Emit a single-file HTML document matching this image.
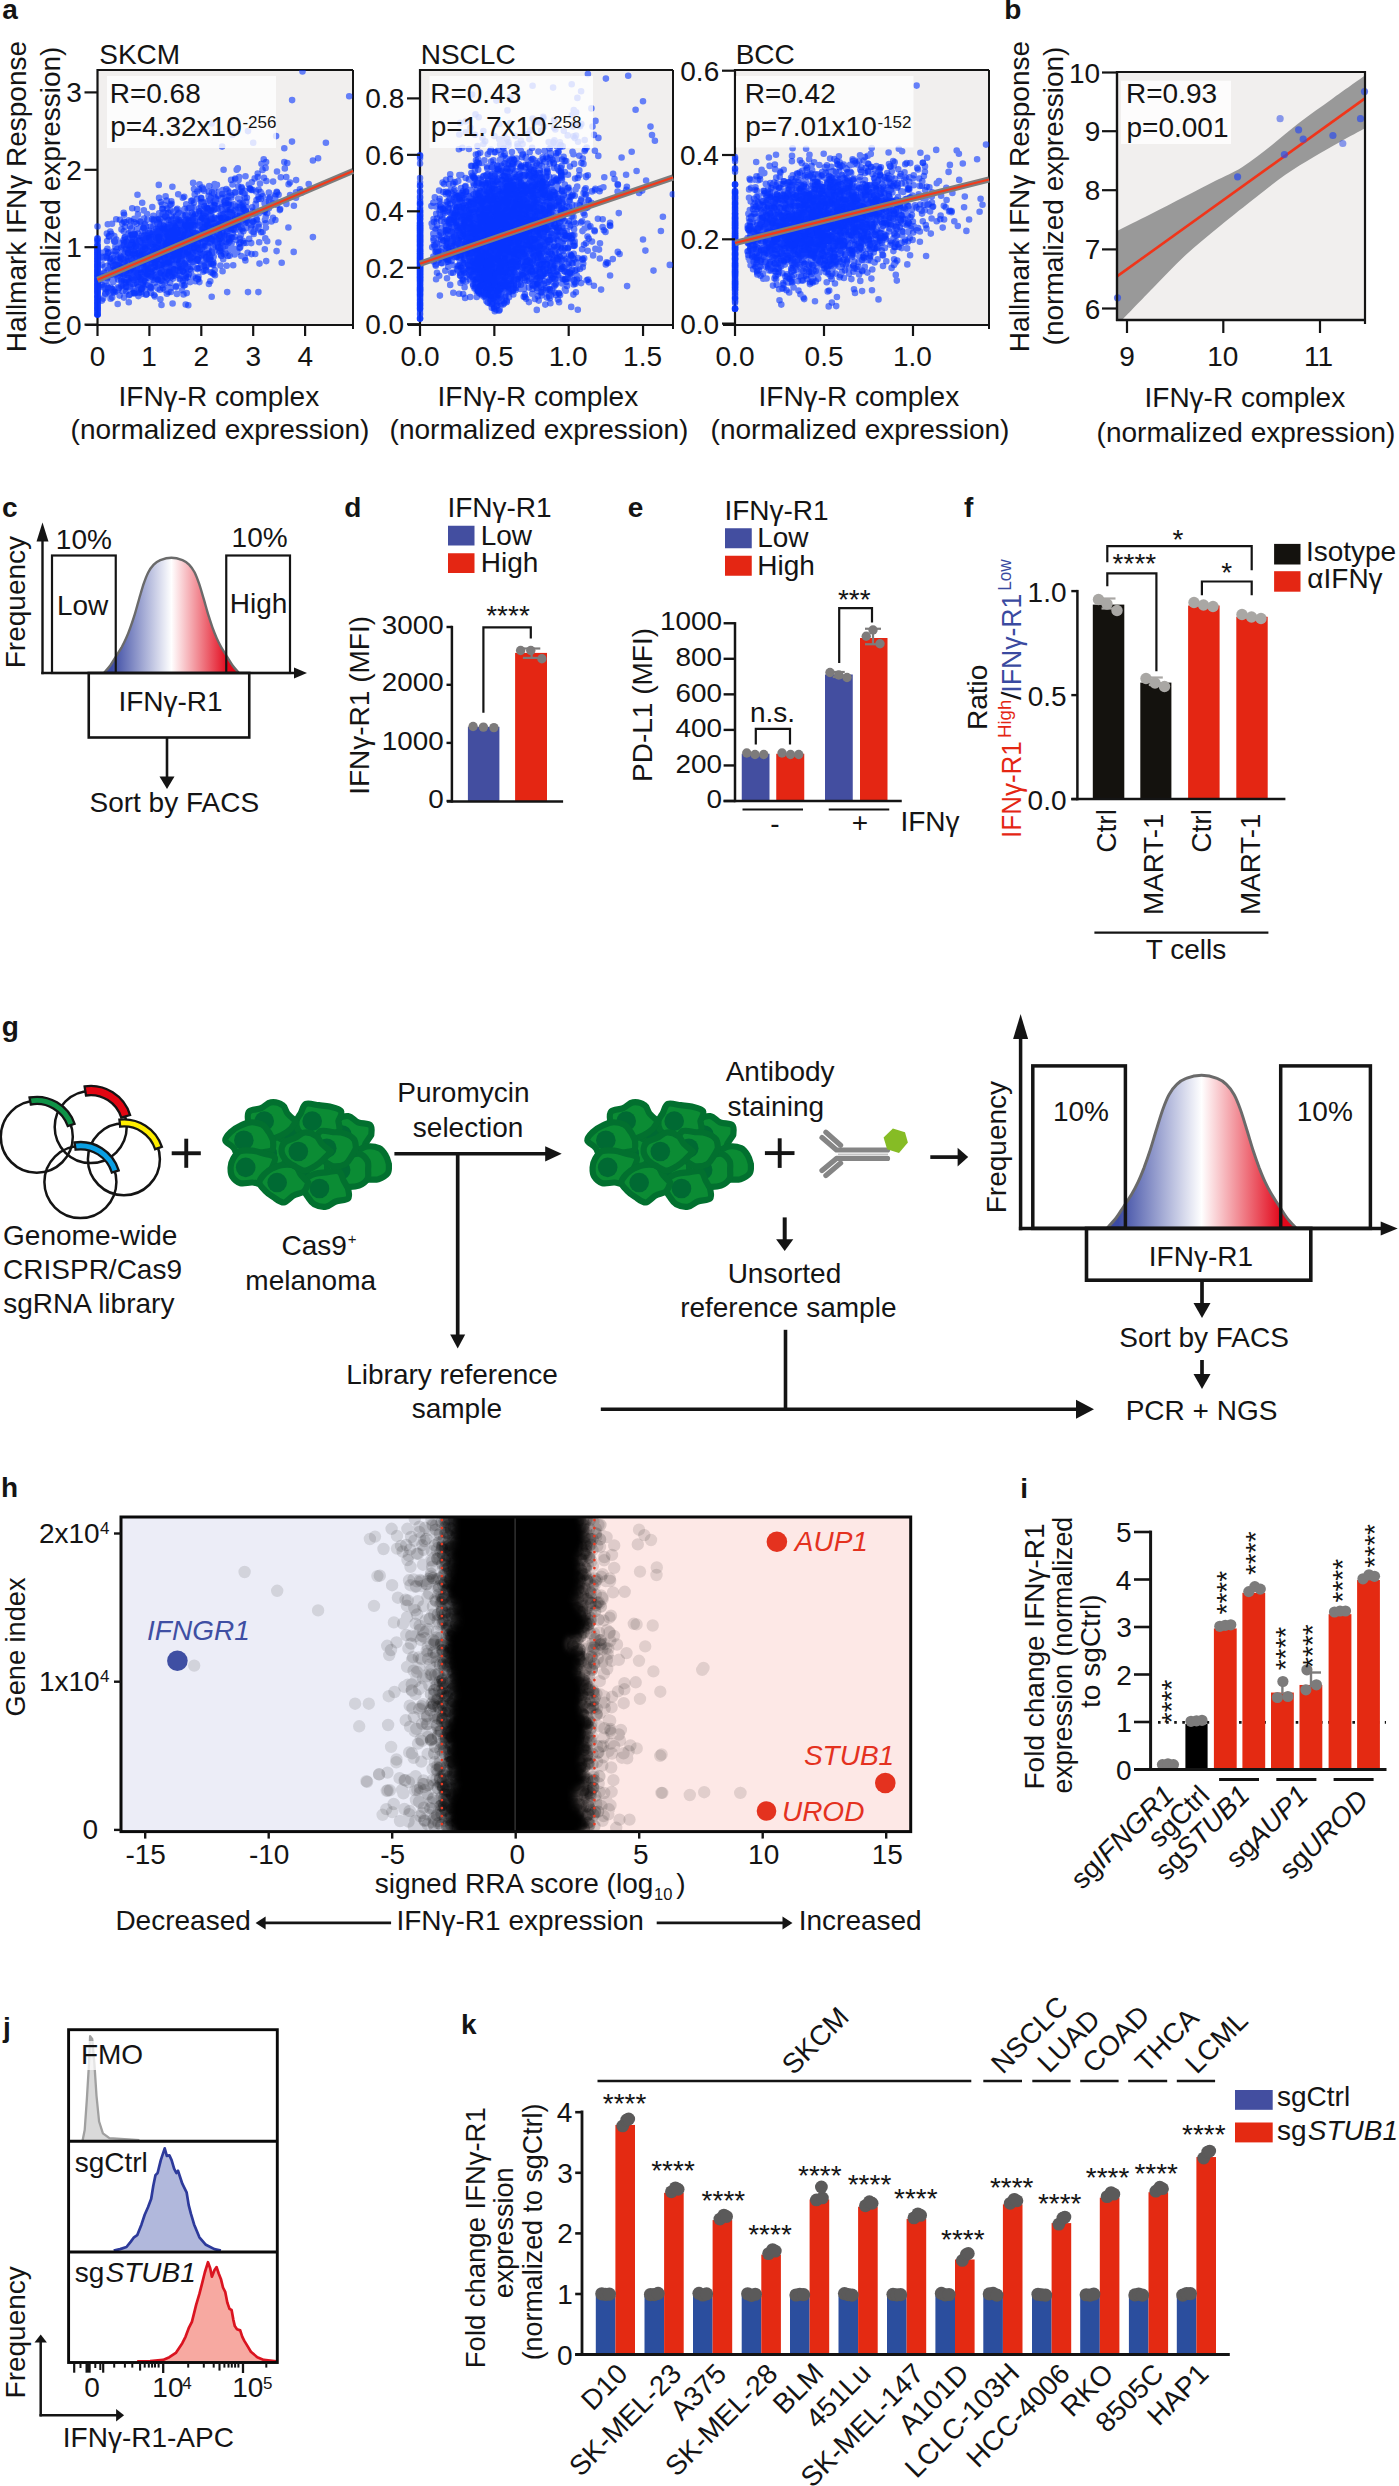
<!DOCTYPE html>
<html><head><meta charset="utf-8"><title>figure</title>
<style>html,body{margin:0;padding:0;background:#fff}svg{display:block}text{font-family:"Liberation Sans",sans-serif}</style>
</head><body>
<svg width="1399" height="2486" viewBox="0 0 1399 2486" font-family="Liberation Sans, sans-serif">
<rect width="1399" height="2486" fill="#fff"/>
<text x="2.18" y="19.00" font-size="28" fill="#141414" font-weight="bold">a</text>
<text transform="translate(25.50,196.00) rotate(-90)" x="-156.13" y="0" font-size="28" fill="#141414">Hallmark IFNγ Response</text>
<text transform="translate(59.50,196.00) rotate(-90)" x="-149.39" y="0" font-size="28" fill="#141414">(normalized expression)</text>
<rect x="97.50" y="70.00" width="255.50" height="255.00" fill="#f1efee"/>
<clipPath id="ca1"><rect x="94.0" y="70" width="260.5" height="255"/></clipPath>
<line x1="97.50" y1="70.00" x2="353.00" y2="70.00" stroke="#141414" stroke-width="2"/>
<line x1="353.00" y1="70.00" x2="353.00" y2="329.00" stroke="#141414" stroke-width="2"/>
<line x1="97.50" y1="69.00" x2="97.50" y2="326.00" stroke="#141414" stroke-width="2.2"/>
<line x1="85.50" y1="325.00" x2="354.00" y2="325.00" stroke="#141414" stroke-width="2.2"/>
<g clip-path="url(#ca1)">
<path d="M175.4 227.4h0M131.1 271.5h0M197.2 247.3h0M154.9 261.7h0M182.3 242.2h0M107.1 256.5h0M139.3 266.0h0M180.3 251.2h0M213.7 256.6h0M178.7 250.3h0M205.1 213.8h0M122.4 247.1h0M116.3 239.6h0M231.5 205.3h0M243.4 220.0h0M166.5 254.8h0M204.5 226.3h0M175.1 230.7h0M135.2 246.4h0M184.5 256.7h0M198.6 257.8h0M186.9 228.6h0M170.1 244.5h0M137.6 262.0h0M239.7 202.8h0M224.4 201.4h0M118.3 264.9h0M144.4 256.6h0M162.0 248.5h0M128.3 255.6h0M147.1 274.2h0M195.6 237.8h0M235.0 218.9h0M152.7 254.2h0M227.9 219.4h0M217.7 219.0h0M212.4 272.7h0M213.8 247.1h0M124.2 274.9h0M186.9 231.0h0M107.8 224.3h0M172.6 258.5h0M135.8 269.0h0M265.7 217.0h0M110.6 262.0h0M162.4 228.1h0M234.9 236.7h0M182.4 248.2h0M200.0 237.8h0M224.2 225.1h0M252.2 207.2h0M186.5 219.1h0M167.4 249.2h0M150.6 247.2h0M205.2 240.7h0M177.8 239.2h0M147.0 253.9h0M125.8 242.7h0M165.5 231.5h0M214.8 223.6h0M148.5 257.4h0M265.3 238.4h0M119.7 286.8h0M243.4 209.2h0M148.9 230.6h0M133.3 252.0h0M184.9 227.0h0M171.6 230.8h0M192.7 218.8h0M158.8 240.4h0M140.6 244.5h0M180.5 265.6h0M154.2 282.4h0M117.3 276.6h0M220.1 230.4h0M221.3 223.8h0M196.1 246.5h0M162.2 208.7h0M146.5 253.8h0M223.2 216.6h0M173.1 254.7h0M117.8 276.4h0M146.3 269.4h0M140.5 292.2h0M168.4 236.2h0M177.7 254.8h0M127.1 267.5h0M142.2 258.1h0M201.4 202.4h0M258.4 197.0h0M177.6 265.8h0M115.8 247.5h0M159.5 257.4h0M127.2 247.1h0M212.0 207.7h0M171.2 277.1h0M258.7 224.2h0M142.2 202.7h0M186.5 274.6h0M150.9 271.8h0M115.4 246.5h0M168.3 274.9h0M150.7 263.9h0M169.0 252.5h0M188.0 234.1h0M194.6 225.5h0M220.4 265.6h0M192.2 224.9h0M158.8 236.9h0M164.6 245.4h0M180.3 278.4h0M223.2 259.2h0M102.2 256.7h0M148.6 262.0h0M148.5 231.8h0M205.8 230.4h0M210.5 230.9h0M168.2 235.8h0M240.9 221.5h0M222.0 242.6h0M107.4 248.8h0M221.3 207.3h0M184.5 242.4h0M178.6 237.1h0M229.4 209.5h0M243.8 243.1h0M138.3 286.7h0M169.0 240.3h0M135.6 256.0h0M159.6 257.9h0M158.5 257.6h0M267.2 241.3h0M205.3 211.2h0M205.9 216.9h0M160.1 280.8h0M160.1 261.6h0M176.4 244.0h0M190.6 226.7h0M172.1 260.3h0M263.7 210.2h0M172.8 246.3h0M171.6 203.8h0M199.1 189.5h0M187.4 229.8h0M152.1 251.0h0M202.4 246.5h0M145.6 236.6h0M146.4 246.7h0M141.6 288.1h0M170.4 232.7h0M230.5 209.0h0M163.8 221.5h0M121.3 267.3h0M146.7 284.3h0M290.1 195.1h0M124.1 214.7h0M154.1 283.0h0M154.6 246.9h0M203.5 231.7h0M185.2 224.7h0M168.3 220.1h0M189.9 259.4h0M180.2 247.1h0M214.1 193.6h0M255.1 212.9h0M155.8 237.7h0M124.4 247.1h0M205.0 237.7h0M278.6 194.8h0M179.9 229.9h0M238.2 205.3h0M176.9 237.3h0M182.0 264.0h0M166.9 234.8h0M126.2 291.4h0M216.9 222.8h0M146.6 294.3h0M178.3 263.3h0M184.9 250.4h0M138.5 270.0h0M132.1 264.3h0M195.7 251.4h0M129.2 251.6h0M134.7 275.3h0M221.0 255.1h0M201.0 205.9h0M179.0 212.8h0M138.5 276.7h0M191.9 246.0h0M194.8 251.3h0M191.9 239.6h0M111.4 274.7h0M204.4 233.6h0M200.7 249.1h0M164.4 248.9h0M214.7 250.7h0M180.7 234.5h0M157.3 250.8h0M213.9 204.8h0M208.8 226.1h0M124.0 221.5h0M170.5 237.8h0M165.2 264.2h0M175.3 264.2h0M146.7 237.4h0M278.4 242.5h0M185.2 238.3h0M208.6 234.6h0M135.4 254.6h0M191.2 254.0h0M127.0 274.3h0M145.1 281.2h0M142.7 238.3h0M141.3 235.7h0M284.8 168.4h0M148.0 285.0h0M179.6 249.6h0M194.9 239.6h0M134.0 253.9h0M176.8 245.1h0M247.6 252.7h0M172.6 257.2h0M185.5 278.4h0M227.7 236.0h0M212.2 250.0h0M135.6 269.4h0M166.9 293.8h0M253.5 232.0h0M233.6 210.4h0M145.2 250.5h0M229.5 255.8h0M169.5 271.8h0M134.0 248.9h0M222.8 221.3h0M184.2 238.5h0M155.2 279.8h0M210.6 232.7h0M147.1 250.0h0M237.1 216.2h0M231.9 237.0h0M201.3 238.5h0M182.7 214.7h0M137.5 194.8h0M170.8 238.2h0M173.9 252.0h0M212.8 259.5h0M203.1 214.1h0M188.2 252.7h0M176.6 220.7h0M207.4 236.7h0M120.2 258.2h0M192.6 213.9h0M118.8 274.6h0M264.9 220.0h0M160.8 250.0h0M189.0 245.0h0M146.6 237.6h0M149.8 261.9h0M125.0 250.3h0M203.3 202.9h0M134.7 254.1h0M121.7 285.0h0M170.5 210.4h0M140.5 246.1h0M116.4 265.6h0M135.3 241.1h0M196.9 257.3h0M188.3 256.3h0M111.9 259.8h0M112.0 223.7h0M213.4 265.1h0M146.1 265.1h0M165.8 244.1h0M185.3 265.5h0M186.9 230.9h0M172.6 303.5h0M209.0 235.9h0M170.9 262.3h0M167.7 262.8h0M156.3 265.0h0M248.8 184.5h0M164.3 246.8h0M251.1 189.9h0M194.0 244.1h0M196.0 252.7h0M159.0 267.2h0M308.7 184.0h0M121.2 242.8h0M180.6 255.2h0M117.9 289.9h0M155.0 257.7h0M180.7 214.8h0M231.8 237.4h0M148.8 235.8h0M208.7 237.2h0M115.6 290.5h0M205.2 241.4h0M208.9 254.9h0M167.4 242.3h0M180.0 238.9h0M235.2 225.0h0M161.7 271.0h0M125.6 283.1h0M181.0 252.4h0M190.1 269.0h0M214.7 184.0h0M183.9 285.4h0M157.1 238.5h0M183.8 233.5h0M202.4 218.2h0M158.1 276.2h0M118.6 243.3h0M149.7 233.4h0M243.3 231.2h0M117.8 287.2h0M197.5 238.8h0M114.2 241.5h0M131.0 277.9h0M153.7 264.0h0M222.3 218.9h0M239.6 247.9h0M210.1 226.2h0M204.3 205.3h0M214.2 222.8h0M147.7 250.3h0M129.7 255.5h0M224.8 218.3h0M113.6 257.8h0M178.7 252.3h0M191.9 212.8h0M181.6 236.4h0M180.2 214.2h0M215.4 240.8h0M216.9 184.9h0M113.0 263.3h0M208.9 258.9h0M106.8 280.6h0M238.3 205.2h0M141.3 254.8h0M275.4 220.0h0M225.7 203.2h0M176.0 215.7h0M163.2 281.2h0M146.3 249.9h0M222.8 233.6h0M220.9 233.9h0M213.1 240.5h0M185.4 250.8h0M219.3 236.1h0M143.5 227.8h0M130.6 238.5h0M202.3 204.3h0M202.1 228.7h0M187.2 238.8h0M164.6 282.9h0M180.9 250.1h0M152.9 261.8h0M264.8 249.2h0M189.8 226.9h0M174.5 236.9h0M160.6 254.1h0M159.9 272.9h0M158.1 237.3h0M197.3 260.8h0M179.8 267.1h0M201.9 248.5h0M126.6 259.8h0M122.7 281.0h0M118.2 272.5h0M203.4 233.6h0M253.3 221.9h0M196.7 257.9h0M118.1 279.6h0M145.4 268.9h0M190.6 235.3h0M153.1 248.4h0M172.2 255.2h0M233.8 229.1h0M251.8 182.2h0M175.4 244.6h0M124.1 261.0h0M182.3 259.5h0M179.9 259.8h0M155.2 282.5h0M197.0 249.6h0M164.0 225.9h0M145.7 281.8h0M178.1 265.2h0M258.9 213.3h0M123.7 255.6h0M222.3 194.1h0M268.9 208.3h0M160.2 269.5h0M221.7 220.9h0M134.5 239.1h0M171.2 239.3h0M188.2 270.2h0M209.4 231.2h0M177.1 235.3h0M178.7 213.7h0M131.3 239.7h0M207.2 221.8h0M226.5 200.8h0M196.2 247.5h0M255.4 228.6h0M158.3 237.9h0M187.5 224.8h0M151.1 288.3h0M135.5 277.8h0M102.8 276.4h0M147.6 257.8h0M214.4 188.5h0M290.0 182.6h0M163.0 288.1h0M190.1 250.8h0M194.0 189.1h0M220.6 230.3h0M139.5 253.1h0M143.2 269.5h0M228.9 240.5h0M222.9 211.2h0M204.2 218.2h0M158.6 248.9h0M104.1 280.8h0M152.3 207.0h0M161.1 252.6h0M175.1 255.5h0M157.4 259.7h0M156.8 267.0h0M183.3 266.4h0M349.2 96.3h0M284.3 162.1h0M248.0 131.1h0M258.4 292.1h0M211.7 296.7h0" stroke="#0634ff" stroke-width="6.6" stroke-linecap="round" fill="none" opacity="0.6"/>
<path d="M188.7 254.6h0M178.0 259.8h0M180.1 240.9h0M117.8 272.1h0M167.0 228.4h0M154.0 248.9h0M173.9 251.6h0M178.2 194.3h0M180.7 234.1h0M201.1 264.5h0M239.6 230.1h0M149.5 243.0h0M139.9 282.3h0M206.1 257.0h0M156.2 242.1h0M125.6 268.3h0M174.3 253.6h0M201.4 225.0h0M182.7 246.8h0M197.4 236.1h0M129.2 260.9h0M137.1 209.1h0M124.9 237.3h0M210.1 258.5h0M172.4 240.4h0M151.1 257.6h0M231.5 237.5h0M160.8 251.0h0M113.8 236.0h0M190.4 229.7h0M208.2 233.0h0M151.3 247.1h0M152.7 266.8h0M203.5 218.1h0M205.7 231.1h0M218.5 208.2h0M216.5 199.4h0M197.4 191.5h0M211.8 251.5h0M177.3 208.9h0M167.9 238.9h0M193.5 222.3h0M184.1 254.0h0M113.2 282.1h0M154.8 241.0h0M226.9 213.5h0M177.5 224.6h0M177.5 250.5h0M185.0 208.7h0M118.6 261.0h0M240.5 242.4h0M172.6 228.9h0M228.4 202.7h0M158.0 280.2h0M180.3 275.7h0M242.8 203.5h0M246.9 197.8h0M172.4 238.4h0M180.2 269.0h0M141.0 258.7h0M183.9 232.2h0M163.8 244.7h0M125.9 248.9h0M186.9 225.0h0M114.9 292.0h0M137.2 256.3h0M188.6 228.7h0M197.8 259.9h0M112.5 258.5h0M145.1 263.9h0M123.1 285.8h0M124.0 280.5h0M198.3 225.6h0M110.9 258.2h0M140.4 251.7h0M184.7 251.2h0M235.5 209.6h0M125.1 289.1h0M182.7 227.6h0M190.4 226.0h0M151.4 276.5h0M173.2 269.5h0M131.7 235.0h0M192.6 262.1h0M202.3 228.8h0M218.1 246.7h0M172.7 259.8h0M124.9 226.8h0M141.6 276.4h0M161.1 249.9h0M260.5 192.1h0M208.7 220.6h0M237.4 251.9h0M162.6 229.5h0M157.4 266.2h0M125.3 287.3h0M169.2 244.3h0M172.7 228.9h0M167.2 263.7h0M185.8 268.6h0M147.8 269.7h0M156.4 237.4h0M179.4 250.9h0M155.7 260.1h0M192.5 237.4h0M184.6 263.4h0M185.8 226.2h0M108.7 236.0h0M187.4 236.5h0M119.1 260.3h0M219.8 239.0h0M193.1 182.9h0M201.3 238.5h0M136.8 240.3h0M174.7 238.0h0M251.3 227.6h0M151.3 237.1h0M173.2 226.1h0M132.2 255.0h0M108.0 287.9h0M221.7 233.4h0M164.6 274.8h0M144.0 257.8h0M159.7 243.8h0M275.3 199.5h0M169.8 225.1h0M101.9 300.6h0M184.8 248.4h0M159.2 252.7h0M165.5 266.4h0M288.4 227.5h0M164.9 243.5h0M152.7 271.0h0M203.8 233.3h0M191.8 221.6h0M229.7 192.6h0M135.5 246.6h0M107.9 270.1h0M151.3 269.0h0M234.3 248.9h0M172.3 240.9h0M158.7 250.6h0M207.0 239.3h0M180.8 229.3h0M241.9 188.3h0M237.6 226.4h0M199.4 234.5h0M191.9 248.3h0M134.3 222.3h0M191.3 236.2h0M194.3 215.7h0M184.6 226.0h0M162.8 264.9h0M200.0 249.7h0M130.4 270.3h0M153.7 269.9h0M110.8 270.1h0M211.0 229.2h0M149.5 246.4h0M227.1 213.6h0M286.3 177.0h0M229.4 212.0h0M234.1 225.0h0M268.9 192.5h0M134.0 280.3h0M189.1 221.5h0M174.4 260.2h0M127.6 279.7h0M265.6 167.9h0M244.4 207.2h0M183.7 234.1h0M197.1 198.8h0M178.4 241.3h0M228.4 218.8h0M231.6 243.6h0M228.6 247.3h0M191.2 235.8h0M176.7 274.8h0M214.9 202.9h0M211.4 212.9h0M205.0 233.9h0M204.5 206.4h0M218.1 226.4h0M134.6 234.4h0M169.0 270.8h0M222.6 219.1h0M135.2 255.3h0M191.4 261.5h0M254.7 178.4h0M178.1 252.7h0M142.9 262.5h0M127.8 262.8h0M114.1 291.9h0M253.7 233.9h0M212.5 231.3h0M159.7 253.6h0M284.3 148.3h0M220.2 251.1h0M158.7 230.7h0M147.2 265.2h0M214.1 236.6h0M103.9 273.6h0M182.8 230.5h0M143.5 245.6h0M210.7 272.2h0M110.1 293.6h0M166.1 260.1h0M157.6 232.7h0M167.3 208.5h0M178.0 213.1h0M235.2 178.5h0M182.5 255.4h0M173.6 252.7h0M254.7 212.1h0M233.2 265.2h0M128.1 264.8h0M279.8 210.1h0M222.1 197.7h0M199.3 211.9h0M197.8 244.0h0M160.3 235.1h0M175.1 236.8h0M203.9 223.6h0M226.1 216.1h0M114.4 270.7h0M174.4 252.6h0M138.3 254.6h0M173.9 229.5h0M185.5 243.7h0M160.3 225.2h0M228.3 200.0h0M189.4 237.3h0M239.8 212.8h0M190.6 243.9h0M228.6 242.7h0M120.3 275.1h0M153.6 260.6h0M190.1 223.2h0M173.0 231.8h0M190.0 244.1h0M237.8 168.3h0M109.0 276.4h0M230.3 220.1h0M166.4 232.5h0M247.2 220.4h0M172.8 244.9h0M183.5 294.4h0M186.9 237.1h0M165.5 276.9h0M231.8 214.0h0M165.9 262.9h0M141.4 240.2h0M153.5 252.2h0M108.5 292.2h0M251.6 231.1h0M114.1 239.7h0M203.1 189.1h0M162.7 256.0h0M218.1 236.8h0M143.4 246.0h0M240.9 235.1h0M167.4 271.8h0M261.5 193.9h0M160.3 219.1h0M180.6 221.6h0M124.0 289.1h0M143.4 240.7h0M187.8 238.2h0M168.9 264.3h0M139.1 292.9h0M159.8 239.7h0M293.7 251.9h0M179.9 272.0h0M228.9 230.7h0M119.4 260.9h0M128.7 278.1h0M204.5 246.4h0M221.2 213.7h0M137.1 253.6h0M208.5 234.3h0M198.0 242.0h0M207.4 230.1h0M194.1 248.0h0M144.5 254.6h0M110.6 298.7h0M171.3 241.7h0M220.9 234.7h0M182.8 197.7h0M155.0 256.9h0M206.0 269.2h0M245.9 210.4h0M246.1 206.8h0M218.5 228.8h0M264.0 177.7h0M204.8 225.7h0M212.0 219.1h0M176.3 254.8h0M194.1 202.6h0M162.4 285.0h0M123.2 291.0h0M143.6 246.5h0M185.5 278.4h0M136.2 243.1h0M193.7 241.6h0M146.2 238.0h0M137.9 259.5h0M128.7 264.1h0M151.7 271.9h0M267.2 213.3h0M110.9 277.3h0M155.8 233.7h0M133.8 262.9h0M138.1 262.7h0M213.0 210.2h0M157.1 259.5h0M112.0 288.8h0M130.4 262.8h0M140.0 256.2h0M140.4 281.2h0M181.3 246.5h0M182.7 240.9h0M204.3 265.4h0M141.3 248.9h0M206.2 231.7h0M275.4 196.0h0M228.5 227.0h0M212.0 253.5h0M112.1 259.3h0M146.8 254.9h0M236.7 169.8h0M126.1 286.4h0M226.7 265.7h0M195.7 240.8h0M127.8 252.5h0M116.2 254.6h0M122.6 291.2h0M257.7 173.5h0M155.0 236.5h0M159.2 218.8h0M191.5 225.9h0M229.2 225.1h0M131.7 254.4h0M189.1 220.8h0M114.3 236.0h0M221.4 215.8h0M189.2 238.0h0M207.3 207.8h0M219.5 225.7h0M171.3 273.1h0M161.2 240.7h0M191.1 257.1h0M188.9 246.4h0M199.5 184.3h0M220.7 223.8h0M172.6 235.8h0M168.5 226.0h0M173.0 278.6h0M234.7 254.4h0M171.5 247.2h0M269.1 202.2h0M172.8 258.7h0M181.5 254.3h0M199.0 217.0h0M132.9 293.1h0M168.1 267.9h0M188.2 266.5h0M140.5 221.7h0M146.9 274.9h0M121.3 267.2h0M211.6 227.7h0M204.4 270.4h0M257.0 220.0h0M186.5 231.6h0M180.4 231.3h0M168.0 237.6h0M113.8 280.6h0M207.4 259.2h0M224.5 229.4h0M188.6 227.1h0M194.2 233.2h0M114.9 241.6h0M154.1 243.2h0M128.9 295.3h0M249.8 188.3h0M240.4 218.9h0M113.8 264.8h0M175.6 237.4h0M180.3 238.0h0M115.5 264.7h0M221.9 236.1h0M190.3 223.2h0M142.8 284.5h0M174.8 246.7h0M198.5 276.7h0M229.5 250.0h0M141.2 246.2h0M219.6 215.7h0M182.2 210.6h0M110.4 265.4h0M164.1 252.8h0M245.5 176.3h0M133.5 257.2h0M117.7 276.3h0M243.1 216.4h0M232.6 229.6h0M144.7 243.5h0M164.3 255.6h0M175.6 233.8h0M182.5 237.6h0M112.2 254.9h0M179.4 252.5h0M129.6 247.3h0M130.9 244.8h0M165.0 257.9h0M149.5 274.1h0M206.3 226.0h0M170.1 228.9h0M169.5 228.3h0M259.5 263.6h0M269.2 198.9h0M134.7 279.5h0M208.8 264.5h0M141.1 272.8h0M240.2 191.7h0M171.9 245.8h0M127.9 258.8h0M161.9 246.6h0M208.8 191.7h0M183.0 249.4h0M234.9 192.5h0M292.1 100.1h0M299.9 189.2h0M253.2 142.7h0M281.7 262.7h0M227.2 292.1h0" stroke="#0634ff" stroke-width="6.6" stroke-linecap="round" fill="none" opacity="0.6"/>
<path d="M163.1 226.5h0M235.2 215.5h0M174.0 240.3h0M164.9 261.6h0M151.3 253.6h0M131.7 277.5h0M214.8 197.4h0M120.7 259.8h0M146.7 248.8h0M166.9 229.6h0M145.2 275.9h0M166.6 236.3h0M204.2 242.2h0M160.7 247.4h0M161.8 258.9h0M174.8 254.3h0M205.2 263.4h0M117.7 304.0h0M275.5 194.3h0M167.5 236.0h0M171.8 239.1h0M218.7 232.8h0M191.5 243.3h0M181.2 247.1h0M163.1 225.2h0M173.1 240.4h0M168.5 291.9h0M150.3 290.6h0M139.3 220.9h0M238.2 198.6h0M174.3 275.8h0M169.0 287.2h0M188.4 219.8h0M161.9 260.5h0M192.4 226.7h0M169.1 245.1h0M155.0 251.2h0M214.3 217.9h0M174.8 243.7h0M164.4 289.6h0M132.0 267.2h0M131.2 274.3h0M140.4 252.6h0M215.0 226.6h0M208.5 253.5h0M174.4 244.9h0M123.0 251.9h0M173.0 243.3h0M128.8 233.2h0M169.2 229.0h0M154.7 226.3h0M179.1 226.5h0M190.3 254.1h0M245.4 219.0h0M185.0 264.1h0M200.2 221.0h0M198.0 248.8h0M214.3 241.1h0M104.2 272.6h0M201.1 242.6h0M175.3 239.0h0M166.3 239.2h0M232.5 238.4h0M200.1 222.6h0M177.2 273.3h0M152.8 250.9h0M162.0 242.6h0M258.9 198.8h0M213.5 262.6h0M203.8 215.8h0M172.8 259.4h0M225.0 228.2h0M169.5 246.1h0M210.8 260.1h0M183.2 280.8h0M121.2 247.9h0M202.0 254.4h0M288.6 184.2h0M158.3 227.3h0M128.8 302.3h0M138.4 296.1h0M214.8 239.2h0M213.4 219.0h0M165.2 259.3h0M173.2 241.2h0M134.9 275.7h0M224.7 213.5h0M192.3 251.9h0M194.7 194.4h0M186.2 244.0h0M129.0 249.8h0M212.0 192.4h0M198.9 211.3h0M108.1 252.7h0M136.5 277.1h0M172.4 249.0h0M141.1 279.6h0M128.8 282.1h0M142.9 274.1h0M175.2 269.6h0M162.2 228.2h0M158.7 222.6h0M121.6 281.6h0M200.0 222.8h0M146.2 226.3h0M107.8 287.0h0M105.8 291.8h0M117.5 261.9h0M253.4 221.5h0M144.4 268.7h0M140.9 226.9h0M161.5 305.0h0M172.9 238.4h0M160.4 258.9h0M209.1 262.3h0M226.0 203.2h0M173.6 257.0h0M184.2 196.7h0M167.0 249.0h0M134.5 233.5h0M197.4 241.4h0M224.3 236.1h0M205.5 267.3h0M216.2 227.9h0M264.6 211.1h0M131.8 252.6h0M111.2 233.8h0M203.0 271.8h0M129.6 269.5h0M206.6 257.5h0M218.0 236.9h0M159.0 239.3h0M261.2 232.3h0M166.7 229.0h0M142.3 288.1h0M186.7 293.1h0M121.5 229.4h0M188.6 225.4h0M148.0 259.4h0M206.9 208.4h0M162.4 246.8h0M277.1 192.6h0M125.6 222.4h0M244.7 190.7h0M145.4 278.6h0M105.1 294.7h0M134.3 218.8h0M246.2 218.1h0M121.0 273.2h0M180.1 266.8h0M192.8 214.4h0M114.7 268.5h0M171.3 201.2h0M143.0 243.5h0M154.6 276.9h0M174.0 248.3h0M156.9 245.5h0M200.2 239.7h0M123.2 273.8h0M154.0 220.6h0M209.6 243.1h0M153.5 232.7h0M189.5 253.7h0M209.8 219.0h0M170.4 227.0h0M162.9 245.3h0M214.5 218.0h0M183.5 271.8h0M165.6 196.4h0M116.5 259.8h0M145.3 231.4h0M152.1 244.0h0M221.6 219.8h0M113.4 291.1h0M171.0 247.0h0M156.3 266.7h0M173.9 231.9h0M150.1 268.9h0M229.0 228.9h0M161.1 267.1h0M210.6 238.5h0M171.9 216.5h0M165.1 216.6h0M105.4 276.1h0M222.1 237.8h0M160.1 273.0h0M221.2 215.2h0M192.8 229.7h0M218.2 246.8h0M177.6 232.8h0M143.4 265.6h0M132.2 242.2h0M188.7 256.6h0M184.0 236.2h0M173.4 223.3h0M140.0 242.1h0M226.5 241.9h0M138.7 251.9h0M125.5 257.5h0M196.8 233.7h0M227.0 214.6h0M241.0 221.7h0M187.5 237.0h0M181.3 247.1h0M190.9 231.5h0M188.8 274.3h0M151.2 292.9h0M155.7 260.8h0M221.9 217.6h0M169.7 270.6h0M176.9 293.9h0M143.3 249.4h0M222.6 271.3h0M189.6 246.7h0M181.6 261.9h0M177.7 246.2h0M137.4 254.0h0M153.5 246.3h0M177.4 233.4h0M148.9 237.6h0M185.1 223.9h0M171.7 237.7h0M215.4 226.6h0M237.4 226.8h0M184.7 239.8h0M215.0 275.2h0M193.3 224.9h0M136.9 267.7h0M204.5 233.2h0M188.1 217.1h0M236.1 206.3h0M158.2 250.0h0M205.1 254.1h0M145.2 272.2h0M153.7 267.1h0M186.0 215.2h0M134.2 291.5h0M171.2 231.9h0M169.7 237.7h0M148.6 276.0h0M194.0 244.1h0M122.7 254.3h0M201.5 245.1h0M179.2 240.3h0M186.9 252.0h0M209.9 227.6h0M141.6 294.0h0M112.3 289.3h0M103.1 298.6h0M199.5 260.9h0M187.8 228.8h0M117.8 258.5h0M102.4 287.1h0M145.0 227.3h0M160.2 230.6h0M131.4 271.5h0M200.9 197.9h0M208.9 284.0h0M230.4 209.7h0M301.6 192.6h0M246.3 228.1h0M179.5 220.5h0M233.3 204.0h0M216.0 198.5h0M248.2 213.6h0M120.2 257.5h0M206.8 264.9h0M202.5 243.4h0M132.6 284.0h0M133.2 247.2h0M240.7 227.2h0M245.8 210.7h0M109.1 236.8h0M178.9 254.8h0M234.6 230.3h0M159.8 252.7h0M149.6 241.8h0M293.9 205.8h0M134.9 254.2h0M157.5 279.5h0M255.2 254.0h0M296.1 180.1h0M209.5 240.2h0M147.2 245.5h0M265.8 202.0h0M200.4 222.6h0M192.2 236.8h0M242.4 191.4h0M246.3 201.9h0M170.5 268.1h0M124.1 242.3h0M190.2 238.5h0M175.4 232.1h0M175.7 228.6h0M169.1 253.9h0M153.4 215.7h0M273.0 217.9h0M136.1 282.7h0M155.2 245.8h0M204.4 242.6h0M151.9 269.2h0M223.5 215.9h0M136.9 275.5h0M142.0 276.5h0M172.4 273.9h0M165.8 243.8h0M138.0 214.4h0M150.2 255.1h0M184.9 234.2h0M172.3 231.2h0M164.0 272.0h0M188.3 241.5h0M172.7 275.3h0M155.1 245.9h0M160.8 202.0h0M145.9 285.1h0M174.8 223.2h0M134.3 246.6h0M190.5 242.0h0M230.2 210.4h0M179.2 261.1h0M190.9 244.6h0M179.4 243.6h0M164.8 252.6h0M138.3 272.0h0M252.3 220.9h0M227.0 220.5h0M219.1 224.0h0M211.0 210.8h0M153.3 226.2h0M158.4 236.8h0M207.0 225.3h0M221.3 203.7h0M221.1 225.8h0M123.7 212.9h0M127.8 272.9h0M136.9 229.3h0M220.3 248.2h0M260.0 183.5h0M138.9 278.5h0M149.8 286.3h0M200.7 220.0h0M120.5 273.2h0M191.4 237.1h0M245.0 223.7h0M225.5 253.4h0M197.8 278.8h0M152.5 256.2h0M164.3 275.6h0M271.5 221.5h0M205.3 216.2h0M129.7 294.6h0M155.8 275.0h0M238.3 186.4h0M171.5 256.1h0M163.0 253.8h0M150.1 234.9h0M195.4 281.3h0M188.9 236.4h0M206.3 239.8h0M216.6 237.5h0M170.8 288.0h0M243.0 206.5h0M168.8 271.0h0M191.9 233.8h0M168.5 258.4h0M244.4 227.9h0M153.1 277.5h0M216.2 201.2h0M160.3 236.6h0M126.1 266.9h0M236.6 240.1h0M182.1 266.2h0M119.3 265.7h0M135.7 246.5h0M140.3 252.6h0M158.5 254.1h0M185.9 226.0h0M231.0 216.6h0M107.1 285.7h0M191.0 231.7h0M269.7 197.5h0M141.4 289.7h0M213.7 201.8h0M174.5 232.5h0M160.0 245.6h0M159.3 248.5h0M176.3 286.1h0M244.9 193.4h0M252.6 189.9h0M264.6 203.6h0M169.7 262.5h0M201.8 260.2h0M162.1 258.7h0M113.5 261.3h0M165.2 262.4h0M150.5 257.8h0M156.8 232.1h0M223.0 217.2h0M191.0 260.0h0M133.8 283.5h0M144.0 218.6h0M196.2 244.9h0M197.1 259.0h0M163.7 271.6h0M197.4 268.3h0M143.7 258.7h0M167.4 278.5h0M258.6 189.6h0M207.8 224.7h0M237.9 207.4h0M124.8 237.2h0M217.8 243.4h0M144.5 225.2h0M182.0 290.2h0M241.3 256.0h0M139.1 240.7h0M168.3 212.9h0M121.4 285.9h0M190.2 282.1h0M240.2 199.4h0M244.7 257.7h0M179.9 250.2h0M262.9 196.2h0M188.0 229.8h0M192.6 254.4h0M181.0 269.8h0M204.2 232.0h0M155.2 264.1h0M219.8 238.9h0M325.9 142.7h0M312.9 237.1h0M211.7 123.4h0M266.2 261.1h0M248.0 292.1h0" stroke="#0634ff" stroke-width="6.6" stroke-linecap="round" fill="none" opacity="0.6"/>
<path d="M135.6 266.3h0M153.4 250.5h0M206.4 208.0h0M118.8 288.2h0M173.2 249.4h0M139.2 276.5h0M149.3 233.1h0M178.7 232.0h0M264.6 212.0h0M205.8 207.8h0M154.7 266.1h0M215.5 223.4h0M154.7 219.7h0M158.9 256.8h0M191.1 220.3h0M155.6 236.2h0M160.2 232.3h0M190.8 258.1h0M138.2 269.6h0M166.2 247.8h0M176.9 249.6h0M184.0 234.2h0M213.1 233.4h0M106.8 257.7h0M168.2 226.5h0M139.9 256.1h0M218.5 240.7h0M175.7 230.3h0M249.2 238.9h0M110.5 287.5h0M178.5 265.5h0M125.9 282.3h0M173.8 246.7h0M168.6 224.2h0M150.2 234.3h0M199.5 208.4h0M243.0 240.8h0M259.2 242.2h0M212.8 236.3h0M177.1 219.6h0M102.0 252.8h0M146.0 294.8h0M191.2 270.8h0M171.4 223.0h0M171.7 241.6h0M144.5 255.5h0M133.4 275.1h0M177.1 259.9h0M198.2 240.6h0M175.0 238.9h0M209.8 238.9h0M127.3 244.7h0M175.1 252.4h0M218.4 243.8h0M164.1 212.5h0M172.7 271.7h0M178.4 268.0h0M157.8 243.8h0M164.8 252.7h0M243.4 207.7h0M131.0 241.1h0M128.7 220.2h0M134.9 293.2h0M262.5 169.9h0M241.4 187.0h0M188.4 253.8h0M173.6 223.7h0M201.8 187.8h0M206.9 221.0h0M276.1 136.1h0M167.5 270.5h0M222.8 245.7h0M158.0 230.7h0M166.8 200.6h0M192.9 253.8h0M133.8 284.3h0M235.3 179.6h0M167.5 273.4h0M219.3 243.0h0M153.0 220.4h0M161.8 279.2h0M107.1 241.0h0M152.2 253.8h0M141.7 263.8h0M126.9 286.6h0M173.6 251.4h0M107.3 278.3h0M139.3 235.7h0M132.0 260.8h0M174.0 218.5h0M105.8 251.4h0M132.4 289.3h0M127.3 275.1h0M131.7 279.9h0M157.8 219.6h0M173.6 232.7h0M172.4 247.1h0M202.4 254.3h0M133.0 244.3h0M114.5 272.1h0M179.4 243.2h0M131.8 259.0h0M185.9 220.0h0M195.9 253.6h0M163.8 228.3h0M199.4 282.1h0M217.4 247.6h0M147.0 238.4h0M246.5 216.7h0M194.3 252.4h0M208.0 245.6h0M191.5 207.9h0M189.1 257.9h0M215.4 224.4h0M169.8 263.5h0M189.3 253.7h0M215.8 238.3h0M235.3 192.4h0M166.5 217.9h0M190.4 232.0h0M197.4 245.2h0M134.7 277.7h0M187.0 241.8h0M147.1 214.0h0M178.2 223.4h0M180.6 222.5h0M205.1 227.0h0M160.4 299.2h0M225.9 217.5h0M104.1 286.6h0M170.4 204.7h0M229.4 212.2h0M251.7 225.3h0M194.7 235.0h0M160.6 257.5h0M225.0 205.3h0M152.9 279.3h0M170.5 255.8h0M174.0 270.0h0M145.2 273.4h0M179.5 255.2h0M172.2 268.3h0M166.1 237.6h0M145.1 248.6h0M151.7 268.2h0M208.8 236.2h0M158.8 184.9h0M166.4 244.9h0M194.8 221.5h0M203.5 213.1h0M193.6 237.6h0M248.3 223.1h0M143.3 253.7h0M173.6 229.7h0M137.9 233.5h0M131.7 244.9h0M182.0 244.1h0M171.8 234.8h0M139.5 289.7h0M217.2 225.9h0M153.0 258.2h0M162.9 208.8h0M211.6 220.7h0M186.7 244.7h0M195.9 236.8h0M180.7 238.2h0M132.2 208.2h0M128.0 240.0h0M208.4 249.5h0M222.5 225.4h0M187.7 220.8h0M215.5 245.8h0M154.9 296.5h0M228.5 195.7h0M117.3 248.8h0M193.5 256.0h0M151.4 258.1h0M156.3 228.7h0M201.6 202.0h0M258.2 229.4h0M208.2 200.8h0M221.2 218.3h0M135.7 290.4h0M174.2 223.8h0M176.2 266.0h0M164.5 252.0h0M157.5 260.8h0M156.6 250.8h0M145.8 276.7h0M162.6 214.0h0M165.6 228.0h0M246.4 214.9h0M161.1 273.0h0M180.9 231.5h0M253.1 210.5h0M163.5 272.3h0M125.9 266.9h0M144.5 255.7h0M106.2 267.7h0M258.7 226.8h0M142.0 263.9h0M125.9 286.8h0M165.8 226.0h0M185.2 236.6h0M145.0 289.1h0M287.3 163.0h0M165.9 256.0h0M121.7 267.5h0M191.7 233.9h0M161.6 269.9h0M141.9 251.5h0M226.3 189.1h0M204.3 202.2h0M175.5 254.3h0M191.2 200.9h0M133.1 264.8h0M169.9 264.2h0M138.7 262.7h0M130.0 226.5h0M164.2 238.8h0M158.6 279.0h0M168.8 260.1h0M153.2 235.1h0M168.8 234.9h0M151.7 261.4h0M219.5 228.8h0M164.3 265.0h0M110.3 231.6h0M231.6 212.5h0M203.9 266.0h0M204.9 217.6h0M216.0 245.5h0M185.1 285.0h0M155.0 238.5h0M124.7 262.9h0M194.3 232.8h0M183.3 253.6h0M301.4 191.6h0M207.6 220.9h0M151.4 234.0h0M222.7 248.6h0M111.2 270.0h0M251.9 222.7h0M183.2 271.6h0M134.9 277.3h0M224.8 237.0h0M185.2 249.8h0M239.2 177.1h0M214.8 205.5h0M131.4 247.3h0M214.8 242.9h0M178.1 230.4h0M183.5 227.6h0M216.1 246.1h0M123.7 231.2h0M199.2 267.8h0M161.4 255.8h0M245.9 211.2h0M219.2 252.0h0M207.0 211.6h0M244.7 213.5h0M131.1 258.5h0M173.3 265.0h0M119.9 219.8h0M141.8 260.4h0M240.3 247.1h0M160.4 260.4h0M157.3 246.1h0M179.9 242.8h0M208.7 210.0h0M107.8 265.5h0M129.3 283.9h0M144.9 235.1h0M280.2 209.1h0M133.3 235.6h0M152.4 234.4h0M134.9 271.4h0M213.0 264.1h0M130.6 238.6h0M166.5 213.4h0M210.9 197.7h0M120.7 256.9h0M232.5 184.4h0M168.8 249.3h0M228.2 205.3h0M194.2 247.6h0M170.2 283.0h0M166.3 234.3h0M133.8 279.0h0M175.1 273.8h0M126.7 239.1h0M134.9 252.8h0M177.6 251.7h0M123.4 240.3h0M144.7 268.5h0M192.6 235.9h0M206.0 234.9h0M178.7 248.4h0M159.1 197.9h0M119.6 295.6h0M224.6 234.5h0M137.4 270.2h0M189.2 207.8h0M181.3 238.1h0M133.5 280.7h0M226.1 237.5h0M152.0 262.8h0M168.0 227.9h0M240.0 216.3h0M164.5 233.6h0M165.2 258.8h0M181.8 253.6h0M228.1 239.1h0M210.3 223.9h0M152.4 280.0h0M156.9 241.5h0M201.7 255.4h0M195.4 213.9h0M221.4 256.0h0M230.9 227.9h0M134.2 271.8h0M187.7 229.7h0M205.3 252.0h0M211.4 216.4h0M143.8 279.9h0M143.9 210.4h0M136.6 223.6h0M145.4 237.5h0M255.7 203.9h0M140.8 266.2h0M141.6 270.2h0M105.6 289.1h0M150.8 287.2h0M143.0 283.2h0M159.3 236.4h0M205.6 245.8h0M186.4 224.0h0M142.2 251.6h0M189.5 256.2h0M208.1 211.6h0M147.3 219.7h0M156.0 245.9h0M201.6 236.6h0M132.3 278.1h0M162.1 236.5h0M175.8 238.3h0M193.1 276.2h0M252.8 213.4h0M266.1 162.1h0M184.6 240.9h0M255.8 205.5h0M174.5 236.9h0M115.6 251.3h0M152.1 274.4h0M175.3 236.1h0M190.6 225.3h0M170.1 243.5h0M173.0 264.3h0M189.0 223.1h0M130.6 235.3h0M231.4 197.5h0M159.8 289.7h0M170.2 231.7h0M128.9 246.1h0M164.3 256.7h0M219.3 225.5h0M238.7 217.3h0M104.6 266.8h0M144.9 240.0h0M177.3 249.2h0M175.5 257.9h0M151.3 278.1h0M296.0 192.4h0M136.6 265.8h0M210.5 232.3h0M204.4 210.3h0M186.1 243.9h0M128.7 269.0h0M148.2 277.7h0M217.3 228.3h0M146.1 293.0h0M181.5 255.8h0M192.6 256.6h0M211.2 234.5h0M258.2 210.6h0M198.5 237.4h0M142.4 278.0h0M146.0 275.0h0M202.1 217.8h0M133.7 273.9h0M149.9 241.1h0M169.1 220.2h0M246.2 215.2h0M178.8 233.9h0M227.6 237.5h0M196.5 233.2h0M185.8 275.6h0M227.2 207.4h0M286.4 203.9h0M204.1 190.8h0M187.7 234.8h0M154.7 242.5h0M202.6 187.6h0M213.6 274.1h0M162.8 273.9h0M109.6 274.5h0M140.2 262.9h0M112.2 297.6h0M203.2 229.1h0M141.2 280.2h0M144.8 236.0h0M113.4 270.2h0M186.6 247.0h0M261.5 163.7h0M214.5 209.4h0M277.0 171.5h0M149.1 269.9h0M179.4 249.5h0M128.5 244.8h0M143.3 265.6h0M238.6 180.0h0M128.4 253.1h0M165.8 233.0h0M204.4 219.4h0M131.2 276.8h0M163.6 214.6h0M167.7 237.2h0M232.8 215.7h0M152.4 239.5h0M149.7 267.6h0M312.9 160.5h0M222.1 146.6h0M188.3 305.2h0M276.6 251.1h0" stroke="#0634ff" stroke-width="6.6" stroke-linecap="round" fill="none" opacity="0.6"/>
<path d="M155.1 270.3h0M147.7 255.9h0M115.4 264.6h0M187.5 214.8h0M180.4 233.0h0M222.7 190.0h0M170.4 235.8h0M236.0 222.7h0M209.4 255.0h0M172.4 186.8h0M181.0 246.2h0M226.5 209.3h0M171.0 219.5h0M164.2 247.9h0M170.0 242.1h0M227.4 228.5h0M222.3 247.2h0M161.8 275.4h0M147.5 250.3h0M206.7 241.2h0M128.3 281.0h0M179.3 235.3h0M209.1 242.3h0M231.1 179.9h0M131.8 228.4h0M147.4 250.4h0M175.9 287.1h0M158.6 233.8h0M145.4 235.8h0M166.0 261.2h0M141.8 247.0h0M121.1 279.5h0M155.7 252.9h0M176.3 234.8h0M113.7 251.2h0M210.2 230.6h0M119.7 272.6h0M241.6 205.3h0M102.0 284.7h0M136.9 273.1h0M197.9 224.3h0M130.8 221.2h0M190.5 266.8h0M174.7 255.1h0M179.0 263.1h0M151.7 257.4h0M225.8 199.1h0M211.3 238.9h0M144.8 224.1h0M116.2 219.3h0M192.3 244.1h0M163.3 214.5h0M243.6 193.8h0M216.3 218.4h0M166.3 280.5h0M149.5 262.6h0M159.9 230.4h0M165.2 246.9h0M137.2 284.3h0M161.4 280.6h0M195.9 261.3h0M189.6 225.9h0M223.6 169.7h0M166.6 242.6h0M218.2 195.8h0M166.2 216.5h0M184.6 230.4h0M177.8 254.7h0M168.7 272.5h0M185.0 224.5h0M124.0 277.8h0M223.8 254.1h0M160.2 229.4h0M185.0 215.7h0M158.5 236.3h0M211.3 223.7h0M158.2 264.4h0M246.2 243.0h0M119.5 265.8h0M154.9 241.8h0M129.5 252.9h0M175.5 251.7h0M242.2 229.3h0M201.6 226.3h0M170.8 292.0h0M204.4 255.8h0M126.8 286.9h0M143.1 229.6h0M121.2 273.1h0M182.5 257.0h0M130.2 286.5h0M113.3 266.6h0M221.8 240.3h0M237.2 219.9h0M174.0 269.6h0M233.0 223.5h0M148.2 269.8h0M170.7 256.0h0M164.8 258.3h0M178.3 248.1h0M182.1 284.1h0M163.3 234.0h0M181.7 235.0h0M186.2 204.3h0M203.8 234.7h0M227.5 197.1h0M168.8 251.8h0M232.2 233.3h0M170.7 248.1h0M193.0 221.7h0M201.4 219.4h0M130.6 231.2h0M159.1 275.3h0M192.4 265.8h0M199.6 248.4h0M188.8 218.6h0M262.7 232.0h0M174.0 240.2h0M210.5 210.2h0M145.9 262.2h0M154.1 295.0h0M137.2 245.8h0M134.2 293.3h0M155.7 242.1h0M185.1 217.6h0M195.5 226.6h0M141.5 289.0h0M197.6 269.1h0M174.1 232.8h0M129.1 267.1h0M207.1 253.5h0M197.4 259.0h0M200.6 236.4h0M205.8 213.2h0M148.4 258.4h0M263.7 159.3h0M178.9 241.5h0M161.4 249.8h0M257.7 177.0h0M239.7 206.9h0M155.9 252.3h0M164.7 278.1h0M216.3 225.9h0M179.0 240.3h0M205.0 225.4h0M162.3 241.5h0M108.5 252.2h0M106.9 233.6h0M206.5 238.9h0M177.0 229.6h0M168.0 277.0h0M180.0 242.2h0M179.5 255.8h0M219.0 230.9h0M210.4 222.2h0M132.6 268.1h0M167.1 227.3h0M135.7 242.4h0M240.0 238.5h0M148.5 238.1h0M171.6 243.8h0M176.0 250.7h0M126.2 265.3h0M182.2 271.6h0M208.6 195.9h0M169.5 233.7h0M164.6 251.3h0M226.0 222.1h0M180.8 220.5h0M173.2 212.4h0M208.2 221.2h0M206.6 238.8h0M143.8 257.8h0M146.8 271.5h0M159.3 227.2h0M207.2 235.1h0M153.4 244.5h0M225.0 202.2h0M276.7 191.8h0M251.2 243.1h0M172.2 255.1h0M203.6 245.5h0M192.0 223.6h0M197.5 249.1h0M171.2 221.5h0M168.2 262.3h0M196.0 278.3h0M265.6 223.4h0M158.3 256.9h0M165.3 249.5h0M187.5 249.5h0M128.2 261.2h0M172.7 242.0h0M201.4 198.4h0M162.1 204.5h0M113.8 273.1h0M136.4 247.6h0M214.8 218.8h0M144.2 281.1h0M227.7 190.5h0M132.8 236.4h0M163.3 235.8h0M226.1 223.7h0M134.7 260.6h0M266.4 181.0h0M210.3 257.1h0M150.8 241.4h0M173.1 253.9h0M197.9 248.3h0M209.2 232.6h0M153.5 239.2h0M140.5 279.0h0M115.6 274.4h0M222.5 194.0h0M202.9 240.9h0M172.6 256.1h0M168.0 254.1h0M102.1 264.7h0M158.7 223.7h0M124.0 297.6h0M139.3 238.4h0M150.9 274.5h0M216.6 219.9h0M167.6 241.6h0M158.9 233.1h0M171.8 255.5h0M202.4 241.2h0M121.9 266.5h0M159.3 273.1h0M228.1 243.0h0M107.0 292.3h0M159.3 248.7h0M216.7 232.8h0M131.4 264.6h0M265.9 227.6h0M143.9 227.6h0M209.8 200.2h0M143.7 262.6h0M215.3 224.7h0M198.1 279.3h0M243.0 216.5h0M246.4 222.6h0M220.1 217.9h0M151.7 243.8h0M183.7 242.1h0M148.4 274.3h0M244.7 197.7h0M256.0 191.5h0M296.0 197.8h0M235.0 219.2h0M193.9 217.0h0M117.0 252.1h0M193.6 207.4h0M165.7 205.5h0M190.3 205.8h0M201.1 223.4h0M193.9 247.9h0M292.0 141.6h0M182.0 254.7h0M256.5 200.1h0M174.4 226.0h0M168.0 229.5h0M229.3 236.6h0M162.9 243.6h0M185.4 262.6h0M280.8 177.2h0M211.1 205.0h0M155.6 276.5h0M195.6 250.6h0M251.5 254.1h0M242.3 192.6h0M182.9 235.1h0M196.2 218.2h0M143.4 282.0h0M199.0 230.9h0M153.6 260.4h0M188.0 252.2h0M173.8 232.5h0M157.7 230.5h0M121.0 258.7h0M241.8 214.7h0M227.9 256.0h0M145.4 238.3h0M182.0 268.2h0M208.5 209.3h0M209.2 186.0h0M238.2 218.8h0M156.2 251.9h0M215.4 208.3h0M126.4 241.9h0M241.4 227.4h0M172.3 276.1h0M170.2 249.7h0M153.5 262.6h0M176.4 209.8h0M231.3 195.3h0M159.1 213.3h0M167.8 230.6h0M173.5 250.1h0M165.1 228.6h0M157.7 225.3h0M129.2 245.3h0M134.6 234.4h0M250.2 189.0h0M187.7 277.1h0M152.7 232.1h0M272.5 203.3h0M204.6 228.4h0M187.7 209.1h0M214.7 270.1h0M193.5 232.6h0M158.5 217.8h0M128.1 252.8h0M109.9 258.9h0M179.8 252.9h0M123.7 245.4h0M200.5 230.7h0M230.6 194.9h0M190.6 238.3h0M170.9 246.7h0M162.5 252.3h0M170.7 228.1h0M145.8 267.2h0M134.0 258.0h0M163.0 239.8h0M227.7 227.3h0M167.8 228.5h0M277.1 205.0h0M197.0 221.5h0M220.7 243.4h0M188.6 219.1h0M193.5 266.7h0M132.9 240.8h0M161.7 239.5h0M191.9 228.9h0M172.0 231.7h0M184.3 249.2h0M225.4 208.8h0M180.2 240.2h0M122.6 259.1h0M183.2 245.2h0M157.3 223.2h0M167.3 248.1h0M178.2 219.2h0M126.9 244.1h0M228.7 204.3h0M185.8 269.6h0M170.6 231.7h0M118.3 272.8h0M217.1 209.1h0M144.3 234.9h0M163.6 212.6h0M241.4 228.8h0M211.6 240.7h0M225.1 246.3h0M135.4 250.7h0M148.1 235.8h0M273.1 181.6h0M238.3 224.5h0M256.5 218.8h0M125.7 271.5h0M144.8 241.2h0M156.7 286.9h0M206.4 259.7h0M106.0 256.2h0M229.7 241.4h0M142.4 230.7h0M176.7 233.8h0M172.2 276.0h0M138.5 274.5h0M207.2 222.2h0M171.4 232.6h0M179.7 279.2h0M159.0 235.1h0M151.3 262.1h0M103.1 258.5h0M125.5 243.8h0M218.9 191.5h0M166.9 237.8h0M234.4 224.7h0M211.4 263.7h0M141.7 254.6h0M150.6 226.6h0M199.0 236.9h0M132.9 243.1h0M240.1 211.2h0M122.3 223.4h0M113.6 292.4h0M159.1 228.1h0M162.0 264.5h0M199.6 217.4h0M260.8 198.9h0M172.5 235.8h0M176.6 239.1h0M217.9 223.9h0M208.5 256.5h0M105.3 293.6h0M206.2 270.4h0M152.2 219.1h0M232.8 233.3h0M227.1 231.5h0M173.1 247.3h0M200.3 252.8h0M200.5 213.3h0M132.1 261.1h0M239.2 243.8h0M124.9 279.7h0M163.5 257.4h0M161.4 247.9h0M178.1 270.8h0M139.4 262.9h0M196.4 260.8h0M126.2 261.5h0M192.4 200.5h0M182.2 251.1h0M219.1 235.1h0M218.5 225.8h0M143.9 272.1h0M139.2 255.8h0M156.3 243.1h0M178.5 253.6h0M228.1 222.7h0M131.3 228.6h0M228.3 219.7h0M179.7 258.5h0M220.9 249.0h0M145.5 245.3h0M157.8 288.5h0M210.3 281.2h0M302.5 71.5h0M318.1 158.2h0M232.4 135.0h0M245.4 260.4h0M185.7 304.5h0" stroke="#0634ff" stroke-width="6.6" stroke-linecap="round" fill="none" opacity="0.6"/>
<path d="M97.5 275.2h0M97.5 261.7h0M97.5 258.4h0M97.5 262.5h0M97.5 284.9h0M97.5 252.8h0M97.5 291.2h0M97.5 279.4h0M97.5 286.3h0M97.5 281.0h0M97.5 280.8h0M97.5 246.4h0M97.5 273.0h0M97.5 293.5h0M97.5 268.1h0M97.5 271.5h0M97.5 284.2h0M97.5 264.3h0M97.5 275.5h0M97.5 288.8h0M97.5 247.6h0M97.5 310.3h0M97.5 287.3h0M97.5 274.6h0M97.5 292.6h0M97.5 284.3h0M97.5 311.8h0M97.5 306.0h0M97.5 285.2h0M97.5 273.6h0M97.5 264.9h0M97.5 308.8h0M97.5 249.6h0M97.5 285.7h0M97.5 267.1h0M97.5 276.0h0M97.5 265.0h0M97.5 271.9h0M97.5 307.1h0M97.5 297.5h0M97.5 280.6h0M97.5 265.9h0M97.5 272.4h0M97.5 279.7h0M97.5 254.0h0M97.5 257.5h0M97.5 299.3h0M97.5 311.9h0M97.5 270.2h0M97.5 308.8h0M97.5 287.3h0M97.5 311.1h0M97.5 271.5h0M97.5 290.1h0M97.5 314.5h0M97.5 276.2h0M97.5 303.3h0M97.5 226.5h0M97.5 266.1h0M97.5 297.4h0M97.5 265.6h0M97.5 275.7h0M97.5 240.9h0M97.5 278.6h0M97.5 279.3h0" stroke="#0634ff" stroke-width="6.6" stroke-linecap="round" fill="none" opacity="0.6"/>
<path d="M97.5 262.4h0M97.5 307.7h0M97.5 248.2h0M97.5 252.0h0M97.5 299.0h0M97.5 257.9h0M97.5 261.8h0M97.5 258.9h0M97.5 277.1h0M97.5 255.9h0M97.5 254.0h0M97.5 288.7h0M97.5 310.7h0M97.5 281.3h0M97.5 238.4h0M97.5 311.7h0M97.5 272.1h0M97.5 304.0h0M97.5 303.1h0M97.5 290.7h0M97.5 301.7h0M97.5 284.9h0M97.5 292.1h0M97.5 251.8h0M97.5 263.2h0M97.5 300.5h0M97.5 296.5h0M97.5 255.3h0M97.5 291.7h0M97.5 280.1h0M97.5 277.5h0M97.5 264.6h0M97.5 266.3h0M97.5 302.3h0M97.5 314.5h0M97.5 298.9h0M97.5 245.4h0M97.5 273.7h0M97.5 275.7h0M97.5 288.2h0M97.5 277.1h0M97.5 249.4h0M97.5 259.0h0M97.5 270.1h0M97.5 265.8h0M97.5 300.2h0M97.5 263.6h0M97.5 247.0h0M97.5 272.0h0M97.5 283.9h0M97.5 266.2h0M97.5 297.1h0M97.5 238.7h0M97.5 291.5h0M97.5 250.8h0M97.5 275.7h0M97.5 254.0h0M97.5 277.0h0M97.5 277.6h0M97.5 271.8h0M97.5 291.2h0M97.5 286.1h0M97.5 287.6h0M97.5 275.5h0M97.5 279.5h0" stroke="#0634ff" stroke-width="6.6" stroke-linecap="round" fill="none" opacity="0.6"/>
<path d="M97.5 279.5h0M97.5 283.5h0M97.5 314.5h0M97.5 242.4h0M97.5 260.4h0M97.5 267.2h0M97.5 306.5h0M97.5 271.4h0M97.5 280.0h0M97.5 312.3h0M97.5 275.5h0M97.5 275.6h0M97.5 280.8h0M97.5 309.1h0M97.5 295.3h0M97.5 272.6h0M97.5 276.4h0M97.5 257.1h0M97.5 294.4h0M97.5 289.0h0M97.5 302.9h0M97.5 254.0h0M97.5 296.4h0M97.5 257.5h0M97.5 314.5h0M97.5 298.1h0M97.5 291.0h0M97.5 284.1h0M97.5 298.0h0M97.5 257.3h0M97.5 296.3h0M97.5 296.2h0M97.5 290.5h0M97.5 300.9h0M97.5 279.7h0M97.5 257.0h0M97.5 314.5h0M97.5 294.2h0M97.5 267.4h0M97.5 278.7h0M97.5 305.4h0M97.5 307.6h0M97.5 265.3h0M97.5 270.2h0M97.5 258.6h0M97.5 270.6h0M97.5 287.9h0M97.5 266.5h0M97.5 249.7h0M97.5 252.4h0M97.5 276.3h0M97.5 265.1h0M97.5 285.1h0M97.5 280.2h0M97.5 280.8h0M97.5 265.0h0M97.5 298.5h0M97.5 244.6h0M97.5 270.2h0M97.5 310.6h0M97.5 296.8h0M97.5 275.6h0M97.5 314.5h0M97.5 311.4h0M97.5 310.9h0" stroke="#0634ff" stroke-width="6.6" stroke-linecap="round" fill="none" opacity="0.6"/>
<path d="M97.5 261.1h0M97.5 267.3h0M97.5 278.6h0M97.5 296.5h0M97.5 304.6h0M97.5 314.5h0M97.5 282.2h0M97.5 271.6h0M97.5 262.2h0M97.5 252.5h0M97.5 259.6h0M97.5 280.8h0M97.5 282.4h0M97.5 248.4h0M97.5 301.4h0M97.5 291.8h0M97.5 238.9h0M97.5 305.0h0M97.5 250.2h0M97.5 283.8h0M97.5 265.4h0M97.5 277.4h0M97.5 289.6h0M97.5 289.2h0M97.5 286.6h0M97.5 270.4h0M97.5 276.0h0M97.5 283.1h0M97.5 254.1h0M97.5 292.6h0M97.5 262.3h0M97.5 269.6h0M97.5 278.7h0M97.5 277.2h0M97.5 267.8h0M97.5 303.3h0M97.5 273.1h0M97.5 284.8h0M97.5 292.1h0M97.5 277.3h0M97.5 314.5h0M97.5 292.2h0M97.5 252.4h0M97.5 287.5h0M97.5 286.6h0M97.5 314.5h0M97.5 275.1h0M97.5 279.2h0M97.5 274.3h0M97.5 267.0h0M97.5 266.2h0M97.5 283.3h0M97.5 273.8h0M97.5 308.4h0M97.5 255.7h0M97.5 264.0h0M97.5 274.5h0M97.5 285.8h0M97.5 296.1h0M97.5 295.9h0M97.5 301.3h0M97.5 282.5h0M97.5 276.3h0M97.5 255.6h0M97.5 269.0h0" stroke="#0634ff" stroke-width="6.6" stroke-linecap="round" fill="none" opacity="0.6"/>
<line x1="97.50" y1="279.80" x2="353.00" y2="171.00" stroke="#7d7d7d" stroke-width="6.2"/>
<line x1="97.50" y1="279.80" x2="353.00" y2="171.00" stroke="#f23a1a" stroke-width="2.2"/>
</g>
<rect x="107.00" y="76.00" width="169.00" height="72.00" fill="#ffffff" opacity="0.8"/>
<text x="109.70" y="103.00" font-size="28" fill="#141414">R=0.68</text>
<text x="110.20" y="136.00" font-size="28" fill="#141414">p=4.32x10</text>
<text x="242.41" y="127.50" font-size="17" fill="#141414">-256</text>
<text x="99.23" y="63.50" font-size="28" fill="#141414">SKCM</text>
<line x1="97.50" y1="325.00" x2="97.50" y2="336.00" stroke="#141414" stroke-width="2.2"/>
<text x="89.71" y="366.30" font-size="28" fill="#141414">0</text>
<line x1="149.40" y1="325.00" x2="149.40" y2="336.00" stroke="#141414" stroke-width="2.2"/>
<text x="141.23" y="366.30" font-size="28" fill="#141414">1</text>
<line x1="201.30" y1="325.00" x2="201.30" y2="336.00" stroke="#141414" stroke-width="2.2"/>
<text x="193.51" y="366.30" font-size="28" fill="#141414">2</text>
<line x1="253.20" y1="325.00" x2="253.20" y2="336.00" stroke="#141414" stroke-width="2.2"/>
<text x="245.50" y="366.30" font-size="28" fill="#141414">3</text>
<line x1="305.10" y1="325.00" x2="305.10" y2="336.00" stroke="#141414" stroke-width="2.2"/>
<text x="297.40" y="366.30" font-size="28" fill="#141414">4</text>
<line x1="84.50" y1="324.60" x2="97.50" y2="324.60" stroke="#141414" stroke-width="2.2"/>
<text x="66.02" y="334.60" font-size="28" fill="#141414">0</text>
<line x1="84.50" y1="247.20" x2="97.50" y2="247.20" stroke="#141414" stroke-width="2.2"/>
<text x="66.29" y="257.20" font-size="28" fill="#141414">1</text>
<line x1="84.50" y1="169.80" x2="97.50" y2="169.80" stroke="#141414" stroke-width="2.2"/>
<text x="66.34" y="179.80" font-size="28" fill="#141414">2</text>
<line x1="84.50" y1="92.40" x2="97.50" y2="92.40" stroke="#141414" stroke-width="2.2"/>
<text x="66.16" y="102.40" font-size="28" fill="#141414">3</text>
<text x="118.51" y="406.30" font-size="28" fill="#141414">IFNγ-R complex</text>
<text x="70.61" y="439.20" font-size="28" fill="#141414">(normalized expression)</text>
<rect x="420.00" y="70.00" width="253.00" height="255.00" fill="#f1efee"/>
<clipPath id="ca2"><rect x="416.5" y="70" width="258" height="255"/></clipPath>
<line x1="420.00" y1="70.00" x2="673.00" y2="70.00" stroke="#141414" stroke-width="2"/>
<line x1="673.00" y1="70.00" x2="673.00" y2="329.00" stroke="#141414" stroke-width="2"/>
<line x1="420.00" y1="69.00" x2="420.00" y2="326.00" stroke="#141414" stroke-width="2.2"/>
<line x1="408.00" y1="325.00" x2="674.00" y2="325.00" stroke="#141414" stroke-width="2.2"/>
<g clip-path="url(#ca2)">
<path d="M469.1 205.2h0M511.2 201.1h0M465.1 186.9h0M497.9 238.1h0M492.7 298.0h0M474.3 258.6h0M546.4 202.4h0M509.9 198.7h0M526.7 239.9h0M537.1 226.6h0M492.4 185.8h0M476.0 199.8h0M477.1 267.6h0M488.1 295.1h0M471.7 267.6h0M498.9 262.1h0M549.7 226.4h0M555.1 253.4h0M456.8 256.6h0M560.6 177.1h0M469.7 272.3h0M566.7 231.4h0M574.1 229.2h0M486.1 239.8h0M500.9 266.0h0M505.5 183.1h0M495.9 207.9h0M515.9 251.5h0M518.0 219.7h0M557.3 271.8h0M534.1 228.8h0M555.3 279.1h0M507.8 216.3h0M485.3 267.2h0M527.9 207.9h0M522.9 220.6h0M524.7 259.2h0M526.7 204.6h0M505.6 204.6h0M533.3 230.5h0M480.8 291.9h0M487.5 235.7h0M468.6 247.8h0M474.1 195.3h0M522.0 234.4h0M535.8 228.7h0M572.5 151.8h0M488.3 290.0h0M573.4 154.3h0M453.4 190.9h0M466.4 244.4h0M533.7 198.3h0M494.6 275.5h0M517.3 193.5h0M450.0 203.7h0M491.0 149.5h0M532.9 222.5h0M483.7 278.0h0M499.1 272.1h0M510.3 197.7h0M468.7 227.5h0M501.1 202.1h0M488.2 279.8h0M485.5 210.9h0M465.9 191.5h0M467.6 253.7h0M501.4 233.3h0M547.7 183.7h0M493.3 263.1h0M469.6 211.7h0M546.9 264.0h0M530.0 210.7h0M503.2 241.0h0M491.1 253.6h0M554.2 120.0h0M493.7 199.5h0M457.2 253.0h0M504.4 262.2h0M540.8 266.7h0M532.5 167.0h0M481.6 259.5h0M495.8 261.3h0M534.8 229.3h0M528.2 256.6h0M561.3 172.7h0M482.3 282.8h0M662.9 216.8h0M562.2 188.7h0M458.0 229.4h0M493.6 285.8h0M503.0 147.1h0M535.0 226.0h0M509.2 228.1h0M487.8 154.3h0M483.8 269.6h0M528.6 174.6h0M482.3 204.0h0M489.0 250.8h0M488.7 267.5h0M521.2 255.7h0M496.5 243.6h0M469.7 199.6h0M483.3 291.3h0M526.1 234.4h0M495.2 253.8h0M569.0 236.8h0M476.0 219.3h0M512.3 219.9h0M546.2 288.2h0M506.0 208.6h0M518.9 241.0h0M487.6 276.9h0M471.7 264.2h0M476.0 267.1h0M484.9 227.9h0M516.4 194.1h0M483.2 225.0h0M493.5 275.1h0M582.5 231.1h0M521.4 278.6h0M487.7 239.6h0M460.8 194.8h0M484.1 228.7h0M494.7 293.9h0M487.6 240.8h0M526.8 203.3h0M475.5 219.1h0M495.9 215.1h0M524.1 249.0h0M508.9 224.0h0M488.3 262.1h0M485.6 296.4h0M505.9 266.1h0M514.8 218.3h0M492.1 304.3h0M588.6 227.1h0M498.3 235.9h0M445.9 191.9h0M558.9 205.3h0M510.7 208.3h0M482.8 201.9h0M500.4 249.3h0M497.9 287.8h0M552.0 204.7h0M508.5 163.9h0M560.4 256.4h0M541.9 223.4h0M514.5 173.7h0M550.8 213.9h0M518.8 255.8h0M523.3 236.5h0M475.6 232.2h0M537.2 283.5h0M530.4 200.8h0M507.4 209.6h0M526.1 233.2h0M531.3 256.1h0M496.1 215.4h0M479.3 228.0h0M519.7 226.9h0M519.4 231.5h0M461.9 212.0h0M520.4 288.9h0M462.8 232.4h0M501.7 247.5h0M501.6 165.7h0M477.1 261.4h0M459.1 206.6h0M560.3 196.7h0M520.0 263.5h0M498.9 276.5h0M544.7 193.0h0M484.7 277.7h0M500.4 212.1h0M537.9 189.9h0M475.2 234.4h0M496.7 241.0h0M526.1 197.9h0M536.0 255.3h0M556.4 228.0h0M523.3 211.5h0M543.0 194.8h0M489.7 273.1h0M511.7 219.4h0M504.4 201.1h0M563.6 156.9h0M487.6 235.5h0M530.0 245.3h0M477.2 231.2h0M468.8 198.0h0M469.4 216.0h0M513.5 282.1h0M484.1 243.5h0M507.5 224.4h0M502.2 230.6h0M521.2 205.7h0M491.4 229.0h0M505.6 218.8h0M485.1 293.5h0M552.5 196.5h0M541.8 264.1h0M446.6 246.8h0M490.7 282.6h0M536.4 186.9h0M484.9 200.5h0M463.7 212.9h0M546.4 270.9h0M512.3 190.8h0M501.5 193.6h0M508.8 242.1h0M540.5 224.5h0M527.9 190.5h0M555.5 194.3h0M462.0 197.9h0M576.9 279.5h0M524.0 220.5h0M489.5 204.9h0M469.6 259.5h0M507.7 211.7h0M452.6 252.1h0M500.2 278.5h0M503.5 280.9h0M497.5 216.3h0M493.6 219.9h0M493.7 184.8h0M554.1 177.6h0M497.5 204.8h0M499.9 240.0h0M587.5 223.6h0M446.5 241.1h0M504.6 269.6h0M532.3 190.9h0M503.3 202.4h0M492.8 225.7h0M522.7 253.5h0M496.3 263.3h0M481.0 273.3h0M552.5 206.6h0M564.2 209.8h0M487.1 247.8h0M584.6 228.5h0M500.6 279.8h0M435.9 206.4h0M503.0 266.9h0M496.8 286.7h0M499.5 283.3h0M492.1 238.6h0M490.1 196.7h0M547.3 169.1h0M524.7 204.4h0M533.9 235.2h0M487.9 190.1h0M505.3 248.3h0M547.8 288.7h0M571.2 255.1h0M489.1 192.8h0M471.0 263.4h0M550.6 198.5h0M506.4 226.0h0M494.0 286.5h0M509.4 248.7h0M517.8 200.7h0M524.5 233.2h0M571.2 306.9h0M470.3 220.7h0M540.1 271.3h0M473.2 263.3h0M492.3 196.7h0M538.0 273.0h0M545.3 304.6h0M513.9 213.0h0M475.9 267.6h0M464.0 220.0h0M524.9 296.9h0M527.5 231.7h0M485.4 183.5h0M486.6 295.3h0M478.7 281.1h0M511.0 181.6h0M492.4 227.0h0M474.8 249.2h0M519.6 239.3h0M501.9 232.4h0M525.4 234.7h0M463.3 250.7h0M542.6 208.1h0M514.2 254.4h0M577.9 258.1h0M435.8 265.8h0M518.9 186.5h0M497.4 271.0h0M554.5 192.7h0M543.4 118.2h0M505.4 206.1h0M519.5 197.9h0M541.9 253.2h0M574.7 245.1h0M446.5 254.8h0M498.5 251.8h0M472.4 191.7h0M505.4 190.9h0M483.7 284.1h0M519.9 218.8h0M497.4 218.7h0M486.7 275.7h0M480.1 225.3h0M489.0 283.4h0M488.0 294.2h0M506.8 247.7h0M501.0 220.7h0M487.5 296.2h0M530.6 273.7h0M518.7 192.6h0M485.2 223.8h0M505.2 272.7h0M508.9 250.6h0M484.9 267.1h0M487.4 286.1h0M539.1 188.1h0M527.1 218.2h0M551.0 226.0h0M532.0 159.0h0M519.1 177.4h0M431.4 206.1h0M538.8 224.0h0M502.3 247.7h0M514.2 272.8h0M505.3 187.7h0M654.9 140.7h0M518.0 233.0h0M488.8 224.7h0M489.2 234.4h0M518.6 240.9h0M518.4 239.8h0M499.7 213.8h0M506.2 269.3h0M464.8 212.9h0M476.2 165.6h0M499.3 270.6h0M524.1 202.0h0M516.7 158.5h0M508.6 242.0h0M507.1 193.3h0M498.4 231.8h0M478.3 289.0h0M486.5 211.5h0M560.5 217.7h0M456.8 269.1h0M559.1 293.8h0M481.5 266.5h0M545.8 268.5h0M507.5 178.6h0M470.6 223.2h0M488.8 253.2h0M494.8 311.3h0M478.8 261.5h0M485.5 185.7h0M494.6 262.8h0M482.5 241.1h0M522.6 144.1h0M487.9 242.3h0M576.7 269.7h0M507.2 251.6h0M501.9 218.9h0M548.7 221.9h0M486.8 269.5h0M468.5 214.7h0M498.5 223.7h0M492.5 262.1h0M510.4 227.0h0M534.7 239.3h0M497.2 291.2h0M538.4 271.8h0M495.1 214.3h0M469.9 274.5h0M468.5 268.9h0M491.5 278.6h0M484.6 208.8h0M548.0 254.4h0M506.7 191.3h0M542.6 244.2h0M528.1 250.6h0M490.2 175.9h0M488.7 263.4h0M534.7 274.1h0M500.9 227.5h0M520.9 217.4h0M457.4 230.7h0M460.3 193.8h0M522.1 225.9h0M464.6 223.7h0M492.4 283.1h0M495.1 246.2h0M564.9 248.4h0M543.7 195.0h0M477.2 257.7h0M530.5 266.3h0M462.2 236.4h0M460.1 270.5h0M507.4 250.5h0M466.9 226.7h0M519.3 196.4h0M471.0 272.6h0M585.3 194.3h0M539.5 187.5h0M485.6 239.2h0M534.7 219.7h0M498.6 209.5h0M541.6 184.4h0M539.8 279.5h0M495.1 273.3h0M463.5 250.1h0M511.1 205.0h0M442.9 208.5h0M480.2 273.4h0M448.7 184.1h0M538.8 236.8h0M447.6 260.3h0M544.7 185.2h0M498.1 282.7h0M559.3 230.7h0M488.7 266.4h0M475.9 241.2h0M525.2 219.0h0M479.6 190.5h0M556.4 250.6h0M470.3 189.7h0M583.5 163.9h0M551.6 220.8h0M510.6 221.2h0M496.4 204.0h0M495.9 275.0h0M487.2 242.8h0M486.8 212.2h0M609.8 225.3h0M548.3 195.0h0M524.1 233.5h0M501.6 215.0h0M534.5 232.1h0M565.8 214.0h0M473.4 248.6h0M522.4 248.5h0M511.8 160.3h0M504.7 217.9h0M466.6 272.3h0M486.8 201.3h0M535.7 272.9h0M519.4 220.4h0M454.7 252.5h0M544.4 246.6h0M473.3 286.0h0M496.8 205.9h0M506.0 211.5h0M493.8 226.0h0M498.1 278.0h0M549.5 226.0h0M537.9 245.7h0M510.6 224.1h0M488.4 220.0h0M490.7 235.7h0M545.3 178.9h0M529.4 221.7h0M517.5 265.8h0M469.7 264.8h0M495.1 284.5h0M502.8 263.5h0M445.3 270.7h0M529.1 169.8h0M517.7 240.3h0M552.3 256.3h0M555.1 265.8h0M501.9 238.8h0M550.1 240.2h0M518.5 233.0h0M523.9 212.3h0M518.4 248.9h0M525.3 253.1h0M517.7 199.7h0M478.4 254.1h0M503.1 247.6h0M481.4 223.9h0M485.6 249.1h0M470.2 194.6h0M478.4 281.2h0M501.4 216.2h0M550.0 208.0h0M479.0 271.6h0M516.3 264.3h0M497.5 278.5h0M527.1 241.1h0M561.3 231.7h0M566.5 282.0h0M489.1 279.9h0M530.5 257.0h0M500.2 223.7h0M492.5 264.0h0M450.8 189.7h0M542.6 213.8h0M559.3 267.4h0M534.8 243.2h0M511.0 187.3h0M533.7 197.5h0M549.2 270.3h0M501.9 247.4h0M504.2 223.9h0M522.4 210.8h0M468.9 179.4h0M479.0 276.0h0M483.7 257.9h0M487.6 211.4h0M516.9 214.4h0M470.1 228.1h0M516.1 212.8h0M534.4 160.4h0M553.5 198.8h0M501.2 154.5h0M575.4 283.7h0M463.5 280.1h0M546.1 224.5h0M454.4 214.0h0M579.3 170.3h0M485.1 260.9h0M474.7 271.0h0M456.2 209.8h0M541.1 188.9h0M547.2 241.4h0M532.9 160.4h0M496.8 216.7h0M518.9 232.3h0M503.1 286.6h0M508.1 186.7h0M486.9 218.3h0M523.8 285.5h0M517.5 218.7h0M530.7 220.2h0M497.3 290.7h0M474.4 283.8h0M503.5 232.4h0M466.1 281.5h0M501.7 214.1h0M545.1 222.9h0M535.8 233.4h0M535.3 177.3h0M500.1 211.6h0M492.9 251.6h0M499.2 275.9h0M489.2 210.3h0M514.4 205.9h0M530.5 206.5h0M494.9 259.4h0M496.6 260.5h0M489.7 190.5h0M491.6 265.0h0M529.7 250.5h0M560.4 266.4h0M479.1 280.6h0M513.6 209.3h0M573.5 216.9h0M512.2 247.2h0M526.7 174.6h0M491.3 204.1h0M493.1 251.3h0M438.6 260.3h0M490.4 259.3h0M507.0 196.7h0M513.3 239.0h0M503.8 191.5h0M525.2 213.9h0M502.4 142.2h0M475.7 276.6h0M497.3 169.6h0M563.7 255.3h0M549.7 213.6h0M475.6 254.1h0M508.5 234.7h0M509.5 234.6h0M478.6 198.6h0M531.3 200.8h0M512.4 161.7h0M476.4 210.3h0M505.2 256.2h0M511.7 222.2h0M463.4 234.6h0M544.6 150.9h0M476.3 238.6h0M483.1 253.8h0M494.9 218.0h0M545.0 269.5h0M481.7 271.7h0M505.5 249.5h0M484.6 216.2h0M526.1 187.5h0M503.4 226.6h0M479.3 201.0h0M460.0 272.9h0M466.7 246.7h0M468.4 247.0h0M492.8 251.4h0M524.3 192.7h0M509.5 202.2h0M501.2 217.3h0M483.8 266.5h0M513.9 284.6h0M582.8 267.3h0M525.5 197.8h0M500.1 144.6h0M537.3 219.5h0M513.6 181.6h0M489.9 222.1h0M468.3 251.7h0M494.1 236.6h0M483.8 276.6h0M540.4 230.8h0M536.1 169.2h0M480.6 258.8h0M480.2 286.6h0M481.9 221.1h0M485.0 273.1h0M509.0 297.2h0M507.3 193.3h0M486.3 200.2h0M531.7 228.4h0M507.7 245.6h0M470.1 233.1h0M537.3 180.2h0M470.7 265.7h0M473.2 285.5h0M489.9 240.8h0M508.8 284.8h0M524.2 210.2h0M497.8 212.2h0M492.9 258.1h0M496.2 201.7h0M473.7 177.5h0M477.3 225.0h0M500.6 267.9h0M513.5 288.9h0M459.7 211.8h0M457.5 216.4h0M578.2 125.9h0M457.0 193.4h0M510.0 231.9h0M513.1 162.4h0M493.7 275.9h0M475.1 218.6h0M558.0 181.2h0M475.4 270.8h0M516.2 253.8h0M513.9 279.5h0M498.8 275.6h0M522.1 217.6h0M498.8 298.4h0M553.2 259.2h0M518.2 247.3h0M541.4 250.9h0M473.4 183.5h0M466.7 229.2h0M482.9 200.5h0M569.6 200.4h0M541.4 178.6h0M546.6 176.5h0M521.4 166.5h0M493.8 228.6h0M479.3 226.5h0M524.1 289.1h0M485.0 227.9h0M496.3 238.3h0M492.1 267.4h0M539.8 170.2h0M495.3 230.2h0M482.5 279.3h0M511.6 261.8h0M472.0 227.5h0M510.5 219.4h0M534.3 122.4h0M522.0 226.3h0M483.4 131.1h0M479.1 230.0h0M536.5 247.5h0M499.2 139.2h0M478.4 247.7h0M488.9 288.9h0M443.2 240.4h0M572.7 263.6h0M524.8 277.8h0M524.5 250.4h0M485.2 211.8h0M489.5 280.8h0M505.3 252.3h0M522.7 226.8h0M479.4 274.8h0M488.3 219.5h0M484.2 238.3h0M480.8 261.5h0M473.6 192.6h0M497.5 259.8h0M489.4 287.5h0M494.6 239.3h0M493.3 184.2h0M466.8 207.5h0M492.0 252.7h0M544.2 245.5h0M505.8 286.3h0M479.2 283.2h0M573.9 222.2h0M484.2 289.9h0M557.7 246.3h0M526.3 226.4h0M564.6 231.4h0M472.5 272.4h0M474.3 264.5h0M554.6 279.2h0M496.3 213.7h0M521.3 196.5h0M521.0 236.4h0M478.0 291.2h0M524.1 186.0h0M469.0 257.5h0M487.2 191.1h0M564.8 184.6h0M513.2 290.6h0M456.3 224.2h0M477.4 278.7h0M509.5 218.7h0M520.6 205.8h0M490.8 289.5h0M522.6 154.6h0M539.4 164.8h0M464.0 227.1h0M477.6 260.9h0M498.3 279.5h0M471.1 261.8h0M476.8 238.1h0M501.7 238.6h0M523.0 202.2h0M514.0 209.3h0M552.4 203.9h0M533.6 202.7h0M548.0 220.2h0M470.8 241.7h0M513.6 186.5h0M621.6 157.5h0M508.6 295.2h0M539.6 216.8h0M433.5 238.2h0M477.6 195.4h0M508.0 222.2h0M500.7 282.4h0M501.8 220.4h0M511.2 252.5h0M602.6 227.0h0M558.7 194.0h0M515.2 245.1h0M512.4 261.6h0M474.6 244.9h0M490.3 243.5h0M475.1 226.6h0M436.9 218.6h0M510.3 97.1h0M486.2 199.4h0M469.0 242.8h0M548.4 218.5h0M461.4 236.4h0M556.2 153.1h0M483.8 218.0h0M506.2 241.2h0M511.1 234.5h0M495.9 297.2h0M593.1 255.4h0M472.1 276.8h0M588.7 238.6h0M512.2 269.0h0M541.0 292.3h0M485.3 223.6h0M498.4 245.7h0M464.3 263.5h0M454.0 218.9h0M490.5 189.5h0M531.4 279.3h0M473.5 196.5h0M499.8 267.5h0M496.4 199.1h0M563.6 195.4h0M492.6 270.3h0M471.1 179.6h0M498.8 254.0h0M522.3 175.2h0M533.2 260.6h0M494.8 200.6h0M531.6 175.8h0M493.6 216.4h0M526.7 269.3h0M504.3 226.4h0M521.4 228.7h0M503.5 220.6h0M505.2 262.6h0M500.2 260.6h0M489.5 244.6h0M574.0 123.8h0M543.6 246.7h0M552.5 159.8h0M574.3 235.1h0M450.2 284.9h0M503.5 176.1h0M486.0 245.5h0M525.3 262.2h0M536.7 211.2h0M501.5 170.2h0M513.9 271.2h0M448.3 248.2h0M487.4 271.5h0M536.2 241.8h0M472.5 259.4h0M504.3 241.2h0M495.3 232.2h0M475.8 285.8h0M528.4 262.3h0M471.2 248.4h0M554.8 249.5h0M493.4 242.2h0M508.7 224.8h0M481.7 214.4h0M497.4 221.7h0M544.4 224.3h0M479.1 222.2h0M508.7 212.7h0M511.1 233.4h0M473.6 255.3h0M499.0 259.7h0M528.6 246.7h0M536.2 270.2h0M509.8 228.1h0M573.3 242.3h0M491.0 286.9h0M483.4 144.0h0M542.2 275.0h0M486.2 235.4h0M503.6 195.4h0M544.0 270.2h0M499.4 269.0h0M532.9 225.8h0M547.2 229.7h0M464.7 272.5h0M515.8 213.3h0M436.3 238.3h0M479.6 279.2h0M458.9 149.3h0M522.3 275.1h0M495.2 280.6h0M476.1 212.9h0M499.1 260.7h0M531.7 225.2h0M496.7 239.7h0M566.1 234.3h0M515.2 243.4h0" stroke="#0634ff" stroke-width="6.6" stroke-linecap="round" fill="none" opacity="0.6"/>
<path d="M498.1 232.3h0M477.0 162.6h0M488.0 290.2h0M544.5 179.5h0M537.7 193.4h0M488.7 228.4h0M476.1 262.6h0M535.7 215.0h0M476.0 204.2h0M489.7 226.7h0M536.3 175.2h0M528.8 260.5h0M548.8 247.4h0M567.7 135.4h0M457.3 224.5h0M511.1 283.6h0M482.1 227.4h0M556.1 277.3h0M487.9 214.3h0M492.4 173.7h0M540.4 230.5h0M512.5 262.4h0M564.9 289.3h0M510.6 235.1h0M518.0 233.7h0M445.6 245.6h0M482.1 256.8h0M491.5 234.4h0M514.3 217.6h0M520.8 150.7h0M590.4 226.3h0M453.0 272.8h0M480.9 278.5h0M537.1 197.1h0M492.1 302.1h0M509.0 198.0h0M565.2 235.7h0M484.1 217.7h0M465.9 205.0h0M544.6 249.2h0M527.6 202.2h0M479.8 217.2h0M506.1 198.9h0M504.3 260.7h0M479.3 217.3h0M557.1 167.3h0M477.5 221.8h0M559.3 240.9h0M527.2 261.4h0M576.9 275.6h0M498.2 220.2h0M493.4 179.6h0M489.1 258.1h0M502.7 241.8h0M495.6 213.9h0M507.2 139.1h0M537.5 283.9h0M483.9 217.1h0M490.7 251.0h0M473.7 235.4h0M533.4 227.1h0M458.2 229.1h0M537.6 276.4h0M477.4 255.6h0M512.0 217.9h0M478.8 222.5h0M483.0 284.3h0M502.6 229.9h0M487.8 290.8h0M465.6 254.5h0M504.1 246.4h0M529.9 229.0h0M490.5 263.8h0M588.6 200.5h0M504.8 199.7h0M562.8 243.2h0M536.8 163.4h0M477.5 227.6h0M524.5 230.1h0M548.7 142.0h0M498.5 234.7h0M456.9 207.4h0M462.2 206.9h0M490.3 186.4h0M475.3 287.4h0M475.4 253.6h0M497.8 180.1h0M535.7 192.2h0M478.9 260.5h0M496.5 205.6h0M516.0 234.8h0M652.0 135.1h0M495.0 185.7h0M461.8 251.3h0M543.6 236.2h0M500.8 171.4h0M542.7 273.5h0M466.0 242.2h0M511.1 215.2h0M534.5 248.5h0M465.7 227.6h0M514.9 185.1h0M565.7 290.7h0M514.1 218.7h0M497.3 218.5h0M524.0 234.1h0M502.8 225.4h0M576.2 112.4h0M484.5 212.5h0M535.7 247.4h0M502.4 215.0h0M509.2 251.9h0M478.1 290.4h0M477.4 226.7h0M557.8 188.9h0M497.9 173.9h0M480.1 257.6h0M517.0 220.5h0M493.8 226.6h0M479.8 204.0h0M519.1 196.2h0M517.1 208.1h0M461.1 205.7h0M491.4 288.0h0M473.8 267.4h0M546.0 177.1h0M521.6 233.8h0M466.0 242.1h0M544.3 161.4h0M540.7 213.3h0M543.4 230.8h0M539.3 264.8h0M437.8 252.6h0M550.0 157.7h0M496.5 220.0h0M451.6 218.3h0M506.5 200.0h0M472.0 272.2h0M544.1 273.6h0M464.4 258.0h0M500.0 284.9h0M532.6 118.6h0M492.7 301.2h0M527.8 195.4h0M455.5 214.5h0M475.9 232.5h0M539.2 216.9h0M445.8 194.1h0M483.0 209.4h0M504.6 263.1h0M520.8 204.2h0M531.9 182.1h0M488.1 216.2h0M544.2 266.7h0M534.8 241.5h0M507.7 284.5h0M475.4 262.5h0M488.1 212.8h0M547.3 193.9h0M518.5 276.7h0M440.1 215.8h0M560.5 210.6h0M482.1 228.1h0M491.5 220.0h0M533.7 202.7h0M531.1 196.8h0M471.1 272.5h0M451.5 222.9h0M502.7 242.9h0M515.2 170.8h0M499.5 265.3h0M479.7 182.8h0M539.1 225.4h0M506.9 302.0h0M561.4 174.3h0M560.1 295.0h0M494.5 306.8h0M492.5 283.0h0M506.8 239.2h0M480.3 256.5h0M488.4 230.9h0M516.6 202.3h0M505.4 276.5h0M501.8 214.1h0M498.8 244.5h0M508.9 284.1h0M482.9 262.8h0M498.2 291.0h0M523.4 194.5h0M563.2 234.6h0M497.8 215.1h0M508.8 287.5h0M520.9 235.1h0M485.5 269.2h0M497.0 291.6h0M507.4 194.9h0M552.8 268.7h0M613.1 173.7h0M530.3 262.0h0M526.2 205.6h0M471.1 209.1h0M520.0 240.2h0M492.3 210.9h0M505.9 282.3h0M491.9 196.5h0M480.0 225.8h0M459.1 293.8h0M471.3 261.3h0M537.2 275.4h0M491.0 231.0h0M490.4 220.1h0M478.1 264.5h0M480.6 246.5h0M571.8 238.8h0M628.2 75.8h0M492.8 204.0h0M455.3 229.5h0M461.3 273.8h0M480.0 257.4h0M464.9 252.6h0M494.7 224.7h0M546.1 162.4h0M518.7 228.3h0M493.1 246.8h0M524.7 201.8h0M498.9 211.9h0M509.3 217.1h0M459.9 237.3h0M485.2 277.6h0M550.9 275.3h0M498.8 191.6h0M473.4 254.4h0M488.5 232.8h0M530.9 160.2h0M501.1 267.8h0M496.4 272.0h0M522.3 191.6h0M515.3 230.4h0M454.0 236.7h0M518.1 214.7h0M538.6 212.3h0M515.4 136.1h0M504.9 192.6h0M504.5 136.2h0M485.8 292.8h0M517.0 211.7h0M497.3 277.2h0M492.2 258.2h0M541.0 177.1h0M495.1 229.6h0M623.3 193.0h0M520.2 245.0h0M494.5 267.0h0M519.2 148.1h0M452.0 224.4h0M476.8 209.7h0M502.0 180.1h0M491.9 218.6h0M523.6 230.8h0M544.9 234.0h0M487.5 270.8h0M549.6 288.7h0M504.5 153.1h0M480.5 276.3h0M472.1 166.0h0M521.9 193.9h0M492.1 193.5h0M592.0 241.6h0M515.1 193.3h0M511.6 250.8h0M468.9 149.0h0M470.9 202.3h0M446.8 242.9h0M459.7 243.3h0M524.6 266.0h0M507.8 221.3h0M474.8 257.3h0M558.3 219.8h0M521.5 212.5h0M482.9 292.7h0M463.2 203.7h0M513.1 243.5h0M535.3 214.9h0M515.2 247.6h0M534.1 209.6h0M529.1 195.0h0M480.0 236.1h0M531.3 189.4h0M480.8 215.8h0M452.3 265.0h0M500.3 202.9h0M466.9 247.6h0M508.1 178.9h0M519.7 206.4h0M494.6 297.3h0M504.9 229.7h0M502.1 217.9h0M528.9 239.3h0M542.2 270.4h0M592.5 126.6h0M490.3 230.6h0M442.8 233.8h0M512.9 164.5h0M488.1 199.9h0M501.6 272.7h0M470.6 271.1h0M549.5 257.9h0M513.1 246.2h0M478.7 117.2h0M493.0 267.2h0M479.2 221.8h0M478.3 247.5h0M496.4 285.0h0M496.1 244.5h0M487.7 284.6h0M538.4 151.6h0M541.9 269.0h0M619.6 254.0h0M550.0 205.7h0M530.3 206.7h0M503.3 245.6h0M487.6 227.6h0M520.3 176.3h0M541.2 287.3h0M542.2 263.9h0M500.6 211.4h0M569.7 242.0h0M532.3 174.3h0M465.1 254.1h0M465.9 234.1h0M484.0 227.9h0M528.9 233.5h0M533.9 201.3h0M519.8 272.3h0M554.6 292.6h0M449.1 222.1h0M506.9 207.5h0M472.0 212.2h0M543.5 171.7h0M498.6 211.6h0M514.4 218.6h0M505.4 296.9h0M539.1 253.7h0M514.8 229.4h0M495.9 273.7h0M511.6 290.1h0M483.8 270.9h0M505.4 247.4h0M476.4 228.2h0M489.2 267.1h0M462.8 281.0h0M542.0 189.0h0M496.5 240.7h0M653.5 270.6h0M480.5 243.9h0M481.7 252.1h0M529.1 193.3h0M551.8 233.1h0M533.3 173.7h0M455.5 242.2h0M547.6 239.7h0M495.6 238.7h0M552.2 277.4h0M549.7 231.1h0M499.6 290.2h0M522.7 228.9h0M468.3 242.4h0M507.1 185.9h0M504.9 274.3h0M496.1 218.0h0M520.6 271.3h0M532.2 239.2h0M517.3 187.8h0M517.9 250.1h0M539.8 234.4h0M514.0 288.4h0M503.4 277.0h0M511.9 235.7h0M504.1 285.6h0M533.4 194.4h0M507.7 187.4h0M487.7 222.4h0M463.7 235.8h0M494.3 188.2h0M495.0 191.0h0M490.8 178.9h0M595.5 120.9h0M519.8 237.7h0M506.3 198.4h0M543.7 269.8h0M491.2 201.0h0M541.8 181.5h0M480.7 263.1h0M579.1 278.0h0M562.7 146.4h0M598.3 155.9h0M505.5 234.3h0M514.6 208.8h0M489.4 281.9h0M556.4 274.0h0M496.6 207.7h0M500.2 205.5h0M572.6 209.7h0M528.9 186.2h0M549.0 191.8h0M535.9 193.6h0M549.1 296.5h0M516.2 243.1h0M546.4 259.0h0M489.1 256.0h0M496.4 296.1h0M510.6 178.3h0M582.8 158.5h0M479.2 232.1h0M556.1 183.4h0M523.3 208.7h0M517.8 262.0h0M469.0 218.4h0M546.3 187.4h0M490.8 273.8h0M505.9 207.2h0M480.6 284.3h0M496.7 223.3h0M511.1 215.3h0M482.4 210.0h0M514.1 212.8h0M459.5 265.2h0M500.1 252.1h0M478.0 263.3h0M504.0 201.1h0M557.9 240.4h0M537.1 199.6h0M469.6 270.1h0M497.1 226.3h0M497.4 305.5h0M509.7 160.6h0M510.3 236.7h0M554.0 228.0h0M458.3 225.6h0M524.0 270.4h0M489.5 188.4h0M528.1 197.2h0M551.7 187.1h0M525.9 233.8h0M488.5 192.2h0M516.5 177.1h0M499.3 267.0h0M452.3 222.7h0M496.6 270.1h0M481.4 221.1h0M518.4 276.6h0M480.7 179.5h0M561.3 217.8h0M494.6 282.8h0M509.5 242.1h0M513.8 195.2h0M610.1 275.5h0M479.2 293.2h0M527.6 227.9h0M504.2 209.4h0M504.5 257.8h0M484.4 263.8h0M523.5 236.7h0M498.1 259.9h0M467.8 235.6h0M530.2 179.9h0M479.4 197.1h0M514.3 162.8h0M479.0 278.5h0M495.6 233.7h0M489.9 225.3h0M470.2 260.8h0M488.2 180.7h0M499.9 202.3h0M501.6 283.4h0M487.9 261.8h0M513.7 188.4h0M480.0 286.2h0M439.9 232.4h0M478.8 262.8h0M493.0 206.3h0M492.5 285.6h0M507.3 191.1h0M509.8 266.4h0M475.9 264.8h0M595.4 248.9h0M475.3 219.5h0M485.8 229.5h0M570.5 273.8h0M512.9 210.9h0M475.6 279.8h0M456.5 257.0h0M523.1 268.4h0M516.7 197.7h0M564.1 233.1h0M594.0 134.9h0M496.4 258.6h0M484.3 233.7h0M505.7 244.9h0M442.6 182.6h0M457.9 203.9h0M455.3 234.8h0M544.8 173.5h0M484.5 291.6h0M460.1 200.1h0M489.5 289.6h0M508.2 217.2h0M539.5 253.8h0M529.6 245.5h0M571.2 235.3h0M460.5 275.7h0M517.1 248.3h0M494.4 195.3h0M523.0 153.9h0M526.2 219.0h0M450.9 231.1h0M492.0 234.5h0M477.5 202.1h0M511.0 263.1h0M485.6 275.9h0M543.9 229.0h0M442.0 257.3h0M515.8 239.3h0M584.7 189.8h0M484.8 278.7h0M538.2 200.0h0M525.9 220.8h0M495.8 220.1h0M546.0 270.1h0M520.0 191.3h0M498.9 241.4h0M507.4 240.6h0M508.4 177.2h0M506.9 272.6h0M484.7 278.7h0M494.0 278.0h0M539.2 212.8h0M579.7 205.4h0M508.3 244.5h0M492.2 279.1h0M441.7 237.6h0M459.2 244.9h0M515.9 259.3h0M461.0 188.0h0M489.8 262.0h0M515.2 245.7h0M506.7 168.5h0M469.1 227.6h0M490.6 188.5h0M463.8 223.5h0M482.8 202.5h0M479.9 196.0h0M545.8 227.4h0M517.7 236.9h0M456.0 227.1h0M449.2 212.3h0M571.8 115.3h0M513.8 268.8h0M499.0 214.8h0M512.5 212.0h0M466.8 230.9h0M526.8 207.6h0M557.0 231.6h0M558.7 277.4h0M494.5 239.0h0M606.6 262.4h0M594.7 231.2h0M455.3 201.9h0M487.7 238.6h0M484.9 276.4h0M543.2 186.1h0M472.8 227.6h0M491.9 297.3h0M507.5 202.9h0M471.4 227.0h0M518.9 181.0h0M473.6 223.4h0M461.9 202.9h0M462.5 219.1h0M514.3 220.0h0M502.9 200.4h0M528.2 271.3h0M471.7 257.5h0M484.3 287.4h0M514.2 255.3h0M522.0 157.2h0M461.7 246.9h0M489.7 299.0h0M553.9 228.0h0M499.8 233.7h0M511.7 222.4h0M536.0 217.7h0M474.1 248.8h0M534.9 182.7h0M551.7 201.7h0M561.6 260.5h0M516.5 221.4h0M522.5 251.8h0M466.8 252.2h0M478.4 208.0h0M524.7 199.1h0M509.0 265.6h0M455.0 218.2h0M557.6 186.7h0M457.3 200.4h0M517.7 146.3h0M479.2 251.4h0M562.1 259.5h0M639.1 193.0h0M484.6 285.9h0M496.4 100.6h0M511.8 226.4h0M561.2 268.8h0M468.7 240.8h0M577.4 97.9h0M530.4 169.3h0M543.5 217.8h0M504.9 154.4h0M507.6 248.7h0M497.9 289.3h0M558.1 169.4h0M486.2 280.9h0M532.6 85.7h0M534.8 225.8h0M493.2 224.0h0M487.6 208.1h0M523.7 233.1h0M466.4 253.7h0M505.3 236.7h0M645.4 250.6h0M497.7 193.2h0M462.5 236.5h0M508.5 215.5h0M566.6 278.5h0M561.6 177.9h0M495.4 231.9h0M490.9 244.0h0M496.9 200.4h0M481.2 274.4h0M488.9 227.2h0M503.3 272.9h0M482.0 258.9h0M501.6 262.9h0M559.0 226.1h0M489.4 285.1h0M448.1 193.2h0M510.9 269.8h0M541.9 219.1h0M488.9 192.8h0M512.8 271.8h0M522.2 238.4h0M516.4 235.4h0M487.3 269.6h0M494.8 246.7h0M527.8 207.9h0M495.3 152.1h0M526.2 214.5h0M480.6 217.5h0M517.3 231.8h0M494.7 278.2h0M493.9 220.7h0M519.2 221.1h0M568.5 247.3h0M491.1 195.0h0M505.7 222.3h0M599.0 249.6h0M489.1 252.6h0M494.1 242.7h0M498.7 226.9h0M558.0 202.0h0M556.9 258.9h0M439.5 211.4h0M499.5 199.2h0M529.2 264.9h0M483.8 235.7h0M572.9 194.8h0M484.1 290.5h0M514.4 258.4h0M477.9 268.1h0M476.8 247.7h0M481.2 223.1h0M482.5 224.8h0M503.9 222.2h0M478.5 179.8h0M475.1 215.3h0M512.2 190.9h0M537.1 274.1h0M510.7 192.4h0M571.7 216.4h0M535.1 239.2h0M543.0 221.7h0M474.9 267.0h0M567.0 272.3h0M475.0 240.1h0M487.7 295.0h0M523.5 199.6h0M512.1 159.4h0M524.3 273.8h0M510.2 226.1h0M488.9 210.0h0M514.3 207.2h0M515.8 274.6h0M566.3 202.6h0M516.4 200.7h0M540.8 232.1h0M554.4 140.4h0M536.1 207.3h0M540.8 179.8h0M516.2 250.2h0M499.5 290.4h0M459.7 231.8h0M512.1 264.9h0M536.7 189.1h0M518.4 199.7h0M582.8 259.7h0M488.6 240.7h0M481.0 204.2h0M502.5 224.9h0M505.9 249.7h0M542.6 224.4h0M461.6 247.7h0M488.8 235.0h0M459.4 218.2h0M545.8 172.7h0M488.8 283.9h0M507.3 199.9h0M486.2 198.3h0M494.7 196.7h0M489.0 210.4h0M543.7 218.8h0M501.2 231.0h0M539.8 280.9h0M589.0 282.2h0M498.8 207.2h0M519.8 276.4h0M475.3 208.1h0M471.0 243.2h0M509.6 273.7h0M523.0 185.5h0M548.0 233.2h0M444.7 210.8h0M484.7 217.0h0M505.2 297.4h0M501.3 245.8h0M528.1 164.8h0M484.5 222.1h0M482.9 214.9h0M482.8 230.1h0M545.3 237.4h0M534.5 239.4h0M541.1 257.8h0M532.6 188.7h0M487.3 260.5h0M480.3 280.6h0M539.0 284.1h0M479.1 272.0h0M511.6 185.6h0M545.3 253.5h0M489.2 287.0h0M528.8 165.6h0M495.4 182.9h0M564.7 221.1h0M512.0 220.5h0M511.1 238.3h0M548.6 211.3h0M539.4 248.5h0M527.7 176.1h0M561.6 217.4h0M518.2 211.5h0M445.4 230.3h0M544.1 245.5h0M507.8 262.5h0M510.3 231.3h0M512.0 214.0h0M555.8 284.6h0M528.0 227.3h0M498.7 255.1h0M521.4 165.8h0M494.1 186.6h0M571.7 262.8h0M572.3 204.9h0M542.1 230.7h0M523.4 201.4h0M523.4 197.4h0M498.2 292.5h0M517.9 272.5h0M587.5 207.5h0M438.4 257.8h0M573.8 110.1h0M499.1 213.7h0M484.1 235.1h0M531.8 219.8h0M452.7 212.6h0M496.4 236.7h0M513.6 159.9h0M540.9 270.2h0M469.5 240.1h0M506.1 228.1h0M489.9 223.7h0M547.9 232.3h0M562.6 199.2h0M542.5 245.6h0M519.5 242.2h0M528.8 261.4h0M617.6 191.5h0M541.7 276.1h0M497.7 217.5h0M474.8 212.0h0M519.4 269.5h0M574.8 138.1h0M477.0 262.8h0M541.8 194.0h0M550.5 195.9h0M525.6 245.2h0M492.3 258.5h0M483.4 223.0h0M507.9 191.9h0M478.2 236.3h0M481.4 235.0h0M440.2 208.6h0M485.1 219.1h0M520.6 219.1h0M525.6 215.9h0M477.6 272.7h0M562.1 226.7h0M455.6 195.0h0M493.1 199.0h0M491.7 298.5h0M448.2 266.8h0M523.3 190.8h0M527.1 220.7h0M550.9 145.6h0M482.8 252.5h0M569.3 201.3h0M500.5 248.2h0M523.6 244.2h0M530.5 266.9h0M612.8 259.1h0M475.1 243.9h0M476.3 184.9h0M554.5 195.1h0M486.9 229.4h0M537.5 242.2h0M477.2 261.6h0M479.6 275.9h0M562.8 278.9h0M477.4 272.0h0M520.9 284.8h0M537.3 224.5h0M515.4 208.8h0M514.9 222.5h0M525.6 222.7h0M586.1 194.4h0M471.7 231.1h0M547.0 196.9h0" stroke="#0634ff" stroke-width="6.6" stroke-linecap="round" fill="none" opacity="0.6"/>
<path d="M581.3 124.1h0M501.5 184.5h0M487.9 260.2h0M519.0 207.5h0M519.9 236.3h0M511.0 209.7h0M490.4 287.0h0M557.9 260.2h0M501.7 216.8h0M496.7 304.1h0M496.9 251.6h0M525.7 164.6h0M504.6 277.2h0M518.7 164.0h0M502.5 221.0h0M543.0 273.9h0M513.6 187.8h0M472.3 270.7h0M516.0 209.2h0M533.6 177.7h0M594.8 190.2h0M506.6 282.8h0M491.7 287.6h0M484.5 277.3h0M537.6 173.0h0M503.3 256.5h0M476.2 289.1h0M556.5 260.0h0M496.6 212.5h0M515.9 238.4h0M532.8 223.1h0M486.2 260.0h0M502.8 247.8h0M529.3 212.2h0M489.2 285.5h0M514.7 249.7h0M562.4 218.5h0M533.8 204.6h0M493.6 213.8h0M470.1 221.9h0M495.3 189.2h0M439.4 201.4h0M491.5 253.7h0M584.0 244.7h0M535.0 223.0h0M461.4 237.5h0M515.9 260.7h0M473.2 176.7h0M523.5 246.8h0M478.2 290.9h0M547.5 173.1h0M483.0 239.7h0M541.4 210.7h0M485.9 229.0h0M507.7 260.8h0M490.9 295.5h0M517.4 279.0h0M507.2 187.6h0M519.6 230.3h0M524.8 241.9h0M555.1 252.8h0M509.7 236.0h0M476.7 286.4h0M543.8 221.9h0M511.4 275.6h0M513.1 177.2h0M507.8 224.2h0M444.5 222.4h0M477.5 146.1h0M567.9 248.5h0M497.2 257.7h0M555.4 194.8h0M497.6 267.3h0M519.7 249.7h0M534.6 239.8h0M495.6 256.6h0M477.9 259.2h0M537.1 289.5h0M480.7 193.2h0M536.8 230.1h0M539.8 246.5h0M487.0 293.9h0M579.3 155.8h0M503.7 263.2h0M560.2 257.4h0M553.9 219.3h0M493.2 211.4h0M495.3 251.8h0M509.7 172.3h0M476.3 207.7h0M579.9 202.7h0M569.4 255.0h0M481.5 271.5h0M460.3 209.9h0M491.3 269.2h0M523.6 238.0h0M493.6 259.0h0M486.3 218.2h0M565.1 271.8h0M536.1 238.1h0M562.3 159.5h0M508.6 217.2h0M475.5 233.0h0M541.2 260.2h0M490.4 259.3h0M487.6 250.3h0M464.7 212.8h0M519.1 241.4h0M501.6 198.6h0M433.3 202.7h0M550.1 271.3h0M482.1 257.7h0M530.4 130.4h0M479.3 201.6h0M497.9 245.8h0M510.5 203.4h0M517.1 228.1h0M593.9 285.8h0M539.7 254.8h0M538.9 253.5h0M465.0 222.1h0M505.2 197.5h0M490.2 223.7h0M487.7 279.3h0M478.5 195.3h0M540.2 221.7h0M518.1 248.3h0M459.4 197.6h0M572.7 258.0h0M513.1 230.5h0M514.1 228.4h0M532.8 285.2h0M515.4 266.0h0M488.5 206.5h0M540.3 210.7h0M492.2 243.2h0M505.9 210.3h0M511.4 229.7h0M511.9 212.3h0M507.9 236.6h0M487.5 216.8h0M479.6 206.5h0M540.1 220.2h0M461.6 266.7h0M472.4 270.3h0M494.8 200.5h0M497.3 306.5h0M550.1 195.8h0M440.2 251.7h0M572.0 270.0h0M503.0 216.0h0M481.7 265.3h0M499.3 181.5h0M525.9 263.9h0M548.6 295.0h0M522.4 228.2h0M467.6 220.4h0M484.7 274.5h0M489.8 227.2h0M527.7 207.1h0M502.7 191.2h0M514.9 273.0h0M466.7 226.9h0M533.7 251.4h0M474.4 252.9h0M514.1 249.7h0M484.2 207.4h0M523.9 190.2h0M483.7 261.8h0M543.2 116.9h0M515.4 212.0h0M494.1 279.7h0M485.1 213.4h0M468.4 245.5h0M481.0 213.8h0M603.4 187.3h0M483.7 239.7h0M511.5 240.5h0M502.1 219.2h0M501.7 288.6h0M525.3 233.6h0M522.5 267.2h0M518.1 266.1h0M435.8 252.1h0M489.4 228.3h0M493.5 259.3h0M528.9 302.1h0M489.1 204.3h0M511.8 287.2h0M540.8 195.1h0M506.5 270.7h0M500.9 216.2h0M490.0 234.7h0M524.8 252.5h0M504.1 252.1h0M472.5 238.2h0M540.9 276.2h0M493.4 283.4h0M465.6 237.6h0M478.8 163.5h0M492.3 244.1h0M518.7 247.6h0M490.4 264.9h0M506.4 265.3h0M510.3 233.8h0M528.1 264.3h0M523.7 296.7h0M496.5 251.7h0M451.3 251.3h0M521.5 220.5h0M517.8 244.0h0M494.4 136.1h0M526.8 276.7h0M610.1 222.7h0M498.5 216.2h0M489.8 151.8h0M543.6 205.0h0M510.9 251.9h0M494.5 261.3h0M507.6 254.5h0M536.8 262.7h0M465.6 186.1h0M550.8 155.1h0M551.0 249.0h0M510.9 229.7h0M543.3 209.2h0M479.6 206.2h0M491.2 263.7h0M512.2 228.5h0M510.1 207.2h0M499.4 273.6h0M499.8 247.5h0M493.2 298.9h0M483.9 193.0h0M529.2 224.4h0M446.8 201.8h0M470.8 240.6h0M577.2 186.6h0M490.3 240.0h0M535.9 207.8h0M498.9 261.2h0M510.6 199.2h0M503.2 225.4h0M498.1 204.2h0M522.6 199.0h0M505.3 191.1h0M501.7 179.9h0M560.8 210.3h0M484.7 209.6h0M506.7 300.7h0M520.6 167.8h0M507.4 212.1h0M498.0 215.4h0M498.7 280.8h0M543.4 194.8h0M506.1 260.2h0M486.5 225.0h0M512.3 270.5h0M495.9 181.4h0M575.6 189.5h0M500.0 284.1h0M490.5 275.5h0M491.0 203.4h0M522.4 204.7h0M488.3 220.5h0M535.1 215.4h0M494.7 196.1h0M498.6 294.9h0M543.9 197.8h0M513.2 264.5h0M541.6 295.4h0M569.9 272.6h0M495.2 225.2h0M509.2 267.1h0M545.7 282.8h0M521.0 229.7h0M510.3 263.2h0M601.1 289.6h0M509.2 211.7h0M518.6 198.7h0M478.5 283.0h0M521.3 202.5h0M514.9 258.3h0M494.2 260.9h0M491.4 254.6h0M513.3 294.5h0M454.2 251.1h0M505.8 197.1h0M550.6 262.5h0M518.4 258.7h0M498.9 310.7h0M583.2 263.5h0M462.7 234.6h0M482.5 194.9h0M485.7 272.6h0M510.0 211.6h0M475.9 282.8h0M440.6 209.8h0M509.1 227.1h0M515.5 206.7h0M500.5 266.2h0M486.6 268.8h0M512.0 253.3h0M478.6 178.2h0M460.4 227.9h0M487.0 166.5h0M528.4 237.5h0M540.1 160.7h0M600.3 188.6h0M508.2 247.7h0M508.7 231.7h0M499.8 245.1h0M543.2 226.7h0M544.0 227.3h0M481.4 263.3h0M544.7 235.8h0M524.1 221.9h0M490.1 192.3h0M493.5 245.8h0M473.6 207.3h0M488.6 230.1h0M483.8 268.2h0M532.3 215.4h0M535.6 230.4h0M508.3 288.8h0M516.6 234.2h0M483.0 210.3h0M505.7 196.1h0M464.8 224.1h0M514.8 216.4h0M539.6 187.4h0M489.6 200.2h0M560.7 168.0h0M475.2 241.1h0M495.1 242.0h0M547.8 281.7h0M506.3 232.3h0M530.3 246.2h0M523.1 185.7h0M493.2 290.9h0M477.4 271.1h0M501.4 264.3h0M544.0 221.7h0M494.4 205.9h0M531.4 232.5h0M533.2 256.3h0M492.7 223.8h0M507.1 253.7h0M543.1 236.7h0M501.7 249.6h0M481.2 222.2h0M469.2 256.3h0M527.9 223.7h0M530.3 189.0h0M509.4 205.5h0M552.6 278.6h0M525.7 158.0h0M496.5 233.2h0M489.6 242.6h0M483.0 266.6h0M528.1 207.4h0M544.4 237.9h0M526.1 261.7h0M503.2 218.9h0M486.1 229.3h0M559.5 258.2h0M521.7 214.6h0M470.0 250.8h0M513.9 257.4h0M527.5 214.9h0M499.9 245.9h0M469.0 224.1h0M495.9 273.3h0M514.7 215.2h0M472.8 198.9h0M514.3 273.4h0M449.3 248.5h0M524.6 225.7h0M537.3 235.0h0M541.3 190.4h0M487.1 220.3h0M515.5 196.1h0M478.9 207.0h0M503.0 226.5h0M507.3 247.0h0M530.9 186.3h0M478.9 276.4h0M581.4 198.9h0M564.7 279.4h0M455.0 214.8h0M537.0 206.5h0M510.4 216.3h0M470.4 259.1h0M586.8 280.3h0M558.2 152.6h0M470.1 228.8h0M506.7 263.0h0M449.1 250.5h0M555.6 226.7h0M544.4 209.6h0M480.1 250.9h0M538.4 173.1h0M507.5 110.4h0M467.9 248.1h0M508.3 287.6h0M492.4 187.9h0M562.0 179.4h0M481.2 230.6h0M493.2 232.3h0M516.9 204.4h0M509.9 253.5h0M510.8 196.4h0M530.3 267.0h0M501.4 243.2h0M515.0 206.7h0M539.6 190.0h0M536.3 207.3h0M542.2 184.9h0M549.3 236.9h0M511.3 273.7h0M501.4 200.9h0M501.1 267.4h0M495.6 259.6h0M462.7 245.3h0M516.0 211.6h0M530.6 212.6h0M558.0 299.6h0M512.9 221.6h0M479.0 267.7h0M508.4 142.2h0M505.8 239.6h0M507.7 232.9h0M463.2 191.0h0M516.5 192.0h0M646.1 180.5h0M484.1 175.8h0M503.3 286.3h0M508.5 258.9h0M499.1 190.8h0M486.1 279.0h0M555.7 197.4h0M530.5 271.5h0M523.9 234.8h0M454.2 216.9h0M507.9 227.7h0M489.7 229.3h0M466.4 196.8h0M491.5 269.9h0M488.7 223.9h0M532.3 196.7h0M481.0 289.1h0M581.1 91.2h0M551.9 246.7h0M492.1 216.0h0M479.2 263.2h0M509.0 208.7h0M532.0 234.4h0M669.8 264.9h0M457.2 250.2h0M444.5 256.9h0M528.0 269.6h0M518.3 190.3h0M460.7 243.0h0M515.6 254.0h0M465.9 211.6h0M486.4 289.4h0M534.6 203.5h0M480.6 215.5h0M506.3 215.5h0M553.4 259.8h0M544.0 126.5h0M495.5 267.4h0M479.4 227.6h0M491.8 250.6h0M523.6 224.9h0M482.2 252.6h0M528.6 245.2h0M474.4 209.7h0M562.9 175.2h0M462.5 279.1h0M457.1 244.3h0M496.6 260.8h0M496.6 279.3h0M513.1 197.4h0M485.4 219.4h0M518.0 226.3h0M537.6 207.3h0M488.2 291.5h0M487.3 279.0h0M484.6 200.9h0M481.4 193.6h0M481.0 184.3h0M486.4 280.8h0M490.8 248.5h0M512.4 289.5h0M511.5 188.8h0M542.8 183.8h0M541.2 237.8h0M512.0 213.2h0M505.9 195.8h0M521.6 239.6h0M460.0 252.8h0M598.4 137.9h0M548.1 197.1h0M534.3 227.4h0M554.0 180.7h0M533.0 224.0h0M570.8 196.9h0M502.5 274.3h0M520.6 183.2h0M460.7 211.8h0M475.3 253.4h0M512.2 257.4h0M499.0 227.5h0M576.7 205.3h0M449.9 246.5h0M487.7 302.6h0M449.5 219.3h0M530.1 235.4h0M533.9 206.1h0M497.4 253.6h0M478.0 257.9h0M450.9 213.4h0M482.9 231.3h0M500.5 286.1h0M532.4 196.2h0M507.9 260.2h0M479.9 263.9h0M441.3 228.0h0M491.1 161.5h0M549.3 176.7h0M489.7 253.6h0M513.4 219.8h0M575.7 223.6h0M529.5 227.5h0M485.2 141.2h0M509.1 192.3h0M562.0 266.4h0M532.4 190.4h0M464.3 242.3h0M510.2 209.4h0M493.7 216.7h0M518.0 246.2h0M550.2 152.7h0M480.2 276.5h0M504.1 181.8h0M512.9 263.3h0M484.0 267.5h0M559.2 180.4h0M570.8 225.3h0M488.5 263.7h0M463.8 249.0h0M524.6 184.9h0M528.3 221.3h0M464.2 239.6h0M471.8 236.2h0M487.0 236.1h0M587.5 236.6h0M554.4 286.0h0M496.3 225.7h0M535.1 284.1h0M506.3 258.1h0M466.4 227.3h0M594.5 230.2h0M509.6 257.5h0M533.6 239.3h0M439.9 295.6h0M532.8 240.6h0M503.2 213.5h0M549.2 196.6h0M433.6 219.1h0M441.0 233.2h0M487.4 244.5h0M483.7 202.1h0M526.6 193.0h0M535.4 202.6h0M513.1 248.7h0M548.3 281.8h0M466.8 215.0h0M643.0 101.2h0M529.8 260.2h0M554.0 224.4h0M539.7 182.1h0M485.7 236.7h0M551.0 295.2h0M549.6 193.7h0M480.3 260.5h0M516.9 219.2h0M468.8 196.0h0M528.8 210.3h0M537.6 260.6h0M495.9 256.9h0M481.5 279.7h0M517.2 199.5h0M492.5 258.2h0M521.5 206.2h0M481.7 279.7h0M512.3 272.8h0M549.9 298.3h0M545.5 215.8h0M473.5 241.9h0M539.9 178.8h0M540.3 176.2h0M477.0 279.0h0M435.6 264.4h0M525.9 156.7h0M496.7 242.0h0M474.8 234.9h0M486.0 269.4h0M439.1 190.6h0M505.1 250.2h0M479.6 214.4h0M535.8 165.9h0M490.8 261.7h0M471.1 201.9h0M522.1 240.4h0M477.4 231.3h0M561.6 208.2h0M492.9 289.7h0M487.1 282.7h0M453.9 221.2h0M492.7 216.8h0M475.8 204.1h0M534.0 213.2h0M458.7 234.5h0M485.6 253.8h0M467.8 214.0h0M520.3 244.9h0M487.7 236.1h0M523.8 268.2h0M460.4 255.4h0M531.8 216.8h0M488.6 209.2h0M536.7 186.1h0M498.3 260.8h0M542.4 195.1h0M483.1 294.3h0M453.8 245.9h0M484.2 191.1h0M506.2 193.9h0M462.8 262.5h0M478.3 239.7h0M450.6 255.9h0M543.2 269.1h0M538.1 225.5h0M483.7 197.3h0M494.5 221.2h0M503.0 219.2h0M506.0 185.8h0M496.5 224.2h0M534.2 207.1h0M447.0 278.3h0M524.5 199.8h0M546.7 190.7h0M498.1 236.5h0M584.6 215.1h0M513.6 199.9h0M496.5 278.0h0M506.2 203.3h0M498.0 214.0h0M489.7 231.3h0M486.4 210.9h0M570.1 254.2h0M554.9 249.0h0M501.1 263.3h0M540.5 275.7h0M527.3 243.1h0M519.4 211.5h0M469.0 248.3h0M477.4 264.8h0M492.5 180.8h0M545.9 206.2h0M446.8 257.5h0M463.3 239.9h0M517.1 163.5h0M512.3 198.7h0M449.5 223.4h0M478.6 278.6h0M451.2 272.7h0M475.9 227.8h0M545.1 194.5h0M471.6 206.7h0M513.9 211.0h0M569.3 206.7h0M467.0 219.7h0M486.8 254.4h0M457.2 227.4h0M506.3 249.3h0M496.8 289.9h0M521.0 243.9h0M469.4 274.7h0M576.0 135.5h0M486.1 258.5h0M483.1 232.9h0M502.8 242.7h0M479.4 193.1h0M594.9 150.7h0M564.8 235.1h0M523.1 214.4h0M470.2 227.1h0M533.4 223.2h0M510.0 236.0h0M489.5 213.3h0M493.6 271.9h0M518.7 247.9h0M467.4 228.7h0M496.5 236.3h0M549.1 208.5h0M487.1 198.4h0M495.2 240.4h0M494.4 152.3h0M559.0 261.1h0M478.7 205.4h0M528.6 191.7h0M536.1 270.9h0M448.3 193.4h0M500.9 239.0h0M500.2 223.3h0M553.9 163.4h0M529.6 208.8h0M432.5 226.9h0M542.9 209.8h0M463.5 215.0h0M520.7 247.9h0M476.0 283.0h0M475.9 154.5h0M542.6 157.2h0M505.9 172.5h0M494.2 231.8h0M465.7 178.0h0M500.7 199.5h0M490.4 231.9h0M536.9 225.3h0M591.4 108.4h0M550.4 266.5h0M505.4 199.7h0M575.1 178.6h0M515.4 290.3h0M544.6 238.4h0M537.2 121.7h0M510.0 276.1h0M547.2 209.5h0M503.7 228.3h0M490.7 235.6h0M468.9 269.8h0M542.9 196.4h0M484.9 286.5h0M521.5 253.2h0M488.0 240.8h0M539.7 209.1h0M512.2 158.0h0M435.4 228.5h0M497.6 276.3h0M530.4 195.4h0M513.8 223.2h0M516.0 205.8h0M467.3 239.8h0M532.6 158.8h0M523.1 246.8h0M547.3 170.7h0M487.0 273.1h0M529.3 207.2h0M524.0 254.1h0M460.2 122.9h0M519.1 214.3h0M431.7 223.6h0M568.0 174.7h0M500.1 240.5h0M488.2 278.0h0M469.2 209.6h0M562.0 191.3h0M556.4 205.7h0M450.2 178.8h0M518.3 252.6h0M510.9 191.6h0M465.1 197.8h0M497.1 218.6h0M477.1 182.5h0M496.7 208.9h0M495.1 178.8h0M510.8 244.1h0M447.8 230.0h0M487.5 207.5h0M538.6 208.0h0M517.9 246.7h0M505.5 171.8h0M489.1 258.1h0M487.8 283.9h0M513.9 210.7h0M495.7 227.6h0M534.7 209.7h0M514.4 216.6h0M462.8 205.7h0M497.7 205.7h0M531.3 269.9h0M440.9 251.7h0M470.1 216.2h0M545.9 260.4h0M533.2 247.7h0M484.2 243.6h0M532.7 220.3h0M499.3 206.5h0M557.5 247.1h0M511.6 282.1h0M447.8 261.8h0M474.5 288.4h0M480.4 244.4h0M504.7 252.5h0M514.8 231.8h0M478.1 271.0h0M478.4 246.8h0M488.2 267.4h0M457.3 252.2h0M537.7 291.1h0M516.0 278.0h0M496.0 213.2h0M554.6 268.0h0M495.6 213.6h0M540.4 291.4h0M537.0 262.8h0M510.8 184.9h0M533.9 239.1h0M504.9 277.9h0M447.9 257.7h0M520.8 191.5h0M491.6 266.3h0M494.9 221.3h0M483.2 270.7h0M494.0 269.6h0M463.9 247.1h0M471.7 212.6h0M548.4 209.6h0M485.6 185.4h0M473.1 262.6h0M503.1 304.6h0M447.1 238.6h0M476.8 244.6h0M502.1 277.1h0M482.6 292.5h0M528.1 222.3h0M568.0 278.6h0M485.8 184.8h0M538.1 195.1h0M511.2 208.4h0M477.9 211.5h0M494.5 209.9h0M522.0 232.8h0M509.4 181.4h0M497.1 206.4h0M480.9 293.9h0M494.6 263.9h0M549.6 243.8h0M478.1 235.2h0M506.5 223.7h0M486.8 230.5h0" stroke="#0634ff" stroke-width="6.6" stroke-linecap="round" fill="none" opacity="0.6"/>
<path d="M509.0 213.0h0M472.2 94.6h0M512.9 194.7h0M513.6 190.2h0M530.1 230.9h0M534.4 263.1h0M494.7 175.6h0M532.2 177.1h0M480.8 263.7h0M466.1 214.5h0M445.9 204.9h0M459.3 134.5h0M499.9 250.1h0M532.9 213.8h0M531.2 248.1h0M571.6 256.0h0M484.7 224.5h0M533.0 193.6h0M461.3 211.6h0M469.0 265.6h0M587.9 175.3h0M477.4 268.1h0M564.2 190.8h0M499.9 242.8h0M483.0 265.9h0M491.8 257.3h0M460.2 195.6h0M557.6 229.9h0M473.8 229.9h0M538.7 277.6h0M480.0 218.5h0M499.0 253.4h0M516.4 176.9h0M502.7 237.2h0M479.9 216.7h0M496.9 225.7h0M536.2 220.6h0M586.0 243.2h0M452.2 243.6h0M452.0 197.3h0M457.8 265.9h0M516.2 203.1h0M492.4 214.9h0M465.2 220.8h0M484.1 221.5h0M534.9 261.9h0M499.1 280.1h0M502.4 209.3h0M515.8 249.4h0M491.4 211.4h0M584.2 204.6h0M485.4 231.8h0M507.4 228.5h0M494.9 251.0h0M504.5 269.3h0M518.8 218.5h0M492.4 288.6h0M507.4 174.0h0M469.9 238.0h0M493.1 231.6h0M491.9 190.4h0M502.2 251.9h0M525.4 234.8h0M460.2 234.6h0M483.1 239.4h0M467.8 219.5h0M484.7 277.6h0M512.6 291.2h0M501.5 278.3h0M476.8 291.7h0M518.5 227.5h0M476.7 189.5h0M509.3 211.4h0M461.3 227.8h0M599.6 191.2h0M480.8 267.9h0M437.1 225.6h0M539.7 212.2h0M540.4 122.4h0M501.7 282.3h0M533.3 226.6h0M545.4 185.3h0M507.8 162.5h0M510.9 190.7h0M477.3 285.5h0M494.6 229.5h0M483.0 220.9h0M558.6 233.1h0M558.8 293.0h0M506.6 255.2h0M535.0 298.9h0M486.4 191.5h0M523.4 192.5h0M519.9 203.6h0M503.2 216.1h0M530.6 263.1h0M486.1 246.9h0M531.3 221.8h0M482.5 289.9h0M508.0 275.8h0M494.0 229.7h0M516.0 198.0h0M502.7 189.2h0M524.8 256.8h0M474.6 249.8h0M452.2 232.6h0M554.2 282.9h0M595.4 188.7h0M494.0 211.6h0M512.5 228.1h0M574.3 280.0h0M543.1 289.5h0M484.9 215.6h0M529.5 174.5h0M488.1 197.3h0M660.9 231.0h0M522.2 209.7h0M520.6 250.0h0M530.9 208.3h0M505.1 219.9h0M448.3 207.8h0M491.4 224.9h0M573.7 284.4h0M494.5 199.8h0M545.1 213.3h0M485.9 221.6h0M546.6 268.3h0M476.7 297.0h0M493.3 179.0h0M462.6 257.1h0M449.8 242.1h0M556.3 180.1h0M538.0 231.1h0M543.8 281.0h0M568.9 262.6h0M514.3 191.8h0M495.4 213.1h0M557.6 259.5h0M513.8 215.4h0M508.4 233.3h0M560.0 231.7h0M463.5 194.9h0M452.8 218.2h0M531.8 269.7h0M480.4 197.2h0M588.1 279.6h0M509.1 288.8h0M472.9 236.2h0M524.6 248.8h0M466.5 250.2h0M489.4 262.6h0M484.6 257.9h0M436.1 279.3h0M504.7 282.2h0M553.3 241.7h0M493.0 271.7h0M448.0 243.3h0M500.7 201.7h0M544.5 226.5h0M505.2 274.2h0M516.5 185.2h0M577.7 178.0h0M448.8 252.1h0M483.8 294.9h0M465.1 202.7h0M498.3 199.8h0M494.1 195.8h0M481.0 259.7h0M552.9 264.7h0M522.6 196.4h0M472.3 237.1h0M526.6 188.5h0M510.0 188.5h0M469.0 209.2h0M520.9 182.0h0M487.6 261.0h0M538.9 186.8h0M525.8 238.2h0M505.5 264.9h0M522.2 226.5h0M521.5 203.5h0M474.9 265.7h0M566.8 206.3h0M480.4 256.6h0M506.3 288.6h0M490.4 227.9h0M544.5 229.5h0M462.9 251.8h0M473.8 203.5h0M498.8 219.6h0M519.7 191.6h0M486.9 289.4h0M540.2 173.0h0M499.3 194.4h0M501.4 283.7h0M497.9 211.9h0M483.5 268.8h0M488.9 223.6h0M506.3 204.9h0M497.5 225.4h0M469.5 244.6h0M546.6 184.9h0M460.8 219.0h0M457.3 214.0h0M603.9 230.3h0M605.9 78.6h0M559.3 201.8h0M494.4 227.2h0M514.5 211.6h0M463.1 270.6h0M452.7 222.1h0M480.2 152.8h0M558.4 233.6h0M551.9 233.7h0M444.7 213.1h0M506.3 248.2h0M472.0 245.6h0M493.3 164.6h0M525.4 265.7h0M497.8 221.6h0M514.5 204.9h0M568.7 260.8h0M485.7 265.3h0M476.1 282.5h0M534.4 256.3h0M534.0 170.1h0M492.5 231.3h0M525.0 230.6h0M509.1 192.6h0M478.2 237.8h0M507.0 281.9h0M499.7 197.6h0M503.4 248.1h0M475.5 114.4h0M476.1 193.6h0M540.8 189.1h0M472.1 225.5h0M543.0 159.3h0M492.1 187.9h0M501.3 294.5h0M509.3 291.6h0M533.8 185.0h0M495.6 215.6h0M541.1 257.0h0M500.0 159.8h0M441.3 239.6h0M518.7 204.6h0M495.0 223.3h0M475.4 239.6h0M502.5 220.4h0M501.9 162.5h0M500.1 239.4h0M492.6 233.9h0M469.7 203.0h0M552.5 214.7h0M497.4 210.6h0M490.8 229.5h0M585.6 208.2h0M493.7 216.2h0M479.4 240.6h0M510.3 217.0h0M477.7 230.8h0M491.3 207.4h0M544.5 194.7h0M523.4 221.0h0M560.4 237.2h0M480.5 255.7h0M481.9 231.2h0M499.2 227.4h0M497.2 285.6h0M540.6 218.8h0M537.1 199.8h0M462.7 227.4h0M583.6 193.0h0M490.0 224.7h0M478.0 159.5h0M525.9 237.0h0M491.4 167.5h0M487.9 181.9h0M533.2 262.2h0M463.4 232.8h0M490.7 297.9h0M478.0 250.3h0M471.0 210.0h0M524.1 215.9h0M496.4 309.7h0M479.8 271.6h0M464.4 219.0h0M482.5 244.5h0M544.4 249.1h0M495.6 234.2h0M442.0 263.3h0M490.2 273.1h0M534.9 175.0h0M453.0 239.8h0M506.9 244.1h0M454.1 195.2h0M456.0 222.7h0M559.3 222.8h0M527.8 275.1h0M501.9 207.9h0M516.5 191.6h0M542.5 214.8h0M510.7 267.3h0M529.7 241.6h0M492.7 213.8h0M462.1 234.5h0M493.5 231.8h0M529.6 194.5h0M538.4 257.1h0M462.3 147.7h0M546.9 297.6h0M485.7 298.4h0M492.3 209.2h0M482.2 283.9h0M475.3 243.7h0M488.0 179.2h0M512.0 193.2h0M471.1 165.9h0M482.2 257.5h0M584.6 151.1h0M511.4 234.6h0M509.8 211.2h0M528.7 278.6h0M501.8 199.3h0M587.9 74.1h0M488.1 293.1h0M501.3 224.4h0M529.8 237.7h0M506.8 275.5h0M478.7 257.4h0M439.9 254.3h0M489.6 213.6h0M497.1 280.8h0M497.8 220.1h0M569.0 238.4h0M558.1 198.2h0M471.8 246.6h0M491.9 239.1h0M450.3 221.4h0M506.9 168.5h0M492.1 220.7h0M610.3 226.0h0M485.9 252.1h0M510.2 210.3h0M451.1 237.5h0M500.3 277.9h0M501.8 213.9h0M511.7 168.7h0M534.1 221.2h0M530.9 277.5h0M497.6 223.9h0M515.3 196.5h0M486.4 301.1h0M504.2 183.1h0M494.4 215.7h0M626.9 186.8h0M499.3 254.0h0M475.1 283.9h0M476.4 240.5h0M466.4 202.8h0M499.1 204.3h0M542.0 209.4h0M551.7 262.9h0M494.6 241.6h0M436.2 213.7h0M539.5 206.5h0M530.1 227.6h0M462.3 233.6h0M564.7 160.9h0M486.0 237.9h0M447.0 244.2h0M497.9 294.9h0M518.3 187.5h0M481.1 271.6h0M519.9 257.0h0M454.2 216.2h0M458.7 229.9h0M482.7 215.4h0M488.1 264.7h0M556.2 257.5h0M476.4 286.0h0M569.0 190.0h0M508.1 249.7h0M467.6 201.2h0M636.6 171.0h0M555.4 283.5h0M494.5 233.1h0M529.0 287.6h0M512.2 279.0h0M585.7 188.3h0M508.2 245.7h0M477.7 223.8h0M483.1 279.1h0M523.7 208.1h0M488.8 256.3h0M434.8 197.3h0M447.6 232.4h0M470.6 250.2h0M506.9 264.3h0M441.8 248.4h0M530.0 238.1h0M496.1 206.3h0M504.0 252.3h0M500.9 264.2h0M486.1 238.0h0M451.2 246.1h0M446.4 250.9h0M490.8 247.2h0M506.7 204.0h0M517.4 259.0h0M540.6 260.5h0M489.3 256.2h0M535.6 250.9h0M483.9 283.6h0M475.8 235.9h0M510.8 214.6h0M489.9 237.5h0M482.1 288.5h0M522.6 187.3h0M490.5 227.4h0M436.6 222.1h0M495.4 218.9h0M490.1 230.0h0M573.5 136.2h0M473.7 268.8h0M551.7 254.4h0M522.5 199.2h0M490.5 201.1h0M551.6 235.0h0M465.5 236.7h0M483.0 259.2h0M487.3 233.3h0M469.4 217.5h0M499.4 184.1h0M493.2 198.6h0M530.4 222.6h0M574.9 270.3h0M489.5 303.3h0M481.0 281.7h0M486.3 229.8h0M480.8 271.0h0M482.2 185.1h0M536.1 204.7h0M491.0 283.2h0M484.2 199.6h0M501.6 239.9h0M496.4 284.4h0M547.5 172.3h0M489.6 217.5h0M546.7 222.4h0M501.4 301.0h0M517.9 263.4h0M492.8 237.6h0M505.6 189.4h0M544.1 220.9h0M506.7 275.4h0M538.4 212.6h0M449.0 226.5h0M498.1 242.8h0M534.5 185.9h0M473.3 279.6h0M554.2 276.1h0M529.3 281.3h0M461.8 234.6h0M506.2 270.3h0M531.2 249.0h0M488.2 176.6h0M508.1 226.4h0M511.6 209.5h0M564.5 239.0h0M507.2 179.8h0M489.6 243.7h0M548.0 267.8h0M528.7 213.2h0M482.8 269.8h0M514.2 226.5h0M519.8 174.1h0M517.6 279.4h0M529.1 229.8h0M497.3 248.0h0M498.4 260.1h0M501.5 229.5h0M516.2 261.9h0M508.3 267.7h0M526.7 199.9h0M479.4 261.0h0M507.5 231.2h0M491.3 280.1h0M500.4 262.4h0M499.3 165.4h0M503.2 241.6h0M499.7 225.9h0M547.9 209.4h0M482.4 275.5h0M527.8 233.7h0M471.2 253.3h0M506.1 241.1h0M535.2 257.3h0M572.6 235.3h0M542.1 188.0h0M526.9 223.3h0M469.3 235.4h0M494.2 307.6h0M486.8 281.1h0M538.1 278.4h0M563.1 267.0h0M532.2 293.8h0M507.8 215.0h0M532.9 231.2h0M494.3 223.9h0M493.4 218.0h0M500.5 252.3h0M472.5 232.4h0M538.9 223.1h0M498.6 167.8h0M507.5 195.4h0M483.7 209.1h0M544.0 265.2h0M516.1 196.5h0M452.9 221.9h0M519.7 232.5h0M529.0 249.3h0M503.6 156.1h0M466.7 253.8h0M474.8 247.1h0M650.5 126.6h0M477.8 195.3h0M549.8 197.6h0M464.3 253.0h0M501.1 252.2h0M530.0 215.4h0M617.9 184.9h0M500.1 199.4h0M461.2 206.6h0M459.1 255.4h0M499.6 276.1h0M449.0 243.8h0M499.4 283.3h0M504.4 271.9h0M485.8 269.2h0M520.2 195.0h0M490.1 191.1h0M627.1 286.1h0M481.2 225.2h0M474.8 263.7h0M496.8 255.9h0M489.6 223.8h0M555.6 235.7h0M523.9 254.2h0M484.6 263.1h0M512.0 260.8h0M514.1 236.2h0M474.8 178.6h0M543.6 211.4h0M498.2 231.9h0M501.8 220.7h0M491.4 246.7h0M509.2 216.6h0M506.5 224.5h0M451.6 192.5h0M503.8 202.6h0M581.3 200.6h0M495.7 272.7h0M549.6 148.5h0M493.0 220.9h0M527.5 191.5h0M490.5 296.1h0M526.8 213.6h0M494.2 217.7h0M472.6 223.0h0M481.6 238.0h0M526.2 225.9h0M479.4 207.1h0M506.8 275.2h0M505.9 255.3h0M487.1 214.5h0M509.2 192.9h0M551.6 217.4h0M555.8 282.8h0M607.9 263.1h0M505.9 199.1h0M501.6 254.1h0M502.6 176.4h0M433.6 240.3h0M491.8 195.1h0M587.7 250.8h0M512.8 210.1h0M528.7 192.2h0M497.8 196.0h0M436.9 250.6h0M441.3 204.6h0M494.7 290.9h0M476.7 243.0h0M496.8 302.7h0M501.2 281.3h0M512.9 212.4h0M485.7 226.2h0M473.6 175.2h0M453.3 292.8h0M525.0 230.9h0M505.5 229.7h0M486.3 175.2h0M513.0 214.6h0M508.0 163.5h0M508.5 202.9h0M446.7 240.7h0M504.3 270.2h0M525.5 167.4h0M529.6 194.5h0M498.6 271.4h0M484.4 291.6h0M485.7 210.0h0M496.1 184.8h0M468.5 237.9h0M498.0 169.1h0M487.9 214.6h0M481.6 287.4h0M521.1 194.8h0M529.8 221.7h0M503.7 247.3h0M490.6 277.0h0M534.7 285.4h0M546.5 229.8h0M482.6 221.8h0M514.5 241.4h0M542.3 292.4h0M525.4 221.0h0M505.2 261.6h0M499.1 260.2h0M500.3 224.6h0M459.4 238.0h0M520.7 213.2h0M459.4 257.4h0M507.5 255.9h0M560.3 230.7h0M504.1 215.2h0M498.0 218.6h0M446.0 179.8h0M504.2 188.2h0M491.9 293.3h0M458.0 230.7h0M552.2 182.4h0M447.9 192.3h0M434.8 246.2h0M530.0 211.9h0M506.6 264.1h0M482.7 201.2h0M557.3 229.7h0M519.1 246.3h0M508.4 210.8h0M604.3 177.2h0M489.2 265.7h0M549.5 207.9h0M562.1 190.4h0M489.4 261.2h0M484.4 217.4h0M488.4 209.6h0M497.9 290.8h0M509.4 253.9h0M541.8 252.7h0M552.0 278.2h0M519.6 205.3h0M486.3 274.4h0M549.8 224.1h0M516.3 234.5h0M482.6 247.9h0M470.6 253.1h0M482.3 260.9h0M503.3 213.1h0M541.5 223.9h0M522.2 223.9h0M531.1 274.3h0M475.8 197.7h0M471.4 173.1h0M487.5 174.5h0M475.1 208.8h0M487.1 299.2h0M504.2 227.6h0M493.8 291.1h0M523.6 196.1h0M548.6 252.1h0M532.4 279.5h0M523.9 265.6h0M501.0 240.0h0M493.5 209.1h0M506.2 251.7h0M548.3 240.4h0M482.7 214.6h0M481.8 236.0h0M482.2 208.7h0M449.1 220.0h0M477.4 259.8h0M527.7 206.0h0M465.5 226.4h0M504.3 239.3h0M488.5 261.5h0M488.2 225.7h0M504.7 189.9h0M529.7 152.2h0M453.2 184.1h0M529.4 213.0h0M493.0 207.3h0M535.7 264.4h0M491.9 264.6h0M459.3 252.1h0M483.9 229.5h0M501.5 230.7h0M532.1 185.2h0M497.5 219.5h0M543.6 261.7h0M493.6 286.8h0M552.3 289.3h0M496.8 220.1h0M536.4 283.5h0M501.7 298.8h0M539.8 204.6h0M452.5 237.8h0M564.2 232.9h0M509.8 185.7h0M480.4 230.6h0M588.4 200.1h0M491.6 182.2h0M513.8 211.5h0M542.5 181.7h0M536.6 207.0h0M507.5 238.7h0M513.6 190.0h0M485.8 219.4h0M485.4 237.3h0M501.3 225.0h0M487.2 260.2h0M549.1 242.1h0M506.8 185.4h0M521.1 228.0h0M498.6 226.8h0M530.2 272.1h0M456.7 207.9h0M537.0 224.8h0M542.9 220.5h0M516.4 251.3h0M516.5 240.2h0M498.6 274.5h0M519.0 209.7h0M463.1 294.1h0M497.9 224.0h0M487.1 244.9h0M494.1 244.8h0M514.0 284.7h0M602.7 219.3h0M487.8 289.7h0M510.9 217.2h0M642.2 190.6h0M491.3 299.5h0M468.3 265.1h0M497.3 199.1h0M574.3 259.4h0M496.3 276.0h0M574.7 241.4h0M505.4 263.2h0M581.4 163.0h0M491.4 288.8h0M534.5 239.2h0M508.8 235.4h0M499.1 205.4h0M522.7 275.3h0M575.0 270.7h0M499.6 242.4h0M481.0 229.7h0M583.5 212.9h0M563.2 250.9h0M491.6 264.7h0M510.4 191.4h0M466.3 226.5h0M480.5 204.2h0M524.6 213.4h0M525.1 242.0h0M549.6 264.6h0M509.9 186.5h0M448.8 236.5h0M482.5 263.8h0M499.6 267.7h0M509.1 210.9h0M489.7 185.1h0M503.8 187.9h0M461.5 216.1h0M466.2 191.5h0M470.7 230.7h0M537.5 184.9h0M450.2 174.3h0M520.7 215.0h0M458.5 237.1h0M515.2 253.4h0M561.4 212.1h0M521.9 252.7h0M500.7 213.9h0M511.7 182.9h0M518.4 236.3h0M439.8 205.0h0M493.9 220.4h0M561.8 248.3h0M512.5 266.7h0M491.0 236.0h0M498.2 255.6h0M499.3 228.4h0M551.0 290.9h0M554.5 245.8h0M508.5 256.2h0M481.9 187.2h0M486.1 232.0h0M446.3 229.6h0M491.2 278.9h0M551.4 221.5h0M506.5 224.4h0M525.5 210.4h0M535.8 181.6h0M572.0 195.6h0M451.2 245.3h0M528.8 175.7h0M553.5 142.6h0M552.1 207.7h0M523.4 242.2h0M459.4 198.8h0M495.7 282.7h0M533.8 228.7h0M520.5 199.8h0M494.8 246.9h0M483.3 216.7h0M434.3 258.9h0M504.4 202.4h0M506.4 272.9h0M509.3 243.5h0M521.1 207.6h0M502.1 256.3h0M516.2 238.6h0M511.5 261.5h0M446.0 262.1h0M463.1 220.7h0M448.8 200.4h0M510.4 202.1h0M516.6 223.5h0M500.1 291.6h0M502.7 290.7h0M486.6 274.9h0M539.7 269.1h0M472.6 249.1h0M501.7 163.3h0M525.3 237.7h0M484.2 220.9h0M484.6 228.5h0M495.2 259.4h0M480.1 237.5h0M439.2 275.7h0M494.8 275.7h0M548.3 282.1h0" stroke="#0634ff" stroke-width="6.6" stroke-linecap="round" fill="none" opacity="0.6"/>
<path d="M517.5 223.0h0M492.0 249.3h0M524.0 207.4h0M480.1 286.1h0M504.5 222.2h0M534.4 214.2h0M500.9 212.5h0M522.0 254.1h0M544.5 212.9h0M468.7 240.8h0M519.7 201.4h0M464.9 221.2h0M524.9 294.4h0M516.6 218.5h0M532.6 232.7h0M482.4 250.8h0M490.8 269.8h0M467.0 238.2h0M494.1 277.4h0M488.4 221.8h0M487.4 205.4h0M507.5 242.3h0M516.1 285.2h0M532.5 288.9h0M452.4 248.0h0M523.8 175.4h0M471.0 240.0h0M534.0 200.3h0M433.5 261.5h0M465.8 121.4h0M564.3 239.3h0M560.7 145.1h0M493.8 218.9h0M527.3 226.2h0M528.3 235.5h0M509.1 261.2h0M481.1 222.4h0M485.6 280.5h0M487.7 272.0h0M493.6 271.9h0M536.5 176.5h0M502.4 266.4h0M543.9 231.6h0M562.3 202.4h0M541.7 241.4h0M471.8 201.2h0M481.4 225.0h0M519.7 276.2h0M508.6 261.0h0M500.9 285.3h0M486.5 176.3h0M518.4 282.6h0M514.5 255.9h0M568.8 196.5h0M547.1 264.5h0M489.9 293.1h0M472.0 232.3h0M530.7 219.6h0M480.0 201.2h0M493.5 190.8h0M530.7 235.8h0M481.1 260.9h0M474.7 249.1h0M433.3 233.9h0M534.4 173.0h0M473.1 274.4h0M579.3 175.3h0M506.9 278.1h0M496.5 201.9h0M542.1 189.9h0M543.0 222.1h0M490.8 200.0h0M512.1 247.6h0M555.9 295.1h0M523.1 232.1h0M484.6 261.5h0M495.8 207.6h0M501.5 254.1h0M541.2 130.7h0M497.6 193.6h0M543.6 201.4h0M481.9 220.5h0M454.5 189.6h0M492.4 240.5h0M533.1 269.4h0M559.2 203.4h0M573.7 253.7h0M459.8 240.8h0M495.9 293.6h0M546.3 290.2h0M512.4 237.8h0M503.4 211.8h0M457.3 243.1h0M473.1 213.3h0M474.3 212.1h0M530.9 242.5h0M484.8 255.8h0M512.7 232.7h0M480.0 221.4h0M502.8 229.2h0M483.4 214.7h0M529.7 236.8h0M546.0 200.2h0M559.4 256.5h0M455.1 213.3h0M528.2 203.6h0M455.7 198.4h0M501.7 218.4h0M456.7 213.9h0M543.1 231.2h0M527.0 236.1h0M531.6 253.5h0M538.5 246.4h0M553.6 208.6h0M519.8 238.0h0M464.5 205.1h0M477.7 261.3h0M496.0 250.2h0M497.8 287.2h0M494.6 208.0h0M473.8 238.9h0M473.8 204.1h0M496.7 259.2h0M518.3 193.6h0M459.5 266.0h0M504.1 239.6h0M560.9 171.5h0M508.9 244.7h0M515.3 199.6h0M489.2 256.3h0M494.6 265.9h0M487.2 263.3h0M522.6 188.6h0M484.4 270.5h0M495.3 229.1h0M529.6 230.3h0M460.2 260.6h0M482.9 264.9h0M526.5 271.8h0M447.7 220.8h0M492.4 210.2h0M500.8 217.1h0M492.7 213.9h0M524.9 251.7h0M506.3 244.6h0M520.5 280.1h0M501.1 287.0h0M509.4 171.5h0M487.2 259.1h0M508.1 258.8h0M533.6 231.0h0M504.3 243.2h0M500.6 227.5h0M508.4 213.8h0M535.7 242.1h0M542.3 177.6h0M494.6 180.7h0M565.1 210.4h0M443.2 241.1h0M455.4 236.8h0M536.6 202.1h0M461.3 242.7h0M493.6 191.1h0M508.2 176.6h0M519.5 179.5h0M456.0 182.3h0M497.8 248.8h0M457.5 270.4h0M521.9 226.8h0M548.8 214.8h0M525.3 269.3h0M517.3 207.9h0M549.6 205.5h0M463.2 195.1h0M568.9 267.6h0M549.3 240.2h0M483.7 296.5h0M489.9 250.2h0M528.6 207.2h0M515.4 206.0h0M516.4 199.9h0M472.8 241.1h0M528.9 267.4h0M466.6 276.6h0M503.4 225.0h0M455.3 206.2h0M499.9 193.2h0M520.1 202.0h0M483.0 205.3h0M535.2 245.7h0M497.0 218.6h0M538.0 284.3h0M473.6 229.8h0M526.0 254.7h0M492.7 272.2h0M460.5 283.0h0M496.3 282.7h0M467.9 220.6h0M498.5 170.6h0M506.5 275.7h0M490.2 219.9h0M491.6 232.3h0M448.7 256.3h0M511.3 258.7h0M501.8 248.6h0M521.9 224.0h0M558.6 241.5h0M486.9 266.4h0M522.3 232.0h0M486.6 217.6h0M531.3 230.1h0M569.0 221.3h0M492.9 240.8h0M471.6 247.2h0M506.3 221.3h0M517.0 227.6h0M507.0 247.7h0M479.0 238.4h0M522.2 245.9h0M520.9 140.6h0M489.1 285.2h0M458.3 181.1h0M503.5 148.6h0M514.3 264.0h0M507.8 282.4h0M562.1 283.5h0M486.9 256.9h0M538.3 217.0h0M528.5 219.6h0M497.4 202.2h0M494.2 247.8h0M537.2 232.0h0M482.2 247.4h0M499.1 219.3h0M493.4 243.7h0M506.2 256.7h0M498.3 222.9h0M486.0 277.5h0M484.5 263.1h0M505.2 279.3h0M493.5 255.1h0M495.5 229.4h0M505.9 224.8h0M462.0 199.6h0M470.0 236.7h0M498.0 268.9h0M491.0 228.3h0M528.8 212.8h0M466.4 234.2h0M507.7 181.2h0M517.7 228.9h0M617.7 184.2h0M470.4 127.8h0M506.7 218.9h0M529.0 183.3h0M494.3 256.4h0M600.0 243.3h0M507.4 226.9h0M498.8 231.2h0M500.9 271.9h0M463.5 233.4h0M448.8 208.1h0M457.0 206.6h0M507.7 252.7h0M516.6 267.0h0M485.5 215.4h0M488.0 290.8h0M505.4 201.6h0M521.8 230.5h0M497.5 264.4h0M532.1 231.9h0M511.5 184.4h0M503.6 194.7h0M478.3 270.0h0M518.5 241.5h0M498.7 260.3h0M485.3 220.7h0M541.8 195.1h0M551.1 274.7h0M482.2 295.6h0M512.9 168.2h0M492.6 223.7h0M502.7 240.9h0M458.7 271.0h0M452.3 238.6h0M479.8 228.8h0M497.7 224.5h0M438.8 235.2h0M516.5 219.4h0M445.0 210.2h0M546.4 156.9h0M485.2 194.9h0M472.7 225.2h0M512.7 252.7h0M525.4 190.4h0M530.0 208.3h0M491.6 232.2h0M469.8 213.5h0M510.0 222.6h0M512.9 198.0h0M533.3 273.9h0M498.1 223.2h0M504.2 221.6h0M506.9 197.6h0M522.1 273.7h0M489.9 264.2h0M483.1 176.6h0M462.3 199.6h0M530.5 241.8h0M500.8 252.6h0M507.2 180.2h0M511.0 211.5h0M511.6 264.4h0M503.4 206.8h0M507.3 211.7h0M483.2 244.1h0M485.8 271.0h0M533.1 197.0h0M477.4 256.8h0M527.5 219.7h0M496.5 242.8h0M492.6 255.3h0M516.3 233.4h0M478.8 183.3h0M488.0 238.0h0M498.4 179.6h0M513.3 204.8h0M460.1 275.5h0M536.2 205.8h0M502.5 207.0h0M508.0 203.3h0M481.2 251.2h0M491.5 242.3h0M494.7 229.4h0M493.5 242.2h0M482.9 279.9h0M492.6 294.6h0M485.7 242.4h0M538.0 252.1h0M503.8 196.9h0M449.1 260.1h0M526.5 262.2h0M446.0 232.8h0M536.5 217.4h0M508.1 250.5h0M521.6 244.2h0M550.2 197.7h0M560.7 247.6h0M510.1 209.9h0M541.8 183.5h0M510.4 205.6h0M553.1 191.8h0M458.2 267.1h0M492.1 212.4h0M542.8 214.3h0M545.1 229.9h0M465.5 243.5h0M469.3 222.2h0M485.7 274.2h0M469.9 241.4h0M487.9 237.9h0M489.9 248.7h0M480.5 263.3h0M448.1 210.5h0M501.0 218.4h0M486.1 234.4h0M533.0 193.2h0M492.5 212.1h0M554.4 265.5h0M478.2 267.8h0M474.7 193.7h0M487.7 269.1h0M567.9 247.9h0M536.2 198.8h0M516.0 198.0h0M503.2 265.7h0M493.6 247.0h0M484.7 258.6h0M494.0 308.6h0M482.8 254.6h0M538.3 206.8h0M499.3 257.6h0M517.0 193.1h0M478.2 217.6h0M475.6 267.5h0M462.8 244.0h0M434.0 244.8h0M532.1 181.5h0M505.3 222.7h0M472.9 261.3h0M484.0 240.7h0M496.8 297.1h0M487.7 288.7h0M479.6 226.8h0M532.3 246.6h0M465.8 206.1h0M563.9 271.1h0M492.4 208.8h0M498.8 262.8h0M522.9 256.3h0M561.2 175.8h0M527.2 205.8h0M535.9 276.6h0M519.4 227.6h0M518.0 199.4h0M512.2 190.4h0M478.2 169.7h0M501.3 236.7h0M495.0 267.7h0M535.5 185.2h0M471.0 264.8h0M523.2 209.9h0M533.2 189.3h0M445.4 257.7h0M535.2 268.8h0M506.5 196.9h0M446.6 249.9h0M517.0 227.3h0M508.4 246.4h0M462.4 227.6h0M507.8 188.7h0M465.8 192.0h0M539.2 201.0h0M457.4 215.3h0M469.4 276.1h0M453.5 219.7h0M530.5 211.9h0M507.1 205.4h0M522.3 225.0h0M530.1 204.4h0M514.2 160.1h0M483.3 226.9h0M519.7 217.7h0M530.5 224.9h0M501.4 197.8h0M563.0 208.5h0M467.6 248.1h0M476.2 241.0h0M516.0 191.9h0M551.5 254.1h0M531.1 230.6h0M554.7 226.1h0M536.0 215.2h0M498.9 193.3h0M536.1 246.9h0M439.6 198.8h0M509.5 179.2h0M484.4 232.0h0M498.7 189.2h0M500.1 224.7h0M535.8 211.1h0M502.7 236.1h0M476.1 230.5h0M451.5 227.2h0M545.6 242.5h0M549.4 210.7h0M486.8 195.6h0M562.0 209.8h0M514.5 251.2h0M482.9 265.2h0M542.6 208.9h0M499.3 245.6h0M541.1 243.9h0M530.8 250.8h0M515.5 254.9h0M503.3 269.3h0M531.7 178.3h0M525.5 219.7h0M492.7 198.5h0M586.1 177.1h0M518.0 207.2h0M478.2 277.3h0M534.8 273.0h0M513.6 190.7h0M545.6 211.9h0M489.9 275.7h0M500.5 199.6h0M618.8 213.1h0M465.5 222.3h0M482.8 194.3h0M562.8 279.9h0M505.6 205.1h0M486.8 205.1h0M457.9 196.2h0M521.1 274.3h0M584.7 140.1h0M491.1 274.2h0M506.5 218.5h0M562.7 241.6h0M458.3 202.8h0M462.0 265.3h0M526.6 211.0h0M513.3 184.7h0M586.7 147.6h0M511.7 186.0h0M507.3 242.5h0M503.3 270.1h0M562.7 218.7h0M504.3 303.3h0M495.0 208.7h0M569.2 236.1h0M516.7 210.7h0M501.5 206.0h0M478.7 277.1h0M635.6 109.7h0M493.7 234.9h0M473.5 266.4h0M489.6 255.6h0M508.3 251.5h0M557.7 232.1h0M576.6 262.2h0M544.0 264.0h0M487.8 232.1h0M454.5 257.1h0M491.4 295.8h0M498.7 217.3h0M508.0 256.2h0M495.3 272.0h0M502.0 258.5h0M524.6 176.3h0M504.9 198.8h0M550.4 303.2h0M490.2 281.0h0M539.8 224.1h0M496.0 232.3h0M464.4 208.5h0M483.0 270.4h0M563.0 218.5h0M469.9 274.7h0M548.1 227.3h0M524.5 185.4h0M534.9 243.3h0M493.8 181.5h0M442.3 217.1h0M547.1 193.5h0M513.5 218.4h0M474.8 266.8h0M543.4 235.4h0M507.1 186.9h0M435.5 229.8h0M466.7 222.1h0M563.2 227.9h0M531.3 214.7h0M455.6 201.7h0M497.4 240.8h0M491.8 181.9h0M497.9 285.9h0M581.1 283.1h0M525.0 236.9h0M484.5 205.4h0M480.6 236.5h0M507.8 256.5h0M497.2 165.6h0M523.6 232.0h0M499.4 259.4h0M493.8 271.0h0M464.2 215.7h0M468.6 249.6h0M484.6 200.0h0M530.7 222.3h0M511.6 197.0h0M556.4 271.3h0M515.3 190.1h0M438.4 250.2h0M515.9 251.8h0M519.2 244.3h0M492.6 220.7h0M468.5 241.8h0M524.2 233.8h0M470.2 297.0h0M568.5 187.5h0M469.5 240.2h0M507.7 286.6h0M447.3 221.0h0M493.2 220.4h0M517.8 220.7h0M559.1 302.2h0M521.2 193.4h0M507.0 226.0h0M521.2 235.9h0M449.8 218.9h0M508.8 281.4h0M573.3 245.7h0M643.0 239.5h0M515.5 244.9h0M504.3 245.8h0M490.9 237.5h0M480.3 191.2h0M501.1 203.0h0M477.5 244.1h0M456.5 254.4h0M514.9 220.9h0M512.7 220.3h0M541.0 233.5h0M504.7 207.3h0M543.6 214.0h0M500.1 272.1h0M491.5 229.7h0M476.0 218.6h0M499.3 289.8h0M574.1 163.9h0M499.2 269.1h0M580.9 222.5h0M528.9 229.9h0M495.0 227.5h0M537.7 258.0h0M443.0 213.1h0M549.8 163.7h0M509.7 242.3h0M546.9 242.6h0M519.8 221.0h0M511.4 185.2h0M507.6 250.2h0M461.6 226.1h0M518.4 229.7h0M485.9 291.2h0M626.3 189.7h0M560.6 221.6h0M449.8 198.7h0M496.2 210.0h0M493.8 257.0h0M605.8 264.4h0M631.7 151.7h0M458.6 216.9h0M493.6 251.4h0M556.2 238.4h0M563.8 130.8h0M571.7 84.2h0M527.3 258.5h0M539.3 216.3h0M487.8 173.7h0M482.3 253.1h0M506.0 224.3h0M558.1 223.7h0M527.1 245.1h0M487.1 294.4h0M541.7 266.9h0M478.1 154.1h0M464.1 273.1h0M542.8 189.9h0M506.2 229.1h0M504.2 175.7h0M476.9 278.8h0M494.1 262.6h0M527.5 214.9h0M472.3 175.8h0M455.8 225.8h0M509.2 244.0h0M515.8 261.1h0M508.1 212.8h0M497.1 191.0h0M551.3 182.8h0M529.8 172.8h0M493.0 277.8h0M495.1 229.7h0M506.3 270.3h0M525.1 237.2h0M439.3 244.0h0M527.2 280.7h0M493.4 284.8h0M494.4 173.3h0M478.0 220.0h0M554.1 207.6h0M537.2 199.8h0M494.8 262.1h0M504.6 196.5h0M482.9 232.1h0M524.0 221.2h0M491.9 256.6h0M497.6 166.9h0M533.8 224.4h0M477.3 278.2h0M492.1 242.3h0M475.5 217.8h0M484.2 222.9h0M507.5 187.0h0M521.1 185.6h0M481.9 253.2h0M475.3 165.6h0M480.3 218.2h0M561.7 166.1h0M473.2 263.2h0M528.0 205.0h0M486.0 293.6h0M523.9 222.8h0M497.2 178.4h0M505.1 244.0h0M586.0 176.2h0M557.0 221.6h0M507.1 270.5h0M461.0 256.2h0M518.6 191.0h0M541.5 210.4h0M478.6 245.1h0M510.7 231.6h0M538.8 207.3h0M537.7 195.1h0M460.1 262.9h0M521.7 190.4h0M521.9 248.2h0M504.7 246.9h0M494.9 270.3h0M536.3 241.9h0M507.4 211.8h0M459.0 258.5h0M488.3 233.4h0M464.8 263.3h0M511.8 245.1h0M487.0 223.1h0M506.2 190.6h0M484.0 259.7h0M576.7 263.6h0M473.5 194.5h0M508.9 205.4h0M452.6 239.6h0M506.3 197.3h0M488.4 265.0h0M499.0 216.1h0M477.3 254.6h0M497.9 240.3h0M498.5 218.0h0M490.0 215.1h0M510.5 264.8h0M484.0 282.9h0M477.0 198.8h0M533.6 201.6h0M505.1 197.6h0M480.4 230.7h0M469.6 233.4h0M487.0 221.0h0M549.0 193.9h0M522.1 235.4h0M567.0 285.9h0M507.2 202.9h0M502.4 214.3h0M511.1 203.0h0M489.4 218.6h0M488.7 230.7h0M504.8 256.8h0M511.6 231.0h0M478.3 234.3h0M509.4 193.2h0M516.3 258.0h0M488.1 269.5h0M518.6 205.4h0M469.1 223.3h0M474.5 241.0h0M489.6 271.7h0M559.9 147.1h0M520.4 205.5h0M435.6 251.3h0M483.4 279.7h0M487.5 252.7h0M566.2 258.9h0M494.4 251.4h0M672.8 194.3h0M460.2 264.8h0M518.5 242.4h0M561.7 213.3h0M531.6 191.5h0M475.3 262.6h0M521.5 187.0h0M478.4 232.4h0M510.3 253.7h0M495.4 239.3h0M571.2 256.2h0M547.5 217.7h0M518.7 195.4h0M569.7 272.7h0M510.9 278.2h0M544.6 190.6h0M541.2 221.4h0M506.0 241.8h0M521.9 229.3h0M480.2 209.7h0M472.4 243.2h0M460.0 246.6h0M488.5 175.7h0M529.0 171.9h0M491.4 282.5h0M495.0 272.8h0M466.7 268.4h0M527.6 189.4h0M554.2 127.8h0M548.2 222.0h0M507.8 189.5h0M481.3 197.2h0M502.3 212.3h0M525.5 262.4h0M531.7 269.7h0M506.0 158.4h0M491.1 208.2h0M483.3 203.6h0M506.2 208.3h0M510.9 218.5h0M482.2 225.0h0M518.8 213.7h0M454.1 236.8h0M510.3 272.7h0M490.1 214.8h0M566.2 161.1h0M542.7 218.1h0M511.4 213.6h0M512.4 272.5h0M549.8 239.8h0M575.9 292.2h0M502.7 284.7h0M538.7 300.6h0M520.7 222.4h0M494.2 228.1h0M574.8 195.8h0M473.5 276.2h0M513.0 225.9h0M513.4 227.1h0M486.4 183.0h0M480.0 268.9h0M505.8 200.2h0M511.4 166.3h0M544.8 274.0h0M516.8 204.4h0M486.3 207.5h0M482.5 217.7h0M481.5 277.4h0M492.3 264.3h0M506.5 237.7h0M541.6 210.5h0M524.2 236.9h0M488.7 292.2h0M511.9 152.0h0M548.4 218.8h0M515.8 229.9h0M490.7 265.7h0M523.8 218.5h0M473.4 277.8h0M495.6 230.6h0M534.2 219.5h0M467.8 250.4h0M497.3 245.4h0M453.3 241.9h0M486.9 280.7h0M582.2 258.7h0M441.1 207.1h0M540.5 235.5h0M531.1 206.2h0M517.1 216.0h0M536.5 216.1h0M472.1 275.8h0M527.0 204.1h0M519.9 260.0h0M525.2 192.3h0M499.2 208.3h0M520.8 221.0h0M487.5 226.5h0M493.2 287.8h0M492.7 189.4h0" stroke="#0634ff" stroke-width="6.6" stroke-linecap="round" fill="none" opacity="0.6"/>
<path d="M469.2 202.4h0M533.5 216.7h0M531.4 225.6h0M505.5 217.4h0M501.4 224.0h0M545.2 231.0h0M542.6 193.9h0M482.0 233.2h0M452.0 243.5h0M491.7 234.7h0M568.3 223.6h0M515.4 234.6h0M516.0 232.6h0M468.9 236.6h0M584.2 258.2h0M484.5 227.0h0M477.5 254.3h0M501.4 299.1h0M530.8 229.0h0M460.0 225.0h0M504.7 194.9h0M487.6 285.1h0M528.4 239.6h0M488.9 233.3h0M520.9 256.8h0M486.0 276.4h0M491.3 293.8h0M524.1 193.9h0M523.3 233.8h0M614.5 179.0h0M514.6 243.8h0M508.0 202.6h0M505.3 292.3h0M458.6 240.6h0M513.2 225.4h0M508.3 168.6h0M459.6 250.8h0M485.1 284.5h0M482.6 248.8h0M441.1 220.9h0M471.7 255.2h0M524.6 184.3h0M532.1 271.7h0M488.8 277.9h0M548.0 272.9h0M487.8 287.2h0M464.3 218.5h0M469.3 266.5h0M482.4 212.4h0M582.1 249.2h0M472.9 226.9h0M435.7 244.6h0M544.1 208.6h0M537.5 231.1h0M485.3 209.7h0M533.7 172.1h0M564.6 266.5h0M472.3 221.3h0M568.0 274.7h0M466.1 233.5h0M546.1 228.5h0M494.4 242.9h0M508.8 194.9h0M543.0 181.9h0M468.8 227.8h0M605.5 231.9h0M552.5 267.4h0M487.4 240.1h0M558.1 260.2h0M569.4 212.8h0M466.6 223.0h0M483.1 210.2h0M492.8 302.8h0M472.9 243.8h0M556.6 179.0h0M534.2 244.9h0M456.7 240.5h0M462.2 193.0h0M453.4 239.4h0M500.8 274.9h0M470.2 247.5h0M519.9 252.6h0M478.8 287.6h0M538.0 194.2h0M521.3 251.6h0M509.4 252.2h0M492.4 222.9h0M522.6 208.5h0M504.1 264.4h0M525.4 203.0h0M525.5 174.7h0M499.3 215.6h0M569.1 273.1h0M471.8 255.8h0M489.5 218.3h0M526.1 298.8h0M491.6 268.3h0M501.3 242.6h0M512.6 188.0h0M472.9 283.9h0M564.8 172.0h0M500.9 211.0h0M561.0 206.0h0M491.0 222.4h0M509.7 259.2h0M469.7 226.1h0M567.5 264.2h0M508.6 286.5h0M561.8 249.4h0M477.8 200.2h0M487.7 205.1h0M518.7 174.9h0M492.1 278.4h0M527.7 164.5h0M530.4 189.2h0M489.0 255.7h0M492.7 258.0h0M458.6 195.8h0M486.5 272.4h0M497.3 242.0h0M492.6 298.0h0M467.4 250.7h0M475.7 200.2h0M508.4 250.6h0M567.7 188.4h0M496.6 254.8h0M494.0 242.4h0M517.9 223.0h0M466.1 230.4h0M478.4 241.3h0M481.1 276.1h0M518.6 235.9h0M482.5 138.0h0M506.2 253.2h0M497.6 213.4h0M580.1 126.3h0M508.4 251.7h0M464.8 244.0h0M452.4 234.2h0M561.8 268.7h0M480.0 236.6h0M493.0 231.4h0M498.3 287.7h0M476.3 239.0h0M529.1 207.8h0M518.9 212.0h0M508.3 214.8h0M554.0 238.9h0M506.6 280.3h0M437.0 272.7h0M507.6 215.4h0M497.6 235.2h0M467.9 264.6h0M510.0 278.5h0M591.9 191.4h0M547.6 214.0h0M482.0 205.4h0M489.4 254.3h0M503.9 238.8h0M506.7 194.6h0M508.0 207.2h0M488.2 187.1h0M492.5 167.2h0M519.5 266.1h0M484.4 273.6h0M488.3 246.0h0M477.9 277.5h0M557.1 258.4h0M566.1 211.6h0M521.1 172.3h0M496.0 212.4h0M466.9 245.7h0M507.6 249.2h0M571.4 273.1h0M474.2 221.1h0M559.3 171.1h0M536.8 309.9h0M540.4 263.0h0M524.4 260.9h0M480.5 200.8h0M497.8 256.1h0M478.2 225.4h0M495.5 258.0h0M490.7 258.9h0M521.9 270.2h0M524.3 180.4h0M517.9 196.5h0M560.8 200.4h0M498.4 150.0h0M541.8 185.2h0M490.2 279.6h0M540.4 260.0h0M507.7 186.3h0M486.8 214.3h0M519.1 178.6h0M521.5 216.9h0M550.2 251.4h0M562.2 207.5h0M531.5 251.3h0M542.3 248.6h0M494.8 207.3h0M522.9 198.3h0M474.2 185.3h0M491.4 256.3h0M493.7 252.9h0M498.5 223.7h0M524.5 211.2h0M442.8 219.2h0M577.8 309.8h0M468.8 235.0h0M500.7 188.3h0M512.2 222.7h0M507.6 219.3h0M484.6 250.9h0M482.0 257.0h0M617.8 251.9h0M490.6 199.9h0M490.8 290.3h0M517.4 225.3h0M514.6 202.1h0M466.9 255.7h0M486.0 215.2h0M511.4 211.4h0M490.8 223.0h0M495.1 195.7h0M476.6 255.6h0M515.9 287.9h0M497.1 224.7h0M544.2 232.2h0M443.2 192.0h0M505.5 259.5h0M515.2 226.0h0M482.6 208.4h0M545.1 190.3h0M501.2 304.2h0M469.6 245.4h0M473.3 217.3h0M529.4 139.1h0M512.3 207.8h0M504.0 188.8h0M493.5 202.6h0M465.7 132.2h0M510.3 123.1h0M481.0 262.8h0M484.6 250.1h0M501.7 243.6h0M487.5 189.7h0M508.8 232.1h0M494.8 233.5h0M554.0 218.8h0M474.4 232.9h0M480.5 279.5h0M464.2 259.8h0M523.2 201.3h0M491.4 222.9h0M501.8 222.7h0M515.6 223.6h0M518.0 181.4h0M528.5 220.4h0M498.4 278.8h0M497.0 220.9h0M511.2 265.6h0M507.1 236.7h0M510.9 269.6h0M519.9 230.6h0M461.1 255.0h0M531.7 243.3h0M542.6 186.8h0M501.9 243.7h0M474.8 204.0h0M464.2 272.7h0M495.8 233.1h0M470.9 247.1h0M523.5 238.8h0M475.8 255.3h0M540.8 247.9h0M491.8 307.7h0M455.1 206.9h0M457.5 243.6h0M517.7 222.5h0M526.9 246.4h0M494.4 284.5h0M496.7 226.1h0M526.0 241.1h0M495.9 297.8h0M518.3 255.2h0M469.4 266.4h0M491.3 304.4h0M469.7 279.4h0M520.8 236.1h0M507.8 206.4h0M509.3 231.1h0M464.4 260.0h0M453.1 208.1h0M528.9 208.7h0M500.8 213.9h0M500.1 251.0h0M568.8 272.3h0M514.7 208.1h0M506.2 211.5h0M497.0 210.5h0M510.8 184.5h0M494.2 224.2h0M626.1 174.7h0M456.7 222.0h0M536.4 244.6h0M541.9 200.7h0M469.8 254.4h0M504.5 163.5h0M518.0 284.8h0M531.5 216.6h0M432.2 247.2h0M472.0 277.3h0M471.5 259.7h0M519.4 205.3h0M599.8 258.5h0M542.7 261.9h0M465.0 227.5h0M489.0 208.7h0M433.9 222.0h0M529.9 220.0h0M525.3 223.7h0M501.7 271.8h0M548.9 251.2h0M478.2 193.4h0M597.9 218.7h0M465.5 242.6h0M536.8 242.4h0M504.9 220.3h0M489.8 197.2h0M479.7 234.0h0M473.2 275.1h0M539.3 264.6h0M569.8 226.6h0M533.5 260.3h0M556.9 259.7h0M547.1 259.3h0M527.9 134.0h0M483.8 247.3h0M485.6 273.7h0M484.7 191.6h0M549.3 280.1h0M532.4 285.4h0M499.0 204.7h0M502.9 208.6h0M492.5 251.0h0M488.0 244.7h0M521.6 258.1h0M478.5 247.0h0M525.7 205.0h0M508.8 292.2h0M451.5 261.0h0M497.2 181.6h0M476.4 259.2h0M478.9 213.7h0M495.6 257.3h0M497.3 212.4h0M529.2 262.1h0M475.1 134.7h0M549.3 201.2h0M500.4 209.7h0M521.8 249.8h0M447.0 238.7h0M530.6 169.4h0M499.2 262.0h0M515.7 206.6h0M501.4 281.1h0M495.2 232.4h0M551.0 273.3h0M559.3 251.7h0M463.4 230.5h0M453.1 253.0h0M573.3 126.6h0M533.4 254.6h0M479.7 193.2h0M487.6 243.9h0M480.9 269.5h0M497.5 300.9h0M452.0 241.0h0M495.1 251.6h0M516.0 248.7h0M535.0 238.1h0M469.4 249.5h0M547.7 251.8h0M471.5 278.1h0M489.0 269.8h0M460.6 228.6h0M453.3 240.2h0M495.0 244.4h0M489.9 209.0h0M500.9 212.8h0M512.6 163.8h0M554.5 205.6h0M557.5 235.8h0M506.1 248.8h0M489.7 273.8h0M501.5 276.6h0M482.8 193.7h0M482.1 223.7h0M503.8 251.5h0M492.6 260.9h0M477.6 266.5h0M486.8 220.1h0M510.4 237.1h0M469.3 234.7h0M525.9 230.3h0M486.6 274.0h0M549.5 199.4h0M494.4 226.3h0M510.8 275.9h0M543.8 240.7h0M495.6 222.6h0M491.3 211.5h0M504.2 282.3h0M506.0 222.5h0M491.5 201.3h0M468.0 243.1h0M482.3 235.4h0M484.1 262.4h0M496.9 273.5h0M522.8 274.6h0M542.6 228.1h0M493.4 160.4h0M469.2 213.3h0M552.5 234.4h0M565.4 279.3h0M447.9 244.2h0M555.4 129.4h0M475.1 231.5h0M481.8 222.0h0M572.6 279.6h0M492.2 223.8h0M526.9 187.5h0M498.5 266.2h0M482.3 256.4h0M516.9 233.8h0M502.3 242.5h0M505.4 178.4h0M481.5 285.9h0M532.9 184.6h0M520.2 226.3h0M461.4 251.4h0M557.0 274.8h0M554.2 168.0h0M470.6 206.2h0M518.7 204.7h0M508.0 190.9h0M527.1 227.1h0M511.2 204.7h0M553.7 162.9h0M509.8 200.8h0M507.6 284.4h0M496.0 221.6h0M533.1 263.2h0M538.3 194.6h0M557.4 212.8h0M482.6 182.2h0M476.9 219.2h0M503.9 285.9h0M508.9 238.8h0M460.7 226.0h0M532.0 243.5h0M522.0 267.2h0M490.0 192.0h0M550.5 265.4h0M493.1 258.9h0M487.8 210.7h0M539.1 193.3h0M529.1 217.4h0M504.7 206.0h0M544.4 202.1h0M506.5 240.9h0M549.5 230.6h0M519.9 250.5h0M487.1 283.8h0M497.2 216.3h0M480.5 241.9h0M509.6 196.7h0M514.7 250.5h0M487.7 229.2h0M501.5 185.8h0M558.6 228.0h0M499.4 195.5h0M484.4 160.3h0M483.8 252.3h0M526.1 255.7h0M566.4 235.7h0M533.3 282.0h0M575.0 282.3h0M474.9 171.0h0M454.1 197.6h0M473.5 271.5h0M475.2 253.3h0M506.1 229.6h0M461.7 252.2h0M489.3 238.0h0M479.5 232.1h0M514.8 216.9h0M436.9 243.6h0M528.7 244.6h0M542.0 259.0h0M552.0 211.8h0M516.4 212.4h0M545.8 248.7h0M512.2 223.6h0M490.9 199.5h0M477.3 248.0h0M519.1 183.6h0M557.0 146.4h0M485.8 276.9h0M521.4 274.4h0M562.6 203.6h0M487.3 194.1h0M533.3 219.9h0M444.0 184.1h0M525.2 226.3h0M515.0 222.9h0M540.8 194.1h0M526.4 245.3h0M516.4 233.2h0M482.8 205.1h0M467.5 217.6h0M515.2 261.8h0M524.8 280.2h0M478.5 221.4h0M484.6 272.7h0M490.4 227.8h0M455.7 211.2h0M485.4 286.9h0M518.2 243.9h0M476.8 216.5h0M510.8 209.0h0M497.0 168.9h0M525.3 238.2h0M529.2 229.9h0M475.0 224.6h0M537.7 183.8h0M476.6 252.2h0M550.7 195.7h0M529.9 207.0h0M510.5 218.6h0M479.9 246.5h0M541.3 284.7h0M500.0 270.6h0M573.6 210.7h0M475.4 167.8h0M509.5 242.1h0M450.3 257.5h0M482.5 241.3h0M536.8 288.0h0M508.5 144.9h0M488.9 222.6h0M503.6 240.2h0M558.2 275.3h0M504.7 175.8h0M511.5 217.1h0M481.8 286.0h0M534.4 237.6h0M570.0 166.5h0M518.3 187.2h0M451.8 231.7h0M499.2 279.9h0M478.6 236.9h0M496.7 190.5h0M503.2 190.2h0M554.3 246.6h0M505.1 296.4h0M483.7 214.5h0M551.4 236.0h0M467.9 259.6h0M528.4 209.1h0M487.4 200.5h0M482.5 228.0h0M553.1 87.6h0M573.4 294.6h0M487.4 252.4h0M552.6 236.0h0M501.7 232.8h0M479.7 269.7h0M523.3 170.9h0M527.2 230.9h0M474.2 259.3h0M507.6 237.3h0M545.4 183.1h0M496.3 192.7h0M507.1 222.4h0M452.6 212.7h0M510.7 278.0h0M485.6 192.5h0M485.9 285.6h0M513.7 203.7h0M477.4 236.1h0M493.2 256.5h0M514.6 279.1h0M493.3 256.3h0M572.5 211.3h0M535.0 219.4h0M512.5 280.8h0M483.7 211.1h0M521.1 222.8h0M574.2 246.0h0M502.2 248.0h0M514.7 225.1h0M492.7 260.2h0M483.5 186.9h0M541.8 241.9h0M473.5 228.3h0M475.9 229.1h0M499.4 270.8h0M510.4 274.6h0M558.5 151.6h0M550.5 205.7h0M451.9 254.0h0M476.3 264.3h0M516.9 195.7h0M474.4 249.1h0M478.7 291.2h0M469.4 209.6h0M506.3 213.5h0M493.4 265.0h0M484.5 189.6h0M478.2 290.8h0M527.6 190.4h0M483.8 214.9h0M487.7 183.5h0M486.4 250.5h0M510.2 260.9h0M474.9 227.6h0M540.8 238.3h0M512.8 199.3h0M480.9 204.4h0M481.5 218.8h0M495.3 236.4h0M507.4 198.8h0M505.0 192.9h0M511.3 216.7h0M483.6 212.2h0M516.0 267.3h0M582.1 221.2h0M534.5 191.4h0M554.6 223.9h0M512.3 276.9h0M494.3 283.1h0M591.4 202.8h0M471.6 263.5h0M503.8 200.6h0M499.4 124.0h0M489.7 266.8h0M520.4 167.5h0M445.8 226.0h0M536.4 192.3h0M511.7 202.0h0M496.3 298.9h0M553.8 205.4h0M463.8 215.2h0M547.4 158.6h0M444.9 208.6h0M508.4 231.8h0M479.2 236.3h0M537.2 278.3h0M541.8 165.7h0M552.8 261.7h0M510.4 273.9h0M507.1 227.8h0M491.2 298.9h0M505.5 193.1h0M513.4 227.4h0M499.8 221.2h0M532.0 239.1h0M480.5 221.2h0M557.2 159.3h0M493.6 232.0h0M480.2 246.5h0M514.4 216.2h0M488.4 261.7h0M454.6 182.1h0M524.9 200.8h0M489.7 294.2h0M511.4 187.3h0M538.7 253.7h0M529.5 201.8h0M504.8 242.3h0M491.7 256.4h0M470.0 202.9h0M502.8 201.4h0M463.7 208.4h0M491.9 200.1h0M494.9 278.4h0M520.9 248.4h0M507.7 205.0h0M504.4 236.8h0M510.9 265.6h0M492.3 224.7h0M494.3 294.8h0M482.7 273.3h0M459.4 175.1h0M539.7 272.5h0M571.1 238.2h0M544.1 240.4h0M515.1 184.0h0M481.0 205.6h0M543.5 201.1h0M488.1 264.0h0M540.8 232.0h0M514.6 187.1h0M487.8 229.2h0M527.6 187.6h0M559.9 142.2h0M529.1 181.7h0M446.6 231.3h0M490.6 302.7h0M501.1 218.4h0M534.3 197.6h0M564.0 193.8h0M485.1 217.9h0M453.4 200.6h0M502.3 297.7h0M536.8 248.1h0M537.9 296.2h0M471.6 239.6h0M474.3 251.5h0M496.1 281.0h0M494.2 264.5h0M446.0 259.0h0M578.1 141.8h0M517.4 143.9h0M481.7 163.0h0M503.2 253.2h0M522.0 194.4h0M469.8 230.3h0M472.9 269.2h0M533.2 225.9h0M495.1 301.2h0M524.5 191.5h0M485.9 226.6h0M441.2 262.9h0M497.8 212.4h0M480.1 251.9h0M513.9 179.2h0M512.5 228.3h0M461.3 175.0h0M562.2 197.9h0M517.9 237.5h0M520.5 266.2h0M495.5 294.9h0M504.3 196.3h0M506.3 270.9h0M552.1 189.7h0M511.2 237.0h0M502.8 170.5h0M487.0 240.2h0M512.6 254.0h0M518.4 239.9h0M499.0 210.0h0M543.6 206.7h0M466.7 211.0h0M478.7 273.0h0M549.6 289.7h0M487.2 168.3h0M507.0 204.8h0M481.9 233.1h0M464.6 287.2h0M525.6 219.6h0M487.6 241.3h0M501.3 293.9h0M556.3 156.1h0M480.0 206.6h0M525.6 182.4h0M460.7 220.2h0M531.7 196.0h0M522.2 222.3h0M493.5 237.8h0M554.5 204.2h0M450.5 220.3h0M504.4 300.3h0M481.2 245.4h0M509.8 225.3h0M476.0 160.3h0M544.5 239.5h0M554.4 202.9h0M516.6 285.9h0M469.8 265.3h0M450.4 251.2h0M478.8 250.6h0M433.3 256.6h0M488.2 241.4h0M512.6 279.7h0M554.6 198.1h0M543.1 239.0h0M478.9 223.5h0M585.3 149.4h0M540.1 202.9h0M511.0 278.9h0M486.0 210.5h0M492.9 205.3h0M488.0 267.2h0M533.5 207.1h0M459.0 250.3h0M513.9 194.4h0M532.4 188.4h0M448.4 221.9h0M530.3 218.2h0M488.3 219.0h0M543.3 276.0h0M490.6 242.8h0M456.3 248.6h0M491.2 221.4h0M509.2 239.9h0M546.3 186.6h0M464.6 252.9h0M557.2 201.0h0M579.9 269.0h0M539.2 233.6h0M481.5 241.1h0M492.5 250.4h0M552.9 161.5h0M517.5 279.0h0M495.7 293.1h0M543.9 284.4h0M475.1 224.1h0M497.4 243.6h0M564.6 260.9h0M500.2 252.5h0M531.9 207.3h0M532.1 147.9h0M523.5 232.1h0M474.6 178.6h0M471.0 206.2h0M509.2 221.2h0M477.8 236.4h0M554.5 192.2h0M535.5 201.7h0M534.3 256.1h0M523.8 194.5h0M490.9 212.0h0M526.2 204.1h0M459.5 199.7h0M478.9 231.2h0M505.3 243.9h0M465.1 297.9h0M448.0 204.6h0M474.1 243.3h0M480.4 265.1h0M519.3 225.3h0M474.6 260.8h0M503.1 276.6h0M460.1 212.3h0M510.3 257.1h0M487.6 242.3h0M524.6 234.4h0M465.9 237.9h0M499.7 309.7h0M461.1 268.1h0M486.0 285.2h0" stroke="#0634ff" stroke-width="6.6" stroke-linecap="round" fill="none" opacity="0.6"/>
<path d="M420.0 225.5h0M420.0 248.9h0M420.0 243.2h0M420.0 204.1h0M420.0 257.7h0M420.0 219.2h0M420.0 274.2h0M420.0 277.2h0M420.0 229.8h0M420.0 227.9h0M420.0 251.4h0M420.0 246.9h0M420.0 253.2h0M420.0 253.4h0M420.0 265.4h0M420.0 260.2h0M420.0 276.6h0M420.0 271.8h0M420.0 289.4h0M420.0 253.4h0M420.0 259.4h0M420.0 216.7h0M420.0 294.3h0M420.0 213.0h0M420.0 271.0h0M420.0 311.0h0M420.0 218.8h0M420.0 278.7h0M420.0 226.1h0M420.0 225.7h0M420.0 228.7h0M420.0 214.8h0M420.0 264.3h0M420.0 269.3h0M420.0 288.8h0M420.0 249.5h0M420.0 233.5h0M420.0 314.9h0M420.0 259.3h0M420.0 285.1h0M420.0 259.8h0M420.0 241.9h0M420.0 267.2h0M420.0 249.1h0M420.0 275.8h0M420.0 282.7h0M420.0 245.8h0M420.0 238.6h0M420.0 211.1h0M420.0 272.2h0M420.0 215.2h0M420.0 218.4h0M420.0 291.5h0M420.0 235.6h0M420.0 267.2h0M420.0 205.6h0M420.0 275.9h0M420.0 255.5h0M420.0 258.3h0M420.0 231.0h0M420.0 232.8h0M420.0 292.5h0M420.0 238.0h0M420.0 269.5h0M420.0 238.0h0M420.0 287.2h0M420.0 291.7h0M420.0 235.0h0M420.0 301.3h0M420.0 218.4h0M420.0 248.9h0M420.0 271.1h0M420.0 218.0h0M420.0 263.4h0M420.0 301.3h0M420.0 204.4h0M420.0 318.6h0M420.0 245.2h0M420.0 239.8h0M420.0 288.4h0M420.0 263.8h0M420.0 269.4h0M420.0 242.2h0M420.0 305.7h0M420.0 281.3h0M420.0 274.2h0M420.0 318.6h0M420.0 238.6h0M420.0 207.6h0M420.0 253.8h0M420.0 271.1h0M420.0 258.1h0M420.0 268.7h0M420.0 223.7h0M420.0 282.9h0M420.0 158.2h0M420.0 155.3h0M420.0 185.4h0" stroke="#0634ff" stroke-width="6.6" stroke-linecap="round" fill="none" opacity="0.6"/>
<path d="M420.0 246.0h0M420.0 247.6h0M420.0 201.8h0M420.0 251.3h0M420.0 288.7h0M420.0 223.2h0M420.0 299.3h0M420.0 225.5h0M420.0 308.1h0M420.0 250.3h0M420.0 215.0h0M420.0 230.0h0M420.0 216.6h0M420.0 277.1h0M420.0 271.5h0M420.0 248.2h0M420.0 215.0h0M420.0 276.4h0M420.0 307.9h0M420.0 247.0h0M420.0 297.7h0M420.0 302.7h0M420.0 246.0h0M420.0 262.7h0M420.0 246.7h0M420.0 219.0h0M420.0 289.9h0M420.0 277.2h0M420.0 267.2h0M420.0 276.8h0M420.0 240.9h0M420.0 258.7h0M420.0 273.8h0M420.0 313.5h0M420.0 300.3h0M420.0 241.7h0M420.0 257.3h0M420.0 215.5h0M420.0 215.9h0M420.0 248.1h0M420.0 235.9h0M420.0 318.6h0M420.0 280.0h0M420.0 248.2h0M420.0 277.5h0M420.0 247.2h0M420.0 267.2h0M420.0 228.4h0M420.0 250.5h0M420.0 318.6h0M420.0 261.8h0M420.0 258.6h0M420.0 281.5h0M420.0 260.9h0M420.0 256.8h0M420.0 212.7h0M420.0 287.2h0M420.0 228.1h0M420.0 295.5h0M420.0 238.6h0M420.0 254.0h0M420.0 236.0h0M420.0 264.2h0M420.0 225.3h0M420.0 253.3h0M420.0 293.1h0M420.0 269.1h0M420.0 231.4h0M420.0 270.6h0M420.0 263.7h0M420.0 239.9h0M420.0 236.4h0M420.0 276.9h0M420.0 226.0h0M420.0 295.0h0M420.0 279.9h0M420.0 231.6h0M420.0 269.9h0M420.0 268.7h0M420.0 251.2h0M420.0 273.9h0M420.0 245.7h0M420.0 267.2h0M420.0 246.5h0M420.0 249.9h0M420.0 262.0h0M420.0 261.0h0M420.0 230.7h0M420.0 227.4h0M420.0 270.3h0M420.0 228.7h0M420.0 227.4h0M420.0 266.7h0M420.0 244.6h0M420.0 276.4h0M420.0 182.2h0M420.0 178.0h0" stroke="#0634ff" stroke-width="6.6" stroke-linecap="round" fill="none" opacity="0.6"/>
<path d="M420.0 263.2h0M420.0 210.5h0M420.0 244.1h0M420.0 241.7h0M420.0 299.5h0M420.0 203.5h0M420.0 270.1h0M420.0 278.7h0M420.0 267.2h0M420.0 288.5h0M420.0 238.8h0M420.0 308.5h0M420.0 220.6h0M420.0 266.3h0M420.0 290.3h0M420.0 235.0h0M420.0 241.3h0M420.0 289.9h0M420.0 277.4h0M420.0 250.6h0M420.0 202.7h0M420.0 237.5h0M420.0 222.3h0M420.0 229.9h0M420.0 257.9h0M420.0 272.3h0M420.0 255.8h0M420.0 263.6h0M420.0 228.5h0M420.0 280.2h0M420.0 266.0h0M420.0 196.4h0M420.0 197.1h0M420.0 218.4h0M420.0 241.6h0M420.0 265.3h0M420.0 262.4h0M420.0 240.1h0M420.0 236.7h0M420.0 198.7h0M420.0 253.2h0M420.0 222.5h0M420.0 290.8h0M420.0 200.9h0M420.0 224.4h0M420.0 241.1h0M420.0 269.1h0M420.0 260.6h0M420.0 238.3h0M420.0 295.7h0M420.0 290.4h0M420.0 225.3h0M420.0 261.5h0M420.0 244.7h0M420.0 261.4h0M420.0 263.4h0M420.0 251.2h0M420.0 228.1h0M420.0 198.1h0M420.0 264.2h0M420.0 266.4h0M420.0 267.1h0M420.0 233.5h0M420.0 274.5h0M420.0 304.4h0M420.0 227.1h0M420.0 256.6h0M420.0 271.9h0M420.0 258.6h0M420.0 284.6h0M420.0 263.9h0M420.0 273.9h0M420.0 253.6h0M420.0 271.4h0M420.0 251.6h0M420.0 254.6h0M420.0 265.2h0M420.0 274.8h0M420.0 191.5h0M420.0 218.7h0M420.0 277.8h0M420.0 271.0h0M420.0 254.7h0M420.0 191.5h0M420.0 260.9h0M420.0 263.8h0M420.0 238.0h0M420.0 232.4h0M420.0 229.2h0M420.0 240.9h0M420.0 267.9h0M420.0 194.8h0M420.0 234.6h0M420.0 226.0h0M420.0 241.5h0M420.0 163.6h0M420.0 155.9h0" stroke="#0634ff" stroke-width="6.6" stroke-linecap="round" fill="none" opacity="0.6"/>
<path d="M420.0 274.5h0M420.0 256.8h0M420.0 239.9h0M420.0 230.6h0M420.0 260.4h0M420.0 225.9h0M420.0 262.3h0M420.0 236.1h0M420.0 215.1h0M420.0 275.9h0M420.0 256.8h0M420.0 284.9h0M420.0 278.3h0M420.0 249.7h0M420.0 303.4h0M420.0 279.6h0M420.0 226.8h0M420.0 223.5h0M420.0 215.0h0M420.0 255.7h0M420.0 259.0h0M420.0 290.8h0M420.0 211.9h0M420.0 272.8h0M420.0 228.0h0M420.0 208.5h0M420.0 233.2h0M420.0 231.1h0M420.0 208.6h0M420.0 245.3h0M420.0 282.8h0M420.0 289.5h0M420.0 215.8h0M420.0 249.9h0M420.0 260.3h0M420.0 262.3h0M420.0 234.1h0M420.0 277.4h0M420.0 308.7h0M420.0 230.2h0M420.0 263.0h0M420.0 237.1h0M420.0 245.3h0M420.0 318.6h0M420.0 261.4h0M420.0 204.0h0M420.0 278.6h0M420.0 257.8h0M420.0 287.0h0M420.0 242.3h0M420.0 250.7h0M420.0 255.5h0M420.0 191.5h0M420.0 247.0h0M420.0 230.7h0M420.0 236.5h0M420.0 234.8h0M420.0 230.2h0M420.0 268.2h0M420.0 197.3h0M420.0 283.3h0M420.0 267.5h0M420.0 273.2h0M420.0 234.8h0M420.0 293.8h0M420.0 280.3h0M420.0 304.8h0M420.0 228.8h0M420.0 251.5h0M420.0 247.1h0M420.0 248.4h0M420.0 272.6h0M420.0 236.3h0M420.0 222.5h0M420.0 210.0h0M420.0 268.7h0M420.0 211.8h0M420.0 259.4h0M420.0 247.3h0M420.0 240.6h0M420.0 289.9h0M420.0 204.0h0M420.0 208.9h0M420.0 223.1h0M420.0 191.5h0M420.0 297.2h0M420.0 266.9h0M420.0 305.6h0M420.0 253.4h0M420.0 225.5h0M420.0 235.6h0M420.0 246.8h0M420.0 268.8h0M420.0 270.5h0M420.0 277.7h0M420.0 191.5h0M420.0 186.3h0" stroke="#0634ff" stroke-width="6.6" stroke-linecap="round" fill="none" opacity="0.6"/>
<line x1="420.00" y1="263.70" x2="673.00" y2="177.50" stroke="#7d7d7d" stroke-width="6.2"/>
<line x1="420.00" y1="263.70" x2="673.00" y2="177.50" stroke="#f23a1a" stroke-width="2.2"/>
</g>
<rect x="429.50" y="76.00" width="163.50" height="72.00" fill="#ffffff" opacity="0.8"/>
<text x="430.20" y="103.00" font-size="28" fill="#141414">R=0.43</text>
<text x="430.70" y="136.00" font-size="28" fill="#141414">p=1.7x10</text>
<text x="547.34" y="127.50" font-size="17" fill="#141414">-258</text>
<text x="420.70" y="63.50" font-size="28" fill="#141414">NSCLC</text>
<line x1="420.00" y1="325.00" x2="420.00" y2="336.00" stroke="#141414" stroke-width="2.2"/>
<text x="400.54" y="366.30" font-size="28" fill="#141414">0.0</text>
<line x1="494.35" y1="325.00" x2="494.35" y2="336.00" stroke="#141414" stroke-width="2.2"/>
<text x="474.93" y="366.30" font-size="28" fill="#141414">0.5</text>
<line x1="568.70" y1="325.00" x2="568.70" y2="336.00" stroke="#141414" stroke-width="2.2"/>
<text x="548.72" y="366.30" font-size="28" fill="#141414">1.0</text>
<line x1="643.05" y1="325.00" x2="643.05" y2="336.00" stroke="#141414" stroke-width="2.2"/>
<text x="623.11" y="366.30" font-size="28" fill="#141414">1.5</text>
<line x1="407.00" y1="324.20" x2="420.00" y2="324.20" stroke="#141414" stroke-width="2.2"/>
<text x="365.17" y="334.20" font-size="28" fill="#141414">0.0</text>
<line x1="407.00" y1="267.75" x2="420.00" y2="267.75" stroke="#141414" stroke-width="2.2"/>
<text x="365.48" y="277.75" font-size="28" fill="#141414">0.2</text>
<line x1="407.00" y1="211.30" x2="420.00" y2="211.30" stroke="#141414" stroke-width="2.2"/>
<text x="364.90" y="221.30" font-size="28" fill="#141414">0.4</text>
<line x1="407.00" y1="154.85" x2="420.00" y2="154.85" stroke="#141414" stroke-width="2.2"/>
<text x="365.31" y="164.85" font-size="28" fill="#141414">0.6</text>
<line x1="407.00" y1="98.40" x2="420.00" y2="98.40" stroke="#141414" stroke-width="2.2"/>
<text x="365.29" y="108.40" font-size="28" fill="#141414">0.8</text>
<text x="437.51" y="406.30" font-size="28" fill="#141414">IFNγ-R complex</text>
<text x="389.61" y="439.20" font-size="28" fill="#141414">(normalized expression)</text>
<rect x="735.00" y="70.00" width="254.00" height="255.00" fill="#f1efee"/>
<clipPath id="ca3"><rect x="731.5" y="70" width="259" height="255"/></clipPath>
<line x1="735.00" y1="70.00" x2="989.00" y2="70.00" stroke="#141414" stroke-width="2"/>
<line x1="989.00" y1="70.00" x2="989.00" y2="329.00" stroke="#141414" stroke-width="2"/>
<line x1="735.00" y1="69.00" x2="735.00" y2="326.00" stroke="#141414" stroke-width="2.2"/>
<line x1="723.00" y1="325.00" x2="990.00" y2="325.00" stroke="#141414" stroke-width="2.2"/>
<g clip-path="url(#ca3)">
<path d="M849.0 198.5h0M870.8 167.0h0M831.7 214.3h0M854.9 204.6h0M840.4 240.1h0M830.4 203.9h0M863.3 234.9h0M800.7 216.6h0M846.6 205.3h0M837.2 257.4h0M824.8 177.8h0M848.1 217.0h0M747.7 240.7h0M887.8 187.5h0M788.6 189.5h0M770.3 213.3h0M774.4 256.5h0M774.9 164.5h0M799.3 235.1h0M864.9 173.1h0M860.8 201.8h0M834.3 195.9h0M832.3 186.9h0M792.2 253.2h0M833.2 241.3h0M748.4 243.5h0M854.3 261.6h0M790.5 241.7h0M802.1 245.4h0M841.7 220.2h0M907.1 248.4h0M777.1 209.6h0M776.1 223.5h0M871.4 213.9h0M896.5 184.6h0M819.7 186.2h0M760.8 266.8h0M911.0 228.4h0M817.4 183.5h0M827.7 199.0h0M837.9 184.0h0M817.7 260.6h0M785.5 208.1h0M772.0 232.8h0M878.0 180.9h0M839.6 162.4h0M782.4 273.2h0M778.0 246.0h0M774.3 263.6h0M865.1 195.1h0M805.2 249.6h0M830.1 254.5h0M889.3 178.2h0M774.9 201.8h0M872.1 224.3h0M866.3 194.8h0M824.0 264.0h0M822.0 224.2h0M794.2 224.8h0M804.3 203.1h0M808.3 207.1h0M825.4 214.4h0M754.4 207.0h0M840.5 248.4h0M849.3 180.6h0M855.6 203.4h0M821.8 232.8h0M844.0 246.1h0M867.2 206.7h0M798.2 224.3h0M759.9 223.7h0M768.1 206.9h0M828.7 220.1h0M807.0 220.5h0M828.0 213.4h0M785.0 256.0h0M814.6 189.3h0M886.1 235.3h0M783.5 226.9h0M802.7 223.0h0M795.1 253.8h0M836.2 229.6h0M845.8 229.0h0M951.6 211.0h0M830.7 231.7h0M894.7 162.3h0M780.9 242.1h0M790.5 215.8h0M821.3 192.6h0M807.6 228.2h0M859.0 243.3h0M757.7 225.7h0M765.5 221.6h0M824.8 222.9h0M771.9 247.8h0M853.4 271.7h0M860.6 225.8h0M957.8 226.0h0M851.9 216.6h0M757.2 272.5h0M836.9 184.2h0M753.9 230.5h0M874.4 233.4h0M855.8 225.0h0M819.8 217.7h0M860.3 169.8h0M840.0 239.0h0M943.8 205.8h0M774.5 236.4h0M840.9 191.8h0M759.1 226.6h0M804.3 203.2h0M805.9 205.3h0M844.5 196.1h0M846.6 259.5h0M805.6 226.4h0M840.2 246.6h0M906.7 198.9h0M765.2 223.2h0M863.7 255.5h0M788.5 216.2h0M857.1 224.2h0M848.1 232.0h0M846.8 221.3h0M908.6 206.1h0M856.0 232.0h0M761.4 210.2h0M768.1 225.7h0M834.4 203.7h0M875.0 214.8h0M843.9 278.0h0M804.3 184.5h0M867.4 211.2h0M883.6 191.9h0M836.6 244.2h0M847.7 227.0h0M861.0 208.0h0M830.0 264.6h0M813.5 254.3h0M785.7 229.6h0M870.9 209.3h0M765.9 249.1h0M821.8 223.2h0M834.0 227.6h0M814.0 232.9h0M769.4 198.5h0M803.2 195.6h0M890.1 198.6h0M750.5 235.1h0M777.0 194.5h0M827.8 236.3h0M901.6 248.1h0M787.6 230.8h0M856.1 249.9h0M851.4 279.1h0M799.5 200.3h0M820.4 236.6h0M829.0 232.3h0M784.3 219.1h0M784.1 225.4h0M823.2 190.7h0M763.0 219.2h0M855.8 221.0h0M801.3 222.4h0M830.8 187.1h0M810.4 253.3h0M855.9 194.7h0M841.3 233.3h0M866.8 210.8h0M869.2 238.9h0M856.8 250.7h0M780.5 215.3h0M887.4 224.1h0M780.2 227.4h0M826.5 214.7h0M819.2 212.3h0M862.5 212.7h0M790.6 193.9h0M906.8 225.3h0M835.3 230.9h0M749.1 189.4h0M891.0 189.8h0M795.2 242.8h0M774.3 239.5h0M793.0 202.0h0M802.4 234.5h0M753.7 240.5h0M783.2 218.3h0M869.1 211.6h0M759.9 263.1h0M806.5 169.8h0M799.1 237.5h0M817.4 181.8h0M813.6 236.4h0M815.7 281.4h0M760.6 218.3h0M862.8 190.6h0M870.8 153.9h0M814.5 199.8h0M797.0 226.1h0M833.9 205.0h0M787.2 199.8h0M825.8 201.6h0M808.8 223.4h0M770.4 213.5h0M805.2 197.2h0M791.8 236.0h0M794.4 248.0h0M775.7 199.2h0M856.9 229.2h0M776.2 229.3h0M820.5 197.2h0M793.1 213.6h0M785.0 231.5h0M767.9 222.6h0M782.8 226.5h0M824.6 241.6h0M803.1 245.3h0M895.1 246.9h0M820.4 235.0h0M805.5 216.5h0M804.9 199.8h0M757.8 260.9h0M896.1 211.1h0M804.2 299.1h0M796.4 213.7h0M849.9 208.9h0M838.5 180.3h0M793.7 235.5h0M834.1 181.3h0M813.8 241.6h0M788.2 193.3h0M836.2 306.1h0M808.4 248.7h0M834.5 199.6h0M808.2 233.0h0M771.7 246.0h0M828.4 273.7h0M832.6 249.7h0M801.9 226.8h0M783.9 225.6h0M777.1 197.6h0M821.3 256.2h0M884.7 195.5h0M783.3 228.7h0M833.9 213.7h0M857.4 199.0h0M756.6 222.8h0M883.7 218.9h0M865.9 187.9h0M796.5 190.7h0M870.1 206.9h0M849.9 205.3h0M804.2 242.8h0M839.7 205.3h0M840.9 258.4h0M767.5 200.8h0M897.5 206.1h0M843.6 191.7h0M811.5 217.1h0M865.9 224.3h0M853.2 266.0h0M878.0 180.7h0M862.1 291.1h0M796.2 206.3h0M769.7 231.2h0M857.5 209.3h0M802.8 249.8h0M880.2 197.4h0M853.8 220.8h0M775.6 264.5h0M764.3 250.0h0M826.3 206.7h0M925.2 190.3h0M851.1 235.0h0M781.8 244.6h0M800.0 160.4h0M835.2 223.9h0M824.7 206.7h0M789.0 237.0h0M896.0 241.6h0M828.5 265.6h0M791.9 243.4h0M848.6 187.7h0M788.5 218.2h0M773.4 206.2h0M780.0 256.2h0M786.8 241.4h0M843.4 201.9h0M893.7 165.7h0M884.8 192.2h0M754.4 235.3h0M851.8 198.2h0M888.2 194.5h0M818.2 238.5h0M756.4 264.0h0M875.4 248.5h0M843.0 178.7h0M846.2 219.4h0M814.5 200.0h0M761.4 200.6h0M758.5 195.9h0M858.8 200.7h0M771.4 188.0h0M841.2 230.1h0M812.8 214.0h0M840.3 214.7h0M839.2 208.2h0M870.3 192.3h0M812.8 235.6h0M889.9 209.0h0M822.0 252.7h0M814.6 224.3h0M818.7 237.5h0M864.8 214.3h0M822.1 172.1h0M908.4 231.9h0M770.1 197.2h0M909.1 188.4h0M748.5 251.0h0M880.5 233.0h0M826.6 213.6h0M806.1 148.8h0M858.9 221.2h0M842.7 199.5h0M790.0 204.5h0M879.0 167.2h0M788.5 182.3h0M760.7 261.4h0M871.1 198.8h0M817.2 211.4h0M854.1 227.3h0M788.5 207.6h0M807.3 279.0h0M815.7 209.9h0M839.4 224.7h0M882.5 200.1h0M808.8 198.0h0M811.0 227.2h0M759.2 254.9h0M863.5 160.5h0M878.5 196.7h0M828.7 306.4h0M821.1 205.6h0M819.6 227.3h0M846.2 224.7h0M876.2 205.5h0M838.3 182.4h0M808.8 271.9h0M875.7 235.1h0M823.1 187.6h0M817.5 217.5h0M802.9 242.4h0M838.5 208.8h0M886.2 217.6h0M841.1 253.6h0M790.1 196.9h0M861.1 235.6h0M850.8 200.2h0M802.9 217.1h0M852.8 200.7h0M793.3 204.9h0M812.0 215.7h0M804.6 237.4h0M774.3 254.3h0M874.5 242.8h0M812.1 242.6h0M826.7 255.0h0M830.6 232.4h0M835.2 195.1h0M856.5 210.4h0M748.7 230.6h0M954.3 221.3h0M769.9 257.4h0M903.0 231.8h0M801.0 217.9h0M859.3 229.3h0M800.3 241.0h0M814.6 220.9h0M833.2 217.7h0M870.8 212.4h0M807.4 176.6h0M834.7 263.4h0M814.7 243.8h0M813.0 178.5h0M830.0 187.2h0M771.0 203.1h0M821.7 193.0h0M812.6 265.4h0M908.1 241.5h0M843.1 211.2h0M837.3 220.0h0M874.3 195.0h0M854.7 208.3h0M810.7 197.3h0M824.1 196.0h0M879.3 199.7h0M895.1 178.8h0M805.1 212.7h0M850.5 250.4h0M815.5 213.3h0M837.8 206.2h0M809.2 229.5h0M875.2 182.2h0M847.3 190.7h0M806.6 233.9h0M810.0 211.8h0M829.1 241.0h0M871.6 228.4h0M798.9 230.5h0M840.3 231.7h0M810.6 242.6h0M754.6 256.6h0M787.6 259.5h0M824.5 267.9h0M841.9 175.0h0M772.6 245.8h0M836.4 178.1h0M818.9 232.0h0M780.5 235.7h0M894.9 242.9h0M865.5 218.6h0M845.8 181.2h0M756.7 190.7h0M777.1 249.6h0M786.7 224.5h0M801.0 229.5h0M793.5 239.6h0M823.7 153.7h0M801.3 205.6h0M868.3 208.5h0M763.2 217.8h0M891.2 217.5h0M836.8 245.8h0M843.6 241.4h0M808.6 230.3h0M776.2 177.6h0M876.5 185.9h0M783.4 284.7h0M833.0 219.6h0M815.7 257.7h0M794.6 239.8h0M806.8 244.2h0M766.2 213.6h0M813.9 201.1h0M795.5 240.0h0M850.4 215.9h0M823.7 247.2h0M790.3 196.7h0M849.8 229.8h0M872.0 225.2h0M769.1 251.6h0M819.0 244.3h0M848.0 182.9h0M804.9 212.2h0M870.3 226.8h0M817.6 243.7h0M802.5 186.7h0M749.7 221.8h0M811.6 198.6h0M795.2 220.1h0M765.2 239.8h0M760.6 275.8h0M795.0 247.1h0M756.5 176.3h0M859.2 187.8h0M860.5 222.5h0M862.6 213.7h0M783.3 184.1h0M853.5 226.8h0M841.2 220.3h0M771.4 249.3h0M814.5 203.8h0M817.4 236.8h0M820.9 221.0h0M775.8 246.8h0M858.8 217.0h0M806.8 193.3h0M807.9 234.5h0M852.9 254.4h0M772.5 243.4h0M842.9 221.9h0M803.7 201.4h0M775.8 232.3h0M786.3 226.6h0M822.2 237.2h0M811.9 226.7h0M863.2 195.1h0M754.0 237.3h0M820.9 215.8h0M810.6 219.3h0M833.3 224.5h0M838.5 219.6h0M823.1 219.0h0M775.9 227.8h0M823.4 245.3h0M820.2 222.2h0M788.5 252.9h0M874.8 178.4h0M905.2 164.3h0M814.9 221.5h0M869.8 247.1h0M794.1 225.7h0M901.4 215.4h0M818.2 203.7h0M850.7 253.4h0M849.8 195.3h0M864.9 240.8h0M867.8 155.8h0M774.5 278.4h0M823.9 236.0h0M860.7 239.5h0M763.3 224.1h0M786.8 246.6h0M776.7 218.3h0M761.1 250.9h0M787.0 195.5h0M810.9 173.5h0M783.6 226.3h0M895.5 210.4h0M839.2 213.8h0M848.8 227.9h0M767.2 231.0h0M889.2 201.3h0M847.4 199.6h0M852.4 229.3h0M821.4 174.1h0M897.6 214.4h0M879.7 240.8h0M891.8 171.2h0M885.9 189.6h0M883.8 209.5h0M899.8 206.2h0M888.3 203.4h0M846.3 221.3h0M864.9 205.1h0M870.9 208.3h0M844.7 215.9h0M853.5 199.9h0M868.2 223.0h0M865.2 231.7h0M837.5 209.7h0M922.9 162.8h0M862.0 199.3h0M853.4 252.5h0M848.8 216.8h0M792.5 195.3h0M871.1 245.6h0M859.1 274.4h0M798.8 212.6h0M876.5 201.2h0M891.6 201.0h0M827.5 178.8h0M880.1 200.9h0M881.4 198.7h0M867.8 163.6h0M830.3 179.9h0M860.3 217.6h0M883.0 266.0h0M870.1 231.0h0M869.6 231.9h0M834.2 188.0h0M856.5 218.5h0M856.4 196.1h0M876.4 166.1h0M966.4 230.9h0" stroke="#0634ff" stroke-width="6.6" stroke-linecap="round" fill="none" opacity="0.6"/>
<path d="M776.8 225.9h0M799.0 222.3h0M870.3 223.8h0M828.9 248.1h0M820.8 255.6h0M890.5 240.9h0M753.7 237.9h0M824.2 206.3h0M833.7 192.3h0M859.7 205.3h0M762.4 216.4h0M847.8 188.3h0M854.3 203.6h0M782.1 220.5h0M801.4 232.4h0M884.9 247.9h0M856.4 207.6h0M827.3 215.3h0M853.7 196.2h0M785.0 235.4h0M824.6 203.7h0M811.7 188.9h0M781.0 198.8h0M801.6 271.0h0M829.4 236.7h0M810.6 240.4h0M871.7 226.6h0M805.9 198.4h0M855.4 200.5h0M805.7 252.3h0M799.6 244.0h0M828.7 239.8h0M835.8 227.8h0M809.4 230.7h0M887.2 173.0h0M838.8 259.3h0M821.5 223.9h0M778.3 238.6h0M812.6 215.1h0M873.0 215.3h0M905.9 201.8h0M852.9 179.2h0M769.5 240.1h0M804.2 201.2h0M768.9 247.1h0M808.9 201.0h0M806.2 237.7h0M816.3 192.6h0M799.3 276.4h0M852.9 214.2h0M901.1 221.1h0M860.7 246.1h0M822.7 198.5h0M782.4 221.2h0M815.7 271.1h0M854.0 289.3h0M804.9 233.9h0M753.7 239.8h0M747.7 242.4h0M805.5 243.8h0M819.3 165.0h0M788.5 207.2h0M806.6 205.6h0M808.4 245.5h0M794.6 181.5h0M843.3 205.8h0M861.6 240.7h0M851.8 195.1h0M812.9 200.3h0M890.1 217.9h0M799.4 243.0h0M820.1 202.6h0M891.7 184.1h0M762.7 204.7h0M822.2 191.1h0M833.9 217.1h0M764.2 238.2h0M798.5 206.0h0M852.0 185.5h0M860.4 213.3h0M814.1 227.2h0M862.0 259.7h0M875.6 202.4h0M782.4 222.9h0M772.2 223.3h0M763.1 273.5h0M877.1 220.7h0M791.1 208.1h0M822.7 230.3h0M815.9 210.9h0M758.1 208.7h0M850.5 212.8h0M783.8 262.2h0M840.1 219.9h0M816.5 197.3h0M799.3 196.2h0M790.9 281.3h0M837.4 226.0h0M821.0 225.6h0M803.4 246.9h0M865.1 230.0h0M817.2 206.4h0M784.3 199.9h0M837.3 205.6h0M833.6 198.3h0M805.8 187.0h0M771.3 216.4h0M783.7 230.6h0M811.5 263.7h0M806.5 234.3h0M852.8 164.5h0M818.1 213.8h0M844.1 226.1h0M766.7 208.0h0M771.7 242.9h0M792.6 192.5h0M815.0 229.5h0M792.5 198.1h0M764.8 241.2h0M890.4 204.5h0M833.4 211.1h0M777.4 237.1h0M801.7 209.8h0M818.6 224.1h0M886.3 261.3h0M792.2 246.2h0M849.3 218.6h0M857.4 204.8h0M838.5 185.3h0M807.0 225.3h0M775.2 240.7h0M856.0 199.2h0M832.6 237.1h0M841.5 243.3h0M835.5 241.1h0M787.3 183.2h0M757.5 247.7h0M752.1 249.0h0M855.4 213.6h0M881.4 229.2h0M871.9 194.0h0M837.6 223.4h0M799.2 196.4h0M770.6 247.7h0M828.1 223.7h0M833.2 262.1h0M855.1 219.2h0M884.4 193.0h0M834.3 233.1h0M786.5 290.2h0M873.7 197.0h0M787.2 274.4h0M836.0 194.7h0M771.8 240.1h0M764.3 191.1h0M794.0 237.6h0M781.1 266.6h0M816.7 235.6h0M821.4 249.3h0M847.7 217.0h0M829.2 290.5h0M765.8 216.4h0M780.3 236.4h0M872.9 187.6h0M831.4 225.6h0M760.7 239.6h0M798.4 215.0h0M864.2 235.4h0M796.2 237.4h0M868.0 220.3h0M812.8 282.6h0M787.5 237.5h0M845.0 203.7h0M834.7 251.3h0M835.3 192.0h0M885.7 223.1h0M768.2 212.8h0M794.5 234.2h0M839.9 244.0h0M824.9 224.1h0M843.7 232.4h0M881.2 207.6h0M777.2 183.4h0M857.7 206.4h0M787.4 182.7h0M834.5 196.9h0M788.2 282.5h0M815.4 187.8h0M814.8 207.2h0M760.9 240.9h0M831.6 235.1h0M772.8 211.3h0M831.3 218.7h0M802.2 240.4h0M806.7 251.1h0M793.5 202.9h0M782.6 218.0h0M807.2 200.7h0M842.6 215.7h0M845.8 232.3h0M830.8 223.0h0M854.5 207.5h0M871.6 192.3h0M874.5 223.8h0M790.9 261.0h0M840.0 198.1h0M847.0 178.1h0M818.0 219.5h0M802.7 239.4h0M872.2 215.8h0M875.9 235.2h0M818.9 245.0h0M820.0 209.1h0M872.3 269.5h0M917.2 167.9h0M780.5 207.9h0M779.2 209.9h0M885.1 203.0h0M786.7 254.4h0M851.7 235.2h0M791.8 255.1h0M756.6 259.9h0M842.9 264.3h0M811.5 221.4h0M778.7 272.2h0M750.4 249.0h0M821.4 175.8h0M808.9 174.6h0M850.3 221.7h0M856.4 190.4h0M879.3 188.1h0M878.5 187.3h0M824.9 236.6h0M811.5 231.1h0M825.0 222.8h0M811.6 241.1h0M871.3 208.7h0M866.6 199.5h0M792.9 265.4h0M811.4 220.3h0M822.1 232.5h0M800.1 256.2h0M789.0 233.6h0M773.9 207.5h0M790.7 255.6h0M820.9 248.5h0M799.7 267.1h0M819.3 193.8h0M836.1 187.1h0M820.6 210.7h0M799.6 189.3h0M774.5 236.4h0M749.8 210.1h0M837.3 235.6h0M861.3 207.7h0M798.4 182.2h0M800.3 207.0h0M834.7 256.9h0M812.3 237.6h0M868.4 164.0h0M777.2 199.1h0M787.7 216.2h0M805.2 203.3h0M814.6 253.1h0M803.4 231.6h0M838.0 194.0h0M787.4 244.8h0M890.1 185.2h0M919.2 178.5h0M769.1 212.8h0M846.5 214.6h0M749.0 229.6h0M778.9 228.7h0M789.0 249.8h0M805.2 243.1h0M753.4 205.6h0M894.1 259.2h0M798.1 246.1h0M848.2 214.9h0M803.9 215.2h0M958.9 153.7h0M779.1 212.1h0M757.7 208.4h0M747.7 228.3h0M866.6 216.1h0M807.1 254.2h0M789.0 223.6h0M896.4 208.7h0M788.9 182.4h0M860.3 280.9h0M794.6 215.3h0M826.1 236.1h0M792.0 187.3h0M872.6 174.3h0M752.2 256.7h0M897.1 235.5h0M835.5 273.6h0M843.6 245.0h0M863.7 211.4h0M776.1 212.2h0M814.2 162.2h0M777.1 237.6h0M831.0 265.8h0M852.5 250.8h0M811.7 253.3h0M942.7 227.6h0M780.2 248.6h0M776.7 249.2h0M846.4 208.5h0M894.1 218.9h0M886.7 201.7h0M862.9 238.9h0M923.8 205.0h0M867.8 170.9h0M802.7 242.8h0M813.2 210.1h0M893.5 238.2h0M796.1 182.0h0M804.0 230.0h0M779.5 233.6h0M863.3 206.7h0M949.1 211.6h0M829.2 244.1h0M813.8 230.4h0M812.9 206.1h0M881.1 216.8h0M866.3 198.6h0M829.4 186.8h0M786.2 231.6h0M890.8 183.3h0M793.1 251.7h0M904.7 241.9h0M871.0 224.9h0M787.7 207.7h0M836.6 217.2h0M786.3 226.0h0M818.3 212.5h0M850.7 204.1h0M839.8 216.3h0M831.9 260.7h0M818.3 200.5h0M793.4 238.1h0M799.0 197.9h0M829.8 218.2h0M826.5 245.4h0M810.8 276.3h0M751.2 251.0h0M762.9 229.9h0M814.9 207.4h0M875.4 213.1h0M831.1 181.9h0M855.3 217.6h0M833.5 199.0h0M822.8 213.0h0M754.7 203.0h0M811.4 190.6h0M867.0 197.3h0M781.1 230.8h0M871.7 148.0h0M816.7 227.6h0M862.0 213.0h0M813.5 279.0h0M862.4 240.6h0M812.4 217.8h0M810.2 216.9h0M862.0 226.8h0M783.0 220.7h0M813.1 246.7h0M865.0 184.6h0M781.6 184.2h0M785.9 280.9h0M829.8 241.3h0M853.5 201.9h0M905.1 208.6h0M824.0 225.8h0M824.5 268.8h0M794.5 199.0h0M798.3 249.6h0M798.5 230.6h0M871.9 230.1h0M852.1 201.9h0M833.0 256.8h0M842.6 191.0h0M850.8 192.8h0M804.6 256.1h0M890.0 215.0h0M786.5 223.1h0M839.2 194.7h0M785.9 197.4h0M829.9 214.5h0M780.4 250.1h0M895.1 212.5h0M787.3 209.2h0M821.9 238.7h0M831.0 217.1h0M810.5 216.2h0M794.5 217.7h0M758.9 250.8h0M855.9 225.4h0M795.3 239.7h0M815.1 224.2h0M820.5 244.5h0M804.0 223.2h0M855.9 227.0h0M804.0 276.1h0M772.1 196.5h0M793.5 216.4h0M823.3 202.6h0M843.9 231.6h0M779.1 187.4h0M832.0 201.6h0M781.4 194.2h0M849.5 221.9h0M837.6 225.7h0M816.6 227.4h0M855.9 205.4h0M830.8 226.8h0M810.9 214.8h0M816.9 214.3h0M783.0 216.4h0M836.6 200.6h0M817.3 251.2h0M787.2 233.6h0M748.4 213.7h0M754.9 213.2h0M816.6 183.0h0M816.9 231.3h0M758.0 212.6h0M797.2 261.5h0M827.8 224.8h0M884.9 180.3h0M755.9 246.6h0M765.2 218.4h0M891.6 267.9h0M791.8 219.3h0M771.0 250.8h0M815.8 248.2h0M783.6 195.3h0M807.2 167.8h0M815.1 220.5h0M867.4 194.7h0M816.9 182.3h0M784.0 226.5h0M812.5 221.7h0M865.6 197.5h0M810.5 241.0h0M773.8 227.7h0M804.9 175.3h0M799.9 256.2h0M761.3 259.8h0M839.7 167.2h0M801.3 230.8h0M811.1 240.2h0M834.3 192.1h0M811.0 225.6h0M772.6 242.5h0M810.4 236.8h0M814.9 185.3h0M804.7 241.7h0M800.4 238.2h0M858.4 201.6h0M837.0 161.0h0M817.1 251.6h0M870.4 256.1h0M843.8 206.1h0M808.7 220.2h0M757.2 252.4h0M846.5 191.6h0M845.8 208.8h0M825.2 260.7h0M829.0 217.8h0M877.6 259.2h0M822.2 235.3h0M895.2 218.5h0M818.0 209.6h0M853.2 225.5h0M853.6 229.4h0M785.9 253.1h0M796.9 240.5h0M812.5 258.8h0M895.7 213.2h0M870.6 236.0h0M802.1 219.9h0M789.3 188.9h0M778.1 186.0h0M801.7 163.1h0M841.9 228.9h0M788.8 247.4h0M770.4 246.8h0M810.9 261.6h0M802.8 227.0h0M908.3 188.4h0M836.7 236.2h0M768.4 254.3h0M850.1 164.9h0M879.9 174.9h0M871.7 216.3h0M758.6 232.8h0M829.2 240.2h0M809.3 231.4h0M828.1 222.6h0M808.7 195.0h0M813.0 177.4h0M749.6 178.7h0M818.1 201.6h0M885.7 205.0h0M832.7 238.0h0M764.6 207.8h0M780.7 253.6h0M837.7 210.9h0M837.0 240.4h0M750.6 226.7h0M767.0 232.3h0M821.3 197.7h0M824.0 209.4h0M810.4 238.1h0M854.8 244.9h0M777.0 262.3h0M836.4 186.6h0M792.6 148.2h0M781.6 234.4h0M872.9 225.0h0M788.6 243.7h0M890.2 166.4h0M909.3 177.2h0M845.6 231.5h0M907.7 224.1h0M866.4 187.2h0M841.0 245.8h0M806.2 212.7h0M877.0 219.6h0M926.5 228.6h0M792.3 244.7h0M912.4 195.6h0M880.9 167.2h0M856.6 198.8h0M800.9 253.5h0M844.8 221.5h0M951.5 212.2h0M884.2 204.9h0M872.3 199.5h0M852.1 187.2h0M893.4 251.1h0M920.4 152.8h0M822.9 225.8h0M884.9 237.4h0M862.6 250.2h0M889.2 181.7h0M928.6 204.3h0M905.3 199.2h0M828.0 236.5h0M856.3 195.8h0M872.0 219.4h0M898.3 169.3h0M956.7 150.5h0M803.0 222.5h0M873.9 208.4h0M835.7 232.3h0M872.0 200.7h0M854.7 163.4h0M910.5 217.2h0M940.3 219.2h0M912.9 178.5h0M888.1 183.2h0M916.6 85.6h0M781.3 304.6h0" stroke="#0634ff" stroke-width="6.6" stroke-linecap="round" fill="none" opacity="0.6"/>
<path d="M790.4 206.6h0M805.6 231.9h0M796.6 241.8h0M758.0 228.4h0M815.8 256.6h0M798.6 199.3h0M830.0 181.3h0M829.1 189.5h0M822.6 175.0h0M818.9 237.7h0M812.7 182.3h0M792.4 179.0h0M882.0 242.8h0M838.9 225.9h0M856.9 217.3h0M810.7 255.3h0M801.4 245.5h0M756.6 216.7h0M769.9 262.3h0M839.9 213.9h0M834.5 202.9h0M819.6 234.7h0M845.7 200.1h0M769.2 205.9h0M775.8 247.4h0M806.8 199.6h0M817.2 219.2h0M781.9 252.9h0M808.6 208.5h0M800.9 190.9h0M834.7 256.8h0M822.1 186.5h0M861.3 171.9h0M905.2 239.7h0M772.8 220.9h0M798.0 238.7h0M839.6 277.3h0M771.8 224.7h0M831.9 236.7h0M805.9 237.0h0M804.1 226.9h0M843.5 224.8h0M799.6 228.8h0M855.0 212.2h0M826.4 215.3h0M804.3 230.7h0M765.1 224.6h0M959.2 179.9h0M816.7 260.0h0M790.0 242.6h0M783.8 219.8h0M774.8 249.7h0M828.2 223.1h0M772.7 231.7h0M772.9 217.9h0M769.6 165.9h0M805.4 206.3h0M834.2 207.0h0M806.1 204.0h0M816.1 212.7h0M866.8 227.3h0M856.4 214.0h0M819.7 213.4h0M833.2 194.9h0M892.8 186.0h0M812.7 212.7h0M784.7 206.2h0M796.9 232.2h0M812.7 247.1h0M779.6 203.5h0M802.4 238.6h0M841.0 251.3h0M756.2 162.0h0M922.0 213.6h0M786.4 223.6h0M854.2 218.1h0M840.1 190.2h0M838.3 254.0h0M802.3 170.7h0M852.6 194.7h0M803.4 297.5h0M774.6 247.3h0M901.9 230.9h0M796.4 195.2h0M832.2 205.6h0M754.4 218.0h0M826.0 235.3h0M771.3 245.2h0M832.7 268.3h0M763.9 212.0h0M860.0 155.3h0M757.1 253.4h0M826.9 229.9h0M831.7 273.0h0M858.3 243.7h0M759.9 216.3h0M854.2 214.2h0M812.9 243.5h0M869.8 257.8h0M806.2 252.2h0M862.0 187.2h0M813.0 194.0h0M803.2 262.3h0M845.5 174.9h0M782.6 258.2h0M862.9 260.2h0M749.0 243.2h0M842.0 246.9h0M759.9 204.1h0M831.9 302.6h0M853.5 199.6h0M926.1 256.0h0M856.8 226.7h0M814.1 182.5h0M924.4 210.2h0M776.1 279.3h0M850.0 215.8h0M876.8 213.8h0M785.1 237.2h0M768.1 266.2h0M825.3 217.1h0M763.6 247.6h0M797.1 227.1h0M886.5 225.3h0M764.0 220.3h0M843.5 199.7h0M799.2 259.5h0M880.2 211.6h0M774.3 218.8h0M858.7 236.1h0M836.8 215.2h0M889.1 217.5h0M846.4 205.7h0M787.0 257.1h0M856.5 203.2h0M852.1 191.9h0M781.6 227.2h0M777.4 221.5h0M831.0 190.9h0M864.6 192.2h0M753.8 245.9h0M805.7 252.3h0M813.6 240.1h0M793.6 258.8h0M863.3 244.3h0M820.1 183.7h0M830.0 250.9h0M791.5 213.0h0M759.8 266.2h0M858.5 262.3h0M897.4 229.5h0M783.5 207.0h0M792.3 231.8h0M861.5 207.8h0M828.3 210.3h0M783.8 231.0h0M816.6 225.4h0M827.9 210.3h0M776.1 201.1h0M834.2 196.0h0M815.0 174.4h0M779.0 246.9h0M781.5 197.7h0M750.4 248.9h0M798.1 281.1h0M763.7 256.8h0M879.8 239.6h0M856.7 233.5h0M791.7 189.9h0M861.4 211.2h0M795.9 219.6h0M829.9 255.9h0M770.4 193.9h0M752.1 246.1h0M819.6 239.0h0M861.1 245.1h0M860.8 238.8h0M812.9 217.5h0M833.6 197.2h0M900.7 220.1h0M775.8 194.9h0M802.2 235.8h0M884.9 204.3h0M780.4 233.7h0M808.7 221.5h0M814.4 252.2h0M831.7 186.1h0M749.8 239.8h0M885.6 208.4h0M877.2 198.7h0M775.5 246.6h0M801.3 238.1h0M796.6 269.8h0M876.1 229.2h0M853.7 194.9h0M856.2 227.7h0M778.2 235.2h0M873.9 223.9h0M813.6 184.7h0M784.1 260.3h0M853.4 187.5h0M820.8 202.8h0M844.2 241.4h0M856.3 204.3h0M868.1 234.0h0M840.9 184.6h0M902.1 151.3h0M759.6 225.0h0M788.7 220.2h0M768.3 206.8h0M792.0 226.8h0M808.2 255.0h0M845.4 215.1h0M780.2 229.8h0M798.1 243.8h0M834.8 238.8h0M820.7 235.0h0M858.3 205.3h0M830.1 193.9h0M776.7 284.8h0M813.6 270.2h0M794.5 264.3h0M760.2 205.6h0M780.0 258.0h0M840.8 200.0h0M754.0 198.7h0M825.8 172.8h0M837.2 208.2h0M829.8 261.3h0M783.5 194.7h0M864.4 208.2h0M883.2 186.6h0M857.4 245.7h0M796.4 187.2h0M768.0 243.0h0M836.7 205.1h0M798.5 245.4h0M832.2 273.5h0M852.7 216.3h0M840.2 261.6h0M799.9 237.0h0M820.4 237.0h0M769.8 221.2h0M793.3 248.5h0M783.7 212.3h0M757.3 274.5h0M851.2 187.5h0M751.5 220.7h0M871.0 245.0h0M850.3 209.2h0M862.3 215.8h0M856.5 207.9h0M804.7 248.2h0M805.9 236.8h0M845.4 219.4h0M789.5 185.3h0M793.4 182.5h0M774.4 207.8h0M839.9 241.1h0M851.2 173.0h0M828.4 260.0h0M764.1 223.6h0M807.9 218.9h0M896.8 280.6h0M785.3 203.3h0M779.7 176.7h0M786.9 223.5h0M790.7 211.9h0M800.9 245.0h0M853.5 214.3h0M844.5 215.7h0M806.0 269.3h0M775.1 169.2h0M840.1 232.9h0M853.4 180.5h0M827.3 262.3h0M867.4 272.6h0M752.0 217.0h0M774.2 238.8h0M842.2 209.4h0M896.2 226.7h0M876.2 199.3h0M851.6 249.5h0M821.5 236.8h0M877.7 207.6h0M849.1 267.4h0M811.5 252.2h0M812.0 204.4h0M864.9 157.1h0M814.1 240.4h0M832.4 208.5h0M807.5 240.5h0M820.3 256.9h0M783.7 230.0h0M844.0 223.9h0M755.6 267.1h0M811.9 273.7h0M779.5 247.7h0M898.7 246.9h0M851.7 209.9h0M766.7 208.9h0M841.3 252.7h0M876.1 227.4h0M753.2 251.1h0M802.5 199.1h0M823.2 252.0h0M785.4 276.4h0M819.2 208.6h0M841.4 231.3h0M811.0 216.5h0M787.9 230.3h0M756.9 208.9h0M818.1 214.6h0M801.2 256.0h0M898.1 205.3h0M771.2 270.5h0M781.6 249.7h0M813.6 195.3h0M813.9 236.9h0M796.8 222.0h0M801.0 219.3h0M805.1 206.6h0M851.7 221.9h0M845.3 216.1h0M902.3 235.6h0M758.2 248.3h0M777.4 227.5h0M905.7 177.8h0M791.7 234.0h0M815.3 193.6h0M862.3 236.3h0M809.3 235.8h0M822.5 233.2h0M792.8 223.9h0M766.0 202.5h0M762.1 226.5h0M885.9 239.3h0M753.0 209.2h0M846.9 261.5h0M848.7 269.7h0M767.2 246.7h0M770.9 197.0h0M845.0 210.1h0M831.2 200.3h0M874.1 226.6h0M785.7 228.4h0M811.5 270.5h0M808.5 244.5h0M796.7 240.0h0M749.1 218.4h0M790.9 245.3h0M867.3 209.2h0M805.7 242.6h0M804.3 251.4h0M790.6 211.0h0M877.1 230.2h0M841.3 251.0h0M821.3 204.6h0M780.7 257.7h0M815.9 248.1h0M839.9 218.0h0M771.1 216.3h0M874.2 195.6h0M880.6 176.2h0M780.2 187.9h0M784.5 244.0h0M826.9 203.8h0M797.0 250.1h0M854.5 268.4h0M797.0 243.3h0M836.7 194.1h0M774.7 247.5h0M798.1 222.8h0M792.4 282.1h0M766.7 247.8h0M950.0 210.7h0M900.1 176.2h0M819.7 222.3h0M857.4 208.5h0M901.7 183.4h0M862.0 227.7h0M857.2 235.0h0M833.2 188.6h0M764.3 193.5h0M760.6 220.7h0M867.6 236.7h0M859.7 248.9h0M809.2 209.4h0M814.3 210.1h0M812.0 206.9h0M820.6 262.1h0M835.9 171.8h0M787.8 255.9h0M804.4 205.0h0M812.1 281.6h0M844.6 248.0h0M835.4 264.7h0M752.7 222.3h0M775.8 203.2h0M803.4 212.3h0M829.0 192.7h0M809.3 198.3h0M779.0 251.0h0M821.0 207.8h0M846.0 220.2h0M806.9 239.1h0M793.4 218.6h0M775.7 239.9h0M813.5 210.5h0M809.6 254.2h0M826.3 194.9h0M845.8 230.4h0M768.8 227.4h0M773.9 240.8h0M830.7 177.0h0M775.4 189.5h0M849.0 273.8h0M785.2 212.8h0M826.5 267.3h0M792.1 213.4h0M890.4 244.7h0M783.9 207.9h0M803.6 245.9h0M868.1 260.3h0M770.8 224.8h0M817.2 246.1h0M843.4 246.6h0M759.6 248.9h0M922.8 221.2h0M865.0 233.3h0M789.3 239.1h0M834.2 203.4h0M809.2 225.3h0M818.5 207.9h0M769.2 229.8h0M808.1 239.3h0M844.7 243.2h0M877.0 230.0h0M837.9 225.7h0M840.0 191.2h0M833.7 199.0h0M832.0 226.7h0M816.5 225.5h0M747.8 225.8h0M820.7 193.7h0M848.6 207.9h0M801.8 224.0h0M806.2 224.5h0M779.4 201.6h0M818.3 222.2h0M769.0 211.4h0M819.3 242.4h0M803.8 243.0h0M775.7 238.4h0M842.5 185.8h0M844.4 248.7h0M747.6 238.0h0M817.3 229.1h0M852.3 240.4h0M862.5 206.4h0M800.4 294.2h0M875.7 203.8h0M803.6 254.2h0M812.2 244.5h0M836.0 183.4h0M852.6 184.9h0M789.8 194.7h0M816.3 182.1h0M908.7 222.9h0M760.1 179.4h0M801.9 254.9h0M803.6 238.3h0M813.4 235.2h0M755.0 189.7h0M916.4 207.4h0M879.9 193.7h0M776.1 272.0h0M778.2 221.7h0M777.1 239.6h0M764.4 252.8h0M881.2 235.7h0M812.7 183.5h0M771.9 224.3h0M845.8 228.2h0M812.9 192.5h0M831.9 199.1h0M812.4 236.0h0M749.1 225.1h0M808.3 227.3h0M899.0 210.7h0M784.5 241.1h0M818.4 253.6h0M796.6 188.0h0M773.9 257.6h0M796.6 251.7h0M859.3 256.2h0M858.9 250.4h0M852.0 204.8h0M805.2 194.9h0M807.8 196.3h0M813.8 233.5h0M815.8 204.1h0M786.8 218.6h0M853.1 197.8h0M779.8 171.5h0M835.0 217.2h0M813.9 224.1h0M773.5 219.6h0M757.3 201.6h0M838.0 246.3h0M895.8 274.9h0M873.1 204.6h0M791.1 223.4h0M814.0 195.7h0M826.6 256.4h0M800.9 216.9h0M756.7 230.2h0M788.7 278.6h0M797.7 233.1h0M828.9 271.9h0M898.8 148.7h0M909.2 181.8h0M774.5 271.0h0M924.7 210.2h0M810.9 235.9h0M903.2 191.9h0M877.3 210.1h0M857.8 209.0h0M916.8 230.3h0M881.6 209.8h0M872.4 212.1h0M906.6 163.1h0M822.8 241.2h0M897.6 217.3h0M979.6 211.7h0M857.9 219.2h0M870.4 243.3h0M844.1 225.9h0M909.2 189.8h0M919.9 231.5h0M867.2 185.5h0M896.3 199.8h0M901.2 191.4h0M830.1 235.5h0M853.5 186.4h0M854.1 201.8h0M853.3 232.8h0M946.6 200.0h0M884.0 222.9h0M861.3 236.8h0M854.6 231.7h0M847.0 172.3h0M889.3 211.6h0M930.8 233.6h0M843.7 213.4h0M888.4 202.9h0M964.1 207.2h0M932.3 192.4h0M804.6 226.4h0M882.5 201.1h0M862.9 218.0h0M861.9 224.8h0M857.1 209.8h0M874.3 248.7h0M986.0 144.6h0M779.5 300.3h0" stroke="#0634ff" stroke-width="6.6" stroke-linecap="round" fill="none" opacity="0.6"/>
<path d="M821.1 232.3h0M776.7 253.9h0M859.6 230.9h0M832.2 248.4h0M894.7 214.9h0M869.3 195.4h0M849.2 212.0h0M853.8 234.7h0M888.2 190.8h0M893.2 161.0h0M829.9 225.2h0M830.4 217.3h0M881.5 222.2h0M894.6 234.4h0M809.4 235.4h0M801.9 191.5h0M852.9 231.6h0M855.1 201.4h0M766.6 253.0h0M779.3 195.8h0M865.8 189.2h0M763.3 278.8h0M791.2 243.7h0M775.3 271.6h0M824.8 211.6h0M775.3 251.9h0M766.5 267.5h0M876.7 201.2h0M808.9 195.3h0M802.3 219.2h0M837.6 211.7h0M784.0 239.9h0M845.1 244.3h0M758.6 240.2h0M849.7 235.0h0M828.7 241.1h0M885.8 199.5h0M786.6 216.3h0M888.2 175.5h0M880.0 232.7h0M878.4 200.5h0M832.4 178.2h0M805.7 222.2h0M892.4 192.4h0M767.5 240.0h0M839.7 266.6h0M772.5 232.1h0M786.9 239.1h0M818.0 247.2h0M804.9 226.0h0M883.5 234.0h0M858.4 219.2h0M821.9 236.9h0M784.8 205.6h0M784.7 205.1h0M793.6 206.4h0M798.6 244.0h0M771.5 208.1h0M855.0 292.9h0M838.8 266.6h0M757.8 202.5h0M783.2 218.7h0M809.6 224.3h0M841.0 206.7h0M888.6 152.5h0M857.2 233.1h0M785.2 191.2h0M812.4 229.2h0M838.8 218.1h0M775.2 262.9h0M817.2 221.2h0M750.3 180.0h0M873.2 213.0h0M753.8 240.6h0M830.8 248.8h0M766.6 220.1h0M845.7 240.2h0M809.3 216.9h0M812.8 241.0h0M763.6 205.6h0M828.4 223.0h0M855.7 231.3h0M870.3 185.9h0M865.0 180.1h0M826.1 228.3h0M817.6 219.5h0M862.4 220.9h0M796.6 224.9h0M796.6 206.0h0M864.9 195.3h0M809.9 284.1h0M837.6 213.2h0M843.2 247.1h0M852.2 251.4h0M771.3 249.9h0M811.3 208.1h0M889.5 210.4h0M874.4 169.2h0M765.3 224.3h0M854.0 214.6h0M826.9 200.5h0M890.0 200.9h0M819.6 215.8h0M763.5 190.7h0M761.1 250.0h0M806.5 217.8h0M768.7 243.5h0M828.9 223.1h0M817.3 205.8h0M893.9 264.9h0M765.6 236.9h0M784.3 203.9h0M894.2 183.2h0M795.5 243.2h0M850.3 171.7h0M878.9 247.7h0M783.8 260.3h0M809.5 240.0h0M842.5 226.2h0M861.1 191.5h0M789.8 218.7h0M823.1 187.3h0M824.7 227.0h0M758.1 180.2h0M793.7 275.1h0M872.8 202.4h0M821.2 235.8h0M786.9 276.6h0M830.9 224.5h0M831.2 221.9h0M888.9 179.2h0M839.0 226.5h0M871.0 205.4h0M851.2 235.9h0M796.8 228.9h0M818.7 232.4h0M837.8 214.4h0M895.4 262.8h0M834.5 256.8h0M805.3 215.0h0M788.9 277.1h0M790.2 253.1h0M784.9 264.6h0M758.0 234.7h0M847.0 226.3h0M892.5 201.8h0M803.7 219.5h0M811.8 201.1h0M821.8 201.5h0M813.2 201.2h0M847.4 234.5h0M809.5 176.2h0M824.3 224.7h0M816.1 222.3h0M848.2 238.4h0M757.1 271.0h0M803.2 203.9h0M820.7 243.8h0M846.8 224.1h0M822.1 191.3h0M778.0 231.6h0M747.5 251.5h0M826.8 212.7h0M851.8 223.6h0M751.3 219.0h0M776.0 154.7h0M847.6 234.4h0M833.8 248.4h0M847.5 181.1h0M782.4 232.0h0M783.5 196.5h0M803.4 236.2h0M765.8 241.4h0M829.9 186.2h0M812.2 195.7h0M856.5 239.8h0M754.8 245.1h0M868.4 220.5h0M801.8 236.2h0M868.4 249.3h0M791.3 239.5h0M819.4 263.1h0M822.4 219.6h0M791.7 236.1h0M840.9 188.2h0M816.5 218.1h0M815.7 196.9h0M808.4 231.6h0M830.2 197.5h0M854.4 219.9h0M848.8 231.4h0M772.5 251.5h0M868.4 227.5h0M813.8 256.4h0M787.1 196.7h0M894.7 201.1h0M795.5 217.9h0M774.7 214.5h0M869.9 204.7h0M857.2 164.4h0M787.0 244.6h0M901.5 215.3h0M801.5 239.3h0M750.9 231.0h0M847.7 226.9h0M927.1 157.7h0M842.0 184.7h0M848.4 192.7h0M828.5 203.3h0M799.6 237.4h0M861.4 242.1h0M845.1 214.6h0M843.1 224.6h0M777.2 194.4h0M894.4 247.1h0M869.3 239.9h0M786.3 250.9h0M883.7 188.6h0M821.0 226.0h0M837.4 185.2h0M839.8 229.2h0M820.1 246.2h0M767.6 215.5h0M918.0 169.5h0M867.3 208.4h0M796.5 197.7h0M771.6 198.3h0M801.5 212.2h0M845.3 234.5h0M798.7 227.7h0M823.0 243.1h0M791.5 249.1h0M899.7 205.3h0M844.3 245.9h0M798.2 218.6h0M800.4 247.8h0M781.4 203.6h0M839.1 212.8h0M828.1 220.6h0M859.2 207.7h0M872.0 290.2h0M791.9 161.2h0M801.2 184.7h0M853.1 160.7h0M877.4 242.5h0M787.3 214.0h0M865.6 230.5h0M875.9 175.6h0M876.6 188.5h0M828.1 229.1h0M835.5 219.0h0M796.4 230.0h0M764.0 209.6h0M899.3 204.3h0M813.6 244.0h0M804.6 263.8h0M841.7 239.0h0M867.9 185.4h0M848.0 220.3h0M828.4 194.3h0M798.1 246.5h0M846.4 198.0h0M783.7 169.8h0M792.5 232.4h0M797.1 215.3h0M835.7 223.5h0M796.6 237.1h0M795.3 210.3h0M808.4 209.3h0M839.1 199.3h0M774.2 182.5h0M769.1 222.0h0M755.5 187.2h0M861.1 243.0h0M846.9 199.1h0M781.1 215.6h0M877.1 242.0h0M783.6 181.4h0M864.6 203.6h0M879.0 201.9h0M823.5 243.2h0M929.4 187.3h0M749.7 260.3h0M827.2 183.3h0M876.2 199.8h0M749.8 225.9h0M808.5 221.6h0M797.2 185.1h0M799.9 242.8h0M766.6 278.5h0M852.1 227.3h0M829.2 184.8h0M879.9 237.9h0M786.5 234.8h0M821.0 211.1h0M829.9 228.0h0M788.9 194.8h0M783.1 223.7h0M790.6 234.2h0M792.6 225.1h0M826.4 205.7h0M820.4 259.1h0M826.7 252.0h0M856.1 236.1h0M838.2 231.3h0M897.0 227.4h0M892.1 221.7h0M868.4 217.9h0M829.9 188.6h0M872.9 226.9h0M813.5 265.5h0M892.7 213.7h0M748.7 258.0h0M814.1 217.1h0M843.5 259.7h0M834.7 246.3h0M858.2 266.7h0M772.3 201.3h0M768.1 231.5h0M835.1 230.5h0M811.5 165.7h0M850.6 187.3h0M871.8 212.7h0M879.2 169.1h0M787.0 244.1h0M833.3 228.0h0M796.6 194.8h0M821.4 224.9h0M847.9 244.4h0M764.5 260.2h0M808.4 200.2h0M847.7 221.0h0M820.5 217.7h0M797.7 173.7h0M774.4 216.6h0M750.3 246.0h0M855.2 216.4h0M870.2 215.9h0M876.7 247.9h0M818.8 191.8h0M825.1 230.4h0M822.9 236.6h0M831.5 236.3h0M769.5 249.5h0M802.1 219.5h0M891.6 177.1h0M847.0 216.9h0M851.2 235.2h0M844.6 233.7h0M879.8 214.9h0M845.0 255.8h0M833.5 259.4h0M802.6 242.7h0M843.7 196.0h0M806.7 244.8h0M772.7 223.0h0M826.6 228.1h0M749.0 197.8h0M809.4 239.0h0M856.8 241.1h0M832.9 203.8h0M806.5 190.8h0M814.4 249.9h0M823.6 200.7h0M867.7 200.1h0M891.7 206.6h0M844.2 186.0h0M940.6 215.5h0M789.1 235.8h0M888.7 190.0h0M768.9 157.5h0M872.2 220.7h0M855.3 162.2h0M798.3 251.8h0M808.7 250.0h0M809.6 193.7h0M871.0 207.0h0M799.8 185.8h0M863.5 220.8h0M751.0 187.7h0M772.2 184.8h0M826.9 165.3h0M822.4 216.3h0M835.6 207.6h0M765.9 262.5h0M754.5 179.6h0M848.8 216.0h0M893.9 212.0h0M801.6 242.2h0M783.9 250.5h0M777.9 274.3h0M829.4 200.6h0M896.5 229.5h0M811.3 239.3h0M848.9 220.1h0M858.7 214.0h0M797.1 238.6h0M845.3 240.5h0M848.3 196.8h0M776.8 202.3h0M788.2 252.1h0M754.1 257.3h0M891.2 188.0h0M749.3 257.1h0M782.0 235.1h0M777.1 238.3h0M836.6 263.7h0M767.9 193.2h0M805.8 200.4h0M773.9 237.8h0M789.1 236.4h0M806.9 235.5h0M759.5 207.3h0M844.9 187.5h0M852.4 256.7h0M812.9 222.7h0M892.6 210.5h0M750.6 265.3h0M903.2 219.1h0M891.6 242.8h0M874.1 178.2h0M897.4 224.7h0M787.8 188.3h0M757.2 260.1h0M850.6 211.9h0M882.5 254.9h0M850.8 235.3h0M860.6 239.8h0M751.3 216.2h0M846.2 253.6h0M870.7 206.3h0M791.2 268.6h0M808.6 212.7h0M819.5 194.3h0M844.9 224.8h0M842.7 213.6h0M859.5 180.2h0M802.4 219.6h0M803.0 280.4h0M841.8 266.9h0M853.6 230.9h0M813.5 205.4h0M845.2 221.0h0M780.5 243.6h0M812.9 221.4h0M782.1 247.6h0M815.0 301.2h0M827.4 202.0h0M775.8 234.1h0M762.2 262.0h0M816.8 240.3h0M824.7 248.3h0M801.6 205.6h0M815.3 249.7h0M823.1 264.8h0M804.2 176.1h0M792.5 185.2h0M773.1 249.5h0M869.7 222.0h0M829.6 247.5h0M864.1 257.7h0M801.0 225.4h0M868.2 208.2h0M820.5 228.2h0M812.2 170.4h0M783.1 215.6h0M793.1 219.8h0M852.4 213.0h0M787.9 258.5h0M794.9 224.8h0M832.5 191.3h0M866.4 220.5h0M829.0 222.3h0M774.4 218.6h0M784.5 192.7h0M813.3 211.2h0M774.1 242.2h0M854.4 231.5h0M826.2 236.5h0M840.5 250.8h0M777.9 263.4h0M760.5 224.4h0M825.1 261.4h0M800.5 220.3h0M890.6 224.1h0M927.5 204.9h0M803.2 270.9h0M850.6 195.8h0M809.1 224.0h0M817.7 197.3h0M831.6 220.2h0M844.1 198.7h0M805.6 193.4h0M753.8 232.1h0M829.8 187.2h0M750.7 201.4h0M858.1 227.2h0M799.6 189.8h0M854.6 219.0h0M865.9 188.0h0M813.8 229.6h0M879.9 220.4h0M814.1 233.1h0M767.1 199.7h0M761.3 261.4h0M794.2 197.2h0M883.6 213.1h0M878.8 237.9h0M812.4 264.9h0M765.6 249.9h0M830.2 184.8h0M838.4 241.4h0M795.4 244.7h0M862.1 270.5h0M811.6 221.2h0M840.8 184.2h0M815.0 185.3h0M843.2 190.1h0M776.8 203.7h0M753.3 263.6h0M772.1 243.7h0M809.1 215.6h0M865.8 167.7h0M895.2 227.1h0M896.0 235.6h0M876.2 239.8h0M894.3 205.6h0M869.2 189.5h0M873.2 205.6h0M852.4 195.8h0M893.0 219.1h0M848.3 172.2h0M919.9 241.8h0M866.9 222.6h0M982.5 204.7h0M795.6 184.5h0M815.5 216.4h0M841.8 224.1h0M842.5 190.4h0M842.1 217.5h0M867.0 233.2h0M920.2 204.5h0M863.4 215.5h0M883.4 218.9h0M857.2 200.1h0M833.7 218.0h0M799.1 214.1h0M849.1 248.4h0M842.3 208.9h0M878.2 190.7h0M931.9 202.5h0M880.4 174.8h0M918.4 196.9h0M883.9 237.8h0M798.3 255.2h0M898.0 197.1h0M885.8 221.4h0M811.3 231.6h0M818.2 186.3h0M837.0 186.7h0M851.5 233.7h0M890.1 207.4h0M850.5 215.8h0M946.3 187.8h0M977.1 159.3h0" stroke="#0634ff" stroke-width="6.6" stroke-linecap="round" fill="none" opacity="0.6"/>
<path d="M819.5 205.2h0M788.2 238.4h0M821.3 213.7h0M783.6 199.6h0M827.8 194.6h0M898.5 222.2h0M777.7 231.9h0M887.1 200.4h0M828.0 192.5h0M847.4 186.8h0M861.3 195.1h0M806.7 217.2h0M778.0 258.1h0M821.0 263.0h0M822.7 250.3h0M796.6 248.8h0M776.9 258.2h0M801.7 225.3h0M843.7 200.0h0M881.9 207.7h0M875.4 200.2h0M849.9 234.7h0M873.2 193.2h0M803.3 193.4h0M815.6 197.5h0M788.1 235.7h0M883.8 205.3h0M834.1 226.1h0M829.3 179.5h0M778.1 196.3h0M834.7 214.0h0M828.5 194.8h0M828.1 183.5h0M838.1 209.9h0M813.2 232.3h0M829.5 213.8h0M882.1 240.5h0M782.3 217.9h0M822.9 231.8h0M829.3 240.5h0M841.2 226.2h0M845.5 168.1h0M798.5 225.7h0M817.8 174.4h0M797.6 238.0h0M777.8 211.7h0M768.3 201.8h0M841.3 195.1h0M825.9 249.7h0M753.1 269.2h0M772.9 267.6h0M791.2 240.9h0M827.0 265.7h0M844.7 209.5h0M752.0 255.4h0M886.7 215.8h0M819.2 231.3h0M818.0 235.6h0M811.4 271.6h0M808.4 232.8h0M807.0 221.8h0M763.7 235.1h0M829.4 238.3h0M796.5 264.7h0M785.2 245.1h0M845.7 218.2h0M775.8 221.6h0M868.6 241.1h0M852.6 252.9h0M851.9 203.6h0M827.6 210.3h0M809.6 194.0h0M800.9 253.1h0M802.0 197.2h0M851.9 202.7h0M867.3 227.3h0M894.0 213.9h0M818.2 278.8h0M782.0 228.0h0M795.8 244.1h0M773.2 228.8h0M902.1 201.2h0M837.8 164.5h0M826.5 256.4h0M838.4 223.9h0M827.7 220.4h0M813.4 220.4h0M752.6 249.2h0M812.0 197.4h0M774.8 209.2h0M785.6 238.7h0M812.5 200.0h0M825.2 217.8h0M831.5 251.7h0M788.9 244.6h0M845.4 216.2h0M768.2 268.0h0M808.9 265.4h0M780.3 231.8h0M810.1 239.8h0M796.6 247.3h0M824.1 211.6h0M761.8 222.1h0M866.5 224.8h0M807.1 246.6h0M761.7 169.9h0M868.0 208.0h0M803.8 207.3h0M761.2 243.8h0M822.4 249.2h0M844.4 182.8h0M798.8 180.0h0M788.2 246.1h0M823.0 258.3h0M785.3 228.6h0M859.3 188.6h0M912.9 221.6h0M891.6 202.0h0M831.9 246.3h0M921.7 210.7h0M811.4 215.3h0M778.4 268.8h0M881.9 197.0h0M762.9 202.1h0M840.3 236.0h0M794.0 270.4h0M845.7 188.8h0M790.7 243.7h0M832.3 241.7h0M806.2 208.1h0M802.2 227.8h0M804.9 221.8h0M823.3 250.6h0M909.6 198.1h0M814.8 225.8h0M886.6 178.3h0M817.6 189.5h0M786.3 234.9h0M869.4 208.7h0M783.2 283.0h0M753.8 247.8h0M845.8 212.1h0M822.1 239.0h0M813.8 199.3h0M763.0 217.7h0M811.1 185.7h0M853.9 232.1h0M823.4 265.1h0M853.8 245.6h0M821.5 235.6h0M782.9 225.6h0M797.6 197.9h0M878.5 299.4h0M831.8 203.1h0M911.9 214.9h0M756.7 196.9h0M805.6 165.8h0M788.2 214.3h0M831.6 253.7h0M764.3 173.1h0M805.3 192.3h0M836.9 297.0h0M794.3 221.6h0M765.8 183.9h0M761.6 171.0h0M812.4 209.7h0M881.8 213.9h0M856.6 220.2h0M847.7 260.8h0M871.9 211.9h0M787.7 223.8h0M785.7 220.5h0M794.7 240.6h0M868.5 204.4h0M827.8 223.6h0M786.8 214.8h0M910.3 163.1h0M842.4 215.4h0M841.2 223.1h0M792.0 242.3h0M789.7 215.6h0M890.5 183.5h0M815.5 219.7h0M765.8 215.3h0M802.4 222.2h0M815.1 258.2h0M767.0 195.2h0M925.0 166.4h0M817.3 273.7h0M822.6 231.9h0M770.6 262.1h0M808.1 226.4h0M804.2 247.4h0M772.3 220.9h0M803.8 254.4h0M810.3 235.2h0M854.8 249.0h0M755.2 229.0h0M845.2 255.0h0M865.9 215.6h0M810.6 242.4h0M828.9 220.8h0M757.1 225.4h0M795.6 234.5h0M830.1 158.6h0M824.9 206.0h0M838.9 156.2h0M836.1 196.6h0M801.7 206.9h0M765.1 262.1h0M790.2 238.7h0M869.1 191.7h0M759.8 227.6h0M785.3 223.4h0M802.1 254.4h0M819.9 199.1h0M817.4 267.4h0M824.7 242.4h0M828.3 171.8h0M767.8 206.0h0M769.3 270.4h0M810.7 254.3h0M804.7 258.0h0M778.0 213.6h0M755.5 241.9h0M772.6 207.0h0M785.9 198.5h0M760.5 237.2h0M791.5 216.8h0M870.0 185.0h0M897.9 183.1h0M819.4 272.4h0M818.5 242.0h0M845.8 264.6h0M775.2 240.7h0M860.6 200.7h0M799.5 228.9h0M842.5 209.9h0M848.6 223.5h0M757.1 258.0h0M786.2 206.2h0M772.5 257.4h0M827.7 291.4h0M806.2 257.6h0M792.8 268.0h0M846.7 207.5h0M764.4 244.2h0M815.8 219.2h0M767.3 247.6h0M824.3 222.1h0M832.4 212.2h0M842.9 228.1h0M835.5 218.3h0M820.6 223.8h0M817.3 243.7h0M835.4 186.5h0M792.4 238.6h0M799.1 230.9h0M792.0 259.5h0M875.3 184.7h0M812.7 202.1h0M799.7 227.0h0M815.2 181.8h0M814.5 190.9h0M828.0 246.3h0M818.9 177.7h0M820.7 205.8h0M807.7 208.1h0M843.8 236.3h0M845.4 204.9h0M827.2 240.5h0M828.3 214.4h0M798.5 215.7h0M875.0 210.9h0M752.2 244.7h0M841.9 165.7h0M849.2 231.8h0M872.1 214.3h0M824.8 201.9h0M800.9 180.8h0M798.6 196.2h0M776.8 267.3h0M845.0 270.3h0M854.9 209.8h0M781.1 198.1h0M941.1 195.8h0M759.8 234.7h0M886.5 198.9h0M854.8 196.9h0M801.2 188.0h0M773.0 285.6h0M834.2 239.4h0M772.7 258.9h0M840.0 234.7h0M847.0 234.2h0M817.1 215.3h0M806.4 229.5h0M789.8 278.6h0M810.2 200.0h0M843.9 199.9h0M796.9 221.2h0M835.6 192.4h0M804.6 240.4h0M840.3 216.6h0M792.7 175.3h0M831.4 176.8h0M806.5 210.6h0M875.7 188.5h0M814.4 251.5h0M823.8 246.7h0M860.2 211.4h0M838.8 189.7h0M882.1 223.5h0M866.0 203.9h0M805.9 182.4h0M881.4 202.8h0M770.0 219.9h0M779.5 224.0h0M799.1 200.9h0M804.9 227.3h0M824.0 226.0h0M777.6 229.5h0M889.0 231.4h0M774.4 224.2h0M773.8 259.4h0M853.4 217.7h0M901.8 242.6h0M782.5 200.4h0M795.3 241.5h0M847.3 201.8h0M819.0 261.2h0M799.4 204.5h0M821.1 231.0h0M809.1 237.5h0M854.2 228.4h0M789.3 242.9h0M782.5 288.6h0M799.7 203.2h0M784.9 201.8h0M858.3 206.3h0M826.5 191.6h0M788.1 247.6h0M873.5 195.1h0M833.0 171.0h0M783.4 261.3h0M805.7 236.7h0M805.4 237.1h0M768.4 189.5h0M796.7 196.9h0M795.9 215.9h0M864.5 227.1h0M830.5 221.8h0M835.0 217.9h0M799.7 172.5h0M763.7 247.9h0M904.7 218.8h0M812.1 220.3h0M814.5 189.8h0M852.6 159.2h0M836.1 225.2h0M836.9 236.3h0M779.0 263.1h0M785.1 208.3h0M832.5 180.2h0M805.1 192.9h0M880.5 242.8h0M867.6 190.3h0M870.2 217.2h0M865.6 224.1h0M830.4 214.2h0M832.0 180.8h0M832.2 189.3h0M828.4 260.7h0M782.1 232.9h0M827.0 228.5h0M821.0 261.5h0M852.7 230.8h0M791.1 177.9h0M790.3 182.0h0M838.9 202.1h0M842.1 192.1h0M777.9 241.0h0M821.0 265.0h0M847.8 205.8h0M848.0 246.0h0M820.6 219.9h0M857.4 203.3h0M826.8 218.6h0M779.9 228.2h0M749.6 229.8h0M881.9 183.6h0M803.9 184.5h0M864.2 233.9h0M832.4 214.9h0M831.6 179.2h0M798.3 254.0h0M828.4 218.2h0M889.3 199.1h0M879.7 169.7h0M902.8 223.8h0M841.7 203.4h0M919.8 185.9h0M839.3 171.9h0M853.0 208.3h0M828.4 201.8h0M762.7 201.3h0M802.2 260.5h0M876.0 211.1h0M890.9 224.8h0M821.9 203.4h0M875.0 190.8h0M823.0 200.2h0M798.8 229.2h0M830.9 260.1h0M825.4 215.7h0M835.9 190.3h0M835.4 249.8h0M784.3 242.6h0M813.1 219.0h0M827.5 205.3h0M829.7 261.8h0M819.2 210.1h0M827.3 236.2h0M763.7 252.2h0M781.0 229.2h0M838.2 181.9h0M768.0 186.5h0M762.8 239.1h0M933.1 206.5h0M797.6 228.5h0M840.3 241.0h0M834.0 244.2h0M789.3 232.5h0M820.8 249.0h0M791.4 272.1h0M809.5 154.8h0M814.0 220.7h0M779.8 243.1h0M793.9 220.2h0M828.3 211.0h0M806.2 275.6h0M882.5 202.3h0M939.0 181.0h0M873.7 252.4h0M827.4 217.0h0M843.1 219.3h0M828.3 194.1h0M850.4 213.9h0M793.1 250.2h0M850.9 198.4h0M786.8 219.2h0M926.7 186.8h0M817.6 215.7h0M829.0 220.8h0M791.1 244.3h0M980.6 198.8h0M904.5 172.2h0M820.0 189.0h0M897.7 186.3h0M819.0 189.0h0M823.6 262.0h0M756.1 206.4h0M855.0 229.2h0M834.8 241.0h0M818.6 228.4h0M783.7 245.7h0M803.4 231.4h0M860.6 231.2h0M849.7 183.2h0M831.7 278.9h0M799.4 212.0h0M909.7 238.0h0M778.9 187.8h0M849.5 185.4h0M840.3 223.9h0M821.8 197.8h0M791.0 201.6h0M830.2 192.1h0M776.8 236.6h0M782.8 216.7h0M763.7 250.8h0M828.3 204.5h0M861.8 236.5h0M799.7 234.7h0M808.8 248.1h0M784.7 243.1h0M822.4 199.2h0M809.1 159.3h0M876.0 221.4h0M859.8 248.2h0M778.6 212.7h0M799.8 208.5h0M805.1 204.8h0M863.7 206.5h0M807.2 235.1h0M854.4 211.4h0M903.6 207.6h0M799.2 238.8h0M797.0 247.6h0M759.8 176.1h0M855.3 249.1h0M833.1 228.7h0M833.8 173.6h0M828.0 203.5h0M783.6 288.4h0M815.4 234.9h0M827.2 252.6h0M806.1 232.5h0M830.4 225.8h0M800.3 238.9h0M854.9 160.6h0M820.2 226.0h0M868.1 214.3h0M898.2 244.5h0M766.8 216.0h0M907.3 264.4h0M824.7 246.9h0M775.9 242.1h0M828.6 200.3h0M819.5 248.3h0M880.6 239.0h0M851.2 243.9h0M818.6 220.4h0M878.4 172.0h0M877.4 247.0h0M793.2 260.2h0M913.7 175.2h0M846.9 169.3h0M820.6 214.2h0M880.2 196.9h0M900.5 219.1h0M838.5 175.2h0M876.0 215.8h0M860.3 212.4h0M861.6 222.1h0M865.8 254.1h0M832.2 189.0h0M838.0 200.3h0M808.6 263.5h0M877.0 221.8h0M875.5 203.2h0M874.6 234.1h0M850.5 243.4h0M869.7 245.4h0M823.3 215.3h0M931.6 218.5h0M876.3 195.1h0M923.9 176.0h0M931.8 196.5h0M817.7 214.7h0M936.7 221.2h0M936.2 149.9h0M866.7 208.6h0M870.3 202.8h0M889.1 196.3h0M876.9 211.7h0M969.1 219.5h0M842.9 235.8h0M945.6 207.2h0M919.2 209.1h0M913.7 185.2h0M936.8 183.2h0M863.8 237.4h0M884.7 216.2h0M962.8 163.5h0" stroke="#0634ff" stroke-width="6.6" stroke-linecap="round" fill="none" opacity="0.6"/>
<path d="M822.9 191.8h0M862.8 214.8h0M840.8 243.4h0M802.0 192.2h0M857.1 198.2h0M798.5 290.6h0M817.9 183.9h0M835.5 230.5h0M799.7 230.7h0M833.3 225.1h0M836.1 225.3h0M759.5 255.5h0M885.1 205.5h0M870.8 212.7h0M821.1 195.1h0M819.8 223.4h0M770.4 183.1h0M857.6 217.7h0M791.6 262.9h0M807.0 239.4h0M891.2 228.4h0M849.4 216.4h0M788.6 228.0h0M907.5 205.5h0M820.4 241.3h0M801.0 221.4h0M751.5 233.3h0M865.0 186.2h0M833.5 258.5h0M852.9 211.1h0M915.1 205.4h0M872.9 227.5h0M797.4 205.6h0M775.0 199.6h0M767.3 228.9h0M828.4 240.8h0M822.6 223.1h0M899.9 227.1h0M797.9 175.8h0M807.2 231.5h0M822.5 253.8h0M775.9 222.5h0M839.8 179.1h0M870.2 252.8h0M833.9 254.5h0M816.6 210.9h0M756.8 258.4h0M758.8 270.1h0M809.4 195.0h0M844.6 207.2h0M775.6 276.1h0M800.8 188.5h0M888.3 200.6h0M778.2 200.0h0M748.4 229.0h0M781.2 260.5h0M816.0 248.4h0M839.0 229.4h0M834.6 182.0h0M769.7 191.6h0M773.5 222.1h0M764.8 253.9h0M775.4 255.6h0M869.3 239.3h0M834.3 159.1h0M793.6 287.5h0M879.6 237.8h0M801.1 217.5h0M893.1 201.3h0M880.8 193.9h0M791.5 234.8h0M839.4 194.3h0M841.5 217.1h0M878.7 179.8h0M779.6 225.8h0M856.8 233.6h0M787.2 235.8h0M881.0 191.9h0M823.5 255.2h0M899.5 203.4h0M826.3 232.9h0M850.6 204.2h0M852.6 206.0h0M825.0 240.3h0M913.2 232.5h0M753.6 261.7h0M861.9 226.4h0M793.3 214.7h0M867.7 243.1h0M765.1 193.0h0M875.4 231.8h0M801.7 199.6h0M839.1 205.1h0M829.0 237.4h0M830.7 235.4h0M811.6 212.8h0M844.0 189.1h0M876.2 189.2h0M798.1 215.1h0M795.7 255.0h0M792.3 277.9h0M848.5 235.6h0M853.7 265.5h0M785.9 238.4h0M861.5 167.3h0M843.3 208.2h0M800.0 214.4h0M852.6 215.1h0M754.0 213.9h0M835.0 245.5h0M828.9 226.9h0M818.9 232.7h0M755.9 249.2h0M793.6 198.8h0M769.6 264.5h0M764.2 229.9h0M818.0 184.6h0M806.1 250.0h0M820.1 186.5h0M786.0 224.2h0M889.2 222.8h0M775.8 186.0h0M829.0 176.1h0M791.3 198.3h0M818.1 197.6h0M834.9 215.2h0M805.6 241.5h0M833.4 219.8h0M810.8 245.4h0M849.4 225.0h0M821.7 249.2h0M828.0 267.1h0M849.7 182.3h0M801.0 193.4h0M905.8 211.2h0M820.4 210.9h0M802.0 251.7h0M836.0 242.0h0M830.8 226.1h0M911.4 226.0h0M821.1 220.7h0M836.4 261.9h0M896.4 243.9h0M811.6 205.2h0M854.3 198.6h0M811.4 226.3h0M911.9 209.4h0M894.5 233.4h0M839.9 236.0h0M858.9 197.4h0M860.3 246.5h0M756.7 262.4h0M952.4 193.0h0M860.1 177.1h0M843.5 220.0h0M790.9 217.5h0M796.2 177.7h0M823.6 214.6h0M750.0 237.3h0M784.9 232.3h0M793.3 234.4h0M850.5 203.0h0M801.3 276.9h0M863.8 238.4h0M819.9 211.1h0M835.0 283.5h0M775.7 185.2h0M822.9 200.7h0M754.7 265.8h0M838.4 207.8h0M855.5 227.7h0M798.9 208.6h0M825.3 189.2h0M813.8 206.9h0M820.0 229.3h0M793.4 219.4h0M870.7 238.6h0M803.5 200.0h0M932.4 207.1h0M830.7 214.2h0M783.1 235.7h0M802.3 265.1h0M796.2 220.1h0M791.9 218.0h0M754.6 213.5h0M843.7 164.5h0M801.8 254.5h0M858.3 234.8h0M862.9 183.7h0M803.6 206.2h0M874.4 243.3h0M792.0 155.9h0M792.2 283.4h0M925.8 225.1h0M852.7 220.5h0M809.2 271.1h0M843.9 177.9h0M829.5 225.3h0M825.5 225.4h0M856.7 216.2h0M877.1 181.5h0M801.7 280.5h0M815.8 203.9h0M826.6 230.2h0M821.6 226.1h0M781.3 253.8h0M826.7 202.7h0M822.9 244.0h0M831.1 206.3h0M871.4 278.6h0M804.7 234.3h0M853.9 239.6h0M841.3 236.0h0M825.8 219.3h0M800.6 243.3h0M774.6 202.5h0M796.8 263.7h0M825.3 222.4h0M842.0 200.8h0M859.3 161.2h0M857.1 197.7h0M897.2 260.6h0M775.9 254.3h0M796.9 173.6h0M791.6 258.5h0M827.1 270.4h0M830.3 241.2h0M826.6 216.4h0M879.1 206.4h0M811.5 242.9h0M809.9 203.9h0M854.8 225.4h0M764.1 232.8h0M853.5 179.1h0M827.6 195.7h0M859.7 247.2h0M757.4 228.5h0M841.8 237.9h0M827.2 167.8h0M790.0 243.4h0M782.0 288.2h0M753.1 241.0h0M903.3 210.0h0M748.2 254.9h0M823.6 245.0h0M949.9 164.9h0M854.4 178.6h0M834.8 216.6h0M910.1 255.3h0M770.2 248.1h0M809.5 199.8h0M884.5 177.4h0M860.4 221.2h0M824.9 167.3h0M837.3 209.0h0M795.3 196.5h0M797.1 209.4h0M779.5 218.6h0M793.2 260.1h0M766.0 196.0h0M832.5 255.7h0M861.3 248.6h0M847.4 219.9h0M791.7 271.8h0M820.5 205.7h0M770.2 213.8h0M841.1 245.4h0M823.2 192.6h0M810.5 255.5h0M925.6 198.8h0M778.4 231.6h0M846.3 218.2h0M799.0 258.4h0M771.5 239.3h0M778.1 216.7h0M810.0 282.2h0M874.6 262.5h0M816.8 202.6h0M771.6 265.6h0M804.8 195.8h0M845.6 225.7h0M779.2 207.2h0M832.7 240.4h0M831.9 198.7h0M838.8 202.0h0M870.5 200.8h0M808.8 228.6h0M829.4 198.1h0M844.2 209.4h0M783.4 220.9h0M847.6 208.0h0M784.1 257.0h0M818.3 211.9h0M784.8 197.8h0M784.1 181.2h0M862.1 210.0h0M858.4 213.3h0M766.0 242.8h0M819.2 224.9h0M750.5 226.0h0M905.5 183.8h0M801.4 212.9h0M833.5 238.4h0M833.4 241.6h0M865.4 192.9h0M819.1 187.1h0M762.1 217.6h0M900.3 201.0h0M921.8 185.8h0M787.7 258.6h0M831.4 194.6h0M775.7 269.0h0M837.4 164.2h0M840.1 195.1h0M829.6 198.0h0M781.7 251.6h0M815.1 242.6h0M822.7 187.3h0M781.2 210.8h0M833.5 246.0h0M866.3 195.1h0M773.4 217.2h0M882.3 223.8h0M850.4 226.6h0M817.0 213.6h0M763.9 227.2h0M815.5 253.4h0M827.8 220.1h0M840.1 236.7h0M829.3 198.7h0M832.4 205.2h0M784.8 195.5h0M807.2 268.1h0M820.6 218.0h0M784.2 231.3h0M795.6 226.7h0M770.2 219.5h0M855.7 197.2h0M904.4 179.5h0M815.7 189.3h0M772.6 268.7h0M809.2 198.9h0M772.5 243.8h0M844.3 209.9h0M886.5 211.7h0M781.3 235.2h0M794.8 244.3h0M881.5 189.9h0M828.7 201.9h0M832.1 238.9h0M792.0 204.5h0M840.3 221.6h0M852.0 210.6h0M817.7 212.6h0M866.0 186.9h0M814.6 213.2h0M817.3 233.6h0M848.8 195.8h0M770.3 264.0h0M796.6 219.4h0M871.8 248.5h0M779.1 289.3h0M829.9 259.1h0M803.7 264.1h0M849.2 250.1h0M774.3 268.4h0M876.7 199.0h0M844.1 243.8h0M780.5 172.5h0M833.2 222.7h0M840.3 275.3h0M817.8 203.8h0M877.2 215.9h0M801.8 242.4h0M859.4 215.5h0M761.1 230.4h0M792.8 270.3h0M820.3 215.1h0M913.8 226.2h0M857.8 211.0h0M790.8 238.6h0M772.0 252.6h0M752.2 236.7h0M922.9 162.8h0M815.6 226.9h0M823.7 219.4h0M831.1 214.9h0M841.2 166.3h0M853.9 198.7h0M844.7 179.5h0M822.3 225.3h0M818.2 252.2h0M839.9 190.2h0M796.9 226.5h0M862.3 271.3h0M779.3 267.7h0M881.8 250.5h0M830.2 215.6h0M874.6 182.9h0M874.9 210.3h0M840.8 237.4h0M795.4 227.9h0M790.8 218.5h0M861.7 221.2h0M833.9 236.5h0M864.8 266.9h0M784.7 248.3h0M804.1 207.5h0M787.4 193.2h0M759.4 233.2h0M908.0 215.7h0M845.9 241.1h0M883.0 226.0h0M869.0 257.6h0M824.6 235.9h0M827.9 210.1h0M776.5 215.0h0M797.0 174.2h0M878.6 214.0h0M848.9 194.9h0M790.7 226.6h0M888.9 194.4h0M812.3 205.1h0M922.3 181.2h0M808.8 243.4h0M773.7 240.1h0M770.0 194.6h0M827.8 226.3h0M769.5 227.9h0M797.7 212.4h0M825.9 272.2h0M889.7 228.4h0M791.8 246.0h0M782.8 254.8h0M796.5 230.8h0M805.2 241.7h0M770.0 226.8h0M805.0 195.1h0M814.1 246.0h0M848.0 187.4h0M750.0 231.4h0M755.6 229.3h0M755.1 233.2h0M812.4 201.8h0M769.8 249.4h0M834.4 253.8h0M869.6 214.0h0M826.7 282.2h0M789.2 292.5h0M828.8 235.1h0M791.6 270.2h0M807.8 240.8h0M806.3 264.6h0M802.9 241.0h0M813.1 216.9h0M843.2 200.7h0M831.3 166.9h0M837.9 238.4h0M758.1 239.2h0M842.0 272.0h0M825.6 224.2h0M830.6 276.3h0M856.7 268.8h0M827.4 190.3h0M767.2 223.0h0M818.3 236.3h0M795.2 206.8h0M788.1 259.7h0M779.9 222.6h0M775.9 246.3h0M825.0 221.4h0M884.9 204.1h0M829.5 264.8h0M867.3 224.1h0M830.5 187.1h0M844.5 217.8h0M756.9 229.3h0M851.7 255.4h0M841.3 223.2h0M809.8 240.1h0M813.0 219.2h0M827.0 182.4h0M859.9 215.8h0M912.6 239.9h0M802.6 226.8h0M806.1 252.9h0M775.6 239.5h0M821.3 243.2h0M883.1 255.4h0M793.6 230.8h0M810.2 250.3h0M853.5 192.1h0M771.4 244.0h0M790.2 213.6h0M831.0 196.6h0M805.0 201.8h0M863.1 257.0h0M784.1 212.5h0M868.0 171.9h0M769.8 233.4h0M862.3 198.0h0M873.1 228.4h0M795.3 235.7h0M781.1 214.2h0M815.9 228.8h0M829.0 238.3h0M814.7 197.7h0M849.9 222.9h0M788.4 201.0h0M786.9 239.9h0M784.1 235.1h0M809.1 204.2h0M769.6 228.6h0M837.7 192.5h0M829.2 208.8h0M798.1 240.8h0M789.5 218.5h0M789.1 228.5h0M826.7 212.5h0M822.7 232.2h0M767.1 230.9h0M783.2 212.6h0M900.7 174.1h0M878.5 211.2h0M909.2 223.3h0M910.3 197.4h0M824.6 195.7h0M870.8 260.6h0M889.0 164.0h0M861.4 221.5h0M923.2 198.3h0M924.9 171.7h0M793.3 263.1h0M845.6 199.9h0M803.9 225.4h0M840.4 208.2h0M840.3 205.3h0M843.5 189.1h0M918.7 194.2h0M930.1 211.5h0M843.7 225.1h0M856.9 186.2h0M890.4 166.4h0M824.3 216.5h0M897.3 187.8h0M918.1 228.1h0M891.2 201.3h0M964.8 196.6h0M908.1 222.3h0M893.2 210.9h0M803.9 186.2h0M893.8 226.3h0M875.7 209.4h0M822.0 215.3h0M871.1 166.9h0M903.5 215.0h0M884.9 235.8h0M851.5 221.8h0M873.9 212.5h0M907.8 189.4h0M866.0 190.8h0M814.1 248.9h0M856.9 220.1h0M944.1 219.5h0M948.6 171.9h0" stroke="#0634ff" stroke-width="6.6" stroke-linecap="round" fill="none" opacity="0.6"/>
<path d="M735.0 228.3h0M735.0 294.2h0M735.0 243.7h0M735.0 229.0h0M735.0 259.4h0M735.0 308.8h0M735.0 230.7h0M735.0 308.8h0M735.0 265.9h0M735.0 235.7h0M735.0 201.0h0M735.0 260.1h0M735.0 269.9h0M735.0 308.8h0M735.0 205.9h0M735.0 225.1h0M735.0 297.0h0M735.0 283.9h0M735.0 247.8h0M735.0 238.4h0M735.0 231.2h0M735.0 267.6h0M735.0 308.8h0M735.0 275.3h0M735.0 250.5h0M735.0 217.7h0M735.0 248.8h0M735.0 218.6h0M735.0 308.8h0M735.0 197.9h0M735.0 237.0h0M735.0 194.6h0M735.0 283.3h0M735.0 254.1h0M735.0 225.8h0M735.0 247.4h0M735.0 290.4h0M735.0 228.1h0M735.0 288.7h0M735.0 239.2h0M735.0 267.6h0M735.0 272.0h0M735.0 239.1h0M735.0 213.3h0M735.0 245.8h0M735.0 275.8h0M735.0 229.9h0M735.0 273.4h0M735.0 293.1h0M735.0 253.9h0M735.0 289.5h0M735.0 271.2h0M735.0 233.5h0M735.0 308.8h0M735.0 211.5h0M735.0 252.8h0M735.0 243.2h0M735.0 226.3h0M735.0 249.1h0M735.0 223.5h0M735.0 216.2h0M735.0 237.6h0M735.0 282.6h0M735.0 222.3h0M735.0 184.6h0M735.0 258.2h0M735.0 221.5h0M735.0 250.4h0M735.0 250.3h0M735.0 224.6h0M735.0 193.6h0M735.0 274.4h0M735.0 198.5h0M735.0 184.6h0M735.0 240.6h0M735.0 220.7h0M735.0 201.6h0M735.0 227.8h0M735.0 269.0h0M735.0 263.8h0M735.0 253.4h0M735.0 240.6h0M735.0 253.2h0M735.0 168.2h0M735.0 157.0h0" stroke="#0634ff" stroke-width="6.6" stroke-linecap="round" fill="none" opacity="0.6"/>
<path d="M735.0 281.8h0M735.0 255.2h0M735.0 235.8h0M735.0 236.2h0M735.0 242.9h0M735.0 217.5h0M735.0 262.2h0M735.0 272.1h0M735.0 273.2h0M735.0 218.3h0M735.0 263.5h0M735.0 227.2h0M735.0 262.2h0M735.0 241.8h0M735.0 225.8h0M735.0 244.7h0M735.0 258.8h0M735.0 226.7h0M735.0 203.7h0M735.0 210.0h0M735.0 248.6h0M735.0 244.5h0M735.0 229.2h0M735.0 237.1h0M735.0 238.0h0M735.0 239.0h0M735.0 198.3h0M735.0 308.8h0M735.0 278.1h0M735.0 219.5h0M735.0 245.5h0M735.0 239.5h0M735.0 221.2h0M735.0 237.7h0M735.0 253.8h0M735.0 245.3h0M735.0 213.5h0M735.0 227.4h0M735.0 231.7h0M735.0 230.2h0M735.0 247.0h0M735.0 277.0h0M735.0 265.6h0M735.0 223.6h0M735.0 279.4h0M735.0 248.8h0M735.0 193.6h0M735.0 283.2h0M735.0 207.9h0M735.0 250.2h0M735.0 301.2h0M735.0 254.7h0M735.0 221.9h0M735.0 223.7h0M735.0 228.4h0M735.0 213.3h0M735.0 227.4h0M735.0 248.8h0M735.0 196.5h0M735.0 247.8h0M735.0 272.6h0M735.0 286.9h0M735.0 213.6h0M735.0 244.7h0M735.0 232.1h0M735.0 249.8h0M735.0 248.9h0M735.0 262.3h0M735.0 219.7h0M735.0 301.5h0M735.0 250.1h0M735.0 221.0h0M735.0 285.1h0M735.0 298.5h0M735.0 248.5h0M735.0 263.3h0M735.0 241.5h0M735.0 308.8h0M735.0 271.5h0M735.0 244.5h0M735.0 272.2h0M735.0 233.6h0M735.0 286.6h0M735.0 191.7h0M735.0 158.7h0" stroke="#0634ff" stroke-width="6.6" stroke-linecap="round" fill="none" opacity="0.6"/>
<path d="M735.0 280.0h0M735.0 233.7h0M735.0 269.2h0M735.0 269.8h0M735.0 247.4h0M735.0 234.7h0M735.0 253.9h0M735.0 267.7h0M735.0 242.1h0M735.0 233.9h0M735.0 274.3h0M735.0 233.5h0M735.0 255.5h0M735.0 234.3h0M735.0 228.0h0M735.0 243.4h0M735.0 290.6h0M735.0 238.3h0M735.0 262.8h0M735.0 265.8h0M735.0 242.7h0M735.0 236.1h0M735.0 269.8h0M735.0 256.0h0M735.0 302.9h0M735.0 299.2h0M735.0 263.1h0M735.0 261.0h0M735.0 241.7h0M735.0 290.2h0M735.0 284.0h0M735.0 273.9h0M735.0 301.3h0M735.0 225.1h0M735.0 237.0h0M735.0 279.3h0M735.0 260.1h0M735.0 245.1h0M735.0 184.6h0M735.0 275.1h0M735.0 273.4h0M735.0 260.7h0M735.0 235.5h0M735.0 259.1h0M735.0 283.6h0M735.0 221.7h0M735.0 261.2h0M735.0 242.3h0M735.0 221.4h0M735.0 286.1h0M735.0 203.2h0M735.0 270.0h0M735.0 220.2h0M735.0 242.3h0M735.0 301.1h0M735.0 308.8h0M735.0 235.6h0M735.0 272.1h0M735.0 214.4h0M735.0 248.6h0M735.0 234.2h0M735.0 287.1h0M735.0 281.8h0M735.0 228.1h0M735.0 265.9h0M735.0 265.9h0M735.0 223.8h0M735.0 207.7h0M735.0 292.2h0M735.0 184.6h0M735.0 289.4h0M735.0 279.5h0M735.0 267.0h0M735.0 308.8h0M735.0 264.6h0M735.0 267.6h0M735.0 184.6h0M735.0 267.4h0M735.0 264.4h0M735.0 235.2h0M735.0 218.2h0M735.0 255.2h0M735.0 192.6h0M735.0 169.0h0M735.0 191.1h0" stroke="#0634ff" stroke-width="6.6" stroke-linecap="round" fill="none" opacity="0.6"/>
<path d="M735.0 243.4h0M735.0 289.5h0M735.0 237.7h0M735.0 223.1h0M735.0 249.5h0M735.0 245.5h0M735.0 233.9h0M735.0 258.7h0M735.0 225.6h0M735.0 204.3h0M735.0 267.6h0M735.0 242.9h0M735.0 242.7h0M735.0 271.5h0M735.0 298.1h0M735.0 308.8h0M735.0 209.3h0M735.0 184.6h0M735.0 284.3h0M735.0 217.2h0M735.0 244.8h0M735.0 271.5h0M735.0 231.8h0M735.0 258.8h0M735.0 210.7h0M735.0 223.0h0M735.0 254.8h0M735.0 254.3h0M735.0 238.5h0M735.0 224.6h0M735.0 191.3h0M735.0 283.9h0M735.0 213.4h0M735.0 184.6h0M735.0 244.3h0M735.0 238.7h0M735.0 284.5h0M735.0 295.1h0M735.0 240.4h0M735.0 214.0h0M735.0 285.6h0M735.0 200.6h0M735.0 265.8h0M735.0 249.5h0M735.0 252.2h0M735.0 254.8h0M735.0 203.5h0M735.0 252.7h0M735.0 277.8h0M735.0 237.7h0M735.0 267.2h0M735.0 184.6h0M735.0 184.6h0M735.0 245.2h0M735.0 240.0h0M735.0 227.9h0M735.0 308.8h0M735.0 218.5h0M735.0 282.1h0M735.0 252.3h0M735.0 295.4h0M735.0 249.1h0M735.0 198.1h0M735.0 241.3h0M735.0 235.7h0M735.0 264.2h0M735.0 257.1h0M735.0 196.7h0M735.0 286.9h0M735.0 216.1h0M735.0 274.9h0M735.0 272.5h0M735.0 204.7h0M735.0 269.0h0M735.0 287.4h0M735.0 245.8h0M735.0 257.1h0M735.0 247.8h0M735.0 277.5h0M735.0 280.7h0M735.0 192.1h0M735.0 231.2h0M735.0 161.2h0M735.0 171.7h0" stroke="#0634ff" stroke-width="6.6" stroke-linecap="round" fill="none" opacity="0.6"/>
<line x1="735.00" y1="243.00" x2="989.00" y2="179.50" stroke="#7d7d7d" stroke-width="6.2"/>
<line x1="735.00" y1="243.00" x2="989.00" y2="179.50" stroke="#f23a1a" stroke-width="2.2"/>
</g>
<rect x="736.00" y="76.00" width="177.50" height="71.50" fill="#ffffff" opacity="0.8"/>
<text x="744.70" y="103.00" font-size="28" fill="#141414">R=0.42</text>
<text x="745.20" y="136.00" font-size="28" fill="#141414">p=7.01x10</text>
<text x="877.41" y="127.50" font-size="17" fill="#141414">-152</text>
<text x="735.70" y="63.50" font-size="28" fill="#141414">BCC</text>
<line x1="735.00" y1="325.00" x2="735.00" y2="336.00" stroke="#141414" stroke-width="2.2"/>
<text x="715.54" y="366.30" font-size="28" fill="#141414">0.0</text>
<line x1="824.00" y1="325.00" x2="824.00" y2="336.00" stroke="#141414" stroke-width="2.2"/>
<text x="804.58" y="366.30" font-size="28" fill="#141414">0.5</text>
<line x1="913.00" y1="325.00" x2="913.00" y2="336.00" stroke="#141414" stroke-width="2.2"/>
<text x="893.02" y="366.30" font-size="28" fill="#141414">1.0</text>
<line x1="722.00" y1="323.60" x2="735.00" y2="323.60" stroke="#141414" stroke-width="2.2"/>
<text x="680.17" y="333.60" font-size="28" fill="#141414">0.0</text>
<line x1="722.00" y1="239.30" x2="735.00" y2="239.30" stroke="#141414" stroke-width="2.2"/>
<text x="680.48" y="249.30" font-size="28" fill="#141414">0.2</text>
<line x1="722.00" y1="155.00" x2="735.00" y2="155.00" stroke="#141414" stroke-width="2.2"/>
<text x="679.90" y="165.00" font-size="28" fill="#141414">0.4</text>
<line x1="722.00" y1="70.70" x2="735.00" y2="70.70" stroke="#141414" stroke-width="2.2"/>
<text x="680.31" y="80.70" font-size="28" fill="#141414">0.6</text>
<text x="758.51" y="406.30" font-size="28" fill="#141414">IFNγ-R complex</text>
<text x="710.61" y="439.20" font-size="28" fill="#141414">(normalized expression)</text>
<text x="1004.15" y="19.00" font-size="28" fill="#141414" font-weight="bold">b</text>
<text transform="translate(1028.50,196.00) rotate(-90)" x="-156.13" y="0" font-size="28" fill="#141414">Hallmark IFNγ Response</text>
<text transform="translate(1062.50,196.00) rotate(-90)" x="-149.39" y="0" font-size="28" fill="#141414">(normalized expression)</text>
<rect x="1117.00" y="72.00" width="248.00" height="248.00" fill="#f1efee"/>
<clipPath id="cb"><rect x="1113" y="72" width="256" height="248"/></clipPath>
<g clip-path="url(#cb)">
<path d="M1117.0 231.0C1122.5 228.2 1138.7 220.2 1150.0 214.5C1161.3 208.8 1174.2 202.1 1185.0 196.5C1195.8 190.9 1205.4 185.9 1215.0 181.0C1224.6 176.1 1232.9 172.9 1242.4 166.9C1251.9 160.9 1262.5 152.4 1272.0 145.0C1281.5 137.6 1289.5 130.3 1299.5 122.6C1309.5 114.9 1321.1 106.8 1332.0 99.0C1342.9 91.2 1359.5 79.5 1365.0 75.6L1365.0 128.3C1360.8 130.6 1348.5 137.2 1340.0 142.0C1331.5 146.8 1322.9 151.4 1313.7 156.9C1304.5 162.4 1294.5 168.3 1285.0 175.0C1275.5 181.7 1267.5 188.3 1256.7 196.8C1245.9 205.3 1231.9 216.2 1220.0 226.0C1208.1 235.8 1196.6 245.0 1185.4 255.3C1174.2 265.6 1163.6 277.2 1153.0 288.0C1142.4 298.8 1127.2 314.7 1122.0 320.0L1117 320Z" fill="#999999"/>
<line x1="1117.00" y1="276.40" x2="1365.00" y2="98.40" stroke="#f0351a" stroke-width="2.6"/>
<circle cx="1237.60" cy="176.80" r="3.6" fill="#2f4fe8" opacity="0.75"/>
<circle cx="1280.10" cy="118.70" r="3.6" fill="#2f4fe8" opacity="0.55"/>
<circle cx="1284.40" cy="154.60" r="3.6" fill="#2f4fe8" opacity="0.7"/>
<circle cx="1298.60" cy="129.80" r="3.6" fill="#2f4fe8" opacity="0.7"/>
<circle cx="1303.20" cy="139.20" r="3.6" fill="#2f4fe8" opacity="0.7"/>
<circle cx="1332.90" cy="135.50" r="3.6" fill="#2f4fe8" opacity="0.7"/>
<circle cx="1342.80" cy="143.50" r="3.6" fill="#2f4fe8" opacity="0.55"/>
<circle cx="1360.50" cy="118.70" r="3.6" fill="#2f4fe8" opacity="0.7"/>
<circle cx="1364.50" cy="91.60" r="3.6" fill="#2f4fe8" opacity="0.7"/>
</g>
<circle cx="1117.50" cy="297.80" r="3.6" fill="#2f4fe8" opacity="0.75"/>
<rect x="1121.00" y="80.70" width="110.00" height="63.30" fill="#ffffff" opacity="0.82"/>
<text x="1126.00" y="102.70" font-size="28" fill="#141414">R=0.93</text>
<text x="1126.50" y="137.00" font-size="28" fill="#141414">p=0.001</text>
<line x1="1117.00" y1="72.00" x2="1365.00" y2="72.00" stroke="#141414" stroke-width="2.2"/>
<line x1="1365.00" y1="71.00" x2="1365.00" y2="324.00" stroke="#141414" stroke-width="2.2"/>
<line x1="1117.00" y1="71.00" x2="1117.00" y2="321.00" stroke="#141414" stroke-width="2.4"/>
<line x1="1116.00" y1="320.00" x2="1366.00" y2="320.00" stroke="#141414" stroke-width="2.4"/>
<line x1="1127.00" y1="320.00" x2="1127.00" y2="333.00" stroke="#141414" stroke-width="2.2"/>
<text x="1119.22" y="365.50" font-size="28" fill="#141414">9</text>
<line x1="1223.30" y1="320.00" x2="1223.30" y2="333.00" stroke="#141414" stroke-width="2.2"/>
<text x="1207.21" y="365.50" font-size="28" fill="#141414">10</text>
<line x1="1320.00" y1="320.00" x2="1320.00" y2="333.00" stroke="#141414" stroke-width="2.2"/>
<text x="1304.04" y="365.50" font-size="28" fill="#141414">11</text>
<line x1="1102.00" y1="72.50" x2="1117.00" y2="72.50" stroke="#141414" stroke-width="2.2"/>
<text x="1068.95" y="82.50" font-size="28" fill="#141414">10</text>
<line x1="1102.00" y1="131.20" x2="1117.00" y2="131.20" stroke="#141414" stroke-width="2.2"/>
<text x="1084.75" y="141.20" font-size="28" fill="#141414">9</text>
<line x1="1102.00" y1="190.20" x2="1117.00" y2="190.20" stroke="#141414" stroke-width="2.2"/>
<text x="1084.64" y="200.20" font-size="28" fill="#141414">8</text>
<line x1="1102.00" y1="249.40" x2="1117.00" y2="249.40" stroke="#141414" stroke-width="2.2"/>
<text x="1084.84" y="259.40" font-size="28" fill="#141414">7</text>
<line x1="1102.00" y1="308.50" x2="1117.00" y2="308.50" stroke="#141414" stroke-width="2.2"/>
<text x="1084.66" y="318.50" font-size="28" fill="#141414">6</text>
<text x="1144.51" y="407.00" font-size="28" fill="#141414">IFNγ-R complex</text>
<text x="1096.61" y="442.00" font-size="28" fill="#141414">(normalized expression)</text>
<text x="1.91" y="517.00" font-size="28" fill="#141414" font-weight="bold">c</text>
<linearGradient id="cg" x1="0" x2="1" y1="0" y2="0"><stop offset="0.06" stop-color="#3c4ba4"/><stop offset="0.5" stop-color="#ffffff"/><stop offset="0.92" stop-color="#e2071a"/></linearGradient>
<path d="M103.9 673.0C105.0 671.7 108.5 668.0 110.5 665.2C112.5 662.4 114.2 659.3 116.1 656.3C117.9 653.3 119.9 650.3 121.6 647.3C123.2 644.3 124.6 641.8 126.0 638.4C127.5 635.1 129.0 631.4 130.4 627.3C131.9 623.2 133.4 618.6 134.9 613.8C136.4 608.9 137.9 603.2 139.3 598.2C140.8 593.2 142.3 588.0 143.7 583.7C145.2 579.4 146.5 575.7 148.2 572.5C149.8 569.4 151.7 566.8 153.7 564.7C155.7 562.6 157.4 561.3 160.3 560.1C163.3 559.0 167.7 557.8 171.4 557.8C175.1 557.8 179.5 559.0 182.5 560.1C185.4 561.3 187.1 562.6 189.1 564.7C191.1 566.8 193.0 569.4 194.7 572.5C196.3 575.7 197.6 579.4 199.1 583.7C200.6 588.0 202.0 593.2 203.5 598.2C205.0 603.2 206.5 608.9 208.0 613.8C209.5 618.6 211.0 623.2 212.4 627.3C213.9 631.4 215.4 635.1 216.8 638.4C218.3 641.8 219.6 644.3 221.3 647.3C223.0 650.3 225.0 653.3 226.8 656.3C228.7 659.3 230.3 662.4 232.4 665.2C234.4 668.0 237.9 671.7 239.0 673.0Z" fill="url(#cg)"/>
<path d="M103.9 673.0C105.0 671.7 108.5 668.0 110.5 665.2C112.5 662.4 114.2 659.3 116.1 656.3C117.9 653.3 119.9 650.3 121.6 647.3C123.2 644.3 124.6 641.8 126.0 638.4C127.5 635.1 129.0 631.4 130.4 627.3C131.9 623.2 133.4 618.6 134.9 613.8C136.4 608.9 137.9 603.2 139.3 598.2C140.8 593.2 142.3 588.0 143.7 583.7C145.2 579.4 146.5 575.7 148.2 572.5C149.8 569.4 151.7 566.8 153.7 564.7C155.7 562.6 157.4 561.3 160.3 560.1C163.3 559.0 167.7 557.8 171.4 557.8C175.1 557.8 179.5 559.0 182.5 560.1C185.4 561.3 187.1 562.6 189.1 564.7C191.1 566.8 193.0 569.4 194.7 572.5C196.3 575.7 197.6 579.4 199.1 583.7C200.6 588.0 202.0 593.2 203.5 598.2C205.0 603.2 206.5 608.9 208.0 613.8C209.5 618.6 211.0 623.2 212.4 627.3C213.9 631.4 215.4 635.1 216.8 638.4C218.3 641.8 219.6 644.3 221.3 647.3C223.0 650.3 225.0 653.3 226.8 656.3C228.7 659.3 230.3 662.4 232.4 665.2C234.4 668.0 237.9 671.7 239.0 673.0" fill="none" stroke="#6a6a6a" stroke-width="2.4"/>
<rect x="52.00" y="555.50" width="63.75" height="117.50" fill="none" stroke="#141414" stroke-width="2.2"/>
<rect x="226.25" y="555.50" width="63.75" height="117.50" fill="none" stroke="#141414" stroke-width="2.2"/>
<rect x="88.75" y="673.00" width="160.50" height="64.50" fill="#fff" stroke="#141414" stroke-width="2.6"/>
<line x1="42.50" y1="539.50" x2="42.50" y2="674.20" stroke="#141414" stroke-width="2.4"/>
<polygon points="42.5,522.5 48.5,541.5 36.5,541.5" fill="#141414"/>
<line x1="41.30" y1="673.00" x2="297.00" y2="673.00" stroke="#141414" stroke-width="2.4"/>
<polygon points="307.0,673.0 294.0,678.5 294.0,667.5" fill="#141414"/>
<text transform="translate(25.00,601.00) rotate(-90)" x="-67.27" y="0" font-size="28" fill="#141414">Frequency</text>
<text x="55.87" y="548.50" font-size="28" fill="#141414">10%</text>
<text x="231.62" y="547.00" font-size="28" fill="#141414">10%</text>
<text x="56.95" y="615.00" font-size="28" fill="#141414">Low</text>
<text x="229.70" y="613.00" font-size="28" fill="#141414">High</text>
<text x="118.42" y="710.75" font-size="28" fill="#141414">IFNγ-R1</text>
<line x1="167.00" y1="737.50" x2="167.00" y2="779.00" stroke="#141414" stroke-width="2.6"/>
<polygon points="167.0,789.0 159.5,776.5 174.5,776.5" fill="#141414"/>
<text x="89.48" y="812.00" font-size="28" fill="#141414">Sort by FACS</text>
<text x="344.35" y="517.00" font-size="28" fill="#141414" font-weight="bold">d</text>
<text x="447.42" y="517.00" font-size="28" fill="#141414">IFNγ-R1</text>
<rect x="448.00" y="525.75" width="26.50" height="19.75" fill="#434ea0"/>
<text x="480.70" y="544.50" font-size="28" fill="#141414">Low</text>
<rect x="448.00" y="553.25" width="26.50" height="19.75" fill="#e42613"/>
<text x="480.70" y="572.00" font-size="28" fill="#141414">High</text>
<rect x="467.90" y="726.80" width="31.50" height="74.60" fill="#434ea0"/>
<rect x="515.10" y="652.90" width="31.90" height="148.50" fill="#e42613"/>
<line x1="531.60" y1="648.50" x2="531.60" y2="657.90" stroke="#7d7b7b" stroke-width="2.2"/>
<line x1="522.90" y1="648.50" x2="540.30" y2="648.50" stroke="#7d7b7b" stroke-width="2.2"/>
<line x1="522.90" y1="657.90" x2="540.30" y2="657.90" stroke="#7d7b7b" stroke-width="2.2"/>
<circle cx="473.10" cy="726.50" r="4.7" fill="#7d7b7b"/>
<circle cx="483.40" cy="727.10" r="4.7" fill="#7d7b7b"/>
<circle cx="493.90" cy="727.60" r="4.7" fill="#7d7b7b"/>
<circle cx="520.60" cy="650.50" r="4.7" fill="#7d7b7b"/>
<circle cx="530.80" cy="650.50" r="4.7" fill="#7d7b7b"/>
<circle cx="541.90" cy="658.70" r="4.7" fill="#7d7b7b"/>
<line x1="451.90" y1="625.80" x2="451.90" y2="802.60" stroke="#141414" stroke-width="2.5"/>
<line x1="447.00" y1="801.40" x2="563.10" y2="801.40" stroke="#141414" stroke-width="2.5"/>
<line x1="446.50" y1="627.00" x2="452.00" y2="627.00" stroke="#141414" stroke-width="2.4"/>
<text x="381.85" y="633.60" font-size="25.5" fill="#141414" textLength="61.8" lengthAdjust="spacingAndGlyphs">3000</text>
<line x1="446.50" y1="684.80" x2="452.00" y2="684.80" stroke="#141414" stroke-width="2.4"/>
<text x="381.85" y="691.40" font-size="25.5" fill="#141414" textLength="61.8" lengthAdjust="spacingAndGlyphs">2000</text>
<line x1="446.50" y1="742.90" x2="452.00" y2="742.90" stroke="#141414" stroke-width="2.4"/>
<text x="381.85" y="749.50" font-size="25.5" fill="#141414" textLength="61.8" lengthAdjust="spacingAndGlyphs">1000</text>
<line x1="446.50" y1="801.00" x2="452.00" y2="801.00" stroke="#141414" stroke-width="2.4"/>
<text x="428.23" y="807.60" font-size="25.5" fill="#141414" textLength="15.5" lengthAdjust="spacingAndGlyphs">0</text>
<polyline points="483.4,712.7 483.4,627.3 530.8,627.3 530.8,638.4" fill="none" stroke="#141414" stroke-width="2.2"/>
<text x="486.20" y="625.25" font-size="28" fill="#141414">****</text>
<text transform="translate(368.75,705.00) rotate(-90)" x="-89.85" y="0" font-size="28" fill="#141414">IFNγ-R1 (MFI)</text>
<text x="627.66" y="517.00" font-size="28" fill="#141414" font-weight="bold">e</text>
<text x="724.42" y="520.00" font-size="28" fill="#141414">IFNγ-R1</text>
<rect x="725.00" y="528.25" width="26.75" height="20.00" fill="#434ea0"/>
<text x="757.20" y="547.00" font-size="28" fill="#141414">Low</text>
<rect x="725.00" y="555.75" width="26.75" height="20.00" fill="#e42613"/>
<text x="757.20" y="574.50" font-size="28" fill="#141414">High</text>
<rect x="741.75" y="753.75" width="27.75" height="47.25" fill="#434ea0"/>
<rect x="776.25" y="753.75" width="28.00" height="47.25" fill="#e42613"/>
<rect x="825.00" y="674.50" width="27.75" height="126.50" fill="#434ea0"/>
<rect x="860.00" y="638.00" width="27.50" height="163.00" fill="#e42613"/>
<line x1="873.00" y1="628.75" x2="873.00" y2="644.25" stroke="#7d7b7b" stroke-width="2.2"/>
<line x1="865.00" y1="628.75" x2="881.00" y2="628.75" stroke="#7d7b7b" stroke-width="2.2"/>
<line x1="865.00" y1="644.25" x2="881.00" y2="644.25" stroke="#7d7b7b" stroke-width="2.2"/>
<line x1="838.75" y1="672.00" x2="838.75" y2="677.00" stroke="#7d7b7b" stroke-width="2.2"/>
<line x1="832.75" y1="672.00" x2="844.75" y2="672.00" stroke="#7d7b7b" stroke-width="2.2"/>
<line x1="832.75" y1="677.00" x2="844.75" y2="677.00" stroke="#7d7b7b" stroke-width="2.2"/>
<circle cx="746.75" cy="753.00" r="4.7" fill="#7d7b7b"/>
<circle cx="755.00" cy="754.50" r="4.7" fill="#7d7b7b"/>
<circle cx="763.75" cy="754.50" r="4.7" fill="#7d7b7b"/>
<circle cx="782.00" cy="753.00" r="4.7" fill="#7d7b7b"/>
<circle cx="790.50" cy="754.50" r="4.7" fill="#7d7b7b"/>
<circle cx="798.75" cy="754.50" r="4.7" fill="#7d7b7b"/>
<circle cx="830.00" cy="672.50" r="4.7" fill="#7d7b7b"/>
<circle cx="838.75" cy="675.00" r="4.7" fill="#7d7b7b"/>
<circle cx="847.00" cy="677.50" r="4.7" fill="#7d7b7b"/>
<circle cx="866.25" cy="636.25" r="4.7" fill="#7d7b7b"/>
<circle cx="873.00" cy="630.00" r="4.7" fill="#7d7b7b"/>
<circle cx="880.00" cy="643.75" r="4.7" fill="#7d7b7b"/>
<line x1="735.00" y1="622.10" x2="735.00" y2="802.20" stroke="#141414" stroke-width="2.5"/>
<line x1="723.60" y1="801.00" x2="901.75" y2="801.00" stroke="#141414" stroke-width="2.5"/>
<line x1="723.60" y1="801.00" x2="735.00" y2="801.00" stroke="#141414" stroke-width="2.4"/>
<text x="706.49" y="808.20" font-size="25.8" fill="#141414" textLength="15.5" lengthAdjust="spacingAndGlyphs">0</text>
<line x1="723.60" y1="765.45" x2="735.00" y2="765.45" stroke="#141414" stroke-width="2.4"/>
<text x="675.50" y="772.65" font-size="25.8" fill="#141414" textLength="46.5" lengthAdjust="spacingAndGlyphs">200</text>
<line x1="723.60" y1="729.90" x2="735.00" y2="729.90" stroke="#141414" stroke-width="2.4"/>
<text x="675.50" y="737.10" font-size="25.8" fill="#141414" textLength="46.5" lengthAdjust="spacingAndGlyphs">400</text>
<line x1="723.60" y1="694.35" x2="735.00" y2="694.35" stroke="#141414" stroke-width="2.4"/>
<text x="675.50" y="701.55" font-size="25.8" fill="#141414" textLength="46.5" lengthAdjust="spacingAndGlyphs">600</text>
<line x1="723.60" y1="658.80" x2="735.00" y2="658.80" stroke="#141414" stroke-width="2.4"/>
<text x="675.50" y="666.00" font-size="25.8" fill="#141414" textLength="46.5" lengthAdjust="spacingAndGlyphs">800</text>
<line x1="723.60" y1="623.25" x2="735.00" y2="623.25" stroke="#141414" stroke-width="2.4"/>
<text x="660.00" y="630.45" font-size="25.8" fill="#141414" textLength="62.0" lengthAdjust="spacingAndGlyphs">1000</text>
<polyline points="755.8,744.5 755.8,728.8 790.0,728.8 790.0,744.5" fill="none" stroke="#141414" stroke-width="2.2"/>
<text x="749.89" y="722.00" font-size="28" fill="#141414">n.s.</text>
<polyline points="839.2,663.0 839.2,608.2 872.0,608.2 872.0,622.5" fill="none" stroke="#141414" stroke-width="2.2"/>
<text x="837.95" y="608.85" font-size="28" fill="#141414">***</text>
<line x1="742.50" y1="809.50" x2="803.00" y2="809.50" stroke="#141414" stroke-width="2.2"/>
<line x1="828.75" y1="809.50" x2="889.25" y2="809.50" stroke="#141414" stroke-width="2.2"/>
<text x="770.34" y="833.00" font-size="28" fill="#141414">-</text>
<text x="851.83" y="832.00" font-size="28" fill="#141414">+</text>
<text x="900.42" y="831.00" font-size="28" fill="#141414">IFNγ</text>
<text transform="translate(651.75,704.70) rotate(-90)" x="-77.28" y="0" font-size="28" fill="#141414">PD-L1 (MFI)</text>
<text x="963.92" y="517.30" font-size="28" fill="#141414" font-weight="bold">f</text>
<rect x="1092.80" y="604.60" width="31.50" height="194.50" fill="#14120e"/>
<rect x="1140.30" y="682.60" width="31.10" height="116.50" fill="#14120e"/>
<rect x="1188.10" y="605.50" width="31.50" height="193.60" fill="#e42613"/>
<rect x="1236.30" y="616.80" width="31.40" height="182.30" fill="#e42613"/>
<line x1="1108.50" y1="598.50" x2="1108.50" y2="608.50" stroke="#a9a7a4" stroke-width="2.2"/>
<line x1="1101.50" y1="598.50" x2="1115.50" y2="598.50" stroke="#a9a7a4" stroke-width="2.2"/>
<line x1="1101.50" y1="608.50" x2="1115.50" y2="608.50" stroke="#a9a7a4" stroke-width="2.2"/>
<line x1="1155.80" y1="677.50" x2="1155.80" y2="685.00" stroke="#a9a7a4" stroke-width="2.2"/>
<line x1="1148.80" y1="677.50" x2="1162.80" y2="677.50" stroke="#a9a7a4" stroke-width="2.2"/>
<line x1="1148.80" y1="685.00" x2="1162.80" y2="685.00" stroke="#a9a7a4" stroke-width="2.2"/>
<circle cx="1098.50" cy="599.50" r="5.7" fill="#a9a7a4"/>
<circle cx="1107.00" cy="604.00" r="5.7" fill="#a9a7a4"/>
<circle cx="1117.00" cy="610.50" r="5.7" fill="#a9a7a4"/>
<circle cx="1146.00" cy="678.50" r="5.7" fill="#a9a7a4"/>
<circle cx="1155.00" cy="683.00" r="5.7" fill="#a9a7a4"/>
<circle cx="1164.50" cy="686.50" r="5.7" fill="#a9a7a4"/>
<circle cx="1194.00" cy="602.50" r="5.7" fill="#a9a7a4"/>
<circle cx="1203.50" cy="605.00" r="5.7" fill="#a9a7a4"/>
<circle cx="1213.00" cy="606.50" r="5.7" fill="#a9a7a4"/>
<circle cx="1242.00" cy="614.50" r="5.7" fill="#a9a7a4"/>
<circle cx="1251.50" cy="617.00" r="5.7" fill="#a9a7a4"/>
<circle cx="1261.00" cy="618.50" r="5.7" fill="#a9a7a4"/>
<line x1="1077.40" y1="589.90" x2="1077.40" y2="800.30" stroke="#141414" stroke-width="2.5"/>
<line x1="1071.30" y1="799.10" x2="1285.40" y2="799.10" stroke="#141414" stroke-width="2.5"/>
<line x1="1071.30" y1="591.10" x2="1077.40" y2="591.10" stroke="#141414" stroke-width="2.4"/>
<text x="1027.57" y="601.50" font-size="28" fill="#141414">1.0</text>
<line x1="1071.30" y1="695.10" x2="1077.40" y2="695.10" stroke="#141414" stroke-width="2.4"/>
<text x="1027.65" y="705.50" font-size="28" fill="#141414">0.5</text>
<line x1="1071.30" y1="799.10" x2="1077.40" y2="799.10" stroke="#141414" stroke-width="2.4"/>
<text x="1027.57" y="809.50" font-size="28" fill="#141414">0.0</text>
<polyline points="1107.3,562.2 1107.3,546.2 1251.7,546.2 1251.7,570.2" fill="none" stroke="#141414" stroke-width="2.2"/>
<text x="1172.44" y="548.65" font-size="28" fill="#141414">*</text>
<polyline points="1107.3,586.3 1107.3,573.4 1156.4,573.4 1156.4,671.3" fill="none" stroke="#141414" stroke-width="2.2"/>
<text x="1112.60" y="573.35" font-size="28" fill="#141414">****</text>
<polyline points="1201.9,595.3 1201.9,581.5 1251.7,581.5 1251.7,595.3" fill="none" stroke="#141414" stroke-width="2.2"/>
<text x="1221.14" y="582.05" font-size="28" fill="#141414">*</text>
<rect x="1274.10" y="543.90" width="26.40" height="20.60" fill="#14120e"/>
<text x="1305.92" y="561.20" font-size="28" fill="#141414">Isotype</text>
<rect x="1274.10" y="571.20" width="26.40" height="20.50" fill="#e42613"/>
<text x="1307.32" y="587.90" font-size="28" fill="#141414">αIFNγ</text>
<text transform="translate(1116.20,811.00) rotate(-90)" x="-41.67" y="0" font-size="28" fill="#141414">Ctrl</text>
<text transform="translate(1163.40,814.80) rotate(-90)" x="-100.28" y="0" font-size="28" fill="#141414" textLength="101.6" lengthAdjust="spacingAndGlyphs">MART-1</text>
<text transform="translate(1210.60,811.00) rotate(-90)" x="-41.67" y="0" font-size="28" fill="#141414">Ctrl</text>
<text transform="translate(1259.70,814.80) rotate(-90)" x="-100.28" y="0" font-size="28" fill="#141414" textLength="101.6" lengthAdjust="spacingAndGlyphs">MART-1</text>
<line x1="1094.40" y1="932.60" x2="1268.40" y2="932.60" stroke="#141414" stroke-width="2.2"/>
<text x="1145.77" y="959.20" font-size="28" fill="#141414">T cells</text>
<text transform="translate(986.80,696.80) rotate(-90)" x="-33.24" y="0" font-size="28" fill="#141414">Ratio</text>
<text transform="translate(1020.50,835.50) rotate(-90)" x="-2.39" y="0" font-size="28" fill="#e42613" textLength="96.6" lengthAdjust="spacingAndGlyphs">IFNγ-R1</text>
<text transform="translate(1010.50,736.40) rotate(-90)" x="-1.52" y="0" font-size="17.5" fill="#e42613" textLength="38.2" lengthAdjust="spacingAndGlyphs">High</text>
<text transform="translate(1020.50,700.00) rotate(-90)" x="-0.00" y="0" font-size="28" fill="#141414" textLength="8.5" lengthAdjust="spacingAndGlyphs">/</text>
<text transform="translate(1020.50,690.30) rotate(-90)" x="-2.46" y="0" font-size="28" fill="#3a4aa0" textLength="99.2" lengthAdjust="spacingAndGlyphs">IFNγ-R1</text>
<text transform="translate(1010.50,589.30) rotate(-90)" x="-1.40" y="0" font-size="17.5" fill="#3a4aa0" textLength="31.4" lengthAdjust="spacingAndGlyphs">Low</text>
<text x="1.85" y="1036.00" font-size="28" fill="#141414" font-weight="bold">g</text>
<circle cx="36.8" cy="1136.8" r="36" fill="none" stroke="#141414" stroke-width="2.5"/>
<circle cx="90.7" cy="1127.1" r="36" fill="none" stroke="#141414" stroke-width="2.5"/>
<circle cx="123.9" cy="1159.3" r="36" fill="none" stroke="#141414" stroke-width="2.5"/>
<circle cx="80.4" cy="1182.1" r="36" fill="none" stroke="#141414" stroke-width="2.5"/>
<path d="M29.5 1097.5A40 40 0 0 1 74.6 1123.8L67.8 1126.1A32.8 32.8 0 0 0 30.8 1104.5Z" fill="#0f9347" stroke="#141414" stroke-width="2.3" stroke-linejoin="miter"/>
<path d="M84.6 1086.4A41.2 41.2 0 0 1 130.1 1115.1L121.3 1117.7A32 32 0 0 0 86.0 1095.5Z" fill="#e30613" stroke="#141414" stroke-width="2.3" stroke-linejoin="miter"/>
<path d="M119.4 1119.6A40 40 0 0 1 161.9 1146.9L155.1 1149.2A32.8 32.8 0 0 0 120.2 1126.7Z" fill="#ffed00" stroke="#141414" stroke-width="2.3" stroke-linejoin="miter"/>
<path d="M74.5 1142.5A40 40 0 0 1 118.7 1170.4L111.8 1172.5A32.8 32.8 0 0 0 75.6 1149.7Z" fill="#0a9fe3" stroke="#141414" stroke-width="2.3" stroke-linejoin="miter"/>
<line x1="171.70" y1="1153.25" x2="200.80" y2="1153.25" stroke="#141414" stroke-width="3.9"/>
<line x1="186.25" y1="1138.70" x2="186.25" y2="1167.80" stroke="#141414" stroke-width="3.9"/>
<text x="3.09" y="1244.50" font-size="28" fill="#141414">Genome-wide</text>
<text x="3.08" y="1278.75" font-size="28" fill="#141414">CRISPR/Cas9</text>
<text x="3.22" y="1313.25" font-size="28" fill="#141414">sgRNA library</text>
<g id="cellblob">
<ellipse cx="306" cy="1153" rx="62" ry="36" fill="#006a33"/>
<path d="M371.3 1135.0C370.4 1136.3 367.8 1140.0 366.0 1142.7C364.3 1145.5 364.0 1150.1 361.0 1151.6C358.1 1153.1 352.4 1152.3 348.6 1151.9C344.7 1151.5 341.0 1150.8 337.7 1149.5C334.4 1148.1 330.7 1146.3 328.6 1143.8C326.4 1141.4 324.4 1137.8 324.8 1135.0C325.1 1132.2 328.7 1129.6 330.7 1127.0C332.7 1124.4 333.9 1121.3 336.9 1119.4C339.9 1117.6 345.0 1115.6 348.6 1116.1C352.1 1116.5 354.4 1120.7 358.1 1122.3C361.7 1123.8 368.2 1123.1 370.4 1125.3C372.6 1127.4 371.2 1133.3 371.3 1135.0Z" fill="#0b8c34" stroke="#02702f" stroke-width="6.2" stroke-linejoin="round"/>
<circle cx="341.95" cy="1134.96" r="9.8" fill="#006a33"/>
<path d="M388.9 1164.1C388.7 1165.6 389.6 1170.8 387.8 1173.3C386.0 1175.8 381.9 1178.1 378.4 1179.2C374.9 1180.2 371.1 1179.3 367.1 1179.6C363.0 1180.0 357.2 1182.5 354.1 1181.3C351.1 1180.0 350.3 1175.0 348.9 1172.1C347.5 1169.3 346.5 1167.1 345.8 1164.1C345.1 1161.1 342.9 1156.4 344.7 1154.1C346.6 1151.9 353.3 1151.9 357.0 1150.7C360.7 1149.4 363.4 1146.9 367.1 1146.4C370.7 1146.0 375.8 1146.6 379.0 1148.1C382.1 1149.7 384.3 1153.0 385.9 1155.7C387.6 1158.3 388.4 1162.7 388.9 1164.1Z" fill="#0b8c34" stroke="#02702f" stroke-width="6.2" stroke-linejoin="round"/>
<circle cx="360.46" cy="1164.05" r="9.8" fill="#006a33"/>
<path d="M295.6 1153.5C295.0 1154.8 293.3 1158.6 291.8 1161.5C290.3 1164.3 289.5 1168.9 286.5 1170.3C283.5 1171.7 277.8 1170.3 273.8 1169.9C269.9 1169.5 266.2 1169.4 262.8 1168.2C259.4 1166.9 255.6 1164.9 253.6 1162.5C251.5 1160.0 250.2 1156.3 250.6 1153.5C251.0 1150.6 254.1 1148.2 255.9 1145.5C257.8 1142.9 258.9 1139.2 261.9 1137.5C264.8 1135.8 270.2 1134.8 273.8 1135.3C277.4 1135.8 279.8 1139.2 283.5 1140.6C287.2 1142.0 294.2 1141.4 296.2 1143.5C298.2 1145.7 295.7 1151.8 295.6 1153.5Z" fill="#0b8c34" stroke="#02702f" stroke-width="6.2" stroke-linejoin="round"/>
<circle cx="267.23" cy="1153.48" r="9.8" fill="#006a33"/>
<path d="M332.1 1168.0C331.2 1169.4 328.7 1174.0 326.4 1176.4C324.1 1178.8 321.6 1181.0 318.5 1182.6C315.4 1184.2 311.3 1185.8 307.6 1186.0C303.8 1186.2 298.7 1185.4 295.8 1183.7C292.9 1182.0 292.4 1178.3 290.2 1175.7C288.1 1173.1 283.2 1170.8 282.8 1168.0C282.4 1165.3 285.2 1161.4 287.7 1159.2C290.2 1157.0 294.4 1156.8 297.7 1154.9C301.0 1153.0 304.2 1148.1 307.6 1148.0C311.0 1147.8 315.0 1152.0 318.1 1153.9C321.2 1155.9 323.9 1157.4 326.2 1159.7C328.5 1162.1 331.1 1166.6 332.1 1168.0Z" fill="#0b8c34" stroke="#02702f" stroke-width="6.2" stroke-linejoin="round"/>
<circle cx="300.96" cy="1168.02" r="9.8" fill="#006a33"/>
<path d="M338.4 1121.1C338.5 1122.6 340.3 1127.4 339.1 1130.1C337.8 1132.7 334.1 1135.7 330.7 1136.9C327.3 1138.2 322.6 1137.6 318.8 1137.5C314.9 1137.3 311.0 1137.2 307.6 1136.0C304.1 1134.8 300.0 1132.7 298.2 1130.2C296.3 1127.8 296.1 1123.9 296.5 1121.1C297.0 1118.2 299.2 1115.9 300.8 1113.1C302.4 1110.2 302.9 1105.2 305.9 1103.9C308.9 1102.6 314.8 1104.8 318.8 1105.2C322.8 1105.7 326.0 1105.6 329.7 1106.6C333.4 1107.6 339.6 1108.8 341.1 1111.2C342.5 1113.6 338.9 1119.4 338.4 1121.1Z" fill="#0b8c34" stroke="#02702f" stroke-width="6.2" stroke-linejoin="round"/>
<circle cx="312.20" cy="1121.08" r="9.8" fill="#006a33"/>
<path d="M295.9 1121.1C295.0 1122.5 292.5 1127.3 290.1 1129.6C287.7 1132.0 284.7 1133.7 281.5 1135.3C278.3 1136.9 274.5 1138.9 270.8 1139.1C267.1 1139.3 262.2 1138.3 259.1 1136.6C256.1 1135.0 254.2 1131.8 252.4 1129.2C250.6 1126.7 248.7 1124.0 248.2 1121.1C247.7 1118.1 247.1 1113.6 249.2 1111.5C251.4 1109.3 257.5 1109.7 261.1 1108.2C264.7 1106.7 267.2 1102.9 270.8 1102.4C274.4 1101.9 279.9 1103.3 282.7 1105.2C285.5 1107.0 285.4 1110.9 287.6 1113.6C289.8 1116.2 294.6 1119.8 295.9 1121.1Z" fill="#0b8c34" stroke="#02702f" stroke-width="6.2" stroke-linejoin="round"/>
<circle cx="264.19" cy="1121.08" r="9.8" fill="#006a33"/>
<path d="M273.0 1140.3C272.8 1141.9 274.2 1147.7 272.1 1149.9C269.9 1152.0 263.7 1151.6 260.1 1153.1C256.5 1154.6 254.0 1158.5 250.4 1159.0C246.8 1159.5 241.3 1158.0 238.5 1156.1C235.7 1154.3 235.7 1150.4 233.5 1147.8C231.4 1145.1 225.8 1142.9 225.3 1140.3C224.9 1137.6 228.7 1134.0 231.1 1131.7C233.5 1129.3 236.5 1127.5 239.7 1126.0C242.9 1124.4 246.7 1122.5 250.4 1122.3C254.2 1122.1 259.1 1123.0 262.1 1124.6C265.2 1126.3 267.0 1129.5 268.8 1132.1C270.6 1134.7 272.3 1138.9 273.0 1140.3Z" fill="#0b8c34" stroke="#02702f" stroke-width="6.2" stroke-linejoin="round"/>
<circle cx="243.83" cy="1140.25" r="9.8" fill="#006a33"/>
<path d="M368.1 1170.0C368.0 1171.5 369.0 1176.4 367.4 1179.0C365.9 1181.6 362.3 1184.3 358.9 1185.6C355.6 1186.9 351.0 1187.0 347.2 1186.8C343.5 1186.6 340.0 1185.6 336.4 1184.4C332.7 1183.3 326.9 1182.2 325.3 1179.7C323.8 1177.3 326.7 1173.1 327.1 1170.0C327.5 1166.9 326.4 1164.1 327.6 1161.3C328.9 1158.5 331.3 1154.1 334.6 1153.1C337.8 1152.1 343.1 1155.1 347.2 1155.2C351.4 1155.4 356.0 1152.9 359.4 1153.8C362.7 1154.8 366.0 1158.3 367.5 1161.0C368.9 1163.7 368.0 1168.5 368.1 1170.0Z" fill="#0b8c34" stroke="#02702f" stroke-width="6.2" stroke-linejoin="round"/>
<circle cx="340.63" cy="1170.01" r="9.8" fill="#006a33"/>
<path d="M348.1 1188.5C348.1 1190.2 350.3 1196.2 348.2 1198.4C346.2 1200.5 339.5 1200.1 335.8 1201.5C332.1 1202.9 329.7 1206.3 326.1 1206.7C322.5 1207.2 317.3 1206.0 314.2 1204.3C311.2 1202.6 309.5 1199.3 307.7 1196.7C305.9 1194.0 303.8 1191.4 303.4 1188.5C303.1 1185.6 303.6 1181.8 305.5 1179.4C307.4 1176.9 311.6 1175.0 315.0 1173.8C318.5 1172.6 322.1 1172.7 326.1 1172.3C330.0 1171.9 336.0 1170.0 338.9 1171.4C341.8 1172.8 342.2 1177.8 343.7 1180.7C345.3 1183.5 347.4 1187.2 348.1 1188.5Z" fill="#0b8c34" stroke="#02702f" stroke-width="6.2" stroke-linejoin="round"/>
<circle cx="319.47" cy="1188.52" r="9.8" fill="#006a33"/>
<path d="M272.1 1167.4C272.1 1168.8 273.1 1173.3 271.9 1176.1C270.7 1178.9 268.1 1183.0 264.8 1184.1C261.5 1185.2 256.3 1182.7 252.3 1182.5C248.2 1182.4 243.8 1184.2 240.4 1183.2C237.0 1182.2 233.7 1179.0 232.1 1176.4C230.4 1173.7 230.5 1170.3 230.6 1167.4C230.8 1164.4 231.5 1161.5 233.1 1158.8C234.7 1156.1 237.0 1152.6 240.2 1151.2C243.4 1149.8 248.5 1150.3 252.3 1150.6C256.1 1151.0 259.1 1152.2 262.8 1153.3C266.6 1154.4 273.2 1155.0 274.7 1157.4C276.3 1159.7 272.6 1165.7 272.1 1167.4Z" fill="#0b8c34" stroke="#02702f" stroke-width="6.2" stroke-linejoin="round"/>
<circle cx="245.68" cy="1167.36" r="9.8" fill="#006a33"/>
<path d="M308.4 1182.6C307.6 1184.1 306.4 1189.4 303.9 1191.5C301.4 1193.7 296.9 1193.7 293.5 1195.6C290.1 1197.4 287.2 1202.2 283.8 1202.5C280.3 1202.7 276.1 1198.8 273.0 1196.9C269.9 1195.0 267.5 1193.2 265.2 1190.8C263.0 1188.4 259.5 1185.4 259.4 1182.6C259.3 1179.8 262.3 1176.4 264.6 1174.0C266.8 1171.6 269.7 1169.7 272.9 1168.1C276.1 1166.6 279.9 1165.0 283.8 1164.8C287.6 1164.5 292.9 1164.9 295.7 1166.6C298.6 1168.3 298.8 1172.3 300.9 1174.9C303.0 1177.6 307.1 1181.3 308.4 1182.6Z" fill="#0b8c34" stroke="#02702f" stroke-width="6.2" stroke-linejoin="round"/>
<circle cx="277.15" cy="1182.57" r="9.8" fill="#006a33"/>
<path d="M356.0 1148.2C355.3 1149.5 353.4 1153.6 351.6 1156.3C349.8 1159.0 348.3 1162.4 345.3 1164.1C342.2 1165.8 337.0 1166.7 333.3 1166.3C329.7 1165.8 327.3 1162.6 323.6 1161.2C319.9 1159.9 313.0 1160.3 311.0 1158.1C309.0 1155.9 310.9 1151.2 311.6 1148.2C312.4 1145.2 314.0 1143.1 315.4 1140.2C316.9 1137.4 317.6 1132.5 320.6 1131.1C323.5 1129.8 329.4 1131.7 333.3 1132.1C337.3 1132.4 341.0 1132.2 344.4 1133.4C347.9 1134.5 351.9 1136.6 353.8 1139.1C355.8 1141.5 355.7 1146.7 356.0 1148.2Z" fill="#0b8c34" stroke="#02702f" stroke-width="6.2" stroke-linejoin="round"/>
<circle cx="326.74" cy="1148.19" r="9.8" fill="#006a33"/>
<path d="M331.0 1151.5C329.7 1152.8 325.8 1157.2 323.2 1159.6C320.7 1162.0 318.7 1164.0 315.6 1165.8C312.6 1167.6 308.5 1170.6 304.9 1170.6C301.3 1170.6 297.3 1167.6 294.1 1165.8C291.0 1164.1 287.9 1162.4 285.8 1160.0C283.7 1157.6 281.8 1154.4 281.6 1151.5C281.4 1148.6 282.4 1144.7 284.6 1142.5C286.8 1140.2 291.4 1139.7 294.8 1138.0C298.2 1136.4 301.3 1132.8 304.9 1132.5C308.5 1132.2 313.6 1134.3 316.4 1136.2C319.2 1138.1 319.5 1141.4 321.9 1143.9C324.3 1146.5 329.5 1150.2 331.0 1151.5Z" fill="#0b8c34" stroke="#02702f" stroke-width="6.2" stroke-linejoin="round"/>
<circle cx="298.31" cy="1151.49" r="9.8" fill="#006a33"/>
</g>
<text x="281.48" y="1255.00" font-size="28" fill="#141414">Cas9</text>
<text x="347.87" y="1243.50" font-size="15" fill="#141414">+</text>
<text x="245.34" y="1290.20" font-size="28" fill="#141414">melanoma</text>
<text x="397.30" y="1102.30" font-size="28" fill="#141414">Puromycin</text>
<text x="412.82" y="1136.60" font-size="28" fill="#141414">selection</text>
<line x1="394.40" y1="1153.80" x2="548.00" y2="1153.80" stroke="#141414" stroke-width="3.5"/>
<polygon points="561.7,1153.8 545.2,1161.4 545.2,1146.2" fill="#141414"/>
<line x1="457.70" y1="1153.80" x2="457.70" y2="1336.00" stroke="#141414" stroke-width="3.7"/>
<polygon points="457.7,1348.6 450.2,1334.6 465.2,1334.6" fill="#141414"/>
<text x="346.20" y="1384.00" font-size="28" fill="#141414">Library reference</text>
<text x="411.72" y="1417.50" font-size="28" fill="#141414">sample</text>
<use href="#cellblob" x="362" y="0"/>
<text x="725.65" y="1081.30" font-size="28" fill="#141414">Antibody</text>
<text x="727.52" y="1115.90" font-size="28" fill="#141414">staining</text>
<line x1="764.90" y1="1153.10" x2="794.50" y2="1153.10" stroke="#141414" stroke-width="3.9"/>
<line x1="779.70" y1="1138.30" x2="779.70" y2="1167.90" stroke="#141414" stroke-width="3.9"/>
<g fill="none" stroke="#858585" stroke-linecap="round" stroke-linejoin="round" stroke-width="5.2">
<polyline points="887.5,1150 836.5,1150 822,1137.6"/>
<polyline points="887.5,1158.4 836.5,1158.4 822,1170.6"/>
<polyline points="840.6,1145.3 825.9,1132.3"/>
<polyline points="840.6,1163.1 825.9,1175.6"/>
</g>
<g fill="none" stroke="#6f6f6f" stroke-width="1" opacity="0.6"><polyline points="888,1154.2 838,1154.2"/></g>
<polygon points="892.9,1128.6 905.0,1132.2 907.9,1142.6 899.0,1152.9 887.1,1149.3 883.6,1137.4" fill="#86bc25"/>
<line x1="930.30" y1="1157.10" x2="959.00" y2="1157.10" stroke="#141414" stroke-width="3.7"/>
<polygon points="968.2,1157.1 957.6,1166.4 957.6,1147.8" fill="#141414"/>
<line x1="784.70" y1="1217.40" x2="784.70" y2="1241.00" stroke="#141414" stroke-width="4"/>
<polygon points="784.7,1251.1 776.1,1239.3 793.3,1239.3" fill="#141414"/>
<text x="727.64" y="1282.50" font-size="28" fill="#141414">Unsorted</text>
<text x="680.14" y="1316.80" font-size="28" fill="#141414">reference sample</text>
<line x1="785.50" y1="1329.80" x2="785.50" y2="1409.60" stroke="#141414" stroke-width="3.6"/>
<line x1="600.80" y1="1409.30" x2="1078.00" y2="1409.30" stroke="#141414" stroke-width="3.6"/>
<polygon points="1094.0,1409.2 1076.0,1418.7 1076.0,1399.7" fill="#141414"/>
<linearGradient id="gg" x1="0" x2="1" y1="0" y2="0"><stop offset="0.06" stop-color="#3c4ba4"/><stop offset="0.5" stop-color="#ffffff"/><stop offset="0.92" stop-color="#e2071a"/></linearGradient>
<path d="M1106.8 1228.4C1108.3 1226.7 1113.2 1221.7 1116.1 1218.0C1118.9 1214.3 1121.3 1210.1 1123.9 1206.2C1126.5 1202.2 1129.3 1198.2 1131.6 1194.2C1134.0 1190.3 1135.8 1186.9 1137.9 1182.4C1140.0 1178.0 1142.0 1173.0 1144.1 1167.6C1146.1 1162.1 1148.2 1156.1 1150.3 1149.7C1152.4 1143.2 1154.5 1135.6 1156.6 1129.0C1158.6 1122.3 1160.7 1115.4 1162.7 1109.7C1164.8 1104.0 1166.7 1099.0 1169.0 1094.8C1171.3 1090.6 1173.9 1087.1 1176.8 1084.4C1179.6 1081.6 1181.9 1079.8 1186.1 1078.3C1190.2 1076.7 1196.4 1075.2 1201.6 1075.2C1206.8 1075.2 1213.0 1076.7 1217.1 1078.3C1221.3 1079.8 1223.6 1081.6 1226.4 1084.4C1229.3 1087.1 1231.9 1090.6 1234.2 1094.8C1236.5 1099.0 1238.4 1104.0 1240.5 1109.7C1242.5 1115.4 1244.6 1122.3 1246.6 1129.0C1248.7 1135.6 1250.8 1143.2 1252.9 1149.7C1255.0 1156.1 1257.1 1162.1 1259.1 1167.6C1261.2 1173.0 1263.2 1178.0 1265.3 1182.4C1267.4 1186.9 1269.2 1190.3 1271.6 1194.2C1273.9 1198.2 1276.7 1202.2 1279.3 1206.2C1281.9 1210.1 1284.3 1214.3 1287.1 1218.0C1290.0 1221.7 1294.9 1226.7 1296.4 1228.4Z" fill="url(#gg)"/>
<path d="M1106.8 1228.4C1108.3 1226.7 1113.2 1221.7 1116.1 1218.0C1118.9 1214.3 1121.3 1210.1 1123.9 1206.2C1126.5 1202.2 1129.3 1198.2 1131.6 1194.2C1134.0 1190.3 1135.8 1186.9 1137.9 1182.4C1140.0 1178.0 1142.0 1173.0 1144.1 1167.6C1146.1 1162.1 1148.2 1156.1 1150.3 1149.7C1152.4 1143.2 1154.5 1135.6 1156.6 1129.0C1158.6 1122.3 1160.7 1115.4 1162.7 1109.7C1164.8 1104.0 1166.7 1099.0 1169.0 1094.8C1171.3 1090.6 1173.9 1087.1 1176.8 1084.4C1179.6 1081.6 1181.9 1079.8 1186.1 1078.3C1190.2 1076.7 1196.4 1075.2 1201.6 1075.2C1206.8 1075.2 1213.0 1076.7 1217.1 1078.3C1221.3 1079.8 1223.6 1081.6 1226.4 1084.4C1229.3 1087.1 1231.9 1090.6 1234.2 1094.8C1236.5 1099.0 1238.4 1104.0 1240.5 1109.7C1242.5 1115.4 1244.6 1122.3 1246.6 1129.0C1248.7 1135.6 1250.8 1143.2 1252.9 1149.7C1255.0 1156.1 1257.1 1162.1 1259.1 1167.6C1261.2 1173.0 1263.2 1178.0 1265.3 1182.4C1267.4 1186.9 1269.2 1190.3 1271.6 1194.2C1273.9 1198.2 1276.7 1202.2 1279.3 1206.2C1281.9 1210.1 1284.3 1214.3 1287.1 1218.0C1290.0 1221.7 1294.9 1226.7 1296.4 1228.4" fill="none" stroke="#6a6a6a" stroke-width="2.9"/>
<rect x="1032.80" y="1065.90" width="92.60" height="162.50" fill="none" stroke="#141414" stroke-width="3.5"/>
<rect x="1280.70" y="1065.90" width="89.70" height="162.50" fill="none" stroke="#141414" stroke-width="3.5"/>
<rect x="1086.50" y="1228.40" width="224.30" height="51.80" fill="#fff" stroke="#141414" stroke-width="3.6"/>
<line x1="1020.60" y1="1037.10" x2="1020.60" y2="1230.15" stroke="#141414" stroke-width="3.5"/>
<polygon points="1020.6,1014.1 1028.1,1039.1 1013.1,1039.1" fill="#141414"/>
<line x1="1018.85" y1="1228.40" x2="1387.70" y2="1228.40" stroke="#141414" stroke-width="3.5"/>
<polygon points="1397.7,1228.4 1380.7,1235.4 1380.7,1221.4" fill="#141414"/>
<text transform="translate(1005.50,1146.00) rotate(-90)" x="-67.27" y="0" font-size="28" fill="#141414">Frequency</text>
<text x="1052.97" y="1120.80" font-size="28" fill="#141414">10%</text>
<text x="1296.77" y="1120.80" font-size="28" fill="#141414">10%</text>
<text x="1148.82" y="1266.10" font-size="28" fill="#141414">IFNγ-R1</text>
<line x1="1202.00" y1="1280.00" x2="1202.00" y2="1305.00" stroke="#141414" stroke-width="3.7"/>
<polygon points="1202.0,1318.0 1193.5,1303.0 1210.5,1303.0" fill="#141414"/>
<text x="1119.33" y="1347.40" font-size="28" fill="#141414">Sort by FACS</text>
<line x1="1202.00" y1="1360.00" x2="1202.00" y2="1376.00" stroke="#141414" stroke-width="3.7"/>
<polygon points="1202.0,1389.0 1193.5,1374.0 1210.5,1374.0" fill="#141414"/>
<text x="1125.70" y="1420.40" font-size="28" fill="#141414">PCR + NGS</text>
<text x="1.04" y="1497.00" font-size="28" fill="#141414" font-weight="bold">h</text>
<rect x="121.00" y="1517.00" width="394.70" height="314.60" fill="#ecedf7"/>
<rect x="515.70" y="1517.00" width="395.00" height="314.60" fill="#fde8e6"/>
<clipPath id="ch"><rect x="121" y="1517" width="789.7" height="314.5999999999999"/></clipPath>
<filter id="bl"><feGaussianBlur stdDeviation="3"/></filter><filter id="bl1"><feGaussianBlur stdDeviation="3.6"/></filter>
<g clip-path="url(#ch)">
<path d="M244.6 1572.0h0M194.2 1665.6h0M397.0 1535.9h0M374.0 1605.9h0M359.2 1726.3h0M387.7 1790.5h0M366.4 1781.2h0M382.6 1814.8h0M391.1 1746.9h0M656.8 1567.5h0M652.7 1625.5h0M653.4 1671.4h0M640.0 1698.9h0M689.8 1795.0h0M636.7 1748.4h0M660.2 1755.8h0" stroke="#000" stroke-width="12.4" stroke-linecap="round" fill="none" opacity="0.11"/>
<path d="M277.2 1590.8h0M369.9 1539.0h0M397.0 1548.6h0M355.1 1703.7h0M367.1 1781.9h0M393.9 1622.4h0M379.1 1774.3h0M392.2 1812.1h0M639.0 1529.7h0M640.0 1571.6h0M645.2 1646.4h0M703.5 1668.0h0M661.6 1754.5h0M704.2 1792.2h0M702.2 1669.8h0M661.4 1792.9h0" stroke="#000" stroke-width="12.4" stroke-linecap="round" fill="none" opacity="0.11"/>
<path d="M318.1 1610.4h0M375.0 1536.6h0M377.4 1576.1h0M368.8 1703.7h0M379.1 1774.4h0M388.7 1696.2h0M386.7 1790.8h0M396.3 1762.3h0M651.0 1540.0h0M636.6 1624.4h0M639.0 1660.8h0M660.3 1691.7h0M662.3 1792.9h0M740.2 1792.9h0M656.5 1575.0h0M740.5 1792.9h0" stroke="#000" stroke-width="12.4" stroke-linecap="round" fill="none" opacity="0.11"/>
<path d="M424.8 1789.9h0M440.9 1808.0h0M415.4 1623.6h0M379.8 1575.7h0M436.6 1720.0h0M411.8 1684.5h0M442.4 1620.3h0M434.5 1722.3h0M432.5 1780.2h0M432.1 1566.6h0M431.4 1822.2h0M435.2 1810.6h0M436.6 1801.0h0M440.0 1762.3h0M415.5 1694.2h0M442.7 1753.6h0M415.6 1586.8h0M410.5 1585.2h0M414.8 1519.1h0M423.3 1631.9h0M434.6 1817.9h0M405.7 1720.3h0M420.4 1803.1h0M428.6 1578.9h0M423.3 1606.2h0M443.1 1787.0h0M442.8 1755.3h0M436.9 1700.7h0M415.9 1800.0h0M421.5 1586.0h0M426.9 1724.1h0M444.5 1598.1h0M413.0 1657.2h0M427.0 1796.2h0M433.9 1696.6h0M431.7 1674.5h0M432.8 1808.9h0M420.0 1792.5h0M445.1 1750.4h0M425.1 1527.8h0M441.1 1813.3h0M438.5 1815.9h0M414.3 1540.7h0M422.2 1803.0h0M383.5 1549.0h0M437.7 1772.9h0M411.9 1690.2h0M441.5 1677.8h0M424.3 1819.8h0M420.1 1538.5h0M440.9 1817.0h0M434.2 1694.2h0M429.9 1664.8h0M411.0 1643.6h0M436.1 1654.4h0M441.0 1710.1h0M427.4 1596.7h0M624.4 1689.3h0M629.5 1819.6h0M587.8 1564.9h0M602.1 1597.7h0M624.7 1591.8h0M601.3 1576.6h0M599.6 1603.7h0M587.9 1579.1h0M599.1 1726.3h0M593.4 1776.9h0M595.7 1800.3h0M590.4 1797.5h0M619.9 1740.5h0M595.4 1812.4h0M610.6 1743.6h0M621.9 1757.7h0M589.0 1725.1h0M626.5 1653.1h0M596.2 1804.5h0M627.2 1758.3h0M635.7 1682.3h0M628.7 1751.1h0M604.8 1644.2h0M593.9 1719.1h0M611.6 1707.4h0M596.6 1713.6h0M623.7 1703.2h0M589.9 1703.3h0M592.2 1667.8h0M591.4 1667.7h0M591.2 1618.2h0M620.9 1730.0h0M610.4 1728.9h0M598.5 1752.3h0M592.2 1736.6h0M597.8 1658.5h0M602.3 1765.5h0M609.5 1617.7h0" stroke="#000" stroke-width="12.4" stroke-linecap="round" fill="none" opacity="0.12"/>
<path d="M430.7 1674.5h0M444.4 1789.5h0M440.8 1744.2h0M421.4 1659.0h0M387.2 1645.8h0M418.0 1743.6h0M440.1 1767.0h0M442.6 1684.0h0M431.5 1519.8h0M427.7 1646.9h0M443.1 1568.7h0M433.8 1643.7h0M427.7 1824.3h0M427.6 1731.8h0M431.0 1732.1h0M410.5 1566.8h0M442.5 1541.2h0M402.6 1551.5h0M433.7 1785.1h0M405.1 1780.2h0M427.9 1794.0h0M439.1 1789.2h0M389.2 1655.1h0M407.1 1617.2h0M413.5 1579.5h0M420.6 1708.4h0M422.5 1636.1h0M431.4 1657.7h0M418.1 1728.8h0M425.9 1631.7h0M441.2 1596.5h0M426.7 1655.7h0M431.2 1576.4h0M434.5 1557.4h0M423.0 1564.7h0M420.0 1788.2h0M421.5 1686.8h0M436.6 1699.6h0M431.3 1560.1h0M441.5 1805.1h0M421.3 1761.6h0M419.0 1689.2h0M431.7 1703.4h0M403.1 1623.5h0M436.0 1559.0h0M430.9 1739.1h0M407.4 1528.8h0M410.0 1726.6h0M412.4 1708.1h0M441.0 1581.0h0M417.0 1581.3h0M434.4 1716.6h0M444.7 1560.4h0M396.5 1759.5h0M417.0 1553.7h0M414.8 1731.2h0M419.3 1531.9h0M609.5 1632.9h0M587.8 1748.2h0M592.2 1649.5h0M614.2 1545.4h0M605.7 1581.1h0M589.6 1662.3h0M602.5 1820.9h0M594.4 1652.5h0M608.3 1648.7h0M612.0 1753.5h0M588.7 1708.9h0M596.9 1708.6h0M624.4 1683.2h0M610.1 1581.0h0M618.9 1659.8h0M633.8 1623.8h0M607.1 1630.2h0M590.7 1621.4h0M588.9 1758.5h0M600.9 1640.1h0M591.9 1647.4h0M604.4 1728.2h0M595.5 1795.7h0M606.6 1537.1h0M589.6 1791.4h0M588.4 1662.7h0M594.7 1584.8h0M586.3 1793.5h0M597.7 1752.8h0M637.8 1544.4h0M612.0 1696.7h0M604.4 1557.0h0M586.2 1519.2h0M602.8 1536.0h0M589.4 1557.8h0M589.3 1822.4h0M597.1 1746.2h0M611.4 1660.8h0" stroke="#000" stroke-width="12.4" stroke-linecap="round" fill="none" opacity="0.12"/>
<path d="M441.2 1642.7h0M437.3 1534.8h0M443.5 1787.0h0M432.0 1524.6h0M439.8 1756.7h0M393.7 1804.0h0M410.1 1549.4h0M437.9 1547.9h0M404.4 1686.8h0M442.5 1733.8h0M407.7 1684.8h0M436.8 1551.1h0M432.6 1738.7h0M444.3 1749.6h0M442.7 1597.6h0M444.4 1599.0h0M443.5 1783.3h0M429.2 1593.6h0M427.7 1753.9h0M435.1 1674.8h0M434.7 1657.1h0M440.8 1731.8h0M428.4 1530.1h0M428.2 1785.1h0M439.9 1593.2h0M416.2 1675.0h0M437.8 1718.7h0M437.7 1620.3h0M428.1 1659.0h0M437.0 1549.2h0M420.9 1710.1h0M415.9 1586.2h0M415.4 1610.3h0M423.4 1714.4h0M424.0 1787.0h0M413.5 1670.6h0M419.4 1526.6h0M437.4 1765.4h0M434.0 1591.4h0M423.5 1780.4h0M439.8 1709.8h0M439.3 1557.6h0M397.9 1597.7h0M439.4 1578.1h0M391.6 1528.8h0M406.8 1605.6h0M399.6 1778.2h0M440.0 1777.5h0M408.4 1648.4h0M415.3 1681.3h0M412.0 1753.3h0M439.7 1625.0h0M436.8 1700.5h0M404.4 1809.0h0M440.1 1716.1h0M419.1 1709.3h0M425.5 1719.5h0M630.4 1745.4h0M594.3 1780.3h0M592.8 1641.5h0M593.0 1639.4h0M587.6 1761.0h0M597.1 1761.8h0M587.7 1736.1h0M611.6 1791.9h0M592.7 1708.0h0M609.5 1632.2h0M610.5 1805.2h0M613.0 1592.4h0M588.6 1806.6h0M589.8 1652.6h0M604.0 1662.3h0M597.1 1650.4h0M601.6 1803.9h0M588.3 1791.0h0M593.2 1690.5h0M587.1 1760.7h0M601.5 1643.7h0M610.3 1640.9h0M607.2 1669.0h0M606.9 1801.6h0M586.4 1654.9h0M590.1 1665.7h0M590.8 1602.7h0M594.0 1633.5h0M592.9 1707.5h0M604.1 1560.3h0M598.7 1783.4h0M590.2 1761.9h0M589.2 1528.5h0M596.9 1579.4h0M603.2 1746.0h0M606.9 1660.0h0M588.3 1648.5h0M591.4 1723.3h0" stroke="#000" stroke-width="12.4" stroke-linecap="round" fill="none" opacity="0.12"/>
<path d="M400.0 1821.0h0M414.9 1636.4h0M426.7 1584.6h0M440.3 1766.3h0M432.8 1580.2h0M431.9 1551.1h0M434.8 1762.3h0M445.0 1612.9h0M442.9 1614.8h0M439.3 1731.1h0M389.9 1790.3h0M408.6 1821.5h0M440.4 1603.6h0M432.9 1525.4h0M435.5 1817.4h0M412.1 1660.0h0M406.3 1635.0h0M433.7 1818.9h0M438.8 1718.7h0M441.9 1805.4h0M436.8 1631.7h0M431.9 1706.9h0M442.0 1547.5h0M429.3 1685.2h0M443.8 1746.7h0M422.0 1740.9h0M417.8 1601.2h0M417.3 1668.6h0M437.6 1821.0h0M438.4 1594.8h0M438.6 1782.2h0M411.8 1690.5h0M420.2 1579.9h0M419.0 1801.6h0M424.6 1637.9h0M432.2 1561.6h0M420.0 1816.1h0M414.2 1607.6h0M441.6 1694.2h0M413.8 1717.1h0M405.5 1599.8h0M422.3 1545.1h0M426.9 1716.2h0M406.3 1545.0h0M431.3 1645.0h0M416.3 1728.8h0M422.9 1678.3h0M437.7 1645.0h0M418.9 1668.4h0M407.1 1666.9h0M444.5 1820.8h0M436.5 1779.2h0M392.1 1585.2h0M417.4 1790.1h0M387.5 1772.6h0M409.2 1814.1h0M419.6 1625.6h0M614.2 1567.9h0M588.8 1690.6h0M604.7 1708.5h0M600.4 1694.5h0M597.5 1694.0h0M600.2 1713.0h0M589.3 1590.6h0M600.0 1546.9h0M604.2 1793.0h0M602.3 1649.3h0M595.1 1699.6h0M586.2 1742.2h0M590.5 1690.2h0M593.3 1649.9h0M599.4 1546.7h0M591.9 1670.1h0M588.7 1680.8h0M603.7 1737.5h0M587.1 1689.3h0M617.0 1644.5h0M588.6 1615.6h0M591.0 1700.9h0M611.0 1615.7h0M590.1 1618.7h0M587.7 1828.0h0M598.4 1525.0h0M602.6 1698.1h0M618.0 1691.4h0M596.2 1536.7h0M590.1 1619.1h0M598.7 1602.1h0M592.0 1535.4h0M590.2 1621.2h0M604.3 1696.5h0M591.4 1727.6h0M589.3 1777.0h0M594.7 1578.3h0M593.3 1773.9h0" stroke="#000" stroke-width="12.4" stroke-linecap="round" fill="none" opacity="0.12"/>
<path d="M423.5 1783.9h0M432.8 1715.1h0M432.0 1621.3h0M420.8 1657.6h0M407.5 1560.0h0M444.7 1696.1h0M434.9 1819.6h0M427.5 1724.3h0M422.0 1812.9h0M430.9 1802.1h0M435.0 1599.8h0M437.0 1579.3h0M426.3 1676.4h0M411.1 1537.0h0M438.8 1808.9h0M441.4 1624.0h0M427.7 1785.2h0M441.1 1718.0h0M409.7 1811.0h0M420.7 1639.8h0M438.0 1728.8h0M401.0 1545.9h0M440.7 1612.0h0M428.4 1814.5h0M426.8 1584.1h0M435.5 1641.4h0M420.7 1739.5h0M440.3 1749.7h0M439.6 1781.7h0M427.8 1736.9h0M442.7 1557.1h0M427.0 1653.8h0M425.7 1675.5h0M441.0 1637.2h0M433.6 1701.1h0M441.8 1776.6h0M444.3 1521.5h0M436.7 1661.4h0M432.2 1703.7h0M417.0 1671.9h0M441.8 1640.1h0M427.3 1716.3h0M408.9 1782.1h0M434.0 1690.5h0M425.8 1620.3h0M432.1 1614.7h0M404.5 1780.2h0M409.7 1705.7h0M423.6 1549.8h0M421.4 1706.2h0M440.4 1684.7h0M434.3 1826.4h0M433.8 1824.3h0M442.6 1713.3h0M391.0 1650.0h0M418.7 1657.4h0M590.8 1795.6h0M601.3 1746.6h0M610.2 1720.7h0M609.8 1578.4h0M587.1 1747.9h0M612.0 1554.9h0M601.5 1806.2h0M611.2 1767.5h0M601.6 1597.5h0M599.5 1791.9h0M589.2 1646.1h0M599.3 1805.4h0M602.7 1599.0h0M606.0 1648.3h0M595.2 1814.0h0M593.8 1642.7h0M596.7 1634.6h0M587.5 1689.0h0M592.4 1810.6h0M619.5 1819.6h0M608.8 1720.1h0M599.5 1746.3h0M611.5 1733.0h0M614.0 1636.0h0M596.5 1694.1h0M586.5 1561.0h0M593.1 1816.3h0M589.0 1826.3h0M618.9 1734.5h0M599.8 1681.2h0M592.5 1550.1h0M599.0 1632.5h0M589.9 1520.0h0M593.7 1788.0h0M591.1 1593.0h0M603.6 1816.0h0M598.4 1596.9h0M601.0 1595.5h0M591.5 1561.1h0" stroke="#000" stroke-width="12.4" stroke-linecap="round" fill="none" opacity="0.12"/>
<path d="M424.4 1541.0h0M437.1 1670.7h0M430.4 1670.4h0M435.0 1679.4h0M402.1 1789.8h0M422.7 1783.9h0M437.1 1767.4h0M433.5 1824.6h0M436.1 1819.3h0M415.6 1776.2h0M432.6 1769.0h0M435.1 1770.7h0M444.4 1564.5h0M422.1 1723.9h0M423.1 1704.2h0M417.1 1614.4h0M394.5 1692.0h0M411.4 1779.2h0M437.1 1559.0h0M413.6 1757.8h0M420.0 1629.6h0M444.9 1793.9h0M386.3 1809.1h0M409.0 1580.3h0M409.2 1752.4h0M396.5 1642.4h0M428.0 1581.3h0M436.0 1525.1h0M421.1 1581.2h0M428.0 1629.2h0M434.2 1615.0h0M441.4 1810.4h0M408.8 1555.6h0M444.7 1688.3h0M437.3 1665.5h0M413.7 1826.3h0M440.3 1663.1h0M431.0 1740.3h0M407.8 1600.4h0M423.8 1807.7h0M415.4 1820.8h0M418.2 1553.7h0M426.8 1650.9h0M403.4 1793.4h0M442.7 1713.7h0M437.2 1673.6h0M444.0 1538.1h0M415.1 1790.3h0M441.8 1546.2h0M442.4 1705.6h0M432.9 1606.5h0M442.9 1645.5h0M438.1 1821.4h0M388.1 1725.0h0M421.4 1829.2h0M411.2 1635.6h0M608.3 1814.3h0M592.9 1566.1h0M594.7 1707.0h0M603.9 1673.7h0M597.4 1546.1h0M623.6 1753.3h0M603.5 1620.4h0M602.1 1662.8h0M607.7 1654.1h0M587.0 1815.8h0M602.6 1574.1h0M608.8 1809.3h0M603.2 1757.3h0M588.1 1573.3h0M589.5 1556.1h0M593.4 1521.4h0M592.5 1658.5h0M587.3 1763.5h0M595.5 1644.1h0M644.3 1535.1h0M610.2 1730.7h0M588.4 1801.4h0M587.1 1799.3h0M613.4 1780.2h0M595.2 1639.0h0M589.7 1581.3h0M588.2 1737.3h0M587.8 1628.2h0M614.2 1746.1h0M608.6 1751.0h0M595.8 1594.4h0M595.8 1528.7h0M589.2 1815.2h0M616.2 1827.8h0M590.4 1549.1h0M593.7 1780.0h0M586.6 1790.1h0M588.7 1599.2h0M604.5 1702.6h0" stroke="#000" stroke-width="12.4" stroke-linecap="round" fill="none" opacity="0.12"/>
<path d="M576.2 1626.8h0M571.4 1527.1h0M578.8 1737.0h0M443.2 1658.4h0M572.3 1797.9h0M445.8 1810.6h0M577.1 1650.9h0M574.6 1612.8h0M571.8 1739.1h0M573.4 1819.8h0M572.6 1790.3h0M450.0 1662.5h0M575.0 1694.3h0M455.2 1776.5h0M453.1 1749.9h0M581.6 1760.4h0M458.5 1688.3h0M590.3 1709.2h0M577.4 1582.3h0M451.5 1562.1h0M431.1 1739.8h0M586.0 1729.6h0M588.3 1694.1h0M572.7 1543.3h0M578.6 1588.7h0M454.0 1564.9h0M573.0 1585.2h0M574.6 1566.1h0M446.8 1626.1h0M459.9 1713.7h0M446.6 1638.2h0M446.4 1564.4h0M445.6 1740.2h0M581.5 1782.6h0M449.4 1537.1h0M453.2 1670.9h0M586.6 1546.6h0M579.9 1628.6h0M581.6 1703.6h0M450.5 1528.3h0M451.4 1804.0h0M586.9 1520.0h0M456.8 1600.3h0M574.0 1807.8h0M579.6 1730.1h0M448.9 1731.1h0M579.6 1521.2h0M451.3 1740.0h0M580.7 1569.1h0M576.5 1824.6h0M592.6 1539.1h0M587.0 1659.3h0M580.5 1571.3h0M454.4 1793.5h0M584.7 1538.4h0M442.2 1680.4h0M571.8 1687.7h0M572.4 1580.2h0M459.1 1684.2h0M592.5 1764.2h0M572.0 1548.6h0M572.8 1806.3h0M454.0 1766.0h0M574.3 1705.6h0M572.5 1546.7h0M454.6 1745.9h0M442.7 1802.0h0M441.7 1797.0h0M579.4 1820.6h0M453.4 1774.9h0M577.2 1757.5h0M444.6 1791.3h0M456.6 1818.3h0M442.8 1702.8h0M453.5 1685.5h0M458.7 1736.0h0M580.0 1707.7h0M571.3 1788.4h0M458.3 1784.3h0M451.1 1757.1h0M449.8 1544.7h0M577.9 1666.0h0M577.3 1733.5h0M436.7 1769.8h0M449.4 1536.6h0M589.0 1721.0h0M452.0 1726.2h0M449.5 1743.7h0M454.7 1721.9h0M584.3 1537.9h0M581.7 1617.8h0M443.2 1585.0h0M583.0 1575.9h0M583.0 1528.8h0M588.0 1822.6h0M575.7 1608.0h0M460.0 1777.6h0M458.7 1802.9h0M576.2 1589.8h0M451.9 1533.5h0M456.4 1784.6h0M453.4 1754.7h0M453.3 1642.0h0M437.6 1558.5h0M456.5 1539.1h0M459.5 1773.4h0M452.3 1571.7h0M447.7 1566.1h0M576.6 1730.5h0M573.9 1727.3h0M578.8 1708.4h0M583.5 1747.0h0M587.5 1619.2h0M583.2 1790.3h0M584.9 1781.7h0M455.8 1808.1h0M456.2 1540.1h0M452.5 1771.5h0M459.4 1807.9h0M459.1 1747.6h0M586.4 1625.2h0M458.4 1608.6h0M457.8 1813.0h0M459.1 1571.2h0M456.2 1794.8h0M458.4 1556.6h0M582.3 1609.3h0M446.5 1696.0h0M454.8 1592.1h0M442.7 1545.6h0M575.9 1573.7h0M442.9 1650.0h0M444.9 1557.3h0M572.3 1692.7h0M433.0 1706.1h0M442.0 1721.2h0M453.2 1627.5h0M580.4 1664.1h0M454.9 1640.4h0M586.3 1555.9h0" stroke="#000" stroke-width="12.4" stroke-linecap="round" fill="none" opacity="0.17"/>
<path d="M442.4 1785.8h0M572.8 1599.4h0M443.3 1598.4h0M572.6 1646.6h0M578.8 1610.3h0M574.5 1642.4h0M450.0 1762.2h0M449.3 1535.7h0M432.8 1578.0h0M588.1 1538.7h0M579.1 1723.4h0M578.5 1784.4h0M580.0 1615.9h0M458.9 1626.4h0M452.9 1704.6h0M573.3 1767.5h0M576.4 1620.2h0M583.7 1632.3h0M578.1 1590.2h0M458.9 1579.0h0M452.3 1558.4h0M584.7 1749.7h0M579.2 1690.9h0M450.8 1820.5h0M450.8 1537.6h0M575.9 1685.7h0M459.3 1740.5h0M450.2 1736.5h0M454.2 1783.9h0M454.3 1798.5h0M577.1 1577.5h0M575.4 1560.3h0M453.5 1655.1h0M578.8 1656.7h0M447.9 1727.1h0M459.3 1798.4h0M450.8 1701.4h0M459.6 1634.3h0M593.2 1705.2h0M456.0 1649.9h0M575.6 1684.1h0M457.0 1801.7h0M599.4 1776.3h0M453.3 1811.2h0M572.9 1703.0h0M573.5 1687.9h0M458.6 1722.9h0M460.1 1745.5h0M576.4 1555.7h0M573.2 1604.9h0M574.0 1790.9h0M584.2 1553.5h0M444.4 1775.6h0M455.8 1697.2h0M436.7 1637.4h0M451.5 1594.4h0M448.4 1577.1h0M573.9 1701.8h0M455.3 1584.7h0M444.6 1668.3h0M449.3 1652.4h0M586.9 1708.4h0M448.4 1816.7h0M447.4 1615.3h0M455.6 1538.5h0M594.4 1826.2h0M581.3 1596.2h0M442.6 1718.8h0M447.3 1590.4h0M450.4 1669.1h0M578.5 1715.0h0M453.5 1642.4h0M574.1 1669.6h0M579.7 1674.7h0M459.2 1586.1h0M572.3 1779.3h0M452.0 1794.2h0M571.3 1653.5h0M572.4 1592.4h0M581.0 1536.5h0M585.9 1667.0h0M578.9 1791.9h0M574.7 1710.1h0M590.1 1538.2h0M457.7 1824.1h0M455.5 1726.6h0M585.2 1664.3h0M571.7 1545.0h0M460.1 1647.8h0M577.9 1626.0h0M454.7 1749.1h0M444.6 1575.0h0M574.3 1767.5h0M580.7 1662.3h0M579.5 1791.0h0M456.5 1598.5h0M459.4 1793.6h0M581.5 1763.7h0M585.5 1670.5h0M590.3 1792.9h0M457.9 1808.1h0M595.9 1533.4h0M454.4 1583.0h0M448.7 1567.7h0M577.9 1741.5h0M457.3 1587.0h0M448.2 1663.1h0M451.2 1683.2h0M590.4 1604.6h0M591.6 1656.6h0M589.7 1601.5h0M586.2 1683.5h0M579.4 1749.3h0M585.7 1603.3h0M571.9 1763.9h0M575.6 1818.6h0M580.1 1671.9h0M589.3 1697.4h0M443.1 1693.2h0M458.6 1688.0h0M457.8 1753.0h0M445.1 1532.6h0M574.8 1790.1h0M456.7 1792.8h0M436.1 1601.2h0M576.2 1683.9h0M458.1 1630.6h0M573.0 1724.1h0M447.0 1678.3h0M455.4 1708.7h0M454.4 1611.1h0M448.2 1545.8h0M583.8 1795.3h0M454.9 1825.4h0M443.7 1807.1h0M434.5 1642.7h0M577.5 1815.9h0M447.7 1630.4h0M573.0 1628.8h0M581.1 1825.2h0" stroke="#000" stroke-width="12.4" stroke-linecap="round" fill="none" opacity="0.17"/>
<path d="M598.1 1811.7h0M457.2 1576.9h0M577.4 1546.5h0M446.2 1738.6h0M451.6 1563.8h0M450.8 1781.6h0M457.1 1570.3h0M585.2 1702.7h0M447.7 1543.8h0M574.5 1570.9h0M578.8 1772.1h0M578.3 1524.2h0M582.3 1768.4h0M578.2 1778.3h0M588.8 1547.0h0M444.8 1547.5h0M573.1 1626.6h0M574.9 1803.8h0M576.0 1545.4h0M590.9 1597.5h0M578.7 1774.5h0M583.4 1806.1h0M454.7 1793.3h0M441.9 1747.1h0M580.0 1649.4h0M575.4 1775.8h0M587.1 1794.0h0M575.1 1827.4h0M460.0 1689.6h0M584.3 1681.0h0M572.3 1768.2h0M454.6 1723.3h0M577.7 1829.3h0M578.3 1813.7h0M575.1 1685.1h0M455.2 1691.9h0M456.6 1575.5h0M448.8 1829.6h0M443.4 1706.0h0M584.9 1724.0h0M572.1 1671.7h0M581.4 1554.0h0M451.0 1607.0h0M577.7 1745.0h0M448.9 1726.3h0M574.8 1827.1h0M439.3 1691.0h0M452.0 1523.8h0M576.0 1636.3h0M459.8 1758.1h0M589.5 1824.4h0M458.6 1808.8h0M589.4 1689.8h0M458.2 1747.5h0M448.9 1525.5h0M572.6 1737.1h0M582.8 1520.3h0M455.3 1567.2h0M577.3 1697.7h0M577.3 1767.9h0M575.4 1594.3h0M573.5 1616.2h0M453.6 1763.1h0M586.5 1788.0h0M587.5 1755.6h0M437.8 1614.5h0M445.1 1753.8h0M457.1 1588.2h0M448.3 1586.2h0M575.9 1651.6h0M571.9 1626.2h0M459.0 1593.3h0M579.5 1677.2h0M456.7 1608.3h0M580.4 1526.5h0M457.0 1724.1h0M572.1 1600.5h0M454.0 1693.8h0M455.4 1664.3h0M590.6 1633.3h0M440.0 1779.1h0M456.6 1776.8h0M448.7 1534.4h0M576.5 1708.3h0M583.2 1553.9h0M578.0 1702.7h0M459.1 1577.6h0M455.1 1705.9h0M458.8 1758.4h0M583.1 1788.0h0M451.2 1703.4h0M455.4 1654.8h0M449.7 1818.2h0M448.6 1711.6h0M458.2 1738.8h0M576.5 1619.9h0M578.0 1664.4h0M451.1 1736.2h0M580.2 1733.5h0M573.9 1754.1h0M435.0 1746.8h0M587.3 1779.7h0M575.7 1623.5h0M451.3 1706.2h0M449.3 1776.9h0M455.1 1813.1h0M453.3 1753.4h0M577.0 1787.4h0M582.6 1605.9h0M458.4 1578.0h0M579.4 1825.5h0M445.7 1605.2h0M459.4 1747.4h0M574.8 1635.9h0M578.7 1565.8h0M454.6 1613.7h0M457.3 1525.6h0M574.2 1739.3h0M584.8 1796.0h0M459.1 1623.0h0M455.1 1609.5h0M448.3 1586.2h0M445.9 1727.9h0M578.1 1710.4h0M459.8 1582.1h0M575.6 1813.6h0M584.6 1750.4h0M458.2 1669.4h0M574.5 1812.9h0M446.8 1795.0h0M448.6 1625.7h0M582.4 1713.8h0M459.7 1764.4h0M457.8 1620.2h0M577.6 1582.9h0M577.0 1829.8h0M445.9 1532.8h0M574.8 1787.2h0M573.4 1645.8h0M451.4 1636.3h0" stroke="#000" stroke-width="12.4" stroke-linecap="round" fill="none" opacity="0.17"/>
<path d="M458.0 1707.0h0M588.3 1805.4h0M456.2 1615.1h0M581.0 1554.1h0M457.1 1800.8h0M452.0 1615.9h0M573.7 1719.5h0M576.1 1721.3h0M447.9 1583.6h0M458.4 1632.4h0M458.3 1540.3h0M449.3 1777.5h0M452.5 1815.7h0M594.1 1647.4h0M587.6 1722.9h0M572.2 1703.0h0M441.5 1602.1h0M444.8 1794.9h0M458.0 1600.7h0M581.7 1757.5h0M574.2 1608.6h0M459.5 1766.2h0M576.7 1654.2h0M455.6 1806.3h0M584.8 1574.4h0M440.6 1731.0h0M573.7 1812.7h0M457.2 1571.8h0M573.9 1727.4h0M456.5 1567.5h0M579.4 1676.1h0M455.1 1709.3h0M458.4 1706.2h0M574.0 1544.8h0M576.0 1776.5h0M571.3 1619.9h0M577.0 1592.0h0M581.6 1633.6h0M448.0 1666.0h0M586.7 1756.0h0M573.3 1546.8h0M584.5 1715.8h0M450.2 1544.6h0M453.8 1575.2h0M454.8 1809.4h0M576.3 1825.2h0M571.7 1587.5h0M585.0 1553.9h0M445.0 1818.2h0M579.9 1669.7h0M581.2 1547.1h0M442.4 1564.1h0M574.0 1664.3h0M452.9 1770.2h0M571.7 1562.6h0M459.2 1776.5h0M579.2 1652.4h0M456.4 1778.2h0M576.8 1654.9h0M433.4 1652.5h0M576.2 1722.3h0M587.3 1717.7h0M455.6 1730.8h0M571.7 1632.0h0M455.6 1528.1h0M452.8 1631.8h0M460.1 1614.9h0M442.4 1688.9h0M591.6 1602.9h0M571.4 1774.5h0M453.9 1527.1h0M447.1 1766.1h0M574.5 1825.1h0M456.1 1730.1h0M454.2 1772.0h0M578.0 1684.0h0M459.4 1652.9h0M576.4 1816.6h0M593.3 1787.5h0M454.5 1657.7h0M449.3 1762.1h0M452.1 1607.4h0M573.2 1573.2h0M572.4 1559.4h0M578.2 1643.3h0M580.0 1823.4h0M457.8 1827.4h0M582.3 1588.8h0M574.9 1693.6h0M454.4 1630.4h0M589.2 1624.0h0M578.9 1542.4h0M586.5 1806.3h0M453.5 1584.8h0M454.1 1518.9h0M450.7 1578.1h0M456.1 1598.6h0M448.2 1806.1h0M590.6 1794.8h0M447.4 1806.0h0M582.5 1695.1h0M446.9 1780.0h0M576.4 1757.3h0M455.7 1677.9h0M577.8 1652.3h0M576.1 1768.8h0M450.4 1663.1h0M457.4 1579.7h0M453.7 1566.0h0M571.9 1769.4h0M452.9 1632.1h0M575.0 1583.6h0M580.3 1591.1h0M459.3 1715.4h0M577.2 1607.7h0M458.1 1634.5h0M584.2 1528.7h0M574.4 1679.6h0M447.1 1566.4h0M575.2 1697.5h0M458.8 1790.6h0M578.6 1540.7h0M445.0 1723.2h0M582.3 1755.6h0M579.8 1546.9h0M455.4 1781.1h0M457.2 1652.4h0M446.0 1713.3h0M584.6 1537.2h0M443.8 1651.0h0M600.1 1539.3h0M453.5 1543.1h0M580.6 1775.2h0M576.6 1688.4h0M572.7 1555.1h0M438.3 1673.8h0M583.7 1679.8h0M452.4 1583.2h0M600.9 1606.5h0M572.6 1559.2h0" stroke="#000" stroke-width="12.4" stroke-linecap="round" fill="none" opacity="0.17"/>
<path d="M581.4 1565.4h0M456.9 1818.6h0M576.4 1697.8h0M578.5 1755.3h0M454.9 1674.3h0M445.4 1597.4h0M449.3 1590.1h0M578.1 1520.3h0M586.3 1546.0h0M447.3 1596.9h0M451.6 1761.1h0M582.4 1603.5h0M458.1 1570.4h0M575.6 1619.8h0M441.5 1814.0h0M458.8 1793.6h0M581.5 1692.8h0M453.1 1750.6h0M457.3 1734.8h0M592.9 1693.0h0M579.9 1751.9h0M575.1 1821.8h0M442.0 1549.1h0M455.5 1662.5h0M576.7 1609.3h0M577.9 1742.6h0M586.8 1684.4h0M456.7 1624.0h0M445.9 1600.8h0M459.5 1582.0h0M586.9 1580.6h0M449.1 1568.8h0M456.9 1638.2h0M579.4 1720.2h0M594.7 1697.7h0M457.2 1760.4h0M578.0 1823.7h0M456.8 1574.0h0M574.5 1663.3h0M450.1 1808.8h0M459.1 1695.1h0M450.3 1804.5h0M455.5 1615.9h0M574.9 1760.9h0M585.3 1567.0h0M452.2 1672.1h0M575.2 1762.7h0M456.8 1592.0h0M581.3 1559.9h0M583.8 1774.7h0M457.2 1554.1h0M457.4 1667.4h0M456.3 1575.3h0M444.3 1737.6h0M589.1 1677.2h0M453.6 1740.3h0M446.5 1722.5h0M453.7 1665.3h0M429.6 1618.8h0M454.0 1572.9h0M444.9 1712.5h0M575.1 1595.5h0M572.4 1651.4h0M581.9 1823.4h0M443.8 1804.6h0M450.2 1579.3h0M573.0 1569.4h0M457.5 1799.3h0M572.1 1693.7h0M589.5 1740.4h0M581.9 1590.3h0M587.8 1726.0h0M576.2 1826.6h0M447.2 1627.8h0M453.7 1590.6h0M453.4 1772.1h0M458.8 1522.1h0M457.7 1758.2h0M579.0 1777.6h0M455.8 1701.0h0M446.1 1786.4h0M459.6 1591.6h0M447.9 1598.2h0M459.9 1644.3h0M458.6 1742.7h0M447.4 1568.5h0M585.7 1567.3h0M452.2 1737.3h0M448.8 1653.2h0M443.0 1664.6h0M459.1 1595.6h0M445.7 1612.2h0M436.5 1685.3h0M455.7 1697.6h0M458.2 1813.4h0M447.0 1555.6h0M581.4 1579.0h0M586.8 1608.3h0M579.3 1760.2h0M454.2 1604.6h0M590.7 1592.3h0M574.1 1628.0h0M574.9 1562.7h0M459.7 1814.4h0M594.9 1811.9h0M446.0 1589.7h0M579.0 1568.9h0M572.8 1665.5h0M571.6 1764.4h0M442.1 1611.1h0M586.7 1816.1h0M443.8 1709.7h0M573.8 1823.4h0M579.6 1649.9h0M446.6 1790.8h0M577.1 1676.7h0M577.2 1810.0h0M583.8 1592.6h0M578.1 1623.1h0M582.6 1811.9h0M576.8 1824.2h0M584.5 1620.4h0M456.9 1570.8h0M430.3 1710.3h0M573.2 1707.6h0M452.7 1701.4h0M434.2 1753.5h0M575.5 1815.0h0M454.4 1559.5h0M458.0 1553.5h0M575.2 1812.1h0M457.3 1672.0h0M571.7 1773.0h0M458.7 1697.0h0M571.5 1741.3h0M455.4 1674.5h0M583.5 1750.1h0M457.2 1585.0h0M585.2 1733.6h0M435.8 1529.6h0" stroke="#000" stroke-width="12.4" stroke-linecap="round" fill="none" opacity="0.17"/>
<path d="M458.6 1628.0h0M456.6 1542.5h0M573.8 1563.7h0M457.7 1785.1h0M585.4 1753.8h0M583.2 1785.6h0M578.5 1682.1h0M576.6 1669.2h0M450.9 1801.2h0M454.9 1620.9h0M451.0 1707.3h0M450.7 1679.8h0M430.3 1808.3h0M575.0 1790.9h0M579.5 1785.4h0M572.7 1631.3h0M575.1 1784.3h0M443.9 1742.8h0M583.8 1530.7h0M457.9 1806.5h0M446.8 1691.2h0M581.4 1752.2h0M445.6 1827.0h0M445.6 1547.2h0M571.5 1739.0h0M577.9 1551.0h0M456.6 1591.0h0M459.7 1606.9h0M571.7 1668.9h0M576.9 1797.0h0M448.3 1710.9h0M446.5 1582.9h0M574.6 1633.6h0M582.4 1741.9h0M455.3 1541.2h0M442.0 1743.7h0M455.2 1761.6h0M589.7 1707.3h0M584.6 1766.4h0M592.4 1754.0h0M573.9 1615.6h0M575.9 1529.7h0M584.8 1581.1h0M577.8 1730.6h0M453.6 1788.0h0M572.8 1575.6h0M445.2 1800.0h0M430.9 1694.2h0M439.1 1698.6h0M446.6 1549.9h0M574.3 1616.7h0M451.3 1602.0h0M457.3 1608.9h0M453.3 1574.9h0M454.6 1824.8h0M457.0 1536.2h0M444.7 1582.6h0M459.1 1656.2h0M574.5 1619.7h0M451.6 1807.3h0M453.9 1564.3h0M456.3 1688.2h0M586.1 1623.4h0M446.2 1772.7h0M459.6 1631.5h0M445.9 1710.6h0M453.5 1793.2h0M583.2 1720.2h0M453.8 1553.9h0M577.2 1545.1h0M578.4 1761.7h0M585.6 1749.0h0M457.6 1589.2h0M452.8 1760.7h0M445.1 1527.4h0M575.5 1736.9h0M571.9 1828.4h0M446.2 1706.9h0M452.1 1570.6h0M448.4 1606.7h0M582.4 1611.8h0M580.9 1521.8h0M458.8 1552.4h0M573.5 1811.3h0M459.0 1550.3h0M580.2 1687.5h0M573.2 1655.2h0M579.7 1659.3h0M577.6 1638.2h0M595.2 1611.3h0M590.7 1544.6h0M572.1 1715.7h0M573.7 1529.3h0M438.0 1735.9h0M582.3 1687.9h0M456.0 1785.8h0M572.8 1594.7h0M585.2 1707.1h0M575.1 1584.0h0M439.8 1534.0h0M454.2 1684.0h0M455.6 1648.6h0M571.8 1639.7h0M452.5 1631.0h0M573.2 1574.4h0M456.8 1669.4h0M571.5 1742.7h0M459.1 1617.5h0M576.0 1807.2h0M454.8 1805.9h0M455.9 1678.7h0M459.2 1811.0h0M573.3 1755.0h0M457.9 1673.4h0M584.0 1736.7h0M443.6 1774.7h0M452.3 1617.7h0M440.4 1784.8h0M451.5 1763.8h0M458.3 1666.5h0M574.6 1724.4h0M582.3 1585.7h0M441.2 1825.2h0M460.1 1784.6h0M452.5 1542.6h0M452.1 1683.1h0M590.4 1809.6h0M574.4 1808.6h0M580.6 1736.1h0M589.6 1757.9h0M451.2 1692.8h0M584.4 1588.6h0M450.6 1647.6h0M447.2 1781.5h0M572.4 1575.2h0M578.6 1632.6h0M571.6 1820.2h0M448.3 1568.0h0M458.0 1756.8h0M459.3 1700.3h0" stroke="#000" stroke-width="12.4" stroke-linecap="round" fill="none" opacity="0.17"/>
<path d="M452.1 1583.6h0M574.5 1755.9h0M459.0 1608.5h0M586.5 1733.6h0M580.3 1741.2h0M572.9 1644.3h0M586.6 1690.4h0M581.8 1699.7h0M443.1 1599.2h0M571.8 1685.9h0M581.0 1661.3h0M574.3 1749.7h0M453.4 1633.4h0M578.8 1584.0h0M453.4 1657.0h0M574.5 1687.6h0M459.5 1579.6h0M585.2 1691.0h0M579.4 1821.5h0M455.5 1598.8h0M577.4 1639.7h0M450.2 1604.0h0M580.7 1804.7h0M578.3 1813.5h0M574.5 1626.8h0M577.9 1682.8h0M576.5 1550.8h0M456.5 1791.2h0M574.7 1605.8h0M581.2 1766.9h0M452.0 1705.5h0M579.3 1624.0h0M453.6 1654.5h0M454.5 1689.6h0M458.3 1623.4h0M579.6 1579.4h0M572.9 1546.1h0M585.4 1807.1h0M452.9 1582.7h0M582.6 1740.0h0M449.2 1618.4h0M459.9 1624.4h0M577.7 1521.8h0M459.3 1573.7h0M455.9 1741.0h0M449.2 1519.1h0M450.0 1550.1h0M572.7 1523.1h0M573.9 1768.7h0M592.4 1781.4h0M443.7 1683.0h0M457.7 1701.1h0M454.7 1636.0h0M452.8 1721.7h0M588.2 1763.6h0M455.2 1657.8h0M449.4 1802.3h0M449.4 1584.6h0M572.7 1530.0h0M582.3 1754.3h0M458.4 1638.4h0M580.0 1741.2h0M459.3 1608.4h0M450.9 1621.4h0M456.2 1750.0h0M452.7 1545.2h0M577.4 1728.9h0M453.4 1679.4h0M447.2 1799.9h0M590.1 1729.9h0M445.0 1809.5h0M424.6 1820.9h0M455.4 1728.9h0M457.9 1617.9h0M448.2 1733.6h0M457.0 1554.8h0M449.6 1650.2h0M455.7 1664.4h0M576.3 1618.4h0M582.5 1684.1h0M575.8 1717.0h0M438.9 1586.5h0M452.2 1710.6h0M572.9 1695.0h0M449.0 1541.2h0M575.0 1684.6h0M450.1 1711.3h0M447.1 1770.8h0M580.6 1698.4h0M451.0 1745.6h0M446.8 1658.2h0M580.3 1578.8h0M574.9 1691.1h0M577.2 1594.6h0M593.8 1692.2h0M589.7 1802.2h0M585.2 1685.3h0M459.6 1762.1h0M455.5 1780.2h0M578.2 1656.6h0M573.3 1746.1h0M459.4 1758.6h0M600.6 1644.5h0M446.3 1580.1h0M581.5 1766.3h0M585.6 1794.1h0M575.3 1632.1h0M433.3 1798.4h0M585.4 1760.0h0M596.7 1714.9h0M448.3 1823.6h0M577.4 1523.1h0M574.2 1717.1h0M456.8 1582.9h0M579.2 1745.6h0M451.5 1723.9h0M583.0 1754.2h0M457.4 1657.8h0M583.0 1714.0h0M575.3 1802.6h0M455.9 1781.1h0M449.4 1582.4h0M450.0 1572.5h0M458.1 1712.0h0M452.4 1656.6h0M578.4 1576.7h0M443.9 1593.8h0M452.0 1718.3h0M447.1 1827.2h0M571.6 1671.9h0M581.5 1636.0h0M453.8 1745.4h0M575.0 1798.2h0M455.1 1808.4h0M456.5 1533.7h0M451.0 1591.7h0M584.5 1567.5h0M577.6 1704.6h0M575.5 1740.0h0M458.8 1680.0h0" stroke="#000" stroke-width="12.4" stroke-linecap="round" fill="none" opacity="0.17"/>
<path d="M451.0 1636.2h0M451.0 1734.9h0M582.1 1751.4h0M446.5 1724.6h0M578.6 1597.5h0M459.8 1765.1h0M574.1 1608.2h0M580.2 1611.8h0M445.1 1560.3h0M573.2 1792.2h0M582.0 1751.4h0M578.0 1711.8h0M578.8 1659.1h0M447.0 1698.2h0M438.5 1588.8h0M571.9 1820.8h0M574.6 1692.8h0M575.9 1758.7h0M582.1 1550.7h0M455.6 1816.8h0M459.5 1720.6h0M451.2 1794.2h0M459.1 1647.5h0M456.3 1821.2h0M577.0 1739.9h0M573.3 1543.5h0M579.6 1766.4h0M453.4 1765.7h0M572.8 1613.7h0M453.4 1613.6h0M571.8 1819.7h0M582.2 1573.6h0M583.3 1751.5h0M453.8 1797.6h0M456.1 1660.1h0M588.5 1787.6h0M578.8 1729.9h0M581.1 1788.8h0M456.4 1669.0h0M586.5 1722.8h0M577.3 1775.4h0M579.5 1704.0h0M451.5 1582.1h0M591.6 1789.8h0M572.8 1605.6h0M572.9 1579.9h0M451.1 1824.9h0M579.3 1652.4h0M580.7 1765.0h0M573.2 1684.6h0M457.0 1533.6h0M445.8 1737.7h0M443.7 1620.0h0M451.9 1696.2h0M583.3 1792.8h0M583.8 1740.5h0M458.9 1593.5h0M454.0 1701.7h0M455.1 1685.7h0M458.7 1675.3h0M434.8 1545.3h0M594.3 1663.6h0M577.1 1692.6h0M450.7 1578.4h0M578.6 1800.6h0M575.0 1822.6h0M443.8 1551.3h0M451.2 1690.4h0M452.6 1599.5h0M575.4 1691.3h0M446.9 1727.8h0M452.4 1617.4h0M572.9 1606.8h0M438.5 1823.3h0M440.5 1805.9h0M445.5 1698.1h0M583.6 1697.4h0M577.2 1801.0h0M572.9 1613.4h0M580.0 1686.2h0M584.5 1524.2h0M582.6 1619.9h0M573.4 1523.4h0M455.5 1587.1h0M580.3 1527.0h0M573.1 1633.0h0M583.6 1682.4h0M452.0 1744.7h0M574.4 1598.7h0M444.6 1520.9h0M450.5 1530.3h0M459.9 1668.4h0M584.7 1542.4h0M577.9 1804.1h0M459.9 1774.8h0M458.7 1688.7h0M588.9 1557.5h0M447.7 1532.5h0M450.1 1524.6h0M577.1 1737.3h0M445.2 1549.7h0M578.6 1611.3h0M573.1 1533.3h0M456.2 1768.4h0M451.9 1788.4h0M454.4 1521.8h0M450.7 1649.5h0M571.6 1585.7h0M572.1 1815.7h0M455.4 1772.3h0M452.5 1546.4h0M587.6 1750.5h0M440.8 1588.9h0M573.6 1533.8h0M575.0 1794.9h0M574.9 1672.1h0M580.2 1636.7h0M458.1 1673.0h0M571.6 1790.3h0M450.1 1756.7h0M451.4 1613.6h0M571.4 1793.6h0M582.9 1527.2h0M457.3 1652.9h0M572.7 1684.1h0M576.7 1646.1h0M584.0 1627.6h0M456.8 1646.6h0M574.6 1676.8h0M581.3 1712.3h0M447.7 1789.8h0M572.7 1681.7h0M449.0 1620.3h0M443.0 1554.8h0M582.5 1758.2h0M572.9 1556.0h0M458.4 1570.4h0M455.8 1749.3h0M455.6 1583.5h0M453.7 1568.6h0" stroke="#000" stroke-width="12.4" stroke-linecap="round" fill="none" opacity="0.17"/>
<path d="M592.7 1585.8h0M437.6 1787.8h0M583.8 1827.5h0M573.5 1554.8h0M571.8 1525.8h0M457.6 1592.4h0M586.5 1723.8h0M576.1 1752.1h0M456.2 1681.7h0M449.6 1740.0h0M575.6 1675.9h0M453.4 1680.1h0M459.9 1526.5h0M451.4 1528.9h0M455.9 1594.1h0M583.2 1525.0h0M574.0 1692.3h0M572.0 1538.6h0M460.1 1699.4h0M438.3 1706.7h0M580.5 1768.3h0M446.7 1628.7h0M574.7 1730.8h0M455.2 1820.8h0M581.7 1685.4h0M443.4 1683.5h0M445.8 1560.6h0M450.1 1635.3h0M576.3 1548.2h0M581.2 1528.6h0M459.0 1581.6h0M457.5 1671.2h0M459.6 1626.2h0M450.0 1554.7h0M575.1 1663.1h0M457.7 1769.1h0M571.3 1704.2h0M449.0 1805.8h0M578.1 1720.3h0M441.6 1522.4h0M571.5 1653.4h0M455.4 1569.1h0M445.2 1683.7h0M454.4 1742.8h0M455.1 1721.5h0M573.3 1666.7h0M451.6 1551.7h0M573.9 1524.9h0M584.3 1767.2h0M460.0 1640.5h0M572.9 1701.3h0M436.8 1725.4h0M572.1 1690.4h0M575.6 1710.8h0M452.3 1600.4h0M449.2 1784.6h0M453.2 1555.5h0M449.2 1749.5h0M576.9 1652.0h0M451.0 1815.5h0M451.2 1751.3h0M447.8 1783.2h0M574.8 1633.8h0M453.5 1591.1h0M572.7 1652.7h0M586.3 1543.9h0M455.4 1681.3h0M574.0 1630.3h0M583.8 1612.0h0M454.3 1795.2h0M439.9 1665.2h0M588.1 1814.1h0M439.6 1768.1h0M453.3 1771.8h0M459.5 1686.2h0M459.6 1790.9h0M582.0 1694.6h0M575.8 1637.1h0M574.4 1786.2h0M459.5 1782.6h0M454.4 1723.7h0M451.6 1658.8h0M451.0 1547.4h0M459.0 1730.6h0M455.2 1685.9h0M449.2 1578.1h0M444.0 1669.8h0M574.1 1727.4h0M581.4 1560.1h0M456.2 1722.1h0M459.8 1742.1h0M582.4 1617.3h0M573.6 1738.7h0M452.7 1588.2h0M458.6 1525.6h0M454.9 1796.4h0M571.6 1661.6h0M578.6 1624.2h0M580.4 1602.9h0M450.9 1529.9h0M442.1 1650.3h0M443.9 1799.0h0M580.5 1655.9h0M448.3 1632.1h0M447.0 1783.8h0M454.4 1714.4h0M591.4 1614.2h0M456.5 1714.0h0M448.7 1634.2h0M447.2 1695.3h0M455.7 1678.1h0M575.3 1816.8h0M447.8 1732.1h0M574.4 1723.8h0M444.7 1568.8h0M448.2 1762.7h0M458.8 1553.0h0M573.5 1710.1h0M451.2 1554.5h0M581.4 1575.6h0M575.8 1741.0h0M578.5 1730.3h0M455.6 1814.5h0M582.9 1685.4h0M574.8 1671.7h0M572.8 1777.2h0M447.9 1522.3h0M446.6 1775.3h0M583.8 1777.6h0M598.5 1619.7h0M452.2 1520.1h0M447.8 1656.8h0M582.6 1558.6h0M572.6 1643.7h0M572.5 1529.3h0M587.0 1580.3h0M593.1 1788.2h0M576.6 1658.8h0M452.3 1528.5h0M590.4 1539.0h0" stroke="#000" stroke-width="12.4" stroke-linecap="round" fill="none" opacity="0.17"/>
<path d="M446.5 1519.9h0M577.7 1632.4h0M448.6 1556.1h0M587.9 1625.4h0M458.0 1743.1h0M591.3 1740.9h0M581.2 1592.3h0M581.5 1531.8h0M581.3 1805.0h0M452.3 1672.4h0M456.5 1657.9h0M454.9 1714.5h0M575.0 1770.8h0M447.3 1826.3h0M572.8 1683.1h0M581.9 1535.4h0M583.5 1593.6h0M448.0 1696.7h0M448.1 1724.8h0M577.4 1782.9h0M452.4 1646.9h0M576.0 1738.1h0M459.4 1751.5h0M586.2 1744.9h0M459.4 1573.9h0M588.3 1537.5h0M584.4 1675.4h0M575.5 1597.4h0M452.8 1563.4h0M579.1 1805.9h0M459.7 1690.9h0M450.5 1652.2h0M456.5 1624.1h0M600.4 1525.0h0M457.3 1632.3h0M451.1 1575.2h0M576.5 1539.0h0M459.0 1700.7h0M576.6 1529.8h0M578.3 1770.1h0M573.8 1690.2h0M571.4 1609.6h0M458.2 1654.9h0M457.3 1750.1h0M448.0 1672.2h0M457.0 1629.4h0M573.1 1545.2h0M595.6 1605.4h0M459.0 1576.1h0M452.7 1688.9h0M572.8 1825.9h0M573.2 1744.5h0M578.9 1578.9h0M460.1 1772.4h0M449.1 1787.0h0M452.7 1808.7h0M585.5 1588.4h0M573.4 1608.3h0M583.1 1823.9h0M575.6 1785.3h0M451.6 1794.2h0M454.2 1777.5h0M447.2 1657.6h0M584.8 1617.2h0M588.7 1763.7h0M453.5 1591.9h0M582.9 1782.3h0M573.0 1618.1h0M458.3 1809.0h0M442.6 1652.8h0M457.6 1745.2h0M449.2 1634.7h0M459.2 1747.2h0M457.3 1810.9h0M573.5 1661.0h0M442.9 1622.8h0M458.7 1605.0h0M575.6 1575.4h0M450.3 1521.6h0M431.0 1573.6h0M453.9 1727.3h0M578.4 1578.4h0M575.3 1772.3h0M453.3 1738.8h0M456.7 1700.9h0M580.3 1610.4h0M579.8 1806.5h0M446.4 1785.2h0M585.9 1530.1h0M454.6 1518.8h0M433.5 1640.3h0M593.3 1522.4h0M449.9 1785.7h0M446.8 1533.0h0M449.3 1756.3h0M572.7 1646.0h0M450.3 1617.3h0M571.7 1725.4h0M433.9 1704.4h0M454.1 1647.2h0M452.8 1642.3h0M575.9 1682.0h0M572.9 1728.5h0M446.8 1786.3h0M585.5 1611.0h0M572.7 1699.3h0M442.8 1717.9h0M459.1 1552.9h0M448.9 1551.2h0M453.6 1766.3h0M439.9 1681.4h0M577.4 1558.1h0M459.6 1813.0h0M572.2 1801.8h0M579.7 1739.9h0M456.4 1650.5h0M589.2 1687.3h0M574.2 1567.9h0M572.9 1552.1h0M459.9 1638.9h0M458.3 1819.1h0M457.5 1638.0h0M578.2 1533.7h0M450.1 1667.6h0M453.7 1701.6h0M451.8 1735.8h0M579.4 1597.4h0M453.5 1774.0h0M457.7 1711.6h0M572.6 1732.7h0M456.0 1616.3h0M453.9 1669.5h0M455.9 1542.8h0M585.3 1722.1h0M576.9 1725.4h0M577.3 1558.6h0M447.1 1589.6h0M447.9 1612.5h0M575.6 1731.0h0M451.4 1756.4h0" stroke="#000" stroke-width="12.4" stroke-linecap="round" fill="none" opacity="0.17"/>
<path d="M571.9 1607.9h0M451.8 1820.7h0M455.4 1635.9h0M582.9 1792.0h0M448.4 1661.0h0M584.8 1615.3h0M450.0 1691.4h0M574.0 1595.3h0M458.8 1661.0h0M459.7 1648.7h0M593.5 1814.6h0M574.2 1753.0h0M455.8 1553.6h0M459.8 1805.4h0M574.7 1755.3h0M458.6 1748.2h0M577.2 1616.6h0M448.0 1710.9h0M457.6 1682.2h0M460.0 1564.7h0M457.1 1582.8h0M580.0 1758.7h0M446.3 1522.4h0M587.0 1778.2h0M575.5 1761.2h0M453.8 1544.7h0M452.7 1636.1h0M582.8 1624.1h0M573.7 1813.8h0M454.4 1802.3h0M573.7 1712.3h0M450.4 1779.3h0M454.3 1646.3h0M446.4 1573.7h0M600.3 1640.1h0M445.5 1792.3h0M576.8 1795.8h0M442.9 1575.6h0M576.0 1610.2h0M583.1 1714.6h0M577.1 1779.3h0M593.5 1700.6h0M580.9 1591.3h0M437.0 1815.2h0M456.0 1727.1h0M575.3 1620.9h0M456.2 1778.4h0M581.4 1815.3h0M576.9 1807.3h0M449.1 1762.6h0M578.4 1694.5h0M453.2 1688.7h0M575.8 1569.3h0M574.9 1652.1h0M574.8 1629.1h0M574.0 1726.0h0M583.7 1799.2h0M450.2 1794.3h0M572.6 1770.2h0M453.4 1651.0h0M457.1 1619.1h0M451.0 1528.6h0M451.7 1737.6h0M580.6 1750.8h0M571.9 1585.2h0M573.6 1798.0h0M445.6 1802.9h0M576.4 1597.2h0M574.7 1528.6h0M580.1 1611.8h0M450.6 1584.1h0M455.2 1664.9h0M586.1 1550.4h0M575.1 1798.1h0M582.2 1615.8h0M585.4 1719.4h0M587.2 1754.5h0M457.3 1726.3h0M578.8 1750.9h0M459.9 1809.3h0M458.5 1619.3h0M580.9 1766.5h0M573.0 1712.3h0M456.6 1800.8h0M571.5 1623.1h0M576.0 1726.1h0M451.1 1583.3h0M583.1 1593.2h0M579.1 1655.5h0M573.8 1743.9h0M571.9 1594.2h0M441.5 1613.2h0M450.5 1703.4h0M576.4 1797.9h0M459.7 1549.3h0M455.3 1536.8h0M583.8 1829.1h0M449.8 1791.7h0M455.1 1771.1h0M458.9 1531.1h0M585.9 1574.7h0M452.7 1535.2h0M577.0 1698.5h0M576.6 1568.8h0M571.5 1814.5h0M581.5 1599.1h0M457.0 1759.4h0M449.2 1752.8h0M459.7 1642.3h0M446.1 1810.8h0M580.7 1807.8h0M458.0 1802.6h0M582.5 1598.6h0M455.2 1716.4h0M576.2 1654.1h0M585.9 1568.6h0M583.3 1626.7h0M585.4 1720.9h0M451.2 1552.2h0M444.4 1581.9h0M452.7 1588.5h0M458.1 1729.9h0M455.9 1624.4h0M440.6 1551.9h0M583.2 1615.1h0M443.8 1663.0h0M586.0 1751.3h0M573.5 1757.7h0M454.6 1705.4h0M575.2 1750.5h0M454.7 1593.6h0M438.5 1542.5h0M591.5 1812.6h0M447.0 1556.0h0M442.0 1609.5h0M457.0 1713.1h0M455.7 1802.7h0M575.7 1593.2h0M576.2 1626.3h0M442.8 1553.5h0" stroke="#000" stroke-width="12.4" stroke-linecap="round" fill="none" opacity="0.17"/>
<path d="M454.3 1561.7h0M595.6 1581.2h0M579.7 1810.1h0M575.7 1707.4h0M574.8 1733.3h0M576.8 1628.3h0M574.1 1599.4h0M450.3 1627.9h0M458.0 1754.4h0M457.5 1736.1h0M460.0 1535.0h0M572.5 1700.4h0M455.3 1789.3h0M458.0 1636.9h0M584.4 1789.9h0M581.3 1570.7h0M457.5 1522.1h0M578.8 1549.2h0M458.0 1705.5h0M575.2 1544.0h0M579.8 1520.0h0M442.6 1679.4h0M450.5 1734.0h0M456.2 1528.6h0M571.9 1775.5h0M453.9 1653.3h0M574.2 1686.1h0M441.1 1644.4h0M444.6 1622.1h0M445.1 1613.4h0M578.2 1625.9h0M454.7 1609.6h0M575.0 1712.6h0M446.9 1651.3h0M573.2 1689.1h0M451.3 1736.4h0M448.0 1527.5h0M456.0 1811.6h0M443.0 1779.2h0M441.9 1695.3h0M457.3 1822.5h0M460.0 1606.5h0M457.7 1633.1h0M459.0 1598.8h0M575.5 1655.6h0M597.5 1602.8h0M571.9 1594.9h0M456.7 1581.5h0M458.4 1544.1h0M578.1 1739.7h0M447.1 1665.2h0M571.3 1643.8h0M450.3 1653.7h0M447.3 1700.2h0M452.5 1729.5h0M451.8 1638.8h0M450.2 1649.1h0M575.2 1715.4h0M578.3 1752.5h0M446.7 1705.6h0M577.0 1791.0h0M574.8 1664.5h0M451.8 1761.7h0M448.1 1522.5h0M458.9 1686.2h0M454.1 1522.7h0M449.1 1791.6h0M583.2 1663.1h0M458.8 1820.5h0M442.0 1599.3h0M453.2 1750.1h0M586.6 1816.7h0M580.1 1768.4h0M452.5 1597.0h0M455.6 1652.3h0M592.1 1669.6h0M582.6 1705.4h0M452.4 1809.1h0M578.9 1719.7h0M581.7 1547.5h0M455.9 1556.6h0M578.7 1782.2h0M574.9 1734.1h0M459.9 1682.4h0M573.8 1553.3h0M458.1 1738.2h0M459.0 1658.2h0M452.7 1689.6h0M571.5 1529.5h0M577.6 1681.2h0M579.2 1804.0h0M457.5 1588.0h0M576.1 1567.2h0M572.2 1586.6h0M579.0 1660.9h0M582.1 1669.6h0M574.9 1677.2h0M579.0 1677.4h0M447.8 1685.0h0M576.7 1713.8h0M575.7 1621.1h0M451.8 1551.1h0M583.3 1657.0h0M579.5 1602.6h0M437.9 1698.7h0M452.4 1676.7h0M456.3 1623.1h0M572.0 1828.0h0M449.5 1548.6h0M457.5 1691.6h0M579.1 1585.1h0M577.0 1815.7h0M580.6 1615.7h0M575.4 1750.1h0M571.6 1710.9h0M574.2 1774.6h0M579.1 1622.1h0M580.4 1581.0h0M459.2 1641.4h0M572.3 1618.5h0M426.3 1538.9h0M580.7 1558.2h0M443.1 1788.8h0M576.8 1564.9h0M459.8 1664.4h0M456.0 1583.0h0M584.1 1821.2h0M586.9 1599.1h0M451.1 1732.9h0M455.0 1530.9h0M457.5 1529.2h0M572.7 1687.7h0M576.9 1753.2h0M459.2 1793.6h0M580.0 1662.9h0M459.2 1797.0h0M575.4 1613.3h0M434.6 1690.2h0M576.8 1649.0h0M459.1 1792.6h0" stroke="#000" stroke-width="12.4" stroke-linecap="round" fill="none" opacity="0.17"/>
<polygon points="451.5,1511.0 452.6,1515.0 453.0,1519.0 452.0,1523.0 453.4,1527.0 452.4,1531.0 453.0,1535.0 452.9,1539.0 453.0,1543.0 451.3,1547.0 448.6,1551.0 449.7,1555.0 450.7,1559.0 452.0,1563.0 450.6,1567.0 450.0,1571.0 450.4,1575.0 449.0,1579.0 448.0,1583.0 446.2,1587.0 447.2,1591.0 447.8,1595.0 451.1,1599.0 454.4,1603.0 455.8,1607.0 454.0,1611.0 453.4,1615.0 456.5,1619.0 456.7,1623.0 453.5,1627.0 450.0,1631.0 448.4,1635.0 447.5,1639.0 445.7,1643.0 446.7,1647.0 447.1,1651.0 448.2,1655.0 448.2,1659.0 448.7,1663.0 449.5,1667.0 450.0,1671.0 451.7,1675.0 451.6,1679.0 451.7,1683.0 453.0,1687.0 453.6,1691.0 454.2,1695.0 452.9,1699.0 452.1,1703.0 451.4,1707.0 450.8,1711.0 450.8,1715.0 449.4,1719.0 449.1,1723.0 447.9,1727.0 447.7,1731.0 446.2,1735.0 446.8,1739.0 449.5,1743.0 449.8,1747.0 451.0,1751.0 448.4,1755.0 449.9,1759.0 450.9,1763.0 453.0,1767.0 452.9,1771.0 452.6,1775.0 453.4,1779.0 453.9,1783.0 454.6,1787.0 453.5,1791.0 451.8,1795.0 449.3,1799.0 448.4,1803.0 448.9,1807.0 449.2,1811.0 449.8,1815.0 448.6,1819.0 449.9,1823.0 450.2,1827.0 451.9,1831.0 452.9,1835.0 455.3,1839.0 575.4,1839.0 578.0,1835.0 582.2,1831.0 584.7,1827.0 586.0,1823.0 586.8,1819.0 583.9,1815.0 580.1,1811.0 576.3,1807.0 576.8,1803.0 576.3,1799.0 574.8,1795.0 575.6,1791.0 580.0,1787.0 584.6,1783.0 586.3,1779.0 584.5,1775.0 583.6,1771.0 581.6,1767.0 581.3,1763.0 581.4,1759.0 581.8,1755.0 582.3,1751.0 583.0,1747.0 583.6,1743.0 585.1,1739.0 585.3,1735.0 587.1,1731.0 586.8,1727.0 586.7,1723.0 584.9,1719.0 582.5,1715.0 581.6,1711.0 581.0,1707.0 581.0,1703.0 581.5,1699.0 582.8,1695.0 582.5,1691.0 583.5,1687.0 582.7,1683.0 581.3,1679.0 578.6,1675.0 576.6,1671.0 578.5,1667.0 579.5,1663.0 580.4,1659.0 579.9,1655.0 575.8,1651.0 570.2,1647.0 568.2,1643.0 572.6,1639.0 579.7,1635.0 582.8,1631.0 585.6,1627.0 587.2,1623.0 586.2,1619.0 582.6,1615.0 580.4,1611.0 577.5,1607.0 577.3,1603.0 575.1,1599.0 577.4,1595.0 579.1,1591.0 580.6,1587.0 581.1,1583.0 580.6,1579.0 580.7,1575.0 580.4,1571.0 580.7,1567.0 579.2,1563.0 579.9,1559.0 578.9,1555.0 582.0,1551.0 583.1,1547.0 585.5,1543.0 586.5,1539.0 586.3,1535.0 585.1,1531.0 583.1,1527.0 582.3,1523.0 581.7,1519.0 580.7,1515.0 580.2,1511.0" fill="#050505" filter="url(#bl1)"/>
<line x1="515.10" y1="1517.00" x2="515.10" y2="1831.60" stroke="#3d3d3d" stroke-width="1.2"/>
<line x1="441.90" y1="1520.00" x2="441.90" y2="1831.60" stroke="#ea3a22" stroke-width="2.7" stroke-dasharray="0.1 7.9" stroke-linecap="round"/>
<line x1="594.40" y1="1520.00" x2="594.40" y2="1831.60" stroke="#ea3a22" stroke-width="2.7" stroke-dasharray="0.1 7.9" stroke-linecap="round"/>
</g>
<circle cx="177.40" cy="1660.80" r="10.3" fill="#3f4fa3"/>
<text x="147.09" y="1639.50" font-size="28" fill="#3f4fa3" font-style="italic">IFNGR1</text>
<circle cx="776.90" cy="1541.80" r="10.3" fill="#e4321f"/>
<text x="794.78" y="1551.00" font-size="28" fill="#e4321f" font-style="italic">AUP1</text>
<circle cx="885.30" cy="1783.00" r="10.3" fill="#e4321f"/>
<text x="803.91" y="1764.80" font-size="28" fill="#e4321f" font-style="italic">STUB1</text>
<circle cx="766.50" cy="1811.00" r="9.8" fill="#e4321f"/>
<text x="781.91" y="1821.00" font-size="28" fill="#e4321f" font-style="italic">UROD</text>
<rect x="121" y="1517" width="789.7" height="314.5999999999999" fill="none" stroke="#0a0a0a" stroke-width="3"/>
<line x1="114.00" y1="1533.50" x2="121.00" y2="1533.50" stroke="#141414" stroke-width="2.4"/>
<text x="38.88" y="1542.80" font-size="28" fill="#141414">2x10</text>
<text x="100.11" y="1534.00" font-size="17" fill="#141414">4</text>
<line x1="114.00" y1="1681.70" x2="121.00" y2="1681.70" stroke="#141414" stroke-width="2.4"/>
<text x="38.88" y="1691.00" font-size="28" fill="#141414">1x10</text>
<text x="100.11" y="1682.20" font-size="17" fill="#141414">4</text>
<line x1="114.00" y1="1829.90" x2="121.00" y2="1829.90" stroke="#141414" stroke-width="2.4"/>
<text x="82.52" y="1839.20" font-size="28" fill="#141414">0</text>
<line x1="145.20" y1="1831.60" x2="145.20" y2="1838.60" stroke="#141414" stroke-width="2.4"/>
<text x="125.43" y="1864.20" font-size="28" fill="#141414">-15</text>
<line x1="268.70" y1="1831.60" x2="268.70" y2="1838.60" stroke="#141414" stroke-width="2.4"/>
<text x="248.89" y="1864.20" font-size="28" fill="#141414">-10</text>
<line x1="392.20" y1="1831.60" x2="392.20" y2="1838.60" stroke="#141414" stroke-width="2.4"/>
<text x="380.22" y="1864.20" font-size="28" fill="#141414">-5</text>
<line x1="515.70" y1="1831.60" x2="515.70" y2="1838.60" stroke="#141414" stroke-width="2.4"/>
<text x="509.41" y="1864.20" font-size="28" fill="#141414">0</text>
<line x1="639.20" y1="1831.60" x2="639.20" y2="1838.60" stroke="#141414" stroke-width="2.4"/>
<text x="632.94" y="1864.20" font-size="28" fill="#141414">5</text>
<line x1="762.70" y1="1831.60" x2="762.70" y2="1838.60" stroke="#141414" stroke-width="2.4"/>
<text x="748.11" y="1864.20" font-size="28" fill="#141414">10</text>
<line x1="886.20" y1="1831.60" x2="886.20" y2="1838.60" stroke="#141414" stroke-width="2.4"/>
<text x="871.65" y="1864.20" font-size="28" fill="#141414">15</text>
<text x="374.72" y="1892.60" font-size="28" fill="#141414">signed RRA score (log</text>
<text x="654.09" y="1899.50" font-size="16.5" fill="#141414">10</text>
<text x="676.18" y="1892.60" font-size="28" fill="#141414">)</text>
<text x="115.40" y="1930.40" font-size="28" fill="#141414">Decreased</text>
<line x1="264.00" y1="1922.90" x2="391.10" y2="1922.90" stroke="#141414" stroke-width="2.6"/>
<polygon points="255.6,1922.9 265.6,1916.4 265.6,1929.4" fill="#141414"/>
<text x="396.42" y="1930.40" font-size="28" fill="#141414">IFNγ-R1 expression</text>
<line x1="656.70" y1="1922.90" x2="783.00" y2="1922.90" stroke="#141414" stroke-width="2.6"/>
<polygon points="792.5,1922.9 782.5,1929.4 782.5,1916.4" fill="#141414"/>
<text x="798.72" y="1930.40" font-size="28" fill="#141414">Increased</text>
<text transform="translate(24.70,1646.40) rotate(-90)" x="-70.00" y="0" font-size="28" fill="#141414" textLength="138.9" lengthAdjust="spacingAndGlyphs">Gene index</text>
<text x="1020.24" y="1497.70" font-size="28" fill="#141414" font-weight="bold">i</text>
<line x1="1158.00" y1="1722.40" x2="1386.00" y2="1722.40" stroke="#141414" stroke-width="2.6" stroke-dasharray="2.6 5.5"/>
<rect x="1185.40" y="1723.90" width="22.20" height="45.60" fill="#000"/>
<rect x="1213.90" y="1628.42" width="22.80" height="141.08" fill="#e42a12"/>
<rect x="1242.40" y="1592.80" width="22.80" height="176.70" fill="#e42a12"/>
<rect x="1271.00" y="1692.55" width="22.80" height="76.95" fill="#e42a12"/>
<rect x="1299.50" y="1684.95" width="22.80" height="84.55" fill="#e42a12"/>
<rect x="1328.60" y="1614.17" width="22.80" height="155.33" fill="#e42a12"/>
<rect x="1357.10" y="1579.97" width="22.80" height="189.53" fill="#e42a12"/>
<line x1="1282.40" y1="1679.00" x2="1282.40" y2="1694.00" stroke="#7c7b7b" stroke-width="2.4"/>
<line x1="1311.00" y1="1672.00" x2="1311.00" y2="1687.00" stroke="#7c7b7b" stroke-width="2.4"/>
<line x1="1311.00" y1="1672.50" x2="1321.00" y2="1672.50" stroke="#7c7b7b" stroke-width="2.4"/>
<circle cx="1162.45" cy="1764.60" r="5.6" fill="#7c7b7b"/>
<circle cx="1167.95" cy="1763.80" r="5.6" fill="#7c7b7b"/>
<circle cx="1173.45" cy="1764.60" r="5.6" fill="#7c7b7b"/>
<circle cx="1191.00" cy="1721.30" r="5.6" fill="#7c7b7b"/>
<circle cx="1196.50" cy="1720.80" r="5.6" fill="#7c7b7b"/>
<circle cx="1202.00" cy="1720.30" r="5.6" fill="#7c7b7b"/>
<circle cx="1219.80" cy="1626.30" r="5.6" fill="#7c7b7b"/>
<circle cx="1225.30" cy="1625.30" r="5.6" fill="#7c7b7b"/>
<circle cx="1230.80" cy="1624.80" r="5.6" fill="#7c7b7b"/>
<circle cx="1248.80" cy="1591.60" r="5.6" fill="#7c7b7b"/>
<circle cx="1254.80" cy="1586.60" r="5.6" fill="#7c7b7b"/>
<circle cx="1260.30" cy="1589.10" r="5.6" fill="#7c7b7b"/>
<circle cx="1277.40" cy="1697.50" r="5.6" fill="#7c7b7b"/>
<circle cx="1287.90" cy="1696.50" r="5.6" fill="#7c7b7b"/>
<circle cx="1282.90" cy="1681.50" r="5.6" fill="#7c7b7b"/>
<circle cx="1305.90" cy="1689.80" r="5.6" fill="#7c7b7b"/>
<circle cx="1316.40" cy="1684.80" r="5.6" fill="#7c7b7b"/>
<circle cx="1306.90" cy="1669.80" r="5.6" fill="#7c7b7b"/>
<circle cx="1334.50" cy="1612.00" r="5.6" fill="#7c7b7b"/>
<circle cx="1340.00" cy="1611.00" r="5.6" fill="#7c7b7b"/>
<circle cx="1345.50" cy="1611.00" r="5.6" fill="#7c7b7b"/>
<circle cx="1363.00" cy="1578.80" r="5.6" fill="#7c7b7b"/>
<circle cx="1369.00" cy="1574.80" r="5.6" fill="#7c7b7b"/>
<circle cx="1374.50" cy="1576.30" r="5.6" fill="#7c7b7b"/>
<line x1="1150.60" y1="1530.60" x2="1150.60" y2="1771.00" stroke="#141414" stroke-width="3"/>
<line x1="1134.00" y1="1769.50" x2="1386.50" y2="1769.50" stroke="#141414" stroke-width="3"/>
<line x1="1134.00" y1="1769.50" x2="1150.60" y2="1769.50" stroke="#141414" stroke-width="2.6"/>
<text x="1116.02" y="1779.70" font-size="28" fill="#141414">0</text>
<line x1="1134.00" y1="1722.00" x2="1150.60" y2="1722.00" stroke="#141414" stroke-width="2.6"/>
<text x="1116.29" y="1732.20" font-size="28" fill="#141414">1</text>
<line x1="1134.00" y1="1674.50" x2="1150.60" y2="1674.50" stroke="#141414" stroke-width="2.6"/>
<text x="1116.34" y="1684.70" font-size="28" fill="#141414">2</text>
<line x1="1134.00" y1="1627.00" x2="1150.60" y2="1627.00" stroke="#141414" stroke-width="2.6"/>
<text x="1116.16" y="1637.20" font-size="28" fill="#141414">3</text>
<line x1="1134.00" y1="1579.50" x2="1150.60" y2="1579.50" stroke="#141414" stroke-width="2.6"/>
<text x="1115.75" y="1589.70" font-size="28" fill="#141414">4</text>
<line x1="1134.00" y1="1532.00" x2="1150.60" y2="1532.00" stroke="#141414" stroke-width="2.6"/>
<text x="1116.10" y="1542.20" font-size="28" fill="#141414">5</text>
<text transform="translate(1180.65,1701.45) rotate(-90)" x="-21.80" y="0" font-size="28" fill="#141414">****</text>
<text transform="translate(1235.95,1592.65) rotate(-90)" x="-21.80" y="0" font-size="28" fill="#141414">****</text>
<text transform="translate(1265.35,1553.25) rotate(-90)" x="-21.80" y="0" font-size="28" fill="#141414">****</text>
<text transform="translate(1294.75,1648.55) rotate(-90)" x="-21.80" y="0" font-size="28" fill="#141414">****</text>
<text transform="translate(1321.55,1646.10) rotate(-90)" x="-21.80" y="0" font-size="28" fill="#141414">****</text>
<text transform="translate(1352.35,1580.65) rotate(-90)" x="-21.80" y="0" font-size="28" fill="#141414">****</text>
<text transform="translate(1384.25,1545.85) rotate(-90)" x="-21.80" y="0" font-size="28" fill="#141414">****</text>
<line x1="1219.10" y1="1779.40" x2="1259.00" y2="1779.40" stroke="#141414" stroke-width="3"/>
<line x1="1276.30" y1="1779.40" x2="1316.40" y2="1779.40" stroke="#141414" stroke-width="3"/>
<line x1="1333.60" y1="1779.40" x2="1373.60" y2="1779.40" stroke="#141414" stroke-width="3"/>
<text transform="translate(1174.00,1798.60) rotate(-45)" x="-129.88" y="0" font-size="28" fill="#141414"><tspan font-style="normal">sg</tspan><tspan font-style="italic">IFNGR1</tspan></text>
<text transform="translate(1209.70,1798.60) rotate(-45)" x="-71.24" y="0" font-size="28" fill="#141414"><tspan font-style="normal">sgCtrl</tspan></text>
<text transform="translate(1249.60,1798.60) rotate(-45)" x="-117.46" y="0" font-size="28" fill="#141414"><tspan font-style="normal">sg</tspan><tspan font-style="italic">STUB1</tspan></text>
<text transform="translate(1308.20,1798.60) rotate(-45)" x="-100.35" y="0" font-size="28" fill="#141414"><tspan font-style="normal">sg</tspan><tspan font-style="italic">AUP1</tspan></text>
<text transform="translate(1369.30,1802.40) rotate(-45)" x="-111.11" y="0" font-size="28" fill="#141414"><tspan font-style="normal">sg</tspan><tspan font-style="italic">UROD</tspan></text>
<text transform="translate(1044.20,1656.00) rotate(-90)" x="-133.52" y="0" font-size="28" fill="#141414">Fold change IFNγ-R1</text>
<text transform="translate(1072.20,1655.40) rotate(-90)" x="-138.07" y="0" font-size="28" fill="#141414" textLength="276.7" lengthAdjust="spacingAndGlyphs">expression (normalized</text>
<text transform="translate(1099.80,1651.80) rotate(-90)" x="-56.13" y="0" font-size="28" fill="#141414">to sgCtrl)</text>
<text x="2.94" y="2036.50" font-size="28" fill="#141414" font-weight="bold">j</text>
<path d="M82.6 2140.4L84.7 2130.1L86.8 2100.1L89.0 2063.6L90.1 2036.2L92.2 2038.9L94.4 2063.6L96.5 2095.8L99.1 2121.5L102.9 2133.3L109.4 2138.2L139.4 2140.2Z" fill="#d9d9d9"/>
<path d="M82.6 2140.4L84.7 2130.1L86.8 2100.1L89.0 2063.6L90.1 2036.2L92.2 2038.9L94.4 2063.6L96.5 2095.8L99.1 2121.5L102.9 2133.3L109.4 2138.2L139.4 2140.2" fill="none" stroke="#a0a0a0" stroke-width="2.3" stroke-linejoin="round"/>
<rect x="82.00" y="2041.00" width="62.00" height="29.00" fill="#fff" opacity="0.72"/>
<text x="80.90" y="2063.60" font-size="28" fill="#141414">FMO</text>
<path d="M113.7 2250.6L120.1 2249.1L126.5 2247.0L130.8 2241.6L134.0 2237.3L137.2 2235.2L141.5 2224.4L144.7 2214.8L148.0 2207.3L151.2 2198.7L153.3 2185.8L155.5 2175.1L157.6 2173.0L160.8 2160.1L164.7 2148.3L166.8 2155.8L169.4 2155.4L171.6 2160.1L174.1 2168.7L176.3 2173.0L178.0 2170.8L182.3 2183.7L186.6 2192.3L188.7 2205.1L190.9 2213.7L194.1 2224.4L199.4 2237.3L205.9 2244.8L214.4 2249.1L220.9 2250.6Z" fill="#b1b8dc"/>
<path d="M113.7 2250.6L120.1 2249.1L126.5 2247.0L130.8 2241.6L134.0 2237.3L137.2 2235.2L141.5 2224.4L144.7 2214.8L148.0 2207.3L151.2 2198.7L153.3 2185.8L155.5 2175.1L157.6 2173.0L160.8 2160.1L164.7 2148.3L166.8 2155.8L169.4 2155.4L171.6 2160.1L174.1 2168.7L176.3 2173.0L178.0 2170.8L182.3 2183.7L186.6 2192.3L188.7 2205.1L190.9 2213.7L194.1 2224.4L199.4 2237.3L205.9 2244.8L214.4 2249.1L220.9 2250.6" fill="none" stroke="#2d3a9b" stroke-width="2.7" stroke-linejoin="round"/>
<text x="74.72" y="2171.90" font-size="28" fill="#141414">sgCtrl</text>
<path d="M137.2 2361.4L150.1 2361.0L163.0 2359.9L169.4 2357.2L175.8 2352.9L182.3 2343.2L185.5 2336.8L188.7 2328.2L191.9 2321.8L194.1 2313.2L196.2 2304.6L199.4 2293.9L201.6 2285.3L204.8 2272.5L208.0 2262.2L210.2 2268.2L211.9 2276.7L214.4 2270.3L216.6 2267.1L218.7 2273.5L220.9 2278.9L223.0 2287.5L225.2 2291.8L227.3 2302.5L229.5 2308.9L231.6 2310.0L233.3 2319.6L234.8 2326.1L237.0 2329.3L240.2 2330.4L242.3 2336.8L244.5 2341.1L247.7 2346.4L250.9 2351.8L257.3 2357.2L263.8 2359.9L276.6 2361.4Z" fill="#f7a9a1"/>
<path d="M137.2 2361.4L150.1 2361.0L163.0 2359.9L169.4 2357.2L175.8 2352.9L182.3 2343.2L185.5 2336.8L188.7 2328.2L191.9 2321.8L194.1 2313.2L196.2 2304.6L199.4 2293.9L201.6 2285.3L204.8 2272.5L208.0 2262.2L210.2 2268.2L211.9 2276.7L214.4 2270.3L216.6 2267.1L218.7 2273.5L220.9 2278.9L223.0 2287.5L225.2 2291.8L227.3 2302.5L229.5 2308.9L231.6 2310.0L233.3 2319.6L234.8 2326.1L237.0 2329.3L240.2 2330.4L242.3 2336.8L244.5 2341.1L247.7 2346.4L250.9 2351.8L257.3 2357.2L263.8 2359.9L276.6 2361.4" fill="none" stroke="#da1420" stroke-width="2.7" stroke-linejoin="round"/>
<text x="74.72" y="2282.10" font-size="28" fill="#141414">sg</text>
<text x="105.50" y="2282.10" font-size="28" fill="#141414" font-style="italic">STUB1</text>
<rect x="68.60" y="2029.70" width="208.70" height="332.80" fill="none" stroke="#0a0a0a" stroke-width="2.9"/>
<line x1="68.60" y1="2141.20" x2="277.30" y2="2141.20" stroke="#0a0a0a" stroke-width="2.9"/>
<line x1="68.60" y1="2252.00" x2="277.30" y2="2252.00" stroke="#0a0a0a" stroke-width="2.9"/>
<line x1="163.20" y1="2362.50" x2="163.20" y2="2373.00" stroke="#141414" stroke-width="2.3"/>
<line x1="243.00" y1="2362.50" x2="243.00" y2="2373.00" stroke="#141414" stroke-width="2.3"/>
<line x1="74.20" y1="2362.50" x2="74.20" y2="2372.70" stroke="#141414" stroke-width="2.2"/>
<line x1="103.20" y1="2362.50" x2="103.20" y2="2372.70" stroke="#141414" stroke-width="2.2"/>
<rect x="85.50" y="2363.00" width="5.20" height="9.70" fill="#141414"/>
<line x1="80.50" y1="2362.50" x2="80.50" y2="2368.00" stroke="#141414" stroke-width="2.0"/>
<line x1="95.30" y1="2362.50" x2="95.30" y2="2368.00" stroke="#141414" stroke-width="2.0"/>
<line x1="100.30" y1="2362.50" x2="100.30" y2="2370.00" stroke="#141414" stroke-width="2.0"/>
<line x1="140.10" y1="2362.50" x2="140.10" y2="2370.60" stroke="#141414" stroke-width="2.1"/>
<line x1="219.50" y1="2362.50" x2="219.50" y2="2370.60" stroke="#141414" stroke-width="2.1"/>
<line x1="114.20" y1="2362.50" x2="114.20" y2="2367.60" stroke="#141414" stroke-width="2.0"/>
<line x1="124.90" y1="2362.50" x2="124.90" y2="2367.60" stroke="#141414" stroke-width="2.0"/>
<line x1="132.30" y1="2362.50" x2="132.30" y2="2367.60" stroke="#141414" stroke-width="2.0"/>
<line x1="144.70" y1="2362.50" x2="144.70" y2="2367.60" stroke="#141414" stroke-width="2.0"/>
<line x1="148.80" y1="2362.50" x2="148.80" y2="2367.60" stroke="#141414" stroke-width="2.0"/>
<line x1="152.10" y1="2362.50" x2="152.10" y2="2367.60" stroke="#141414" stroke-width="2.0"/>
<line x1="155.00" y1="2362.50" x2="155.00" y2="2367.60" stroke="#141414" stroke-width="2.0"/>
<line x1="158.60" y1="2362.50" x2="158.60" y2="2367.60" stroke="#141414" stroke-width="2.0"/>
<line x1="188.20" y1="2362.50" x2="188.20" y2="2367.60" stroke="#141414" stroke-width="2.0"/>
<line x1="203.80" y1="2362.50" x2="203.80" y2="2367.60" stroke="#141414" stroke-width="2.0"/>
<line x1="213.70" y1="2362.50" x2="213.70" y2="2367.60" stroke="#141414" stroke-width="2.0"/>
<line x1="224.40" y1="2362.50" x2="224.40" y2="2367.60" stroke="#141414" stroke-width="2.0"/>
<line x1="228.50" y1="2362.50" x2="228.50" y2="2367.60" stroke="#141414" stroke-width="2.0"/>
<line x1="231.80" y1="2362.50" x2="231.80" y2="2367.60" stroke="#141414" stroke-width="2.0"/>
<line x1="235.10" y1="2362.50" x2="235.10" y2="2367.60" stroke="#141414" stroke-width="2.0"/>
<line x1="238.40" y1="2362.50" x2="238.40" y2="2367.60" stroke="#141414" stroke-width="2.0"/>
<line x1="266.30" y1="2362.50" x2="266.30" y2="2367.60" stroke="#141414" stroke-width="2.0"/>
<text x="84.31" y="2397.30" font-size="28" fill="#141414">0</text>
<text x="152.37" y="2397.30" font-size="28" fill="#141414">10</text>
<text x="182.21" y="2388.60" font-size="17" fill="#141414">4</text>
<text x="232.17" y="2397.30" font-size="28" fill="#141414">10</text>
<text x="262.92" y="2388.60" font-size="17" fill="#141414">5</text>
<line x1="40.70" y1="2341.00" x2="40.70" y2="2416.40" stroke="#141414" stroke-width="2.5"/>
<polygon points="40.7,2334.6 46.9,2342.6 34.5,2342.6" fill="#141414"/>
<line x1="39.50" y1="2415.20" x2="117.00" y2="2415.20" stroke="#141414" stroke-width="2.5"/>
<polygon points="124.1,2415.2 116.1,2421.4 116.1,2409.0" fill="#141414"/>
<text transform="translate(25.30,2331.20) rotate(-90)" x="-67.27" y="0" font-size="28" fill="#141414">Frequency</text>
<text x="62.82" y="2446.60" font-size="28" fill="#141414">IFNγ-R1-APC</text>
<text x="461.04" y="2033.90" font-size="28" fill="#141414" font-weight="bold">k</text>
<rect x="595.80" y="2295.82" width="19.60" height="58.78" fill="#2b4e9e"/>
<rect x="615.40" y="2124.93" width="19.60" height="229.67" fill="#e42a12"/>
<circle cx="601.80" cy="2293.79" r="6.6" fill="#5b5a5a"/>
<circle cx="605.60" cy="2294.41" r="6.6" fill="#5b5a5a"/>
<circle cx="609.40" cy="2294.06" r="6.6" fill="#5b5a5a"/>
<circle cx="622.70" cy="2125.93" r="6.4" fill="#5b5a5a"/>
<circle cx="626.70" cy="2119.93" r="6.4" fill="#5b5a5a"/>
<circle cx="628.70" cy="2118.93" r="6.4" fill="#5b5a5a"/>
<rect x="644.50" y="2295.82" width="19.60" height="58.78" fill="#2b4e9e"/>
<rect x="664.10" y="2192.80" width="19.60" height="161.80" fill="#e42a12"/>
<circle cx="650.50" cy="2294.53" r="6.6" fill="#5b5a5a"/>
<circle cx="654.30" cy="2294.57" r="6.6" fill="#5b5a5a"/>
<circle cx="658.10" cy="2293.45" r="6.6" fill="#5b5a5a"/>
<circle cx="671.40" cy="2191.80" r="6.4" fill="#5b5a5a"/>
<circle cx="675.40" cy="2187.80" r="6.4" fill="#5b5a5a"/>
<circle cx="678.10" cy="2189.30" r="6.4" fill="#5b5a5a"/>
<rect x="693.00" y="2295.82" width="19.60" height="58.78" fill="#2b4e9e"/>
<rect x="712.60" y="2220.07" width="19.60" height="134.53" fill="#e42a12"/>
<circle cx="699.00" cy="2293.34" r="6.6" fill="#5b5a5a"/>
<circle cx="702.80" cy="2294.99" r="6.6" fill="#5b5a5a"/>
<circle cx="706.60" cy="2293.84" r="6.6" fill="#5b5a5a"/>
<circle cx="719.90" cy="2219.07" r="6.4" fill="#5b5a5a"/>
<circle cx="723.90" cy="2215.07" r="6.4" fill="#5b5a5a"/>
<circle cx="726.60" cy="2216.57" r="6.4" fill="#5b5a5a"/>
<rect x="741.70" y="2295.82" width="19.60" height="58.78" fill="#2b4e9e"/>
<rect x="761.30" y="2254.61" width="19.60" height="99.99" fill="#e42a12"/>
<circle cx="747.70" cy="2293.79" r="6.6" fill="#5b5a5a"/>
<circle cx="751.50" cy="2295.31" r="6.6" fill="#5b5a5a"/>
<circle cx="755.30" cy="2294.26" r="6.6" fill="#5b5a5a"/>
<circle cx="768.60" cy="2253.61" r="6.4" fill="#5b5a5a"/>
<circle cx="772.60" cy="2249.61" r="6.4" fill="#5b5a5a"/>
<circle cx="775.30" cy="2251.11" r="6.4" fill="#5b5a5a"/>
<rect x="790.00" y="2295.82" width="19.60" height="58.78" fill="#2b4e9e"/>
<rect x="809.60" y="2199.46" width="19.60" height="155.14" fill="#e42a12"/>
<circle cx="796.00" cy="2294.99" r="6.6" fill="#5b5a5a"/>
<circle cx="799.80" cy="2294.27" r="6.6" fill="#5b5a5a"/>
<circle cx="803.60" cy="2294.60" r="6.6" fill="#5b5a5a"/>
<circle cx="816.40" cy="2199.96" r="6.4" fill="#5b5a5a"/>
<circle cx="822.40" cy="2197.96" r="6.4" fill="#5b5a5a"/>
<circle cx="821.40" cy="2186.96" r="6.4" fill="#5b5a5a"/>
<rect x="838.50" y="2295.82" width="19.60" height="58.78" fill="#2b4e9e"/>
<rect x="858.10" y="2206.74" width="19.60" height="147.86" fill="#e42a12"/>
<circle cx="844.50" cy="2293.62" r="6.6" fill="#5b5a5a"/>
<circle cx="848.30" cy="2294.59" r="6.6" fill="#5b5a5a"/>
<circle cx="852.10" cy="2295.05" r="6.6" fill="#5b5a5a"/>
<circle cx="865.40" cy="2205.74" r="6.4" fill="#5b5a5a"/>
<circle cx="869.40" cy="2201.74" r="6.4" fill="#5b5a5a"/>
<circle cx="872.10" cy="2203.24" r="6.4" fill="#5b5a5a"/>
<rect x="887.00" y="2295.82" width="19.60" height="58.78" fill="#2b4e9e"/>
<rect x="906.60" y="2218.86" width="19.60" height="135.74" fill="#e42a12"/>
<circle cx="893.00" cy="2294.36" r="6.6" fill="#5b5a5a"/>
<circle cx="896.80" cy="2294.80" r="6.6" fill="#5b5a5a"/>
<circle cx="900.60" cy="2294.66" r="6.6" fill="#5b5a5a"/>
<circle cx="913.90" cy="2217.86" r="6.4" fill="#5b5a5a"/>
<circle cx="917.90" cy="2213.86" r="6.4" fill="#5b5a5a"/>
<circle cx="920.60" cy="2215.36" r="6.4" fill="#5b5a5a"/>
<rect x="935.40" y="2295.82" width="19.60" height="58.78" fill="#2b4e9e"/>
<rect x="955.00" y="2259.46" width="19.60" height="95.14" fill="#e42a12"/>
<circle cx="941.40" cy="2293.45" r="6.6" fill="#5b5a5a"/>
<circle cx="945.20" cy="2294.83" r="6.6" fill="#5b5a5a"/>
<circle cx="949.00" cy="2294.50" r="6.6" fill="#5b5a5a"/>
<circle cx="962.30" cy="2260.46" r="6.4" fill="#5b5a5a"/>
<circle cx="966.30" cy="2254.46" r="6.4" fill="#5b5a5a"/>
<circle cx="968.30" cy="2253.46" r="6.4" fill="#5b5a5a"/>
<rect x="983.30" y="2295.82" width="19.60" height="58.78" fill="#2b4e9e"/>
<rect x="1002.90" y="2204.31" width="19.60" height="150.29" fill="#e42a12"/>
<circle cx="989.30" cy="2293.92" r="6.6" fill="#5b5a5a"/>
<circle cx="993.10" cy="2293.38" r="6.6" fill="#5b5a5a"/>
<circle cx="996.90" cy="2295.05" r="6.6" fill="#5b5a5a"/>
<circle cx="1010.20" cy="2203.31" r="6.4" fill="#5b5a5a"/>
<circle cx="1014.20" cy="2199.31" r="6.4" fill="#5b5a5a"/>
<circle cx="1016.90" cy="2200.81" r="6.4" fill="#5b5a5a"/>
<rect x="1032.00" y="2295.82" width="19.60" height="58.78" fill="#2b4e9e"/>
<rect x="1051.60" y="2223.10" width="19.60" height="131.50" fill="#e42a12"/>
<circle cx="1038.00" cy="2294.26" r="6.6" fill="#5b5a5a"/>
<circle cx="1041.80" cy="2294.76" r="6.6" fill="#5b5a5a"/>
<circle cx="1045.60" cy="2295.08" r="6.6" fill="#5b5a5a"/>
<circle cx="1058.90" cy="2224.10" r="6.4" fill="#5b5a5a"/>
<circle cx="1062.90" cy="2218.10" r="6.4" fill="#5b5a5a"/>
<circle cx="1064.90" cy="2217.10" r="6.4" fill="#5b5a5a"/>
<rect x="1080.20" y="2295.82" width="19.60" height="58.78" fill="#2b4e9e"/>
<rect x="1099.80" y="2197.65" width="19.60" height="156.95" fill="#e42a12"/>
<circle cx="1086.20" cy="2294.75" r="6.6" fill="#5b5a5a"/>
<circle cx="1090.00" cy="2295.16" r="6.6" fill="#5b5a5a"/>
<circle cx="1093.80" cy="2294.11" r="6.6" fill="#5b5a5a"/>
<circle cx="1107.10" cy="2196.65" r="6.4" fill="#5b5a5a"/>
<circle cx="1111.10" cy="2192.65" r="6.4" fill="#5b5a5a"/>
<circle cx="1113.80" cy="2194.15" r="6.4" fill="#5b5a5a"/>
<rect x="1128.90" y="2295.82" width="19.60" height="58.78" fill="#2b4e9e"/>
<rect x="1148.50" y="2192.19" width="19.60" height="162.41" fill="#e42a12"/>
<circle cx="1134.90" cy="2294.92" r="6.6" fill="#5b5a5a"/>
<circle cx="1138.70" cy="2294.21" r="6.6" fill="#5b5a5a"/>
<circle cx="1142.50" cy="2295.19" r="6.6" fill="#5b5a5a"/>
<circle cx="1155.80" cy="2191.19" r="6.4" fill="#5b5a5a"/>
<circle cx="1159.80" cy="2187.19" r="6.4" fill="#5b5a5a"/>
<circle cx="1162.50" cy="2188.69" r="6.4" fill="#5b5a5a"/>
<rect x="1176.80" y="2295.82" width="19.60" height="58.78" fill="#2b4e9e"/>
<rect x="1196.40" y="2157.04" width="19.60" height="197.56" fill="#e42a12"/>
<circle cx="1182.80" cy="2295.08" r="6.6" fill="#5b5a5a"/>
<circle cx="1186.60" cy="2293.51" r="6.6" fill="#5b5a5a"/>
<circle cx="1190.40" cy="2293.59" r="6.6" fill="#5b5a5a"/>
<circle cx="1203.70" cy="2158.04" r="6.4" fill="#5b5a5a"/>
<circle cx="1207.70" cy="2152.04" r="6.4" fill="#5b5a5a"/>
<circle cx="1209.70" cy="2151.04" r="6.4" fill="#5b5a5a"/>
<text x="602.80" y="2113.45" font-size="28" fill="#141414">****</text>
<text x="651.20" y="2180.35" font-size="28" fill="#141414">****</text>
<text x="701.60" y="2209.55" font-size="28" fill="#141414">****</text>
<text x="748.20" y="2243.85" font-size="28" fill="#141414">****</text>
<text x="798.00" y="2185.15" font-size="28" fill="#141414">****</text>
<text x="847.70" y="2194.05" font-size="28" fill="#141414">****</text>
<text x="894.00" y="2208.45" font-size="28" fill="#141414">****</text>
<text x="941.00" y="2249.15" font-size="28" fill="#141414">****</text>
<text x="989.90" y="2197.15" font-size="28" fill="#141414">****</text>
<text x="1037.90" y="2212.55" font-size="28" fill="#141414">****</text>
<text x="1085.80" y="2186.85" font-size="28" fill="#141414">****</text>
<text x="1134.40" y="2183.35" font-size="28" fill="#141414">****</text>
<text x="1182.00" y="2144.05" font-size="28" fill="#141414">****</text>
<line x1="582.00" y1="2110.50" x2="582.00" y2="2356.00" stroke="#141414" stroke-width="2.8"/>
<line x1="575.20" y1="2354.60" x2="1229.80" y2="2354.60" stroke="#141414" stroke-width="3"/>
<line x1="575.20" y1="2354.60" x2="582.00" y2="2354.60" stroke="#141414" stroke-width="2.6"/>
<text x="557.02" y="2364.60" font-size="28" fill="#141414">0</text>
<line x1="575.20" y1="2294.00" x2="582.00" y2="2294.00" stroke="#141414" stroke-width="2.6"/>
<text x="557.29" y="2304.00" font-size="28" fill="#141414">1</text>
<line x1="575.20" y1="2233.40" x2="582.00" y2="2233.40" stroke="#141414" stroke-width="2.6"/>
<text x="557.34" y="2243.40" font-size="28" fill="#141414">2</text>
<line x1="575.20" y1="2172.80" x2="582.00" y2="2172.80" stroke="#141414" stroke-width="2.6"/>
<text x="557.16" y="2182.80" font-size="28" fill="#141414">3</text>
<line x1="575.20" y1="2112.20" x2="582.00" y2="2112.20" stroke="#141414" stroke-width="2.6"/>
<text x="556.75" y="2122.20" font-size="28" fill="#141414">4</text>
<line x1="597.50" y1="2081.00" x2="971.30" y2="2081.00" stroke="#141414" stroke-width="2.4"/>
<line x1="983.30" y1="2081.00" x2="1022.00" y2="2081.00" stroke="#141414" stroke-width="2.4"/>
<line x1="1032.30" y1="2081.00" x2="1070.60" y2="2081.00" stroke="#141414" stroke-width="2.4"/>
<line x1="1080.20" y1="2081.00" x2="1118.60" y2="2081.00" stroke="#141414" stroke-width="2.4"/>
<line x1="1128.20" y1="2081.00" x2="1167.20" y2="2081.00" stroke="#141414" stroke-width="2.4"/>
<line x1="1176.80" y1="2081.00" x2="1215.10" y2="2081.00" stroke="#141414" stroke-width="2.4"/>
<text transform="translate(794.30,2075.10) rotate(-45)" x="-1.27" y="0" font-size="28" fill="#141414">SKCM</text>
<text transform="translate(1004.30,2073.40) rotate(-45)" x="-2.30" y="0" font-size="28" fill="#141414">NSCLC</text>
<text transform="translate(1050.70,2072.50) rotate(-45)" x="-2.30" y="0" font-size="28" fill="#141414">LUAD</text>
<text transform="translate(1095.00,2073.40) rotate(-45)" x="-1.42" y="0" font-size="28" fill="#141414">COAD</text>
<text transform="translate(1147.10,2073.20) rotate(-45)" x="-0.63" y="0" font-size="28" fill="#141414">THCA</text>
<text transform="translate(1198.30,2073.40) rotate(-45)" x="-2.30" y="0" font-size="28" fill="#141414">LCML</text>
<text transform="translate(628.40,2376.30) rotate(-45)" x="-50.27" y="0" font-size="28" fill="#141414">D10</text>
<text transform="translate(682.10,2376.30) rotate(-45)" x="-143.49" y="0" font-size="28" fill="#141414">SK-MEL-23</text>
<text transform="translate(727.10,2376.30) rotate(-45)" x="-64.22" y="0" font-size="28" fill="#141414">A375</text>
<text transform="translate(778.30,2376.30) rotate(-45)" x="-143.50" y="0" font-size="28" fill="#141414">SK-MEL-28</text>
<text transform="translate(823.60,2376.30) rotate(-45)" x="-55.28" y="0" font-size="28" fill="#141414">BLM</text>
<text transform="translate(871.10,2376.30) rotate(-45)" x="-76.00" y="0" font-size="28" fill="#141414">451Lu</text>
<text transform="translate(924.60,2376.30) rotate(-45)" x="-158.88" y="0" font-size="28" fill="#141414">SK-MEL-147</text>
<text transform="translate(969.50,2376.30) rotate(-45)" x="-84.27" y="0" font-size="28" fill="#141414">A101D</text>
<text transform="translate(1019.40,2376.30) rotate(-45)" x="-145.56" y="0" font-size="28" fill="#141414">LCLC-103H</text>
<text transform="translate(1070.60,2376.30) rotate(-45)" x="-131.04" y="0" font-size="28" fill="#141414">HCC-4006</text>
<text transform="translate(1114.30,2376.30) rotate(-45)" x="-59.34" y="0" font-size="28" fill="#141414">RKO</text>
<text transform="translate(1164.50,2376.30) rotate(-45)" x="-81.44" y="0" font-size="28" fill="#141414">8505C</text>
<text transform="translate(1209.40,2376.30) rotate(-45)" x="-71.78" y="0" font-size="28" fill="#141414">HAP1</text>
<rect x="1235.00" y="2090.00" width="37.70" height="19.80" fill="#434ea0"/>
<text x="1277.02" y="2106.40" font-size="28" fill="#141414">sgCtrl</text>
<rect x="1235.00" y="2122.50" width="37.70" height="19.90" fill="#e42a12"/>
<text x="1277.02" y="2139.60" font-size="28" fill="#141414">sg</text>
<text x="1307.80" y="2139.60" font-size="28" fill="#141414" font-style="italic">STUB1</text>
<text transform="translate(484.80,2237.30) rotate(-90)" x="-130.85" y="0" font-size="28" fill="#141414" textLength="260.8" lengthAdjust="spacingAndGlyphs">Fold change IFNγ-R1</text>
<text transform="translate(513.40,2233.20) rotate(-90)" x="-65.03" y="0" font-size="28" fill="#141414" textLength="130.7" lengthAdjust="spacingAndGlyphs">expression</text>
<text transform="translate(542.00,2231.90) rotate(-90)" x="-128.46" y="0" font-size="28" fill="#141414" textLength="256.9" lengthAdjust="spacingAndGlyphs">(normalized to sgCtrl)</text>
</svg></body></html>
